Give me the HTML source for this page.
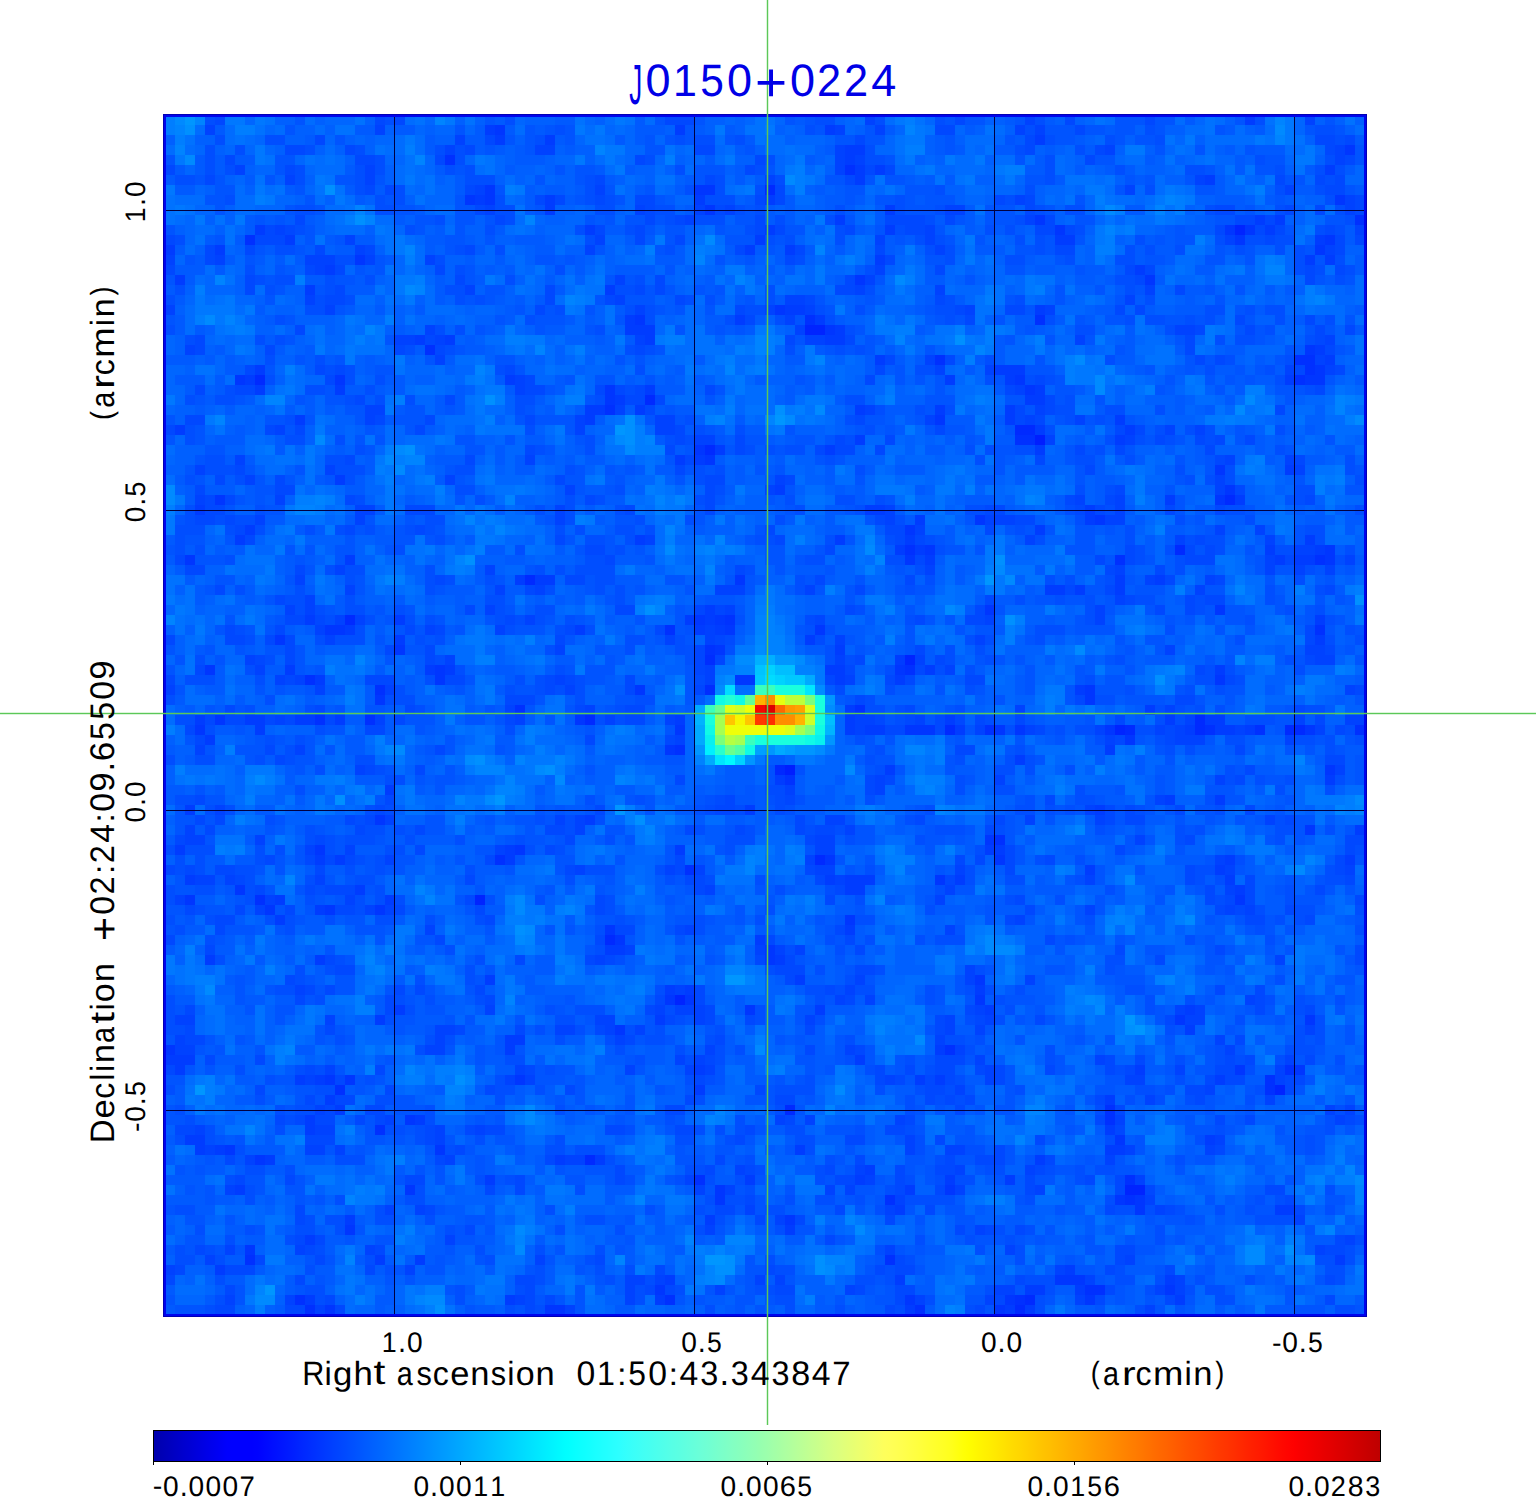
<!DOCTYPE html>
<html><head><meta charset="utf-8"><style>
html,body{margin:0;padding:0;background:#fff;width:1536px;height:1500px;overflow:hidden}
svg{position:absolute;left:0;top:0;display:block}
text{font-family:"Liberation Sans",sans-serif;white-space:pre}
</style></head><body>
<svg width="1536" height="1500" viewBox="0 0 1536 1500" shape-rendering="crispEdges">
<defs><linearGradient id="jet" x1="0" x2="1" y1="0" y2="0"><stop offset="0.000" stop-color="#0000ad"/><stop offset="0.005" stop-color="#0000b3"/><stop offset="0.010" stop-color="#0000ba"/><stop offset="0.015" stop-color="#0000c1"/><stop offset="0.020" stop-color="#0000c8"/><stop offset="0.025" stop-color="#0000cf"/><stop offset="0.030" stop-color="#0000d5"/><stop offset="0.035" stop-color="#0000dc"/><stop offset="0.040" stop-color="#0000e3"/><stop offset="0.045" stop-color="#0000ea"/><stop offset="0.050" stop-color="#0000f0"/><stop offset="0.055" stop-color="#0000f7"/><stop offset="0.060" stop-color="#0000fe"/><stop offset="0.065" stop-color="#0000ff"/><stop offset="0.070" stop-color="#0000ff"/><stop offset="0.075" stop-color="#0000ff"/><stop offset="0.080" stop-color="#0000ff"/><stop offset="0.085" stop-color="#0002ff"/><stop offset="0.090" stop-color="#0007ff"/><stop offset="0.095" stop-color="#000cff"/><stop offset="0.100" stop-color="#0011ff"/><stop offset="0.105" stop-color="#0016ff"/><stop offset="0.110" stop-color="#001bff"/><stop offset="0.115" stop-color="#0020ff"/><stop offset="0.120" stop-color="#0026ff"/><stop offset="0.125" stop-color="#002bff"/><stop offset="0.130" stop-color="#0030ff"/><stop offset="0.135" stop-color="#0035ff"/><stop offset="0.140" stop-color="#003aff"/><stop offset="0.145" stop-color="#003fff"/><stop offset="0.150" stop-color="#0044ff"/><stop offset="0.155" stop-color="#0049ff"/><stop offset="0.160" stop-color="#004eff"/><stop offset="0.165" stop-color="#0053ff"/><stop offset="0.170" stop-color="#0058ff"/><stop offset="0.175" stop-color="#005dff"/><stop offset="0.180" stop-color="#0062ff"/><stop offset="0.185" stop-color="#0067ff"/><stop offset="0.190" stop-color="#006cff"/><stop offset="0.195" stop-color="#0071ff"/><stop offset="0.200" stop-color="#0076ff"/><stop offset="0.205" stop-color="#007bff"/><stop offset="0.210" stop-color="#0080ff"/><stop offset="0.215" stop-color="#0085ff"/><stop offset="0.220" stop-color="#008aff"/><stop offset="0.225" stop-color="#008fff"/><stop offset="0.230" stop-color="#0094ff"/><stop offset="0.235" stop-color="#0099ff"/><stop offset="0.240" stop-color="#009eff"/><stop offset="0.245" stop-color="#00a3ff"/><stop offset="0.250" stop-color="#00a8ff"/><stop offset="0.255" stop-color="#00adff"/><stop offset="0.260" stop-color="#00b2ff"/><stop offset="0.265" stop-color="#00b7ff"/><stop offset="0.270" stop-color="#00bcff"/><stop offset="0.275" stop-color="#00c1ff"/><stop offset="0.280" stop-color="#00c6ff"/><stop offset="0.285" stop-color="#00cbff"/><stop offset="0.290" stop-color="#00d0ff"/><stop offset="0.295" stop-color="#00d5ff"/><stop offset="0.300" stop-color="#00daff"/><stop offset="0.305" stop-color="#00dfff"/><stop offset="0.310" stop-color="#00e4ff"/><stop offset="0.315" stop-color="#00e9ff"/><stop offset="0.320" stop-color="#00eeff"/><stop offset="0.325" stop-color="#00f3ff"/><stop offset="0.330" stop-color="#00f8ff"/><stop offset="0.335" stop-color="#00fdff"/><stop offset="0.340" stop-color="#03ffff"/><stop offset="0.345" stop-color="#09ffff"/><stop offset="0.350" stop-color="#0effff"/><stop offset="0.355" stop-color="#13ffff"/><stop offset="0.360" stop-color="#19ffff"/><stop offset="0.365" stop-color="#1effff"/><stop offset="0.370" stop-color="#23ffff"/><stop offset="0.375" stop-color="#29ffff"/><stop offset="0.380" stop-color="#2effff"/><stop offset="0.385" stop-color="#34fffc"/><stop offset="0.390" stop-color="#39fff9"/><stop offset="0.395" stop-color="#3efff6"/><stop offset="0.400" stop-color="#43fff3"/><stop offset="0.405" stop-color="#47fff0"/><stop offset="0.410" stop-color="#4cffed"/><stop offset="0.415" stop-color="#50ffea"/><stop offset="0.420" stop-color="#55ffe7"/><stop offset="0.425" stop-color="#59ffe4"/><stop offset="0.430" stop-color="#5dffe1"/><stop offset="0.435" stop-color="#62ffde"/><stop offset="0.440" stop-color="#66ffdb"/><stop offset="0.445" stop-color="#6bffd8"/><stop offset="0.450" stop-color="#6fffd4"/><stop offset="0.455" stop-color="#73ffd0"/><stop offset="0.460" stop-color="#78ffcc"/><stop offset="0.465" stop-color="#7cffc8"/><stop offset="0.470" stop-color="#81ffc4"/><stop offset="0.475" stop-color="#85ffc0"/><stop offset="0.480" stop-color="#89ffbc"/><stop offset="0.485" stop-color="#8effb8"/><stop offset="0.490" stop-color="#92ffb4"/><stop offset="0.495" stop-color="#97ffaf"/><stop offset="0.500" stop-color="#9cffac"/><stop offset="0.505" stop-color="#a2ffa8"/><stop offset="0.510" stop-color="#a7ffa4"/><stop offset="0.515" stop-color="#adffa1"/><stop offset="0.520" stop-color="#b2ff9d"/><stop offset="0.525" stop-color="#b8ff99"/><stop offset="0.530" stop-color="#bdff95"/><stop offset="0.535" stop-color="#c3ff91"/><stop offset="0.540" stop-color="#c8ff8d"/><stop offset="0.545" stop-color="#ceff89"/><stop offset="0.550" stop-color="#d4ff85"/><stop offset="0.555" stop-color="#d9ff81"/><stop offset="0.560" stop-color="#deff7d"/><stop offset="0.565" stop-color="#e3ff78"/><stop offset="0.570" stop-color="#e7ff73"/><stop offset="0.575" stop-color="#ecff6f"/><stop offset="0.580" stop-color="#f0ff6a"/><stop offset="0.585" stop-color="#f5ff66"/><stop offset="0.590" stop-color="#f9ff61"/><stop offset="0.595" stop-color="#feff5c"/><stop offset="0.600" stop-color="#ffff58"/><stop offset="0.605" stop-color="#ffff53"/><stop offset="0.610" stop-color="#ffff4e"/><stop offset="0.615" stop-color="#ffff48"/><stop offset="0.620" stop-color="#ffff42"/><stop offset="0.625" stop-color="#ffff3c"/><stop offset="0.630" stop-color="#ffff35"/><stop offset="0.635" stop-color="#ffff2f"/><stop offset="0.640" stop-color="#ffff29"/><stop offset="0.645" stop-color="#ffff23"/><stop offset="0.650" stop-color="#ffff1c"/><stop offset="0.655" stop-color="#ffff11"/><stop offset="0.660" stop-color="#ffff06"/><stop offset="0.665" stop-color="#fffd00"/><stop offset="0.670" stop-color="#fff800"/><stop offset="0.675" stop-color="#fff300"/><stop offset="0.680" stop-color="#ffef00"/><stop offset="0.685" stop-color="#ffea00"/><stop offset="0.690" stop-color="#ffe500"/><stop offset="0.695" stop-color="#ffe000"/><stop offset="0.700" stop-color="#ffdb00"/><stop offset="0.705" stop-color="#ffd700"/><stop offset="0.710" stop-color="#ffd200"/><stop offset="0.715" stop-color="#ffcd00"/><stop offset="0.720" stop-color="#ffc800"/><stop offset="0.725" stop-color="#ffc300"/><stop offset="0.730" stop-color="#ffbf00"/><stop offset="0.735" stop-color="#ffba00"/><stop offset="0.740" stop-color="#ffb500"/><stop offset="0.745" stop-color="#ffb000"/><stop offset="0.750" stop-color="#ffab00"/><stop offset="0.755" stop-color="#ffa700"/><stop offset="0.760" stop-color="#ffa200"/><stop offset="0.765" stop-color="#ff9d00"/><stop offset="0.770" stop-color="#ff9800"/><stop offset="0.775" stop-color="#ff9400"/><stop offset="0.780" stop-color="#ff8f00"/><stop offset="0.785" stop-color="#ff8a00"/><stop offset="0.790" stop-color="#ff8500"/><stop offset="0.795" stop-color="#ff8000"/><stop offset="0.800" stop-color="#ff7c00"/><stop offset="0.805" stop-color="#ff7700"/><stop offset="0.810" stop-color="#ff7200"/><stop offset="0.815" stop-color="#ff6d00"/><stop offset="0.820" stop-color="#ff6800"/><stop offset="0.825" stop-color="#ff6400"/><stop offset="0.830" stop-color="#ff5f00"/><stop offset="0.835" stop-color="#ff5a00"/><stop offset="0.840" stop-color="#ff5500"/><stop offset="0.845" stop-color="#ff5000"/><stop offset="0.850" stop-color="#ff4c00"/><stop offset="0.855" stop-color="#ff4700"/><stop offset="0.860" stop-color="#ff4200"/><stop offset="0.865" stop-color="#ff3d00"/><stop offset="0.870" stop-color="#ff3800"/><stop offset="0.875" stop-color="#ff3400"/><stop offset="0.880" stop-color="#ff2f00"/><stop offset="0.885" stop-color="#ff2a00"/><stop offset="0.890" stop-color="#ff2500"/><stop offset="0.895" stop-color="#ff2000"/><stop offset="0.900" stop-color="#ff1c00"/><stop offset="0.905" stop-color="#ff1700"/><stop offset="0.910" stop-color="#ff1200"/><stop offset="0.915" stop-color="#ff0d00"/><stop offset="0.920" stop-color="#ff0800"/><stop offset="0.925" stop-color="#ff0400"/><stop offset="0.930" stop-color="#fe0000"/><stop offset="0.935" stop-color="#f90000"/><stop offset="0.940" stop-color="#f50000"/><stop offset="0.945" stop-color="#f00000"/><stop offset="0.950" stop-color="#ec0000"/><stop offset="0.955" stop-color="#e70000"/><stop offset="0.960" stop-color="#e30000"/><stop offset="0.965" stop-color="#de0000"/><stop offset="0.970" stop-color="#da0000"/><stop offset="0.975" stop-color="#d50000"/><stop offset="0.980" stop-color="#d00000"/><stop offset="0.985" stop-color="#cc0000"/><stop offset="0.990" stop-color="#c70000"/><stop offset="0.995" stop-color="#c30000"/><stop offset="1.000" stop-color="#be0000"/></linearGradient></defs>
<g>
<path fill="#007eff" d="M165 115h10v10h-10zM905 115h10v10h-10zM165 125h10v10h-10zM235 125h20v10h-20zM175 135h10v10h-10zM405 145h10v10h-10zM905 145h20v10h-20zM665 155h10v10h-10zM795 165h10v10h-10zM1005 165h20v10h-20zM795 175h10v10h-10zM505 185h10v10h-10zM795 185h10v10h-10zM1255 185h10v10h-10zM255 195h10v10h-10zM1095 195h10v10h-10zM1175 195h10v10h-10zM1115 205h10v10h-10zM1175 205h10v10h-10zM345 215h10v10h-10zM1125 225h10v10h-10zM1105 235h10v10h-10zM1195 235h10v10h-10zM645 245h10v10h-10zM695 245h10v10h-10zM1095 245h20v10h-20zM405 255h10v10h-10zM845 255h10v10h-10zM1265 255h10v10h-10zM295 275h10v10h-10zM415 275h10v10h-10zM905 275h10v10h-10zM195 285h10v10h-10zM1035 285h10v10h-10zM1305 285h10v10h-10zM575 295h10v10h-10zM985 295h10v10h-10zM1305 295h10v10h-10zM195 315h10v10h-10zM385 315h10v10h-10zM875 315h10v10h-10zM235 325h10v10h-10zM895 325h20v10h-20zM955 325h10v10h-10zM985 325h10v10h-10zM355 335h10v10h-10zM505 335h20v10h-20zM665 335h20v10h-20zM765 335h10v10h-10zM985 335h10v10h-10zM1035 335h10v10h-10zM575 345h10v10h-10zM735 345h10v10h-10zM765 345h10v10h-10zM725 355h10v10h-10zM965 355h10v10h-10zM1065 355h10v10h-10zM285 365h10v10h-10zM755 365h10v10h-10zM1065 365h10v10h-10zM1105 365h10v10h-10zM475 375h10v10h-10zM1065 375h10v10h-10zM1115 375h10v10h-10zM1145 385h10v10h-10zM1245 385h20v10h-20zM395 395h10v10h-10zM495 395h10v10h-10zM565 395h20v10h-20zM885 395h10v10h-10zM975 395h10v10h-10zM1345 395h10v10h-10zM725 405h10v10h-10zM795 405h10v10h-10zM1265 405h10v10h-10zM485 415h10v10h-10zM705 415h10v10h-10zM1225 415h10v10h-10zM1345 415h10v10h-10zM635 425h10v10h-10zM635 435h10v10h-10zM385 445h10v10h-10zM635 445h30v10h-30zM395 455h10v10h-10zM1255 455h10v10h-10zM375 465h10v10h-10zM1245 465h10v10h-10zM385 475h10v10h-10zM425 475h10v10h-10zM1315 475h10v10h-10zM1335 475h10v10h-10zM435 485h10v10h-10zM645 485h10v10h-10zM965 485h10v10h-10zM1315 485h10v10h-10zM295 495h20v10h-20zM325 495h10v10h-10zM905 495h10v10h-10zM1035 495h10v10h-10zM1135 495h10v10h-10zM165 505h10v10h-10zM315 505h10v10h-10zM655 505h10v10h-10zM485 515h10v10h-10zM575 515h10v10h-10zM475 525h10v10h-10zM1155 525h10v10h-10zM665 535h10v10h-10zM795 535h10v10h-10zM475 545h10v10h-10zM695 545h10v10h-10zM725 545h10v10h-10zM455 565h10v10h-10zM865 565h10v10h-10zM985 565h10v10h-10zM395 575h10v10h-10zM825 585h10v10h-10zM1175 585h10v10h-10zM1295 585h10v10h-10zM1355 585h10v10h-10zM655 595h10v10h-10zM635 605h10v10h-10zM885 605h10v10h-10zM955 605h10v10h-10zM1015 615h10v10h-10zM1005 625h10v10h-10zM1135 625h10v10h-10zM525 635h10v10h-10zM885 635h10v10h-10zM1005 635h10v10h-10zM475 655h20v10h-20zM1255 655h20v10h-20zM325 665h10v10h-10zM1165 665h10v10h-10zM1335 665h10v10h-10zM865 685h10v10h-10zM1155 685h10v10h-10zM1295 685h10v10h-10zM345 695h10v10h-10zM1045 695h10v10h-10zM1045 705h10v10h-10zM165 725h10v10h-10zM525 725h10v10h-10zM615 725h10v10h-10zM375 735h10v10h-10zM525 735h10v10h-10zM225 745h10v10h-10zM535 745h10v10h-10zM935 745h10v10h-10zM1135 745h10v10h-10zM485 755h10v10h-10zM935 755h10v10h-10zM175 765h10v10h-10zM555 765h10v10h-10zM1095 765h10v10h-10zM245 775h10v10h-10zM265 775h10v10h-10zM335 775h10v10h-10zM625 775h10v10h-10zM925 775h20v10h-20zM355 785h10v10h-10zM515 785h10v10h-10zM915 785h10v10h-10zM1055 785h10v10h-10zM245 795h10v10h-10zM365 795h10v10h-10zM505 795h10v10h-10zM1345 795h10v10h-10zM495 805h10v10h-10zM625 805h10v10h-10zM865 805h10v10h-10zM945 805h10v10h-10zM1345 805h10v10h-10zM235 815h10v10h-10zM455 815h10v10h-10zM625 815h10v10h-10zM665 815h10v10h-10zM645 835h10v10h-10zM1225 835h10v10h-10zM215 845h10v10h-10zM235 845h10v10h-10zM755 845h10v10h-10zM785 845h10v10h-10zM945 845h10v10h-10zM1155 845h10v10h-10zM755 855h10v10h-10zM795 855h10v10h-10zM885 855h30v10h-30zM1055 865h10v10h-10zM1285 865h10v10h-10zM635 885h10v10h-10zM505 895h10v10h-10zM805 895h10v10h-10zM555 905h10v10h-10zM895 905h10v10h-10zM1115 905h10v10h-10zM1135 905h10v10h-10zM1175 905h10v10h-10zM505 915h20v10h-20zM535 915h10v10h-10zM1105 915h10v10h-10zM1125 915h10v10h-10zM1175 915h10v10h-10zM985 925h10v10h-10zM975 935h10v10h-10zM995 935h10v10h-10zM185 945h10v10h-10zM365 945h10v10h-10zM385 945h10v10h-10zM525 945h10v10h-10zM735 945h10v10h-10zM1015 945h10v10h-10zM555 955h10v10h-10zM1245 955h10v10h-10zM265 965h10v10h-10zM365 965h10v10h-10zM425 965h10v10h-10zM565 965h10v10h-10zM1005 965h10v10h-10zM1085 965h10v10h-10zM195 975h20v10h-20zM555 975h10v10h-10zM1155 975h10v10h-10zM635 985h10v10h-10zM1065 985h10v10h-10zM1185 985h10v10h-10zM355 995h10v10h-10zM1075 995h10v10h-10zM355 1005h20v10h-20zM1065 1005h10v10h-10zM1115 1005h10v10h-10zM875 1015h20v10h-20zM1135 1015h10v10h-10zM755 1035h10v10h-10zM1115 1035h10v10h-10zM1145 1035h10v10h-10zM275 1045h10v10h-10zM595 1045h10v10h-10zM885 1045h10v10h-10zM275 1055h10v10h-10zM1265 1055h10v10h-10zM365 1065h10v10h-10zM435 1065h20v10h-20zM465 1065h10v10h-10zM775 1065h10v10h-10zM1025 1065h10v10h-10zM205 1075h10v10h-10zM405 1075h20v10h-20zM435 1075h10v10h-10zM205 1085h10v10h-10zM1315 1085h10v10h-10zM205 1095h10v10h-10zM445 1095h10v10h-10zM1035 1095h10v10h-10zM515 1115h10v10h-10zM535 1115h10v10h-10zM715 1115h10v10h-10zM1025 1115h10v10h-10zM345 1125h10v10h-10zM1165 1125h10v10h-10zM295 1135h10v10h-10zM655 1135h10v10h-10zM1145 1135h30v10h-30zM625 1145h10v10h-10zM645 1145h20v10h-20zM395 1155h10v10h-10zM1335 1155h10v10h-10zM1325 1165h10v10h-10zM1225 1175h10v10h-10zM1305 1175h10v10h-10zM1335 1175h20v10h-20zM355 1185h10v10h-10zM375 1185h10v10h-10zM985 1195h20v10h-20zM1305 1195h10v10h-10zM565 1205h10v10h-10zM815 1215h10v10h-10zM405 1225h10v10h-10zM525 1225h10v10h-10zM1245 1225h10v10h-10zM395 1235h10v10h-10zM1255 1235h10v10h-10zM1285 1235h10v10h-10zM695 1245h10v10h-10zM735 1245h10v10h-10zM845 1255h10v10h-10zM1185 1255h10v10h-10zM845 1265h10v10h-10zM695 1275h10v10h-10zM425 1285h20v10h-20zM355 1295h10v10h-10zM805 1295h10v10h-10zM255 1305h10v10h-10zM425 1305h10v10h-10zM955 1305h10v10h-10z"/>
<path fill="#008aff" d="M175 115h10v10h-10zM1275 125h10v10h-10zM185 155h10v10h-10zM785 175h10v10h-10zM1105 205h10v10h-10zM705 235h10v10h-10zM895 275h10v10h-10zM405 285h10v10h-10zM205 315h10v10h-10zM1075 355h10v10h-10zM1095 375h10v10h-10zM1095 385h10v10h-10zM1245 395h10v10h-10zM815 405h10v10h-10zM1235 405h10v10h-10zM785 415h10v10h-10zM1355 415h10v10h-10zM315 435h10v10h-10zM615 435h10v10h-10zM395 445h10v10h-10zM625 445h10v10h-10zM385 455h10v10h-10zM395 465h10v10h-10zM165 485h10v10h-10zM165 495h10v10h-10zM665 545h10v10h-10zM865 545h10v10h-10zM995 565h10v10h-10zM1005 575h10v10h-10zM945 605h10v10h-10zM1075 645h10v10h-10zM395 745h10v10h-10zM465 755h10v10h-10zM535 765h10v10h-10zM845 765h10v10h-10zM255 775h10v10h-10zM555 775h10v10h-10zM485 795h10v10h-10zM1355 795h10v10h-10zM1295 865h10v10h-10zM1125 875h10v10h-10zM515 895h10v10h-10zM515 905h10v10h-10zM1185 915h10v10h-10zM525 925h10v10h-10zM515 935h10v10h-10zM985 935h10v10h-10zM985 945h30v10h-30zM205 985h10v10h-10zM1085 995h10v10h-10zM1095 1005h10v10h-10zM915 1035h10v10h-10zM755 1045h10v10h-10zM835 1085h10v10h-10zM525 1105h10v10h-10zM525 1115h10v10h-10zM1355 1175h10v10h-10zM515 1225h10v10h-10zM855 1225h10v10h-10zM515 1245h10v10h-10zM1245 1245h20v10h-20zM1245 1255h20v10h-20zM1305 1255h10v10h-10zM825 1265h10v10h-10zM715 1275h10v10h-10zM255 1295h20v10h-20zM425 1295h20v10h-20z"/>
<path fill="#0096ff" d="M185 115h10v10h-10zM775 415h10v10h-10zM615 425h10v10h-10zM985 575h10v10h-10zM775 655h20v10h-20zM825 695h10v10h-10zM825 735h10v10h-10zM695 745h10v10h-10zM765 745h10v10h-10zM795 745h20v10h-20zM745 755h10v10h-10zM495 795h10v10h-10zM615 805h10v10h-10zM725 975h20v10h-20zM1125 1015h10v10h-10zM1135 1025h10v10h-10zM195 1085h10v10h-10zM705 1255h20v10h-20zM265 1285h10v10h-10z"/>
<path fill="#0084ff" d="M195 115h10v10h-10zM435 115h10v10h-10zM1275 115h10v10h-10zM175 125h10v10h-10zM905 125h10v10h-10zM1275 135h10v10h-10zM175 145h10v10h-10zM595 145h10v10h-10zM415 155h10v10h-10zM1165 195h10v10h-10zM355 205h10v10h-10zM1155 205h10v10h-10zM365 215h10v10h-10zM525 215h10v10h-10zM1105 225h10v10h-10zM405 245h10v10h-10zM815 245h10v10h-10zM695 255h10v10h-10zM1265 265h20v10h-20zM215 275h10v10h-10zM735 275h10v10h-10zM415 285h10v10h-10zM565 295h10v10h-10zM1315 295h10v10h-10zM225 315h10v10h-10zM365 325h10v10h-10zM755 335h10v10h-10zM895 335h10v10h-10zM535 345h10v10h-10zM755 345h10v10h-10zM975 345h10v10h-10zM815 355h10v10h-10zM475 365h10v10h-10zM725 365h10v10h-10zM265 395h20v10h-20zM1335 395h10v10h-10zM1335 405h10v10h-10zM215 415h10v10h-10zM715 415h10v10h-10zM765 415h10v10h-10zM645 435h10v10h-10zM405 455h20v10h-20zM315 495h10v10h-10zM505 495h10v10h-10zM655 495h10v10h-10zM675 495h10v10h-10zM1025 495h10v10h-10zM295 505h20v10h-20zM465 515h10v10h-10zM495 525h10v10h-10zM665 525h10v10h-10zM715 535h10v10h-10zM865 535h10v10h-10zM705 545h10v10h-10zM455 555h10v10h-10zM875 555h10v10h-10zM705 565h10v10h-10zM385 575h10v10h-10zM1235 585h10v10h-10zM655 605h10v10h-10zM165 615h10v10h-10zM355 655h10v10h-10zM1235 655h10v10h-10zM1175 665h10v10h-10zM385 745h10v10h-10zM905 745h20v10h-20zM515 755h10v10h-10zM555 755h10v10h-10zM1295 755h10v10h-10zM475 765h30v10h-30zM505 775h10v10h-10zM615 775h10v10h-10zM915 775h10v10h-10zM495 785h20v10h-20zM925 785h10v10h-10zM455 795h10v10h-10zM935 805h10v10h-10zM1335 805h10v10h-10zM1355 805h10v10h-10zM645 825h10v10h-10zM1075 825h10v10h-10zM885 845h10v10h-10zM745 855h10v10h-10zM1305 855h10v10h-10zM745 865h10v10h-10zM895 865h10v10h-10zM285 875h10v10h-10zM415 885h10v10h-10zM425 895h10v10h-10zM875 895h10v10h-10zM565 905h10v10h-10zM1115 915h10v10h-10zM1105 925h10v10h-10zM1125 925h10v10h-10zM525 935h10v10h-10zM965 945h10v10h-10zM365 955h10v10h-10zM375 965h10v10h-10zM725 965h20v10h-20zM745 975h10v10h-10zM1165 975h10v10h-10zM505 995h10v10h-10zM1095 995h10v10h-10zM875 1025h10v10h-10zM1145 1025h10v10h-10zM285 1045h10v10h-10zM405 1065h10v10h-10zM455 1065h10v10h-10zM465 1075h10v10h-10zM445 1085h20v10h-20zM715 1105h10v10h-10zM825 1105h10v10h-10zM1025 1105h20v10h-20zM705 1115h10v10h-10zM245 1125h10v10h-10zM1015 1135h10v10h-10zM1345 1165h10v10h-10zM1315 1175h10v10h-10zM1355 1185h10v10h-10zM345 1195h10v10h-10zM635 1195h10v10h-10zM1355 1195h10v10h-10zM845 1215h10v10h-10zM1325 1225h10v10h-10zM515 1235h10v10h-10zM685 1235h10v10h-10zM725 1235h30v10h-30zM715 1245h10v10h-10zM345 1255h10v10h-10zM615 1255h10v10h-10zM825 1255h20v10h-20zM1285 1255h20v10h-20zM705 1265h10v10h-10zM705 1275h10v10h-10zM255 1285h10v10h-10zM415 1295h10v10h-10zM945 1305h10v10h-10z"/>
<path fill="#004eff" d="M205 115h10v10h-10zM385 115h10v10h-10zM505 115h10v10h-10zM815 115h20v10h-20zM875 115h10v10h-10zM935 115h10v10h-10zM1035 115h10v10h-10zM1255 115h10v10h-10zM555 125h10v10h-10zM805 125h10v10h-10zM1025 125h10v10h-10zM1145 125h10v10h-10zM1315 125h20v10h-20zM215 135h10v10h-10zM265 135h20v10h-20zM535 135h10v10h-10zM675 135h10v10h-10zM695 135h20v10h-20zM735 135h10v10h-10zM1045 135h10v10h-10zM1105 135h10v10h-10zM1155 135h10v10h-10zM1335 135h10v10h-10zM205 145h10v10h-10zM235 145h10v10h-10zM305 145h10v10h-10zM355 145h10v10h-10zM435 145h10v10h-10zM455 145h10v10h-10zM865 145h10v10h-10zM1015 145h10v10h-10zM1075 145h10v10h-10zM205 155h10v10h-10zM375 155h10v10h-10zM455 155h10v10h-10zM645 155h10v10h-10zM765 155h10v10h-10zM865 155h20v10h-20zM1045 155h10v10h-10zM1255 155h10v10h-10zM1325 155h10v10h-10zM205 165h10v10h-10zM225 165h10v10h-10zM295 165h10v10h-10zM355 165h10v10h-10zM375 165h10v10h-10zM445 165h10v10h-10zM465 165h10v10h-10zM675 165h10v10h-10zM755 165h10v10h-10zM1045 165h10v10h-10zM1115 165h10v10h-10zM1185 165h20v10h-20zM1275 165h10v10h-10zM1315 165h10v10h-10zM1335 165h10v10h-10zM175 175h20v10h-20zM295 175h10v10h-10zM355 175h10v10h-10zM465 175h30v10h-30zM585 175h10v10h-10zM715 175h10v10h-10zM775 175h10v10h-10zM1045 175h10v10h-10zM1325 175h10v10h-10zM355 185h10v10h-10zM395 185h10v10h-10zM585 185h10v10h-10zM685 185h10v10h-10zM715 185h10v10h-10zM755 185h10v10h-10zM935 185h10v10h-10zM1025 185h10v10h-10zM1145 185h10v10h-10zM1275 185h10v10h-10zM1315 185h10v10h-10zM225 195h10v10h-10zM375 195h10v10h-10zM395 195h10v10h-10zM495 195h10v10h-10zM585 195h10v10h-10zM605 195h10v10h-10zM705 195h30v10h-30zM895 195h10v10h-10zM1005 195h10v10h-10zM1325 195h10v10h-10zM295 205h20v10h-20zM375 205h20v10h-20zM495 205h20v10h-20zM595 205h20v10h-20zM655 205h20v10h-20zM735 205h10v10h-10zM755 205h10v10h-10zM835 205h10v10h-10zM895 205h10v10h-10zM935 205h10v10h-10zM1035 205h10v10h-10zM1065 205h20v10h-20zM1205 205h10v10h-10zM1275 205h10v10h-10zM1335 205h10v10h-10zM435 215h10v10h-10zM505 215h10v10h-10zM665 215h10v10h-10zM695 215h30v10h-30zM775 215h10v10h-10zM825 215h10v10h-10zM925 215h10v10h-10zM1015 215h10v10h-10zM1345 215h10v10h-10zM295 225h10v10h-10zM405 225h10v10h-10zM485 225h10v10h-10zM575 225h10v10h-10zM625 225h10v10h-10zM745 225h10v10h-10zM835 225h10v10h-10zM895 225h10v10h-10zM985 225h10v10h-10zM1005 225h10v10h-10zM1075 225h10v10h-10zM1315 225h10v10h-10zM1335 225h10v10h-10zM175 235h10v10h-10zM585 235h10v10h-10zM765 235h10v10h-10zM785 235h10v10h-10zM835 235h10v10h-10zM915 235h10v10h-10zM935 235h10v10h-10zM1015 235h10v10h-10zM1035 235h10v10h-10zM1135 235h10v10h-10zM1215 235h10v10h-10zM1245 235h20v10h-20zM1275 235h20v10h-20zM275 245h20v10h-20zM455 245h10v10h-10zM495 245h10v10h-10zM665 245h10v10h-10zM925 245h10v10h-10zM945 245h10v10h-10zM1035 245h10v10h-10zM1125 245h10v10h-10zM1145 245h10v10h-10zM1175 245h10v10h-10zM1235 245h10v10h-10zM1275 245h10v10h-10zM1295 245h10v10h-10zM335 255h20v10h-20zM435 255h10v10h-10zM795 255h10v10h-10zM945 255h10v10h-10zM1005 255h20v10h-20zM1065 255h10v10h-10zM1115 255h20v10h-20zM1295 255h10v10h-10zM1335 255h10v10h-10zM245 265h10v10h-10zM455 265h10v10h-10zM555 265h10v10h-10zM865 265h10v10h-10zM1295 265h10v10h-10zM1315 265h10v10h-10zM1345 265h10v10h-10zM255 275h10v10h-10zM275 275h20v10h-20zM325 275h10v10h-10zM365 275h10v10h-10zM505 275h10v10h-10zM635 275h10v10h-10zM1115 275h20v10h-20zM1335 275h10v10h-10zM175 285h10v10h-10zM265 285h10v10h-10zM325 285h10v10h-10zM445 285h20v10h-20zM615 285h20v10h-20zM765 285h10v10h-10zM865 285h10v10h-10zM1125 285h10v10h-10zM165 295h10v10h-10zM315 295h10v10h-10zM345 295h10v10h-10zM455 295h10v10h-10zM475 295h10v10h-10zM685 295h10v10h-10zM705 295h10v10h-10zM765 295h10v10h-10zM945 295h10v10h-10zM1015 295h10v10h-10zM1145 295h10v10h-10zM305 305h20v10h-20zM555 305h10v10h-10zM625 305h10v10h-10zM645 305h10v10h-10zM745 305h20v10h-20zM815 305h10v10h-10zM855 305h10v10h-10zM935 305h20v10h-20zM1205 305h20v10h-20zM1245 305h10v10h-10zM1265 305h20v10h-20zM275 315h10v10h-10zM525 315h10v10h-10zM645 315h10v10h-10zM725 315h10v10h-10zM775 315h10v10h-10zM825 315h10v10h-10zM945 315h10v10h-10zM1045 315h10v10h-10zM1125 315h10v10h-10zM1145 315h20v10h-20zM1185 315h10v10h-10zM1205 315h10v10h-10zM1275 315h10v10h-10zM1325 315h10v10h-10zM165 325h10v10h-10zM435 325h10v10h-10zM455 325h10v10h-10zM595 325h10v10h-10zM845 325h10v10h-10zM1075 325h20v10h-20zM1165 325h10v10h-10zM1265 325h10v10h-10zM185 335h10v10h-10zM255 335h10v10h-10zM275 335h10v10h-10zM1215 335h10v10h-10zM1235 335h20v10h-20zM1305 335h10v10h-10zM405 345h10v10h-10zM445 345h10v10h-10zM625 345h10v10h-10zM645 345h10v10h-10zM785 345h10v10h-10zM835 345h10v10h-10zM855 345h10v10h-10zM265 355h10v10h-10zM315 355h10v10h-10zM985 355h10v10h-10zM1105 355h10v10h-10zM1225 355h10v10h-10zM1285 355h10v10h-10zM325 365h10v10h-10zM345 365h10v10h-10zM495 365h10v10h-10zM635 365h10v10h-10zM915 365h20v10h-20zM1205 365h10v10h-10zM1265 365h10v10h-10zM265 375h10v10h-10zM345 375h10v10h-10zM375 375h10v10h-10zM985 375h10v10h-10zM1025 375h10v10h-10zM1045 375h10v10h-10zM1275 375h10v10h-10zM225 385h10v10h-10zM305 385h20v10h-20zM365 385h10v10h-10zM625 385h10v10h-10zM1305 385h10v10h-10zM185 395h10v10h-10zM215 395h20v10h-20zM345 395h10v10h-10zM375 395h10v10h-10zM405 395h10v10h-10zM515 395h20v10h-20zM595 395h10v10h-10zM845 395h20v10h-20zM1065 395h10v10h-10zM515 405h10v10h-10zM875 405h10v10h-10zM915 405h10v10h-10zM945 405h10v10h-10zM1055 405h20v10h-20zM1105 405h20v10h-20zM1155 405h10v10h-10zM285 415h10v10h-10zM685 415h10v10h-10zM845 415h10v10h-10zM1065 415h10v10h-10zM1095 415h10v10h-10zM185 425h10v10h-10zM525 425h10v10h-10zM695 425h10v10h-10zM735 425h10v10h-10zM865 425h10v10h-10zM1045 425h10v10h-10zM1155 425h10v10h-10zM1185 425h10v10h-10zM1205 425h10v10h-10zM1275 425h10v10h-10zM185 435h10v10h-10zM285 435h20v10h-20zM335 435h10v10h-10zM585 435h10v10h-10zM665 435h10v10h-10zM685 435h10v10h-10zM845 435h10v10h-10zM1105 435h10v10h-10zM1135 435h10v10h-10zM1165 435h10v10h-10zM1205 435h10v10h-10zM355 445h10v10h-10zM535 445h10v10h-10zM585 445h10v10h-10zM745 445h10v10h-10zM765 445h10v10h-10zM785 445h20v10h-20zM965 445h10v10h-10zM985 445h10v10h-10zM1015 445h20v10h-20zM1095 445h10v10h-10zM1275 445h10v10h-10zM205 455h20v10h-20zM325 455h20v10h-20zM825 455h10v10h-10zM975 455h10v10h-10zM1075 455h20v10h-20zM1125 455h10v10h-10zM1345 455h10v10h-10zM205 465h30v10h-30zM335 465h30v10h-30zM455 465h20v10h-20zM565 465h10v10h-10zM695 465h10v10h-10zM715 465h10v10h-10zM855 465h10v10h-10zM1175 465h10v10h-10zM1225 465h10v10h-10zM1345 465h10v10h-10zM185 475h10v10h-10zM235 475h10v10h-10zM345 475h10v10h-10zM695 475h10v10h-10zM1185 475h10v10h-10zM1205 475h10v10h-10zM1225 475h10v10h-10zM1355 475h10v10h-10zM455 485h20v10h-20zM615 485h10v10h-10zM715 485h10v10h-10zM1075 485h10v10h-10zM1105 485h10v10h-10zM1295 485h20v10h-20zM355 495h10v10h-10zM475 495h10v10h-10zM565 495h10v10h-10zM595 495h10v10h-10zM695 495h10v10h-10zM785 495h10v10h-10zM835 495h20v10h-20zM875 495h10v10h-10zM1295 495h10v10h-10zM185 505h10v10h-10zM255 505h10v10h-10zM535 505h10v10h-10zM565 505h10v10h-10zM615 505h10v10h-10zM795 505h10v10h-10zM855 505h10v10h-10zM965 505h20v10h-20zM1065 505h10v10h-10zM1105 505h10v10h-10zM1225 505h20v10h-20zM1355 505h10v10h-10zM185 515h10v10h-10zM215 515h10v10h-10zM235 515h20v10h-20zM425 515h20v10h-20zM565 515h10v10h-10zM635 515h10v10h-10zM685 515h10v10h-10zM775 515h10v10h-10zM895 515h10v10h-10zM1075 515h10v10h-10zM1175 515h10v10h-10zM1245 515h10v10h-10zM175 525h30v10h-30zM225 525h10v10h-10zM255 525h10v10h-10zM305 525h10v10h-10zM335 525h10v10h-10zM365 525h10v10h-10zM405 525h10v10h-10zM425 525h10v10h-10zM555 525h10v10h-10zM575 525h10v10h-10zM615 525h20v10h-20zM645 525h10v10h-10zM1015 525h10v10h-10zM1125 525h10v10h-10zM1305 525h20v10h-20zM175 535h10v10h-10zM435 535h10v10h-10zM585 535h20v10h-20zM625 535h10v10h-10zM755 535h20v10h-20zM825 535h10v10h-10zM885 535h10v10h-10zM925 535h10v10h-10zM1035 535h10v10h-10zM1125 535h10v10h-10zM1185 535h10v10h-10zM1205 535h20v10h-20zM1315 535h10v10h-10zM175 545h10v10h-10zM195 545h10v10h-10zM395 545h10v10h-10zM515 545h10v10h-10zM615 545h10v10h-10zM935 545h10v10h-10zM1135 545h10v10h-10zM1165 545h10v10h-10zM1215 545h10v10h-10zM1275 545h20v10h-20zM1345 545h10v10h-10zM225 555h10v10h-10zM585 555h20v10h-20zM805 555h20v10h-20zM885 555h20v10h-20zM1135 555h10v10h-10zM1175 555h10v10h-10zM1335 555h10v10h-10zM325 565h10v10h-10zM345 565h20v10h-20zM425 565h10v10h-10zM535 565h10v10h-10zM555 565h10v10h-10zM575 565h40v10h-40zM745 565h10v10h-10zM915 565h10v10h-10zM1175 565h10v10h-10zM1305 565h10v10h-10zM345 575h10v10h-10zM425 575h10v10h-10zM445 575h10v10h-10zM485 575h10v10h-10zM595 575h20v10h-20zM795 575h10v10h-10zM925 575h10v10h-10zM1045 575h10v10h-10zM1065 575h10v10h-10zM1105 575h10v10h-10zM1295 575h10v10h-10zM235 585h10v10h-10zM295 585h10v10h-10zM425 585h10v10h-10zM545 585h10v10h-10zM595 585h10v10h-10zM615 585h10v10h-10zM795 585h10v10h-10zM905 585h10v10h-10zM1265 585h10v10h-10zM1315 585h10v10h-10zM285 595h20v10h-20zM345 595h10v10h-10zM485 595h20v10h-20zM615 595h10v10h-10zM1015 595h10v10h-10zM1055 595h10v10h-10zM1085 595h10v10h-10zM1135 595h20v10h-20zM1195 595h10v10h-10zM1265 595h10v10h-10zM295 605h10v10h-10zM315 605h10v10h-10zM345 605h20v10h-20zM395 605h10v10h-10zM495 605h10v10h-10zM535 605h20v10h-20zM855 605h10v10h-10zM1085 605h10v10h-10zM1195 605h10v10h-10zM1285 605h10v10h-10zM1315 605h10v10h-10zM325 615h10v10h-10zM365 615h10v10h-10zM405 615h10v10h-10zM425 615h10v10h-10zM495 615h10v10h-10zM515 615h10v10h-10zM535 615h10v10h-10zM565 615h10v10h-10zM905 615h10v10h-10zM1085 615h10v10h-10zM1245 615h10v10h-10zM1325 615h10v10h-10zM235 625h10v10h-10zM355 625h10v10h-10zM505 625h10v10h-10zM555 625h10v10h-10zM585 625h10v10h-10zM1035 625h30v10h-30zM1165 625h10v10h-10zM1345 625h10v10h-10zM245 635h10v10h-10zM315 635h10v10h-10zM335 635h30v10h-30zM415 635h10v10h-10zM435 635h10v10h-10zM625 635h20v10h-20zM675 635h10v10h-10zM965 635h10v10h-10zM985 635h10v10h-10zM1035 635h10v10h-10zM1235 635h10v10h-10zM1325 635h10v10h-10zM1355 635h10v10h-10zM545 645h10v10h-10zM625 645h10v10h-10zM675 645h10v10h-10zM945 645h10v10h-10zM975 645h10v10h-10zM195 655h10v10h-10zM265 655h10v10h-10zM435 655h10v10h-10zM845 655h10v10h-10zM945 655h10v10h-10zM985 655h10v10h-10zM1115 655h10v10h-10zM1285 655h10v10h-10zM245 665h10v10h-10zM455 665h10v10h-10zM555 665h10v10h-10zM885 665h10v10h-10zM935 665h10v10h-10zM965 665h10v10h-10zM1205 665h10v10h-10zM1225 665h10v10h-10zM1295 665h10v10h-10zM185 675h30v10h-30zM255 675h10v10h-10zM425 675h10v10h-10zM515 675h10v10h-10zM535 675h10v10h-10zM575 675h10v10h-10zM1085 675h10v10h-10zM1195 675h20v10h-20zM1235 675h10v10h-10zM395 685h10v10h-10zM505 685h10v10h-10zM535 685h10v10h-10zM555 685h10v10h-10zM575 685h10v10h-10zM885 685h10v10h-10zM965 685h10v10h-10zM1125 685h10v10h-10zM1185 685h10v10h-10zM1215 685h10v10h-10zM165 695h10v10h-10zM265 695h10v10h-10zM385 695h30v10h-30zM575 695h10v10h-10zM635 695h20v10h-20zM865 695h10v10h-10zM1095 695h20v10h-20zM245 705h10v10h-10zM305 705h10v10h-10zM415 705h10v10h-10zM615 705h10v10h-10zM865 705h20v10h-20zM895 705h10v10h-10zM955 705h10v10h-10zM1155 705h10v10h-10zM1175 705h10v10h-10zM1195 705h10v10h-10zM1215 705h10v10h-10zM1305 705h20v10h-20zM175 715h20v10h-20zM595 715h10v10h-10zM615 715h10v10h-10zM895 715h10v10h-10zM985 715h10v10h-10zM1155 715h10v10h-10zM1175 715h10v10h-10zM1245 715h30v10h-30zM205 725h10v10h-10zM315 725h10v10h-10zM505 725h10v10h-10zM1005 725h10v10h-10zM1055 725h10v10h-10zM1075 725h20v10h-20zM1135 725h20v10h-20zM1345 725h10v10h-10zM265 735h10v10h-10zM295 735h10v10h-10zM855 735h10v10h-10zM1095 735h10v10h-10zM1155 735h10v10h-10zM1225 735h20v10h-20zM1295 735h20v10h-20zM1325 735h10v10h-10zM1355 735h10v10h-10zM285 745h10v10h-10zM875 745h10v10h-10zM1015 745h10v10h-10zM1165 745h10v10h-10zM1185 745h10v10h-10zM1325 745h10v10h-10zM165 755h10v10h-10zM195 755h20v10h-20zM255 755h10v10h-10zM285 755h10v10h-10zM355 755h20v10h-20zM865 755h10v10h-10zM955 755h10v10h-10zM1005 755h10v10h-10zM1025 755h10v10h-10zM315 765h10v10h-10zM375 765h10v10h-10zM875 765h10v10h-10zM995 765h20v10h-20zM1025 765h10v10h-10zM1065 765h10v10h-10zM1225 765h10v10h-10zM385 775h20v10h-20zM955 775h10v10h-10zM1225 775h10v10h-10zM1255 775h10v10h-10zM1285 775h10v10h-10zM1335 775h10v10h-10zM295 785h10v10h-10zM955 785h10v10h-10zM995 785h20v10h-20zM1075 785h10v10h-10zM1275 785h10v10h-10zM1325 785h10v10h-10zM175 795h20v10h-20zM585 795h10v10h-10zM635 795h10v10h-10zM865 795h10v10h-10zM1025 795h10v10h-10zM1075 795h20v10h-20zM1205 795h10v10h-10zM205 805h10v10h-10zM225 805h10v10h-10zM365 805h10v10h-10zM385 805h10v10h-10zM925 805h10v10h-10zM1015 805h20v10h-20zM1045 805h10v10h-10zM1065 805h10v10h-10zM1135 805h10v10h-10zM1215 805h10v10h-10zM265 815h10v10h-10zM355 815h10v10h-10zM535 815h10v10h-10zM565 815h10v10h-10zM595 815h10v10h-10zM905 815h10v10h-10zM1275 815h10v10h-10zM305 825h10v10h-10zM365 825h20v10h-20zM395 825h10v10h-10zM565 825h10v10h-10zM695 825h10v10h-10zM745 825h10v10h-10zM805 825h10v10h-10zM835 825h10v10h-10zM935 825h30v10h-30zM995 825h10v10h-10zM1095 825h10v10h-10zM1175 825h10v10h-10zM1195 825h10v10h-10zM1275 825h20v10h-20zM1325 825h10v10h-10zM305 835h10v10h-10zM325 835h10v10h-10zM345 835h30v10h-30zM405 835h10v10h-10zM455 835h10v10h-10zM515 835h10v10h-10zM605 835h10v10h-10zM725 835h30v10h-30zM845 835h10v10h-10zM915 835h10v10h-10zM1175 835h10v10h-10zM1275 835h10v10h-10zM165 845h10v10h-10zM185 845h30v10h-30zM255 845h10v10h-10zM275 845h10v10h-10zM325 845h10v10h-10zM385 845h20v10h-20zM525 845h10v10h-10zM555 845h10v10h-10zM725 845h10v10h-10zM975 845h10v10h-10zM1355 845h10v10h-10zM175 855h10v10h-10zM195 855h10v10h-10zM255 855h10v10h-10zM355 855h10v10h-10zM375 855h10v10h-10zM1035 855h10v10h-10zM1075 855h10v10h-10zM1235 855h10v10h-10zM175 865h10v10h-10zM195 865h10v10h-10zM235 865h20v10h-20zM345 865h10v10h-10zM375 865h10v10h-10zM465 865h10v10h-10zM585 865h30v10h-30zM655 865h10v10h-10zM865 865h10v10h-10zM965 865h10v10h-10zM1195 865h20v10h-20zM1325 865h10v10h-10zM245 875h10v10h-10zM305 875h10v10h-10zM355 875h20v10h-20zM565 875h10v10h-10zM665 875h10v10h-10zM705 875h10v10h-10zM755 875h10v10h-10zM965 875h10v10h-10zM1005 875h20v10h-20zM1075 875h10v10h-10zM1195 875h10v10h-10zM1215 875h10v10h-10zM1325 875h20v10h-20zM165 885h10v10h-10zM195 885h20v10h-20zM245 885h10v10h-10zM315 885h10v10h-10zM375 885h10v10h-10zM775 885h10v10h-10zM825 885h10v10h-10zM935 885h10v10h-10zM1105 885h10v10h-10zM1285 885h10v10h-10zM165 895h10v10h-10zM245 895h10v10h-10zM305 895h10v10h-10zM355 895h10v10h-10zM375 895h10v10h-10zM395 895h10v10h-10zM485 895h10v10h-10zM535 895h10v10h-10zM605 895h10v10h-10zM855 895h10v10h-10zM1005 895h10v10h-10zM1055 895h10v10h-10zM1215 895h10v10h-10zM1285 895h10v10h-10zM195 905h10v10h-10zM355 905h10v10h-10zM605 905h10v10h-10zM765 905h10v10h-10zM925 905h10v10h-10zM1255 905h10v10h-10zM1295 905h20v10h-20zM1355 905h10v10h-10zM165 915h10v10h-10zM205 915h10v10h-10zM265 915h10v10h-10zM285 915h10v10h-10zM325 915h10v10h-10zM375 915h20v10h-20zM425 915h10v10h-10zM475 915h10v10h-10zM615 915h10v10h-10zM695 915h10v10h-10zM755 915h10v10h-10zM855 915h20v10h-20zM1085 915h10v10h-10zM1275 915h10v10h-10zM1295 915h10v10h-10zM175 925h10v10h-10zM285 925h10v10h-10zM595 925h10v10h-10zM695 925h10v10h-10zM1255 925h10v10h-10zM1355 925h10v10h-10zM205 935h10v10h-10zM825 935h10v10h-10zM865 935h10v10h-10zM915 935h10v10h-10zM935 935h30v10h-30zM1065 935h10v10h-10zM1185 935h10v10h-10zM1265 935h10v10h-10zM445 945h10v10h-10zM595 945h10v10h-10zM785 945h10v10h-10zM835 945h10v10h-10zM215 955h10v10h-10zM335 955h10v10h-10zM475 955h10v10h-10zM615 955h10v10h-10zM1105 955h20v10h-20zM295 965h10v10h-10zM325 965h10v10h-10zM465 965h10v10h-10zM765 965h10v10h-10zM815 965h10v10h-10zM875 965h10v10h-10zM975 965h10v10h-10zM1105 965h10v10h-10zM295 975h10v10h-10zM415 975h10v10h-10zM465 975h10v10h-10zM845 975h10v10h-10zM1275 975h10v10h-10zM275 985h20v10h-20zM655 985h10v10h-10zM805 985h20v10h-20zM835 985h10v10h-10zM855 985h20v10h-20zM925 985h10v10h-10zM965 985h10v10h-10zM985 985h10v10h-10zM1015 985h10v10h-10zM1125 985h20v10h-20zM165 995h10v10h-10zM315 995h10v10h-10zM395 995h10v10h-10zM425 995h10v10h-10zM475 995h10v10h-10zM815 995h10v10h-10zM925 995h10v10h-10zM995 995h10v10h-10zM1145 995h10v10h-10zM1185 995h10v10h-10zM1265 995h10v10h-10zM1295 995h10v10h-10zM1335 995h10v10h-10zM165 1005h10v10h-10zM405 1005h10v10h-10zM545 1005h10v10h-10zM575 1005h30v10h-30zM665 1005h10v10h-10zM755 1005h10v10h-10zM1005 1005h10v10h-10zM1145 1005h10v10h-10zM1295 1005h10v10h-10zM165 1015h10v10h-10zM385 1015h10v10h-10zM555 1015h20v10h-20zM675 1015h10v10h-10zM755 1015h10v10h-10zM815 1015h10v10h-10zM965 1015h10v10h-10zM995 1015h10v10h-10zM1235 1015h10v10h-10zM1315 1015h10v10h-10zM165 1025h20v10h-20zM535 1025h10v10h-10zM575 1025h10v10h-10zM625 1025h10v10h-10zM655 1025h10v10h-10zM715 1025h10v10h-10zM1165 1025h10v10h-10zM1295 1025h10v10h-10zM1315 1025h10v10h-10zM335 1035h10v10h-10zM425 1035h10v10h-10zM445 1035h10v10h-10zM555 1035h10v10h-10zM605 1035h10v10h-10zM645 1035h20v10h-20zM705 1035h10v10h-10zM845 1035h10v10h-10zM945 1035h20v10h-20zM975 1035h10v10h-10zM1295 1035h10v10h-10zM1315 1035h10v10h-10zM415 1045h10v10h-10zM615 1045h10v10h-10zM675 1045h10v10h-10zM715 1045h10v10h-10zM735 1045h10v10h-10zM965 1045h10v10h-10zM1045 1045h10v10h-10zM1215 1045h10v10h-10zM1285 1045h30v10h-30zM505 1055h20v10h-20zM635 1055h10v10h-10zM685 1055h10v10h-10zM715 1055h10v10h-10zM845 1055h10v10h-10zM905 1055h10v10h-10zM1045 1055h10v10h-10zM1175 1055h10v10h-10zM1215 1055h10v10h-10zM1235 1055h10v10h-10zM1275 1055h10v10h-10zM1335 1055h10v10h-10zM235 1065h10v10h-10zM295 1065h10v10h-10zM315 1065h10v10h-10zM545 1065h10v10h-10zM865 1065h10v10h-10zM925 1065h10v10h-10zM1115 1065h10v10h-10zM1245 1065h10v10h-10zM265 1075h10v10h-10zM365 1075h10v10h-10zM495 1075h10v10h-10zM685 1075h10v10h-10zM705 1075h10v10h-10zM805 1075h10v10h-10zM955 1075h10v10h-10zM1175 1075h10v10h-10zM165 1085h10v10h-10zM315 1085h20v10h-20zM495 1085h20v10h-20zM535 1085h10v10h-10zM775 1085h40v10h-40zM875 1085h10v10h-10zM915 1085h10v10h-10zM945 1085h10v10h-10zM1015 1085h10v10h-10zM1135 1085h20v10h-20zM1165 1085h10v10h-10zM1255 1085h10v10h-10zM255 1095h10v10h-10zM375 1095h20v10h-20zM495 1095h10v10h-10zM695 1095h10v10h-10zM905 1095h10v10h-10zM935 1095h10v10h-10zM955 1095h10v10h-10zM1125 1095h10v10h-10zM1155 1095h10v10h-10zM1185 1095h10v10h-10zM1245 1095h10v10h-10zM175 1105h10v10h-10zM275 1105h10v10h-10zM295 1105h20v10h-20zM425 1105h10v10h-10zM555 1105h10v10h-10zM775 1105h10v10h-10zM905 1105h10v10h-10zM1095 1105h10v10h-10zM1335 1105h10v10h-10zM185 1115h10v10h-10zM285 1115h10v10h-10zM425 1115h10v10h-10zM665 1115h10v10h-10zM735 1115h10v10h-10zM1325 1115h10v10h-10zM1355 1115h10v10h-10zM205 1125h10v10h-10zM275 1125h10v10h-10zM385 1125h20v10h-20zM415 1125h10v10h-10zM625 1125h10v10h-10zM695 1125h10v10h-10zM715 1125h10v10h-10zM735 1125h10v10h-10zM785 1125h20v10h-20zM855 1125h10v10h-10zM905 1125h10v10h-10zM1215 1125h10v10h-10zM1325 1125h10v10h-10zM175 1135h10v10h-10zM205 1135h10v10h-10zM415 1135h10v10h-10zM475 1135h10v10h-10zM555 1135h10v10h-10zM675 1135h20v10h-20zM725 1135h10v10h-10zM795 1135h20v10h-20zM915 1135h10v10h-10zM1105 1135h10v10h-10zM1195 1135h10v10h-10zM1305 1135h10v10h-10zM235 1145h10v10h-10zM445 1145h10v10h-10zM545 1145h20v10h-20zM575 1145h30v10h-30zM805 1145h10v10h-10zM915 1145h10v10h-10zM965 1145h20v10h-20zM1305 1145h10v10h-10zM335 1155h30v10h-30zM605 1155h10v10h-10zM745 1155h10v10h-10zM825 1155h10v10h-10zM935 1155h10v10h-10zM1175 1155h10v10h-10zM245 1165h20v10h-20zM285 1165h10v10h-10zM685 1165h20v10h-20zM755 1165h10v10h-10zM815 1165h10v10h-10zM985 1165h20v10h-20zM1045 1165h10v10h-10zM1075 1165h10v10h-10zM1095 1165h20v10h-20zM225 1175h10v10h-10zM475 1175h10v10h-10zM505 1175h10v10h-10zM625 1175h10v10h-10zM675 1175h10v10h-10zM705 1175h10v10h-10zM735 1175h10v10h-10zM815 1175h10v10h-10zM905 1175h10v10h-10zM935 1175h10v10h-10zM955 1175h20v10h-20zM1075 1175h10v10h-10zM245 1185h10v10h-10zM415 1185h10v10h-10zM575 1185h10v10h-10zM745 1185h10v10h-10zM885 1185h10v10h-10zM1325 1185h10v10h-10zM245 1195h10v10h-10zM335 1195h10v10h-10zM405 1195h20v10h-20zM705 1195h10v10h-10zM725 1195h20v10h-20zM785 1195h10v10h-10zM815 1195h20v10h-20zM855 1195h10v10h-10zM905 1195h50v10h-50zM1025 1195h10v10h-10zM1105 1195h10v10h-10zM1255 1195h10v10h-10zM1275 1195h10v10h-10zM175 1205h20v10h-20zM375 1205h10v10h-10zM545 1205h10v10h-10zM645 1205h10v10h-10zM695 1205h10v10h-10zM765 1205h20v10h-20zM875 1205h10v10h-10zM1115 1205h20v10h-20zM1145 1205h10v10h-10zM1175 1205h10v10h-10zM1215 1205h10v10h-10zM1245 1205h10v10h-10zM1325 1205h10v10h-10zM305 1215h10v10h-10zM325 1215h20v10h-20zM375 1215h20v10h-20zM425 1215h10v10h-10zM585 1215h20v10h-20zM715 1215h10v10h-10zM1185 1215h10v10h-10zM1255 1215h40v10h-40zM195 1225h10v10h-10zM245 1225h10v10h-10zM295 1225h20v10h-20zM335 1225h10v10h-10zM445 1225h10v10h-10zM555 1225h10v10h-10zM615 1225h10v10h-10zM695 1225h10v10h-10zM775 1225h10v10h-10zM995 1225h10v10h-10zM1025 1225h10v10h-10zM1155 1225h10v10h-10zM225 1235h10v10h-10zM285 1235h10v10h-10zM915 1235h10v10h-10zM965 1235h10v10h-10zM1005 1235h10v10h-10zM1155 1235h10v10h-10zM1355 1235h10v10h-10zM175 1245h10v10h-10zM205 1245h10v10h-10zM315 1245h10v10h-10zM475 1245h10v10h-10zM535 1245h10v10h-10zM595 1245h10v10h-10zM875 1245h10v10h-10zM975 1245h10v10h-10zM1015 1245h10v10h-10zM1345 1245h10v10h-10zM175 1255h20v10h-20zM215 1255h10v10h-10zM365 1255h10v10h-10zM485 1255h10v10h-10zM585 1255h10v10h-10zM765 1255h10v10h-10zM905 1255h10v10h-10zM1015 1255h10v10h-10zM1315 1255h20v10h-20zM1345 1255h10v10h-10zM305 1265h10v10h-10zM385 1265h10v10h-10zM535 1265h10v10h-10zM595 1265h10v10h-10zM625 1265h10v10h-10zM775 1265h20v10h-20zM885 1265h10v10h-10zM1115 1265h10v10h-10zM1325 1265h20v10h-20zM215 1275h10v10h-10zM535 1275h10v10h-10zM605 1275h10v10h-10zM645 1275h10v10h-10zM855 1275h20v10h-20zM885 1275h10v10h-10zM1025 1275h30v10h-30zM1115 1275h20v10h-20zM1155 1275h10v10h-10zM1195 1275h10v10h-10zM1245 1275h10v10h-10zM1335 1275h10v10h-10zM305 1285h20v10h-20zM455 1285h10v10h-10zM515 1285h10v10h-10zM635 1285h10v10h-10zM675 1285h10v10h-10zM755 1285h20v10h-20zM985 1285h10v10h-10zM1045 1285h10v10h-10zM1145 1285h10v10h-10zM1185 1285h10v10h-10zM1205 1285h20v10h-20zM215 1295h10v10h-10zM315 1295h10v10h-10zM455 1295h10v10h-10zM635 1295h10v10h-10zM775 1295h20v10h-20zM925 1295h10v10h-10zM1035 1295h10v10h-10zM1215 1295h20v10h-20zM205 1305h10v10h-10zM505 1305h10v10h-10zM535 1305h10v10h-10zM705 1305h10v10h-10zM785 1305h10v10h-10zM835 1305h10v10h-10zM895 1305h10v10h-10zM965 1305h10v10h-10zM1035 1305h10v10h-10zM1135 1305h10v10h-10zM1335 1305h20v10h-20z"/>
<path fill="#0048ff" d="M215 115h10v10h-10zM375 115h10v10h-10zM395 115h10v10h-10zM665 115h30v10h-30zM955 115h10v10h-10zM1065 115h10v10h-10zM1145 115h10v10h-10zM935 125h20v10h-20zM1075 125h10v10h-10zM315 135h10v10h-10zM485 135h10v10h-10zM855 135h10v10h-10zM1025 135h10v10h-10zM1315 135h20v10h-20zM1345 135h10v10h-10zM285 145h20v10h-20zM345 145h10v10h-10zM465 145h10v10h-10zM695 145h20v10h-20zM1025 145h10v10h-10zM1095 145h10v10h-10zM1325 145h10v10h-10zM225 155h10v10h-10zM355 155h20v10h-20zM435 155h10v10h-10zM635 155h10v10h-10zM755 155h10v10h-10zM1085 155h10v10h-10zM1345 155h10v10h-10zM165 165h10v10h-10zM285 165h10v10h-10zM745 165h10v10h-10zM865 165h10v10h-10zM885 165h10v10h-10zM205 175h10v10h-10zM595 175h10v10h-10zM705 175h10v10h-10zM845 175h10v10h-10zM1275 175h10v10h-10zM1315 175h10v10h-10zM1335 175h10v10h-10zM365 185h10v10h-10zM385 185h10v10h-10zM465 185h10v10h-10zM775 185h10v10h-10zM1325 185h20v10h-20zM535 195h10v10h-10zM555 195h10v10h-10zM595 195h10v10h-10zM635 195h20v10h-20zM755 195h10v10h-10zM775 195h10v10h-10zM995 195h10v10h-10zM1025 195h10v10h-10zM1355 195h10v10h-10zM475 205h10v10h-10zM645 205h10v10h-10zM715 205h10v10h-10zM1025 205h10v10h-10zM1215 205h20v10h-20zM1285 205h10v10h-10zM1315 205h10v10h-10zM1355 205h10v10h-10zM295 215h10v10h-10zM495 215h10v10h-10zM645 215h10v10h-10zM675 215h10v10h-10zM755 215h10v10h-10zM885 215h40v10h-40zM945 215h10v10h-10zM1045 215h10v10h-10zM1235 215h20v10h-20zM1265 215h10v10h-10zM265 225h10v10h-10zM285 225h10v10h-10zM595 225h10v10h-10zM635 225h10v10h-10zM755 225h10v10h-10zM775 225h10v10h-10zM845 225h10v10h-10zM905 225h20v10h-20zM1035 225h20v10h-20zM1065 225h10v10h-10zM1215 225h10v10h-10zM1255 225h10v10h-10zM1275 225h10v10h-10zM1325 225h10v10h-10zM165 235h10v10h-10zM255 235h30v10h-30zM635 235h10v10h-10zM675 235h10v10h-10zM1265 235h10v10h-10zM1335 235h10v10h-10zM1355 235h10v10h-10zM205 245h10v10h-10zM245 245h10v10h-10zM315 245h10v10h-10zM365 245h10v10h-10zM465 245h10v10h-10zM735 245h10v10h-10zM795 245h10v10h-10zM875 245h10v10h-10zM1055 245h20v10h-20zM1335 245h10v10h-10zM205 255h10v10h-10zM785 255h10v10h-10zM885 255h10v10h-10zM165 265h10v10h-10zM305 265h10v10h-10zM335 265h10v10h-10zM435 265h10v10h-10zM935 265h10v10h-10zM1125 265h10v10h-10zM1145 265h10v10h-10zM1305 265h10v10h-10zM1335 265h10v10h-10zM245 275h10v10h-10zM455 275h10v10h-10zM655 275h10v10h-10zM845 275h10v10h-10zM1135 275h10v10h-10zM1305 275h10v10h-10zM245 285h10v10h-10zM335 285h10v10h-10zM545 285h10v10h-10zM635 285h10v10h-10zM655 285h10v10h-10zM835 285h20v10h-20zM1175 285h10v10h-10zM325 295h20v10h-20zM545 295h10v10h-10zM605 295h10v10h-10zM675 295h10v10h-10zM805 295h10v10h-10zM935 295h10v10h-10zM535 305h10v10h-10zM735 305h10v10h-10zM955 305h10v10h-10zM1005 305h20v10h-20zM1115 305h10v10h-10zM1135 305h10v10h-10zM745 315h10v10h-10zM965 315h10v10h-10zM1235 315h10v10h-10zM1305 315h10v10h-10zM295 325h10v10h-10zM1195 325h10v10h-10zM1245 325h10v10h-10zM1315 325h10v10h-10zM1345 325h10v10h-10zM195 335h10v10h-10zM425 335h10v10h-10zM785 335h10v10h-10zM845 335h10v10h-10zM1185 335h10v10h-10zM1315 335h10v10h-10zM195 345h10v10h-10zM265 345h10v10h-10zM395 345h10v10h-10zM435 345h10v10h-10zM635 345h10v10h-10zM1185 345h10v10h-10zM1325 345h10v10h-10zM885 355h10v10h-10zM945 355h10v10h-10zM1195 355h10v10h-10zM1215 355h10v10h-10zM245 365h10v10h-10zM315 365h10v10h-10zM335 365h10v10h-10zM505 365h10v10h-10zM875 365h10v10h-10zM1295 365h10v10h-10zM1335 365h10v10h-10zM325 375h10v10h-10zM525 375h10v10h-10zM865 375h10v10h-10zM1035 375h10v10h-10zM195 385h10v10h-10zM235 385h20v10h-20zM525 385h20v10h-20zM595 385h10v10h-10zM615 385h10v10h-10zM635 385h10v10h-10zM705 385h10v10h-10zM1005 385h10v10h-10zM1315 385h10v10h-10zM355 395h10v10h-10zM445 395h10v10h-10zM625 395h20v10h-20zM655 395h10v10h-10zM1045 395h10v10h-10zM645 405h10v10h-10zM1015 405h10v10h-10zM1045 405h10v10h-10zM1275 405h10v10h-10zM185 415h20v10h-20zM375 415h10v10h-10zM425 415h10v10h-10zM525 415h10v10h-10zM855 415h10v10h-10zM1015 415h10v10h-10zM1035 415h10v10h-10zM165 425h10v10h-10zM265 425h10v10h-10zM295 425h10v10h-10zM415 425h10v10h-10zM675 425h10v10h-10zM935 425h10v10h-10zM1115 425h10v10h-10zM1135 425h10v10h-10zM675 435h10v10h-10zM735 435h10v10h-10zM835 435h10v10h-10zM885 435h10v10h-10zM1155 435h10v10h-10zM1195 435h10v10h-10zM1215 435h10v10h-10zM1245 435h10v10h-10zM525 445h10v10h-10zM665 445h10v10h-10zM735 445h10v10h-10zM815 445h10v10h-10zM835 445h20v10h-20zM875 445h10v10h-10zM1075 445h10v10h-10zM1115 445h10v10h-10zM1205 445h10v10h-10zM345 455h10v10h-10zM465 455h10v10h-10zM685 455h10v10h-10zM1035 455h10v10h-10zM1215 455h10v10h-10zM1295 455h10v10h-10zM235 465h10v10h-10zM675 465h10v10h-10zM1085 465h10v10h-10zM215 475h10v10h-10zM275 475h10v10h-10zM555 475h10v10h-10zM705 475h20v10h-20zM785 475h10v10h-10zM195 485h10v10h-10zM275 485h20v10h-20zM705 485h10v10h-10zM1115 485h10v10h-10zM1235 485h10v10h-10zM205 495h10v10h-10zM225 495h10v10h-10zM345 495h10v10h-10zM585 495h10v10h-10zM705 495h10v10h-10zM1065 495h10v10h-10zM1105 495h10v10h-10zM1305 495h10v10h-10zM205 505h20v10h-20zM405 505h30v10h-30zM625 505h10v10h-10zM705 505h10v10h-10zM985 505h20v10h-20zM1075 505h10v10h-10zM1095 505h10v10h-10zM1165 505h10v10h-10zM1215 505h10v10h-10zM195 515h20v10h-20zM225 515h10v10h-10zM875 515h10v10h-10zM1015 515h20v10h-20zM235 525h10v10h-10zM345 525h10v10h-10zM415 525h10v10h-10zM765 525h10v10h-10zM885 525h20v10h-20zM985 525h10v10h-10zM245 535h10v10h-10zM555 535h10v10h-10zM775 535h10v10h-10zM895 535h10v10h-10zM915 535h10v10h-10zM1195 535h10v10h-10zM585 545h20v10h-20zM825 545h10v10h-10zM1125 545h10v10h-10zM1185 545h10v10h-10zM1205 545h10v10h-10zM175 555h10v10h-10zM605 555h10v10h-10zM915 555h10v10h-10zM1095 555h10v10h-10zM1125 555h10v10h-10zM1185 555h30v10h-30zM1285 555h10v10h-10zM185 565h20v10h-20zM295 565h10v10h-10zM735 565h10v10h-10zM1105 565h10v10h-10zM1155 565h10v10h-10zM435 575h10v10h-10zM565 575h20v10h-20zM815 575h10v10h-10zM905 575h10v10h-10zM1165 575h10v10h-10zM1215 575h10v10h-10zM215 585h10v10h-10zM525 585h10v10h-10zM855 585h10v10h-10zM1065 585h10v10h-10zM1105 585h10v10h-10zM1325 585h10v10h-10zM275 595h10v10h-10zM985 595h10v10h-10zM1125 595h10v10h-10zM1185 595h10v10h-10zM1205 595h20v10h-20zM465 605h10v10h-10zM615 605h20v10h-20zM845 605h10v10h-10zM975 605h10v10h-10zM1155 605h10v10h-10zM1185 605h10v10h-10zM285 615h20v10h-20zM315 615h10v10h-10zM505 615h10v10h-10zM915 615h10v10h-10zM965 615h20v10h-20zM225 625h10v10h-10zM275 625h10v10h-10zM405 625h10v10h-10zM435 625h10v10h-10zM565 625h10v10h-10zM655 625h10v10h-10zM1305 625h10v10h-10zM165 635h10v10h-10zM225 635h20v10h-20zM265 635h10v10h-10zM285 635h10v10h-10zM555 635h10v10h-10zM1305 635h10v10h-10zM285 645h10v10h-10zM385 645h10v10h-10zM425 645h10v10h-10zM915 645h10v10h-10zM1325 645h10v10h-10zM255 655h10v10h-10zM285 655h10v10h-10zM425 655h10v10h-10zM855 655h10v10h-10zM935 655h10v10h-10zM1305 655h10v10h-10zM195 665h10v10h-10zM845 665h10v10h-10zM915 665h10v10h-10zM1195 665h10v10h-10zM165 675h10v10h-10zM285 675h10v10h-10zM365 675h30v10h-30zM445 675h20v10h-20zM545 675h10v10h-10zM565 675h10v10h-10zM625 675h10v10h-10zM885 675h10v10h-10zM905 675h10v10h-10zM965 675h20v10h-20zM1225 675h10v10h-10zM545 685h10v10h-10zM625 685h10v10h-10zM1355 685h10v10h-10zM505 695h30v10h-30zM855 695h10v10h-10zM1075 695h10v10h-10zM1175 695h20v10h-20zM225 705h10v10h-10zM315 705h10v10h-10zM405 705h10v10h-10zM575 705h10v10h-10zM625 705h20v10h-20zM905 705h10v10h-10zM1295 705h10v10h-10zM205 715h10v10h-10zM225 715h20v10h-20zM265 715h10v10h-10zM285 715h10v10h-10zM325 715h10v10h-10zM395 715h10v10h-10zM505 715h10v10h-10zM625 715h20v10h-20zM875 715h10v10h-10zM905 715h10v10h-10zM935 715h10v10h-10zM955 715h10v10h-10zM975 715h10v10h-10zM1015 715h10v10h-10zM1115 715h10v10h-10zM1315 715h10v10h-10zM185 725h10v10h-10zM365 725h20v10h-20zM885 725h20v10h-20zM935 725h10v10h-10zM1035 725h10v10h-10zM1165 725h10v10h-10zM1335 725h10v10h-10zM195 735h10v10h-10zM585 735h10v10h-10zM665 735h10v10h-10zM1115 735h10v10h-10zM1165 735h10v10h-10zM265 745h10v10h-10zM435 745h10v10h-10zM955 745h20v10h-20zM1235 745h10v10h-10zM275 755h10v10h-10zM1325 755h20v10h-20zM365 765h10v10h-10zM415 765h10v10h-10zM1245 765h10v10h-10zM675 775h10v10h-10zM865 775h10v10h-10zM885 775h10v10h-10zM1235 775h10v10h-10zM865 785h10v10h-10zM195 795h10v10h-10zM385 795h10v10h-10zM1045 795h10v10h-10zM375 805h10v10h-10zM595 805h10v10h-10zM1105 805h10v10h-10zM1125 805h10v10h-10zM1175 805h10v10h-10zM1245 805h10v10h-10zM195 815h10v10h-10zM215 815h10v10h-10zM345 815h10v10h-10zM365 815h10v10h-10zM795 815h10v10h-10zM915 815h10v10h-10zM995 815h10v10h-10zM1105 815h10v10h-10zM1125 815h20v10h-20zM1285 815h10v10h-10zM205 825h10v10h-10zM355 825h10v10h-10zM415 825h10v10h-10zM545 825h20v10h-20zM685 825h10v10h-10zM735 825h10v10h-10zM795 825h10v10h-10zM815 825h20v10h-20zM985 825h10v10h-10zM175 835h10v10h-10zM315 835h10v10h-10zM565 835h10v10h-10zM805 835h10v10h-10zM1185 835h10v10h-10zM1345 835h20v10h-20zM415 845h10v10h-10zM545 845h10v10h-10zM1005 845h10v10h-10zM1115 845h10v10h-10zM1345 845h10v10h-10zM265 855h10v10h-10zM305 855h10v10h-10zM325 855h10v10h-10zM345 855h10v10h-10zM485 855h10v10h-10zM675 855h10v10h-10zM955 855h10v10h-10zM975 855h10v10h-10zM1005 855h10v10h-10zM1045 855h10v10h-10zM1335 855h10v10h-10zM165 865h10v10h-10zM185 865h10v10h-10zM215 865h20v10h-20zM315 865h10v10h-10zM565 865h10v10h-10zM675 865h10v10h-10zM805 865h10v10h-10zM1005 865h10v10h-10zM1185 865h10v10h-10zM1335 865h10v10h-10zM235 875h10v10h-10zM465 875h10v10h-10zM685 875h20v10h-20zM815 875h10v10h-10zM945 875h10v10h-10zM1185 875h10v10h-10zM1245 875h10v10h-10zM1345 875h10v10h-10zM255 885h10v10h-10zM305 885h10v10h-10zM325 885h30v10h-30zM695 885h10v10h-10zM835 885h10v10h-10zM1205 885h10v10h-10zM1245 885h10v10h-10zM1315 885h10v10h-10zM465 895h10v10h-10zM595 895h10v10h-10zM825 895h10v10h-10zM1015 895h10v10h-10zM1205 895h10v10h-10zM1225 895h10v10h-10zM1245 895h10v10h-10zM1355 895h10v10h-10zM185 905h10v10h-10zM235 905h10v10h-10zM285 905h10v10h-10zM335 905h20v10h-20zM395 905h10v10h-10zM475 905h10v10h-10zM595 905h10v10h-10zM1025 905h10v10h-10zM1215 905h10v10h-10zM1235 905h10v10h-10zM1285 905h10v10h-10zM215 915h20v10h-20zM485 915h10v10h-10zM1005 915h10v10h-10zM1245 915h20v10h-20zM1305 915h10v10h-10zM215 925h10v10h-10zM615 925h20v10h-20zM675 925h10v10h-10zM835 925h10v10h-10zM165 935h10v10h-10zM435 935h10v10h-10zM595 935h10v10h-10zM765 935h10v10h-10zM845 935h10v10h-10zM1045 935h10v10h-10zM205 945h10v10h-10zM855 945h10v10h-10zM1115 945h10v10h-10zM1215 945h10v10h-10zM1355 945h10v10h-10zM325 955h10v10h-10zM515 955h10v10h-10zM585 955h10v10h-10zM605 955h10v10h-10zM755 955h10v10h-10zM785 955h10v10h-10zM1155 955h10v10h-10zM1355 955h10v10h-10zM335 965h20v10h-20zM775 965h30v10h-30zM855 965h20v10h-20zM285 975h10v10h-10zM785 975h10v10h-10zM305 985h10v10h-10zM325 985h10v10h-10zM395 985h10v10h-10zM415 985h10v10h-10zM475 985h10v10h-10zM695 985h10v10h-10zM825 985h10v10h-10zM1215 985h10v10h-10zM1255 985h10v10h-10zM295 995h10v10h-10zM385 995h10v10h-10zM485 995h10v10h-10zM655 995h10v10h-10zM695 995h10v10h-10zM845 995h10v10h-10zM1255 995h10v10h-10zM185 1005h10v10h-10zM385 1005h10v10h-10zM645 1005h10v10h-10zM705 1005h10v10h-10zM965 1005h10v10h-10zM1255 1005h10v10h-10zM1305 1005h10v10h-10zM665 1015h10v10h-10zM705 1015h10v10h-10zM745 1015h10v10h-10zM935 1015h10v10h-10zM975 1015h10v10h-10zM1035 1015h10v10h-10zM1165 1015h10v10h-10zM185 1025h10v10h-10zM325 1025h10v10h-10zM455 1025h10v10h-10zM515 1025h10v10h-10zM595 1025h10v10h-10zM805 1025h10v10h-10zM935 1025h10v10h-10zM185 1035h20v10h-20zM625 1035h10v10h-10zM715 1035h10v10h-10zM1235 1035h10v10h-10zM805 1045h10v10h-10zM855 1045h10v10h-10zM205 1055h10v10h-10zM255 1055h10v10h-10zM705 1055h10v10h-10zM935 1055h30v10h-30zM1105 1055h10v10h-10zM1135 1055h10v10h-10zM1225 1055h10v10h-10zM1245 1055h10v10h-10zM1305 1055h10v10h-10zM165 1065h10v10h-10zM305 1065h10v10h-10zM375 1065h10v10h-10zM525 1065h10v10h-10zM875 1065h10v10h-10zM905 1065h10v10h-10zM935 1065h20v10h-20zM975 1065h10v10h-10zM995 1065h10v10h-10zM1045 1065h10v10h-10zM1105 1065h10v10h-10zM1125 1065h10v10h-10zM1215 1065h20v10h-20zM335 1075h10v10h-10zM695 1075h10v10h-10zM875 1075h10v10h-10zM895 1075h10v10h-10zM925 1075h10v10h-10zM945 1075h10v10h-10zM995 1075h10v10h-10zM1205 1075h10v10h-10zM1225 1075h20v10h-20zM1285 1075h20v10h-20zM255 1085h10v10h-10zM385 1085h10v10h-10zM485 1085h10v10h-10zM565 1085h10v10h-10zM755 1085h10v10h-10zM925 1085h20v10h-20zM1185 1085h20v10h-20zM1285 1085h10v10h-10zM305 1095h10v10h-10zM335 1095h20v10h-20zM685 1095h10v10h-10zM775 1095h20v10h-20zM925 1095h10v10h-10zM945 1095h10v10h-10zM965 1095h10v10h-10zM1095 1095h10v10h-10zM1195 1095h10v10h-10zM325 1105h10v10h-10zM365 1105h20v10h-20zM665 1105h20v10h-20zM955 1105h10v10h-10zM1115 1105h10v10h-10zM275 1115h10v10h-10zM295 1115h10v10h-10zM315 1115h20v10h-20zM355 1115h10v10h-10zM375 1115h10v10h-10zM785 1115h10v10h-10zM905 1115h10v10h-10zM1095 1115h10v10h-10zM1215 1115h10v10h-10zM1245 1115h10v10h-10zM1345 1115h10v10h-10zM175 1125h20v10h-20zM425 1125h10v10h-10zM465 1125h10v10h-10zM485 1125h20v10h-20zM605 1125h20v10h-20zM675 1125h20v10h-20zM745 1125h10v10h-10zM885 1125h20v10h-20zM1115 1125h10v10h-10zM305 1135h30v10h-30zM425 1135h10v10h-10zM735 1135h10v10h-10zM845 1135h20v10h-20zM935 1135h10v10h-10zM1035 1135h10v10h-10zM455 1145h10v10h-10zM995 1145h10v10h-10zM1215 1145h10v10h-10zM225 1155h10v10h-10zM435 1155h10v10h-10zM545 1155h10v10h-10zM715 1155h10v10h-10zM855 1155h10v10h-10zM945 1155h10v10h-10zM975 1155h30v10h-30zM1045 1155h10v10h-10zM615 1165h10v10h-10zM705 1165h10v10h-10zM745 1165h10v10h-10zM825 1165h10v10h-10zM895 1165h10v10h-10zM935 1165h20v10h-20zM1035 1165h10v10h-10zM235 1175h10v10h-10zM285 1175h10v10h-10zM405 1175h20v10h-20zM515 1175h10v10h-10zM615 1175h10v10h-10zM835 1175h20v10h-20zM895 1175h10v10h-10zM1025 1175h10v10h-10zM1085 1175h10v10h-10zM1115 1175h10v10h-10zM485 1185h10v10h-10zM515 1185h10v10h-10zM895 1185h10v10h-10zM935 1185h10v10h-10zM1025 1185h10v10h-10zM1115 1185h10v10h-10zM1145 1185h10v10h-10zM1265 1185h20v10h-20zM745 1195h10v10h-10zM1285 1195h10v10h-10zM295 1205h10v10h-10zM425 1205h10v10h-10zM715 1205h20v10h-20zM835 1205h10v10h-10zM925 1205h10v10h-10zM1105 1205h10v10h-10zM1165 1205h10v10h-10zM1295 1205h10v10h-10zM295 1215h10v10h-10zM755 1215h10v10h-10zM795 1215h10v10h-10zM885 1215h10v10h-10zM465 1225h10v10h-10zM955 1225h10v10h-10zM985 1225h10v10h-10zM1015 1225h10v10h-10zM295 1235h10v10h-10zM315 1235h10v10h-10zM825 1235h10v10h-10zM1335 1235h10v10h-10zM195 1245h10v10h-10zM305 1245h10v10h-10zM375 1245h10v10h-10zM1115 1245h20v10h-20zM1325 1245h20v10h-20zM255 1255h10v10h-10zM315 1255h10v10h-10zM595 1255h10v10h-10zM895 1255h10v10h-10zM1115 1255h10v10h-10zM175 1265h10v10h-10zM225 1265h30v10h-30zM365 1265h10v10h-10zM655 1265h10v10h-10zM765 1265h10v10h-10zM875 1265h10v10h-10zM895 1265h20v10h-20zM1105 1265h10v10h-10zM1165 1265h10v10h-10zM165 1275h10v10h-10zM295 1275h10v10h-10zM515 1275h20v10h-20zM1015 1275h10v10h-10zM1325 1275h10v10h-10zM225 1285h10v10h-10zM525 1285h10v10h-10zM645 1285h10v10h-10zM665 1285h10v10h-10zM775 1285h20v10h-20zM855 1285h10v10h-10zM895 1285h20v10h-20zM1105 1285h10v10h-10zM325 1295h10v10h-10zM525 1295h10v10h-10zM545 1295h10v10h-10zM895 1295h10v10h-10zM995 1295h10v10h-10zM1095 1295h10v10h-10zM1165 1295h10v10h-10zM1325 1295h10v10h-10zM215 1305h20v10h-20zM285 1305h20v10h-20zM335 1305h10v10h-10zM525 1305h10v10h-10zM885 1305h10v10h-10zM975 1305h10v10h-10z"/>
<path fill="#0078ff" d="M225 115h20v10h-20zM255 115h10v10h-10zM445 115h10v10h-10zM615 115h10v10h-10zM895 115h10v10h-10zM1285 115h10v10h-10zM575 125h10v10h-10zM595 125h10v10h-10zM715 125h10v10h-10zM765 125h10v10h-10zM915 125h10v10h-10zM1285 125h10v10h-10zM405 135h10v10h-10zM905 135h20v10h-20zM1185 135h10v10h-10zM1255 135h10v10h-10zM1285 135h10v10h-10zM255 145h10v10h-10zM605 145h20v10h-20zM1125 145h20v10h-20zM1305 145h10v10h-10zM175 155h10v10h-10zM255 155h10v10h-10zM475 155h10v10h-10zM575 155h10v10h-10zM605 155h10v10h-10zM725 155h10v10h-10zM795 155h10v10h-10zM905 155h10v10h-10zM945 155h10v10h-10zM975 155h10v10h-10zM1295 155h20v10h-20zM615 165h10v10h-10zM785 165h10v10h-10zM925 165h10v10h-10zM995 165h10v10h-10zM315 175h10v10h-10zM405 175h10v10h-10zM805 175h10v10h-10zM965 175h10v10h-10zM1005 175h10v10h-10zM1235 175h10v10h-10zM165 185h10v10h-10zM255 185h10v10h-10zM515 185h10v10h-10zM745 185h10v10h-10zM1085 185h20v10h-20zM1165 185h10v10h-10zM265 195h10v10h-10zM335 195h10v10h-10zM1155 195h10v10h-10zM1185 195h10v10h-10zM175 205h10v10h-10zM1095 205h10v10h-10zM195 215h10v10h-10zM235 215h10v10h-10zM815 215h10v10h-10zM1155 215h10v10h-10zM375 225h10v10h-10zM1095 225h10v10h-10zM1115 225h10v10h-10zM1305 225h10v10h-10zM395 235h10v10h-10zM655 235h10v10h-10zM965 235h10v10h-10zM1095 235h10v10h-10zM395 245h10v10h-10zM705 245h10v10h-10zM905 245h10v10h-10zM965 255h10v10h-10zM1095 255h10v10h-10zM1275 255h10v10h-10zM725 265h20v10h-20zM815 265h10v10h-10zM905 265h10v10h-10zM1235 265h10v10h-10zM395 275h20v10h-20zM485 275h10v10h-10zM595 275h10v10h-10zM745 275h10v10h-10zM815 275h10v10h-10zM1025 275h10v10h-10zM1265 275h20v10h-20zM395 285h10v10h-10zM575 285h10v10h-10zM745 285h10v10h-10zM895 285h10v10h-10zM985 285h10v10h-10zM1025 285h10v10h-10zM195 295h10v10h-10zM225 295h10v10h-10zM405 295h10v10h-10zM585 295h10v10h-10zM1325 295h10v10h-10zM195 305h40v10h-40zM245 305h10v10h-10zM565 305h10v10h-10zM835 305h10v10h-10zM215 315h10v10h-10zM235 315h10v10h-10zM345 315h10v10h-10zM905 315h10v10h-10zM225 325h10v10h-10zM245 325h10v10h-10zM375 325h10v10h-10zM505 325h10v10h-10zM665 325h10v10h-10zM755 325h20v10h-20zM875 325h20v10h-20zM995 325h10v10h-10zM1205 325h10v10h-10zM375 335h10v10h-10zM525 335h20v10h-20zM615 335h10v10h-10zM655 335h10v10h-10zM775 335h10v10h-10zM945 335h10v10h-10zM965 335h10v10h-10zM1095 335h10v10h-10zM1205 335h10v10h-10zM235 345h10v10h-10zM315 345h10v10h-10zM345 345h10v10h-10zM515 345h10v10h-10zM745 345h10v10h-10zM805 345h10v10h-10zM905 345h10v10h-10zM985 345h10v10h-10zM1035 345h10v10h-10zM345 355h10v10h-10zM395 355h10v10h-10zM715 355h10v10h-10zM755 355h10v10h-10zM805 355h10v10h-10zM1095 355h10v10h-10zM485 365h10v10h-10zM685 365h10v10h-10zM745 365h10v10h-10zM1075 365h20v10h-20zM465 375h10v10h-10zM735 375h10v10h-10zM1075 375h20v10h-20zM1185 375h10v10h-10zM285 385h10v10h-10zM485 385h20v10h-20zM575 385h10v10h-10zM735 385h10v10h-10zM885 385h10v10h-10zM1195 385h10v10h-10zM165 395h10v10h-10zM475 395h10v10h-10zM725 395h10v10h-10zM805 395h20v10h-20zM985 395h10v10h-10zM1255 395h10v10h-10zM1355 395h10v10h-10zM385 405h10v10h-10zM475 405h10v10h-10zM785 405h10v10h-10zM955 405h10v10h-10zM1255 405h10v10h-10zM205 415h10v10h-10zM805 415h10v10h-10zM975 415h10v10h-10zM1205 415h20v10h-20zM1235 415h20v10h-20zM315 425h10v10h-10zM475 425h10v10h-10zM555 425h10v10h-10zM775 425h10v10h-10zM905 425h10v10h-10zM985 425h10v10h-10zM1265 425h10v10h-10zM435 435h10v10h-10zM605 435h10v10h-10zM985 435h10v10h-10zM265 445h10v10h-10zM305 445h10v10h-10zM305 455h10v10h-10zM375 455h10v10h-10zM1245 455h10v10h-10zM385 465h10v10h-10zM835 465h10v10h-10zM955 465h10v10h-10zM1125 465h10v10h-10zM1255 465h10v10h-10zM1335 465h10v10h-10zM415 475h10v10h-10zM485 475h10v10h-10zM595 475h10v10h-10zM655 475h10v10h-10zM945 475h10v10h-10zM1135 475h10v10h-10zM1325 475h10v10h-10zM385 485h10v10h-10zM515 485h10v10h-10zM655 485h10v10h-10zM735 485h10v10h-10zM875 485h30v10h-30zM935 485h20v10h-20zM1025 485h20v10h-20zM1135 485h10v10h-10zM175 495h10v10h-10zM385 495h10v10h-10zM435 495h10v10h-10zM665 495h10v10h-10zM685 495h10v10h-10zM1325 495h10v10h-10zM285 505h10v10h-10zM385 505h10v10h-10zM455 505h10v10h-10zM475 505h10v10h-10zM665 505h20v10h-20zM165 515h10v10h-10zM495 515h10v10h-10zM585 515h10v10h-10zM675 515h10v10h-10zM715 515h10v10h-10zM795 515h10v10h-10zM165 525h10v10h-10zM285 525h10v10h-10zM325 525h10v10h-10zM505 525h10v10h-10zM855 525h20v10h-20zM1275 525h10v10h-10zM295 535h10v10h-10zM475 535h20v10h-20zM995 535h10v10h-10zM275 545h10v10h-10zM425 545h10v10h-10zM715 545h10v10h-10zM735 545h10v10h-10zM985 545h20v10h-20zM1055 545h10v10h-10zM665 555h10v10h-10zM705 555h10v10h-10zM985 555h10v10h-10zM1065 555h10v10h-10zM265 565h10v10h-10zM445 565h10v10h-10zM465 565h10v10h-10zM625 565h10v10h-10zM1045 565h10v10h-10zM255 575h10v10h-10zM315 575h10v10h-10zM375 575h10v10h-10zM705 575h10v10h-10zM975 575h10v10h-10zM995 575h10v10h-10zM1235 575h10v10h-10zM765 585h10v10h-10zM985 585h20v10h-20zM1345 585h10v10h-10zM165 595h10v10h-10zM645 595h10v10h-10zM665 595h10v10h-10zM755 595h20v10h-20zM865 595h20v10h-20zM1245 595h10v10h-10zM175 605h10v10h-10zM585 605h10v10h-10zM1045 605h10v10h-10zM1135 605h10v10h-10zM245 615h10v10h-10zM775 615h10v10h-10zM1355 615h10v10h-10zM195 625h10v10h-10zM475 625h10v10h-10zM1125 625h10v10h-10zM1285 625h10v10h-10zM465 635h20v10h-20zM605 635h10v10h-10zM925 635h10v10h-10zM475 645h10v10h-10zM735 645h20v10h-20zM785 645h10v10h-10zM1045 645h10v10h-10zM535 655h10v10h-10zM805 655h10v10h-10zM355 665h10v10h-10zM575 665h10v10h-10zM645 665h10v10h-10zM715 665h20v10h-20zM815 665h10v10h-10zM1095 665h10v10h-10zM1155 665h10v10h-10zM1345 665h10v10h-10zM675 675h10v10h-10zM815 675h10v10h-10zM865 675h10v10h-10zM1165 675h10v10h-10zM1305 675h20v10h-20zM345 685h10v10h-10zM485 685h10v10h-10zM1045 685h20v10h-20zM1165 685h10v10h-10zM1305 685h10v10h-10zM485 695h10v10h-10zM675 695h10v10h-10zM1055 695h10v10h-10zM1065 705h10v10h-10zM1085 705h10v10h-10zM1245 705h10v10h-10zM1335 705h10v10h-10zM445 715h10v10h-10zM535 725h10v10h-10zM625 725h10v10h-10zM485 735h10v10h-10zM605 735h10v10h-10zM935 735h10v10h-10zM375 745h10v10h-10zM825 745h10v10h-10zM925 745h10v10h-10zM985 745h10v10h-10zM395 755h10v10h-10zM525 755h30v10h-30zM565 755h10v10h-10zM755 755h10v10h-10zM795 755h20v10h-20zM845 755h10v10h-10zM915 755h10v10h-10zM1115 755h10v10h-10zM245 765h30v10h-30zM465 765h10v10h-10zM525 765h10v10h-10zM625 765h10v10h-10zM705 765h10v10h-10zM915 765h10v10h-10zM1295 765h10v10h-10zM185 775h10v10h-10zM205 775h10v10h-10zM315 775h20v10h-20zM645 775h10v10h-10zM905 775h10v10h-10zM1055 775h10v10h-10zM245 785h10v10h-10zM345 785h10v10h-10zM405 785h10v10h-10zM555 785h10v10h-10zM655 785h10v10h-10zM935 785h10v10h-10zM1185 785h20v10h-20zM1265 785h10v10h-10zM1305 785h10v10h-10zM315 795h10v10h-10zM405 795h10v10h-10zM465 795h20v10h-20zM515 795h10v10h-10zM1305 795h40v10h-40zM315 805h10v10h-10zM465 805h10v10h-10zM855 805h10v10h-10zM965 805h20v10h-20zM865 815h10v10h-10zM635 825h10v10h-10zM1065 825h10v10h-10zM1225 825h10v10h-10zM275 835h10v10h-10zM635 835h10v10h-10zM1235 835h10v10h-10zM1255 835h10v10h-10zM225 845h10v10h-10zM595 845h10v10h-10zM745 845h10v10h-10zM795 845h10v10h-10zM875 845h10v10h-10zM895 845h10v10h-10zM1245 845h30v10h-30zM785 855h10v10h-10zM1315 855h10v10h-10zM545 865h10v10h-10zM725 865h20v10h-20zM885 865h10v10h-10zM1065 865h10v10h-10zM715 875h10v10h-10zM895 875h10v10h-10zM425 885h10v10h-10zM585 885h10v10h-10zM975 885h10v10h-10zM565 895h10v10h-10zM785 895h10v10h-10zM1185 895h10v10h-10zM505 905h10v10h-10zM525 905h20v10h-20zM575 905h10v10h-10zM705 905h10v10h-10zM805 905h10v10h-10zM905 905h10v10h-10zM525 915h10v10h-10zM775 915h10v10h-10zM905 915h10v10h-10zM1055 915h10v10h-10zM395 925h20v10h-20zM445 925h10v10h-10zM505 925h10v10h-10zM745 925h10v10h-10zM975 925h10v10h-10zM255 935h10v10h-10zM305 935h10v10h-10zM395 935h10v10h-10zM555 935h10v10h-10zM1005 935h10v10h-10zM1235 935h10v10h-10zM515 945h10v10h-10zM555 945h10v10h-10zM635 945h10v10h-10zM725 945h10v10h-10zM975 945h10v10h-10zM1295 945h10v10h-10zM165 955h10v10h-10zM185 955h10v10h-10zM245 955h10v10h-10zM355 955h10v10h-10zM395 955h10v10h-10zM495 955h10v10h-10zM565 955h10v10h-10zM645 955h10v10h-10zM735 955h10v10h-10zM935 955h20v10h-20zM1005 955h10v10h-10zM1295 955h10v10h-10zM165 965h10v10h-10zM185 965h10v10h-10zM435 965h10v10h-10zM745 965h10v10h-10zM945 965h10v10h-10zM1175 965h10v10h-10zM185 975h10v10h-10zM375 975h10v10h-10zM435 975h20v10h-20zM505 975h10v10h-10zM595 975h20v10h-20zM635 975h10v10h-10zM695 975h10v10h-10zM755 975h10v10h-10zM1005 975h10v10h-10zM1185 975h10v10h-10zM1245 975h10v10h-10zM1295 975h10v10h-10zM195 985h10v10h-10zM365 985h10v10h-10zM505 985h10v10h-10zM625 985h10v10h-10zM735 985h30v10h-30zM1075 985h10v10h-10zM205 995h10v10h-10zM615 995h10v10h-10zM785 995h10v10h-10zM1065 995h10v10h-10zM305 1005h10v10h-10zM505 1005h10v10h-10zM625 1005h10v10h-10zM775 1005h10v10h-10zM905 1005h20v10h-20zM1075 1005h20v10h-20zM305 1015h10v10h-10zM495 1015h10v10h-10zM865 1015h10v10h-10zM895 1015h10v10h-10zM915 1015h10v10h-10zM1085 1015h10v10h-10zM1115 1015h10v10h-10zM1335 1015h10v10h-10zM885 1025h10v10h-10zM905 1025h10v10h-10zM1115 1025h10v10h-10zM285 1035h10v10h-10zM875 1035h10v10h-10zM1125 1035h10v10h-10zM365 1045h10v10h-10zM385 1045h10v10h-10zM405 1045h10v10h-10zM905 1045h20v10h-20zM1125 1045h10v10h-10zM455 1055h10v10h-10zM585 1055h10v10h-10zM885 1055h10v10h-10zM1015 1055h10v10h-10zM415 1065h10v10h-10zM765 1065h10v10h-10zM835 1065h10v10h-10zM195 1075h10v10h-10zM395 1075h10v10h-10zM445 1075h10v10h-10zM835 1075h20v10h-20zM1315 1075h10v10h-10zM215 1085h10v10h-10zM465 1085h10v10h-10zM1045 1085h10v10h-10zM1345 1085h10v10h-10zM185 1095h10v10h-10zM455 1095h10v10h-10zM835 1095h10v10h-10zM195 1105h10v10h-10zM445 1105h20v10h-20zM515 1105h10v10h-10zM645 1105h10v10h-10zM725 1105h10v10h-10zM875 1105h10v10h-10zM925 1115h20v10h-20zM1035 1115h10v10h-10zM1155 1115h10v10h-10zM535 1125h10v10h-10zM1025 1125h20v10h-20zM1085 1125h10v10h-10zM1155 1125h10v10h-10zM645 1135h10v10h-10zM1075 1135h10v10h-10zM1245 1135h10v10h-10zM1345 1135h10v10h-10zM1055 1145h10v10h-10zM1335 1145h10v10h-10zM385 1155h10v10h-10zM495 1155h10v10h-10zM635 1155h10v10h-10zM665 1155h10v10h-10zM385 1165h10v10h-10zM455 1165h10v10h-10zM655 1165h10v10h-10zM1215 1165h10v10h-10zM1235 1165h10v10h-10zM315 1175h20v10h-20zM455 1175h10v10h-10zM645 1175h10v10h-10zM775 1175h10v10h-10zM795 1175h20v10h-20zM365 1185h10v10h-10zM545 1185h20v10h-20zM645 1185h10v10h-10zM1045 1185h10v10h-10zM1095 1185h10v10h-10zM1295 1185h10v10h-10zM1315 1185h10v10h-10zM355 1195h20v10h-20zM505 1195h10v10h-10zM665 1195h20v10h-20zM515 1205h10v10h-10zM1355 1205h10v10h-10zM525 1215h10v10h-10zM855 1215h10v10h-10zM1335 1215h10v10h-10zM735 1225h10v10h-10zM865 1225h10v10h-10zM1125 1225h10v10h-10zM1315 1225h10v10h-10zM505 1235h10v10h-10zM855 1235h20v10h-20zM1245 1235h10v10h-10zM1295 1235h10v10h-10zM345 1245h10v10h-10zM645 1245h10v10h-10zM685 1245h10v10h-10zM705 1245h10v10h-10zM725 1245h10v10h-10zM745 1245h10v10h-10zM845 1245h10v10h-10zM965 1245h10v10h-10zM1235 1245h10v10h-10zM265 1255h20v10h-20zM695 1255h10v10h-10zM735 1255h10v10h-10zM805 1255h10v10h-10zM975 1255h10v10h-10zM1235 1255h10v10h-10zM635 1265h10v10h-10zM835 1265h10v10h-10zM1275 1265h10v10h-10zM1355 1265h10v10h-10zM255 1275h10v10h-10zM345 1275h10v10h-10zM485 1275h20v10h-20zM565 1275h10v10h-10zM825 1275h10v10h-10zM965 1275h10v10h-10zM1295 1275h10v10h-10zM345 1285h10v10h-10zM405 1285h10v10h-10zM475 1285h10v10h-10zM565 1285h10v10h-10zM585 1285h10v10h-10zM685 1285h10v10h-10zM945 1285h10v10h-10zM1245 1285h10v10h-10zM245 1295h10v10h-10zM405 1295h10v10h-10zM1055 1305h10v10h-10zM1255 1305h10v10h-10z"/>
<path fill="#0066ff" d="M245 115h10v10h-10zM325 115h30v10h-30zM425 115h10v10h-10zM515 115h10v10h-10zM585 115h10v10h-10zM725 115h10v10h-10zM745 115h10v10h-10zM775 115h10v10h-10zM845 115h10v10h-10zM925 115h10v10h-10zM1085 115h10v10h-10zM1195 115h10v10h-10zM1295 115h10v10h-10zM265 125h10v10h-10zM415 125h10v10h-10zM435 125h20v10h-20zM465 125h10v10h-10zM605 125h10v10h-10zM625 125h10v10h-10zM785 125h10v10h-10zM845 125h10v10h-10zM895 125h10v10h-10zM955 125h10v10h-10zM1295 125h10v10h-10zM255 135h10v10h-10zM325 135h10v10h-10zM355 135h10v10h-10zM375 135h20v10h-20zM575 135h10v10h-10zM625 135h10v10h-10zM655 135h10v10h-10zM795 135h30v10h-30zM885 135h10v10h-10zM995 135h10v10h-10zM1095 135h10v10h-10zM1175 135h10v10h-10zM195 145h10v10h-10zM225 145h10v10h-10zM245 145h10v10h-10zM265 145h10v10h-10zM625 145h20v10h-20zM675 145h10v10h-10zM715 145h10v10h-10zM875 145h20v10h-20zM975 145h10v10h-10zM1065 145h10v10h-10zM1165 145h10v10h-10zM1235 145h10v10h-10zM1315 145h10v10h-10zM295 155h10v10h-10zM385 155h20v10h-20zM425 155h10v10h-10zM465 155h10v10h-10zM495 155h10v10h-10zM555 155h20v10h-20zM625 155h10v10h-10zM655 155h10v10h-10zM685 155h20v10h-20zM775 155h10v10h-10zM825 155h10v10h-10zM925 155h10v10h-10zM1065 155h10v10h-10zM1115 155h10v10h-10zM1185 155h10v10h-10zM1215 155h20v10h-20zM1285 155h10v10h-10zM185 165h10v10h-10zM255 165h20v10h-20zM305 165h10v10h-10zM425 165h10v10h-10zM495 165h10v10h-10zM535 165h10v10h-10zM775 165h10v10h-10zM805 165h10v10h-10zM895 165h20v10h-20zM935 165h20v10h-20zM985 165h10v10h-10zM1065 165h10v10h-10zM1085 165h10v10h-10zM1135 165h10v10h-10zM1165 165h10v10h-10zM1355 165h10v10h-10zM235 175h10v10h-10zM445 175h10v10h-10zM525 175h10v10h-10zM545 175h10v10h-10zM635 175h10v10h-10zM725 175h10v10h-10zM745 175h10v10h-10zM1015 175h10v10h-10zM1225 175h10v10h-10zM1245 175h10v10h-10zM1305 175h10v10h-10zM1345 175h20v10h-20zM195 185h10v10h-10zM305 185h10v10h-10zM415 185h10v10h-10zM435 185h20v10h-20zM625 185h10v10h-10zM665 185h10v10h-10zM875 185h10v10h-10zM895 185h10v10h-10zM985 185h30v10h-30zM1045 185h20v10h-20zM1075 185h10v10h-10zM1135 185h10v10h-10zM1225 185h20v10h-20zM275 195h20v10h-20zM425 195h30v10h-30zM515 195h10v10h-10zM625 195h10v10h-10zM675 195h20v10h-20zM865 195h10v10h-10zM965 195h20v10h-20zM1055 195h10v10h-10zM1085 195h10v10h-10zM1135 195h10v10h-10zM1295 195h10v10h-10zM195 205h20v10h-20zM255 205h30v10h-30zM425 205h10v10h-10zM575 205h10v10h-10zM625 205h10v10h-10zM795 205h20v10h-20zM855 205h10v10h-10zM1085 205h10v10h-10zM1195 205h10v10h-10zM1265 205h10v10h-10zM185 215h10v10h-10zM445 215h10v10h-10zM535 215h10v10h-10zM565 215h20v10h-20zM615 215h10v10h-10zM795 215h10v10h-10zM855 215h10v10h-10zM975 215h10v10h-10zM1065 215h10v10h-10zM1095 215h10v10h-10zM1115 215h10v10h-10zM1185 215h10v10h-10zM1315 215h10v10h-10zM185 225h10v10h-10zM235 225h10v10h-10zM325 225h10v10h-10zM395 225h10v10h-10zM545 225h30v10h-30zM695 225h10v10h-10zM945 225h10v10h-10zM1135 225h20v10h-20zM185 235h10v10h-10zM415 235h10v10h-10zM555 235h10v10h-10zM605 235h20v10h-20zM845 235h10v10h-10zM955 235h10v10h-10zM995 235h10v10h-10zM1025 235h10v10h-10zM1085 235h10v10h-10zM1125 235h10v10h-10zM225 245h10v10h-10zM485 245h10v10h-10zM515 245h10v10h-10zM635 245h10v10h-10zM825 245h10v10h-10zM845 245h10v10h-10zM865 245h10v10h-10zM1005 245h10v10h-10zM1075 245h10v10h-10zM1205 245h10v10h-10zM1285 245h10v10h-10zM175 255h10v10h-10zM235 255h10v10h-10zM265 255h10v10h-10zM395 255h10v10h-10zM475 255h20v10h-20zM505 255h10v10h-10zM615 255h10v10h-10zM765 255h10v10h-10zM895 255h10v10h-10zM915 255h10v10h-10zM955 255h10v10h-10zM975 255h10v10h-10zM1075 255h10v10h-10zM1195 255h10v10h-10zM1225 255h10v10h-10zM1285 255h10v10h-10zM1345 255h10v10h-10zM235 265h10v10h-10zM265 265h10v10h-10zM345 265h10v10h-10zM395 265h10v10h-10zM415 265h10v10h-10zM525 265h10v10h-10zM565 265h10v10h-10zM585 265h10v10h-10zM655 265h10v10h-10zM675 265h10v10h-10zM705 265h10v10h-10zM755 265h10v10h-10zM775 265h10v10h-10zM805 265h10v10h-10zM825 265h20v10h-20zM895 265h10v10h-10zM945 265h10v10h-10zM975 265h10v10h-10zM995 265h10v10h-10zM1105 265h10v10h-10zM1165 265h10v10h-10zM1285 265h10v10h-10zM205 275h10v10h-10zM385 275h10v10h-10zM425 275h10v10h-10zM535 275h10v10h-10zM555 275h10v10h-10zM675 275h10v10h-10zM725 275h10v10h-10zM765 275h10v10h-10zM805 275h10v10h-10zM945 275h10v10h-10zM985 275h20v10h-20zM1015 275h10v10h-10zM1065 275h10v10h-10zM1175 275h20v10h-20zM1295 275h10v10h-10zM205 285h30v10h-30zM385 285h10v10h-10zM535 285h10v10h-10zM685 285h10v10h-10zM785 285h10v10h-10zM885 285h10v10h-10zM955 285h30v10h-30zM1015 285h10v10h-10zM1045 285h10v10h-10zM1105 285h10v10h-10zM1155 285h10v10h-10zM1245 285h10v10h-10zM1275 285h10v10h-10zM1325 285h20v10h-20zM185 295h10v10h-10zM235 295h20v10h-20zM285 295h10v10h-10zM525 295h10v10h-10zM755 295h10v10h-10zM835 295h10v10h-10zM965 295h10v10h-10zM1035 295h10v10h-10zM1075 295h10v10h-10zM1155 295h20v10h-20zM1205 295h10v10h-10zM1225 295h20v10h-20zM1255 295h10v10h-10zM1275 295h10v10h-10zM1335 295h20v10h-20zM265 305h10v10h-10zM295 305h10v10h-10zM355 305h20v10h-20zM405 305h10v10h-10zM455 305h10v10h-10zM475 305h20v10h-20zM695 305h10v10h-10zM885 305h20v10h-20zM995 305h10v10h-10zM1055 305h30v10h-30zM1285 305h20v10h-20zM245 315h10v10h-10zM335 315h10v10h-10zM365 315h20v10h-20zM415 315h20v10h-20zM445 315h10v10h-10zM465 315h10v10h-10zM575 315h10v10h-10zM655 315h10v10h-10zM675 315h10v10h-10zM695 315h10v10h-10zM865 315h10v10h-10zM895 315h10v10h-10zM1005 315h10v10h-10zM1095 315h10v10h-10zM335 325h10v10h-10zM415 325h10v10h-10zM465 325h10v10h-10zM515 325h10v10h-10zM565 325h20v10h-20zM605 325h10v10h-10zM655 325h10v10h-10zM775 325h10v10h-10zM865 325h10v10h-10zM975 325h10v10h-10zM1275 325h10v10h-10zM1295 325h10v10h-10zM165 335h10v10h-10zM205 335h10v10h-10zM225 335h10v10h-10zM305 335h10v10h-10zM325 335h20v10h-20zM545 335h10v10h-10zM915 335h10v10h-10zM1015 335h10v10h-10zM1055 335h20v10h-20zM1105 335h10v10h-10zM1135 335h10v10h-10zM1195 335h10v10h-10zM1225 335h10v10h-10zM1345 335h10v10h-10zM165 345h10v10h-10zM225 345h10v10h-10zM285 345h10v10h-10zM325 345h10v10h-10zM385 345h10v10h-10zM495 345h10v10h-10zM585 345h10v10h-10zM775 345h10v10h-10zM875 345h10v10h-10zM895 345h10v10h-10zM915 345h10v10h-10zM1005 345h30v10h-30zM1045 345h10v10h-10zM1065 345h10v10h-10zM1095 345h10v10h-10zM1245 345h40v10h-40zM215 355h10v10h-10zM245 355h10v10h-10zM385 355h10v10h-10zM415 355h10v10h-10zM525 355h10v10h-10zM565 355h10v10h-10zM605 355h10v10h-10zM655 355h20v10h-20zM765 355h20v10h-20zM825 355h10v10h-10zM855 355h10v10h-10zM905 355h10v10h-10zM1005 355h20v10h-20zM1045 355h10v10h-10zM1135 355h10v10h-10zM1175 355h10v10h-10zM1245 355h10v10h-10zM1345 355h20v10h-20zM165 365h20v10h-20zM215 365h10v10h-10zM275 365h10v10h-10zM405 365h30v10h-30zM455 365h20v10h-20zM525 365h20v10h-20zM585 365h20v10h-20zM645 365h10v10h-10zM775 365h10v10h-10zM795 365h10v10h-10zM825 365h10v10h-10zM845 365h20v10h-20zM905 365h10v10h-10zM945 365h10v10h-10zM975 365h10v10h-10zM1115 365h10v10h-10zM165 375h10v10h-10zM305 375h20v10h-20zM355 375h10v10h-10zM405 375h10v10h-10zM455 375h10v10h-10zM535 375h20v10h-20zM585 375h10v10h-10zM615 375h10v10h-10zM745 375h10v10h-10zM815 375h10v10h-10zM845 375h10v10h-10zM875 375h10v10h-10zM955 375h10v10h-10zM975 375h10v10h-10zM1145 375h10v10h-10zM1345 375h10v10h-10zM165 385h20v10h-20zM445 385h10v10h-10zM585 385h10v10h-10zM775 385h10v10h-10zM835 385h10v10h-10zM865 385h20v10h-20zM905 385h10v10h-10zM1085 385h10v10h-10zM1125 385h10v10h-10zM1175 385h10v10h-10zM1225 385h10v10h-10zM1355 385h10v10h-10zM175 395h10v10h-10zM285 395h10v10h-10zM315 395h10v10h-10zM415 395h20v10h-20zM545 395h10v10h-10zM665 395h10v10h-10zM695 395h10v10h-10zM735 395h10v10h-10zM1215 395h10v10h-10zM1305 395h20v10h-20zM165 405h10v10h-10zM215 405h10v10h-10zM235 405h20v10h-20zM265 405h10v10h-10zM295 405h10v10h-10zM315 405h10v10h-10zM425 405h10v10h-10zM565 405h10v10h-10zM735 405h10v10h-10zM825 405h20v10h-20zM965 405h10v10h-10zM995 405h10v10h-10zM1125 405h30v10h-30zM1185 405h10v10h-10zM1225 405h10v10h-10zM225 415h20v10h-20zM255 415h10v10h-10zM435 415h10v10h-10zM755 415h10v10h-10zM895 415h10v10h-10zM1155 415h10v10h-10zM1195 415h10v10h-10zM1265 415h10v10h-10zM205 425h10v10h-10zM255 425h10v10h-10zM345 425h10v10h-10zM395 425h10v10h-10zM455 425h10v10h-10zM595 425h20v10h-20zM645 425h10v10h-10zM825 425h10v10h-10zM915 425h10v10h-10zM1075 425h10v10h-10zM1295 425h10v10h-10zM175 435h10v10h-10zM265 435h10v10h-10zM345 435h10v10h-10zM395 435h10v10h-10zM495 435h10v10h-10zM515 435h10v10h-10zM545 435h10v10h-10zM865 435h20v10h-20zM895 435h10v10h-10zM915 435h10v10h-10zM935 435h10v10h-10zM955 435h10v10h-10zM1085 435h10v10h-10zM1315 435h10v10h-10zM1345 435h10v10h-10zM375 445h10v10h-10zM445 445h20v10h-20zM485 445h10v10h-10zM505 445h20v10h-20zM555 445h10v10h-10zM595 445h10v10h-10zM945 445h10v10h-10zM1045 445h10v10h-10zM1155 445h10v10h-10zM1175 445h10v10h-10zM1245 445h10v10h-10zM1305 445h10v10h-10zM1325 445h10v10h-10zM165 455h10v10h-10zM315 455h10v10h-10zM505 455h10v10h-10zM575 455h10v10h-10zM605 455h10v10h-10zM725 455h10v10h-10zM905 455h30v10h-30zM945 455h20v10h-20zM1155 455h10v10h-10zM1335 455h10v10h-10zM315 465h10v10h-10zM425 465h10v10h-10zM505 465h10v10h-10zM545 465h10v10h-10zM745 465h10v10h-10zM785 465h20v10h-20zM815 465h10v10h-10zM885 465h10v10h-10zM925 465h10v10h-10zM975 465h20v10h-20zM1005 465h10v10h-10zM1055 465h20v10h-20zM1105 465h10v10h-10zM1195 465h10v10h-10zM365 475h10v10h-10zM395 475h10v10h-10zM495 475h30v10h-30zM535 475h10v10h-10zM635 475h20v10h-20zM685 475h10v10h-10zM865 475h10v10h-10zM895 475h10v10h-10zM925 475h10v10h-10zM1005 475h10v10h-10zM1035 475h20v10h-20zM1065 475h10v10h-10zM1125 475h10v10h-10zM1145 475h20v10h-20zM1235 475h20v10h-20zM1275 475h10v10h-10zM1305 475h10v10h-10zM235 485h10v10h-10zM305 485h10v10h-10zM335 485h10v10h-10zM365 485h20v10h-20zM405 485h10v10h-10zM445 485h10v10h-10zM545 485h10v10h-10zM625 485h10v10h-10zM675 485h10v10h-10zM745 485h20v10h-20zM865 485h10v10h-10zM955 485h10v10h-10zM995 485h10v10h-10zM1175 485h10v10h-10zM1255 485h10v10h-10zM1285 485h10v10h-10zM395 495h10v10h-10zM425 495h10v10h-10zM465 495h10v10h-10zM535 495h10v10h-10zM795 495h10v10h-10zM915 495h20v10h-20zM945 495h10v10h-10zM995 495h10v10h-10zM1195 495h10v10h-10zM1265 495h10v10h-10zM1345 495h20v10h-20zM175 505h10v10h-10zM435 505h20v10h-20zM465 505h10v10h-10zM515 505h10v10h-10zM575 505h10v10h-10zM595 505h10v10h-10zM685 505h10v10h-10zM725 505h10v10h-10zM915 505h10v10h-10zM955 505h10v10h-10zM1025 505h10v10h-10zM1045 505h10v10h-10zM1185 505h10v10h-10zM1285 505h10v10h-10zM325 515h10v10h-10zM645 515h10v10h-10zM745 515h10v10h-10zM765 515h10v10h-10zM815 515h10v10h-10zM1045 515h10v10h-10zM1145 515h10v10h-10zM1255 515h20v10h-20zM205 525h10v10h-10zM445 525h10v10h-10zM585 525h20v10h-20zM745 525h10v10h-10zM775 525h10v10h-10zM845 525h10v10h-10zM925 525h20v10h-20zM975 525h10v10h-10zM995 525h10v10h-10zM1245 525h10v10h-10zM1355 525h10v10h-10zM215 535h10v10h-10zM285 535h10v10h-10zM455 535h10v10h-10zM505 535h20v10h-20zM575 535h10v10h-10zM675 535h20v10h-20zM705 535h10v10h-10zM725 535h10v10h-10zM815 535h10v10h-10zM875 535h10v10h-10zM985 535h10v10h-10zM1005 535h10v10h-10zM1065 535h10v10h-10zM1095 535h10v10h-10zM1135 535h10v10h-10zM1155 535h10v10h-10zM1245 535h10v10h-10zM205 545h10v10h-10zM255 545h20v10h-20zM435 545h10v10h-10zM455 545h10v10h-10zM565 545h10v10h-10zM745 545h10v10h-10zM835 545h20v10h-20zM965 545h10v10h-10zM1025 545h30v10h-30zM1155 545h10v10h-10zM1225 545h20v10h-20zM385 555h20v10h-20zM425 555h10v10h-10zM535 555h10v10h-10zM685 555h10v10h-10zM755 555h10v10h-10zM785 555h10v10h-10zM825 555h10v10h-10zM955 555h30v10h-30zM1005 555h30v10h-30zM1155 555h10v10h-10zM165 565h10v10h-10zM435 565h10v10h-10zM505 565h20v10h-20zM635 565h20v10h-20zM755 565h10v10h-10zM975 565h10v10h-10zM1185 565h10v10h-10zM1215 565h10v10h-10zM195 575h10v10h-10zM235 575h10v10h-10zM275 575h10v10h-10zM365 575h10v10h-10zM465 575h10v10h-10zM715 575h10v10h-10zM865 575h20v10h-20zM965 575h10v10h-10zM1175 575h10v10h-10zM1225 575h10v10h-10zM1285 575h10v10h-10zM1335 575h10v10h-10zM265 585h10v10h-10zM335 585h10v10h-10zM475 585h10v10h-10zM555 585h10v10h-10zM655 585h20v10h-20zM875 585h10v10h-10zM935 585h10v10h-10zM1005 585h10v10h-10zM1285 585h10v10h-10zM1305 585h10v10h-10zM315 595h10v10h-10zM385 595h10v10h-10zM415 595h10v10h-10zM545 595h10v10h-10zM905 595h10v10h-10zM925 595h10v10h-10zM1255 595h10v10h-10zM1285 595h10v10h-10zM1325 595h10v10h-10zM165 605h10v10h-10zM205 605h20v10h-20zM265 605h10v10h-10zM435 605h20v10h-20zM515 605h10v10h-10zM555 605h10v10h-10zM575 605h10v10h-10zM895 605h10v10h-10zM1005 605h20v10h-20zM1075 605h10v10h-10zM1125 605h10v10h-10zM1255 605h20v10h-20zM1295 605h10v10h-10zM1335 605h10v10h-10zM205 615h10v10h-10zM445 615h10v10h-10zM465 615h20v10h-20zM645 615h30v10h-30zM855 615h10v10h-10zM895 615h10v10h-10zM935 615h10v10h-10zM1145 615h10v10h-10zM1195 615h10v10h-10zM1255 615h10v10h-10zM205 625h10v10h-10zM365 625h10v10h-10zM385 625h10v10h-10zM605 625h10v10h-10zM635 625h10v10h-10zM875 625h10v10h-10zM1115 625h10v10h-10zM1235 625h10v10h-10zM1265 625h10v10h-10zM215 635h10v10h-10zM295 635h20v10h-20zM365 635h10v10h-10zM535 635h10v10h-10zM585 635h10v10h-10zM615 635h10v10h-10zM865 635h10v10h-10zM935 635h10v10h-10zM1065 635h10v10h-10zM1095 635h10v10h-10zM1185 635h10v10h-10zM1205 635h10v10h-10zM1275 635h20v10h-20zM215 645h20v10h-20zM305 645h10v10h-10zM435 645h10v10h-10zM485 645h10v10h-10zM525 645h20v10h-20zM585 645h10v10h-10zM875 645h10v10h-10zM935 645h10v10h-10zM1105 645h10v10h-10zM1205 645h10v10h-10zM1245 645h20v10h-20zM1285 645h10v10h-10zM165 655h10v10h-10zM225 655h20v10h-20zM305 655h20v10h-20zM345 655h10v10h-10zM375 655h10v10h-10zM395 655h10v10h-10zM505 655h10v10h-10zM545 655h10v10h-10zM665 655h10v10h-10zM885 655h10v10h-10zM965 655h10v10h-10zM1035 655h10v10h-10zM1065 655h10v10h-10zM1175 655h10v10h-10zM175 665h10v10h-10zM475 665h10v10h-10zM525 665h10v10h-10zM625 665h20v10h-20zM655 665h10v10h-10zM865 665h10v10h-10zM985 665h20v10h-20zM1035 665h20v10h-20zM1065 665h10v10h-10zM1185 665h10v10h-10zM1285 665h10v10h-10zM1355 665h10v10h-10zM355 675h10v10h-10zM495 675h10v10h-10zM925 675h10v10h-10zM1005 675h10v10h-10zM1035 675h10v10h-10zM1055 675h10v10h-10zM1125 675h10v10h-10zM1285 675h10v10h-10zM235 685h20v10h-20zM595 685h10v10h-10zM655 685h10v10h-10zM955 685h10v10h-10zM995 685h20v10h-20zM1145 685h10v10h-10zM1335 685h10v10h-10zM245 695h10v10h-10zM295 695h10v10h-10zM325 695h10v10h-10zM435 695h10v10h-10zM495 695h10v10h-10zM945 695h10v10h-10zM1005 695h10v10h-10zM1265 695h30v10h-30zM1315 695h10v10h-10zM195 705h10v10h-10zM285 705h10v10h-10zM435 705h10v10h-10zM535 705h10v10h-10zM925 705h10v10h-10zM985 705h10v10h-10zM1025 705h10v10h-10zM1055 705h10v10h-10zM1095 705h10v10h-10zM1205 705h10v10h-10zM655 715h10v10h-10zM275 725h10v10h-10zM445 725h10v10h-10zM515 725h10v10h-10zM555 725h10v10h-10zM635 725h10v10h-10zM215 735h20v10h-20zM335 735h10v10h-10zM385 735h20v10h-20zM415 735h10v10h-10zM435 735h10v10h-10zM465 735h10v10h-10zM565 735h10v10h-10zM595 735h10v10h-10zM655 735h10v10h-10zM875 735h10v10h-10zM975 735h20v10h-20zM1215 735h10v10h-10zM1335 735h10v10h-10zM365 745h10v10h-10zM405 745h10v10h-10zM455 745h10v10h-10zM515 745h10v10h-10zM555 745h10v10h-10zM625 745h10v10h-10zM645 745h10v10h-10zM845 745h10v10h-10zM1145 745h10v10h-10zM1265 745h10v10h-10zM215 755h20v10h-20zM325 755h10v10h-10zM405 755h10v10h-10zM595 755h10v10h-10zM625 755h10v10h-10zM965 755h10v10h-10zM1055 755h20v10h-20zM1145 755h20v10h-20zM1195 755h20v10h-20zM1255 755h10v10h-10zM1305 755h10v10h-10zM275 765h10v10h-10zM345 765h10v10h-10zM435 765h10v10h-10zM645 765h20v10h-20zM855 765h10v10h-10zM985 765h10v10h-10zM1015 765h10v10h-10zM1125 765h10v10h-10zM1145 765h10v10h-10zM1175 765h10v10h-10zM1195 765h10v10h-10zM235 775h10v10h-10zM295 775h20v10h-20zM405 775h10v10h-10zM475 775h20v10h-20zM575 775h10v10h-10zM655 775h10v10h-10zM985 775h10v10h-10zM1015 775h10v10h-10zM1035 775h10v10h-10zM1095 775h20v10h-20zM1135 775h10v10h-10zM1175 775h10v10h-10zM1195 775h10v10h-10zM1295 775h20v10h-20zM235 785h10v10h-10zM335 785h10v10h-10zM365 785h10v10h-10zM445 785h20v10h-20zM475 785h10v10h-10zM545 785h10v10h-10zM605 785h10v10h-10zM635 785h20v10h-20zM885 785h10v10h-10zM905 785h10v10h-10zM945 785h10v10h-10zM1025 785h10v10h-10zM1175 785h10v10h-10zM1245 785h10v10h-10zM1295 785h10v10h-10zM225 795h10v10h-10zM255 795h20v10h-20zM305 795h10v10h-10zM325 795h10v10h-10zM345 795h10v10h-10zM425 795h20v10h-20zM545 795h10v10h-10zM655 795h10v10h-10zM885 795h50v10h-50zM965 795h10v10h-10zM1255 795h10v10h-10zM1295 795h10v10h-10zM235 805h10v10h-10zM285 805h10v10h-10zM305 805h10v10h-10zM335 805h10v10h-10zM355 805h10v10h-10zM425 805h10v10h-10zM605 805h10v10h-10zM635 805h10v10h-10zM845 805h10v10h-10zM885 805h20v10h-20zM985 805h10v10h-10zM1225 805h10v10h-10zM1295 805h10v10h-10zM225 815h10v10h-10zM395 815h10v10h-10zM465 815h10v10h-10zM615 815h10v10h-10zM685 815h10v10h-10zM945 815h10v10h-10zM1035 815h10v10h-10zM1055 815h20v10h-20zM1225 815h10v10h-10zM1335 815h10v10h-10zM165 825h10v10h-10zM235 825h10v10h-10zM285 825h10v10h-10zM625 825h10v10h-10zM765 825h20v10h-20zM875 825h10v10h-10zM975 825h10v10h-10zM1035 825h20v10h-20zM1165 825h10v10h-10zM475 835h20v10h-20zM575 835h20v10h-20zM755 835h30v10h-30zM795 835h10v10h-10zM905 835h10v10h-10zM975 835h10v10h-10zM1015 835h10v10h-10zM1245 835h10v10h-10zM1285 835h10v10h-10zM245 845h10v10h-10zM265 845h10v10h-10zM425 845h30v10h-30zM615 845h10v10h-10zM635 845h10v10h-10zM695 845h10v10h-10zM775 845h10v10h-10zM835 845h10v10h-10zM865 845h10v10h-10zM955 845h10v10h-10zM1025 845h10v10h-10zM1045 845h10v10h-10zM1085 845h10v10h-10zM1145 845h10v10h-10zM1235 845h10v10h-10zM1275 845h10v10h-10zM1295 845h10v10h-10zM1315 845h20v10h-20zM425 855h10v10h-10zM525 855h20v10h-20zM625 855h30v10h-30zM685 855h10v10h-10zM775 855h10v10h-10zM915 855h10v10h-10zM1095 855h10v10h-10zM1125 855h10v10h-10zM295 865h10v10h-10zM455 865h10v10h-10zM625 865h10v10h-10zM645 865h10v10h-10zM715 865h10v10h-10zM795 865h10v10h-10zM835 865h10v10h-10zM905 865h20v10h-20zM985 865h10v10h-10zM1015 865h30v10h-30zM1145 865h30v10h-30zM1275 865h10v10h-10zM1315 865h10v10h-10zM275 875h10v10h-10zM295 875h10v10h-10zM385 875h10v10h-10zM425 875h30v10h-30zM495 875h10v10h-10zM515 875h20v10h-20zM545 875h10v10h-10zM575 875h10v10h-10zM645 875h10v10h-10zM775 875h10v10h-10zM915 875h10v10h-10zM975 875h10v10h-10zM1105 875h10v10h-10zM1155 875h20v10h-20zM1235 875h10v10h-10zM1305 875h10v10h-10zM1355 875h10v10h-10zM385 885h10v10h-10zM435 885h10v10h-10zM485 885h10v10h-10zM525 885h10v10h-10zM625 885h10v10h-10zM735 885h10v10h-10zM895 885h20v10h-20zM1075 885h10v10h-10zM1335 885h10v10h-10zM215 895h10v10h-10zM405 895h10v10h-10zM555 895h10v10h-10zM615 895h10v10h-10zM715 895h10v10h-10zM955 895h10v10h-10zM1065 895h10v10h-10zM1085 895h10v10h-10zM1145 895h10v10h-10zM1195 895h10v10h-10zM1325 895h10v10h-10zM415 905h10v10h-10zM435 905h20v10h-20zM635 905h10v10h-10zM825 905h10v10h-10zM915 905h10v10h-10zM1045 905h10v10h-10zM1155 905h20v10h-20zM1195 905h10v10h-10zM195 915h10v10h-10zM245 915h10v10h-10zM365 915h10v10h-10zM415 915h10v10h-10zM455 915h10v10h-10zM495 915h10v10h-10zM645 915h20v10h-20zM765 915h10v10h-10zM875 915h10v10h-10zM945 915h10v10h-10zM965 915h10v10h-10zM995 915h10v10h-10zM1035 915h10v10h-10zM1065 915h10v10h-10zM1095 915h10v10h-10zM1195 915h10v10h-10zM535 925h10v10h-10zM655 925h10v10h-10zM725 925h10v10h-10zM785 925h20v10h-20zM895 925h10v10h-10zM1055 925h10v10h-10zM1075 925h10v10h-10zM1095 925h10v10h-10zM1135 925h10v10h-10zM1275 925h10v10h-10zM1305 925h30v10h-30zM1345 925h10v10h-10zM185 935h10v10h-10zM235 935h10v10h-10zM265 935h10v10h-10zM495 935h10v10h-10zM535 935h20v10h-20zM565 935h20v10h-20zM655 935h10v10h-10zM805 935h10v10h-10zM895 935h10v10h-10zM1135 935h10v10h-10zM1175 935h10v10h-10zM1245 935h10v10h-10zM1295 935h20v10h-20zM1325 935h30v10h-30zM175 945h10v10h-10zM265 945h10v10h-10zM295 945h10v10h-10zM315 945h10v10h-10zM425 945h10v10h-10zM465 945h10v10h-10zM545 945h10v10h-10zM565 945h20v10h-20zM675 945h20v10h-20zM915 945h20v10h-20zM955 945h10v10h-10zM1045 945h10v10h-10zM1065 945h20v10h-20zM1135 945h10v10h-10zM1175 945h20v10h-20zM1255 945h10v10h-10zM235 955h10v10h-10zM275 955h10v10h-10zM385 955h10v10h-10zM425 955h10v10h-10zM505 955h10v10h-10zM525 955h10v10h-10zM915 955h20v10h-20zM955 955h10v10h-10zM1015 955h10v10h-10zM1035 955h10v10h-10zM1085 955h20v10h-20zM1135 955h10v10h-10zM1195 955h10v10h-10zM1225 955h10v10h-10zM1335 955h10v10h-10zM205 965h10v10h-10zM225 965h10v10h-10zM255 965h10v10h-10zM285 965h10v10h-10zM305 965h10v10h-10zM355 965h10v10h-10zM615 965h10v10h-10zM635 965h20v10h-20zM675 965h10v10h-10zM705 965h10v10h-10zM885 965h10v10h-10zM1075 965h10v10h-10zM1155 965h20v10h-20zM1245 965h10v10h-10zM1305 965h10v10h-10zM1335 965h10v10h-10zM165 975h10v10h-10zM255 975h20v10h-20zM325 975h10v10h-10zM425 975h10v10h-10zM535 975h20v10h-20zM665 975h10v10h-10zM685 975h10v10h-10zM705 975h10v10h-10zM885 975h20v10h-20zM925 975h30v10h-30zM1015 975h10v10h-10zM1045 975h20v10h-20zM1195 975h20v10h-20zM1285 975h10v10h-10zM1355 975h10v10h-10zM185 985h10v10h-10zM495 985h10v10h-10zM595 985h10v10h-10zM715 985h10v10h-10zM785 985h10v10h-10zM875 985h20v10h-20zM945 985h10v10h-10zM995 985h10v10h-10zM1055 985h10v10h-10zM1195 985h10v10h-10zM1305 985h10v10h-10zM215 995h20v10h-20zM265 995h10v10h-10zM495 995h10v10h-10zM525 995h10v10h-10zM585 995h10v10h-10zM715 995h20v10h-20zM745 995h20v10h-20zM1055 995h10v10h-10zM1165 995h10v10h-10zM1225 995h10v10h-10zM1275 995h10v10h-10zM295 1005h10v10h-10zM325 1005h20v10h-20zM465 1005h10v10h-10zM525 1005h10v10h-10zM635 1005h10v10h-10zM725 1005h10v10h-10zM865 1005h10v10h-10zM955 1005h10v10h-10zM1015 1005h10v10h-10zM1045 1005h10v10h-10zM1105 1005h10v10h-10zM1345 1005h10v10h-10zM195 1015h10v10h-10zM225 1015h10v10h-10zM345 1015h10v10h-10zM455 1015h10v10h-10zM505 1015h10v10h-10zM535 1015h10v10h-10zM735 1015h10v10h-10zM785 1015h10v10h-10zM1005 1015h10v10h-10zM1075 1015h10v10h-10zM1215 1015h10v10h-10zM1245 1015h10v10h-10zM195 1025h10v10h-10zM225 1025h20v10h-20zM275 1025h10v10h-10zM365 1025h20v10h-20zM785 1025h10v10h-10zM1005 1025h10v10h-10zM1035 1025h10v10h-10zM1215 1025h10v10h-10zM1285 1025h10v10h-10zM1325 1025h10v10h-10zM305 1035h10v10h-10zM365 1035h30v10h-30zM405 1035h10v10h-10zM485 1035h10v10h-10zM525 1035h10v10h-10zM595 1035h10v10h-10zM695 1035h10v10h-10zM735 1035h10v10h-10zM765 1035h10v10h-10zM825 1035h10v10h-10zM865 1035h10v10h-10zM1005 1035h10v10h-10zM1055 1035h10v10h-10zM1185 1035h10v10h-10zM1325 1035h10v10h-10zM1355 1035h10v10h-10zM325 1045h10v10h-10zM465 1045h10v10h-10zM525 1045h10v10h-10zM575 1045h10v10h-10zM745 1045h10v10h-10zM765 1045h10v10h-10zM785 1045h10v10h-10zM1035 1045h10v10h-10zM1055 1045h10v10h-10zM1075 1045h10v10h-10zM1105 1045h20v10h-20zM1175 1045h10v10h-10zM1245 1045h10v10h-10zM1345 1045h10v10h-10zM315 1055h10v10h-10zM335 1055h10v10h-10zM355 1055h10v10h-10zM395 1055h10v10h-10zM415 1055h10v10h-10zM555 1055h10v10h-10zM875 1055h10v10h-10zM1345 1055h10v10h-10zM255 1065h10v10h-10zM275 1065h10v10h-10zM345 1065h10v10h-10zM575 1065h10v10h-10zM605 1065h10v10h-10zM655 1065h10v10h-10zM755 1065h10v10h-10zM785 1065h20v10h-20zM965 1065h10v10h-10zM1085 1065h10v10h-10zM1305 1065h10v10h-10zM215 1075h10v10h-10zM475 1075h10v10h-10zM595 1075h20v10h-20zM655 1075h20v10h-20zM725 1075h10v10h-10zM825 1075h10v10h-10zM855 1075h10v10h-10zM1055 1075h10v10h-10zM1075 1075h10v10h-10zM1155 1075h10v10h-10zM225 1085h10v10h-10zM375 1085h10v10h-10zM395 1085h10v10h-10zM415 1085h10v10h-10zM585 1085h40v10h-40zM645 1085h10v10h-10zM725 1085h30v10h-30zM815 1085h10v10h-10zM975 1085h10v10h-10zM995 1085h10v10h-10zM1035 1085h10v10h-10zM1085 1085h10v10h-10zM1175 1085h10v10h-10zM1235 1085h10v10h-10zM1335 1085h10v10h-10zM215 1095h20v10h-20zM285 1095h10v10h-10zM365 1095h10v10h-10zM425 1095h10v10h-10zM475 1095h20v10h-20zM535 1095h10v10h-10zM585 1095h10v10h-10zM615 1095h10v10h-10zM705 1095h10v10h-10zM735 1095h10v10h-10zM865 1095h10v10h-10zM1055 1095h10v10h-10zM1235 1095h10v10h-10zM1285 1095h10v10h-10zM225 1105h20v10h-20zM255 1105h10v10h-10zM355 1105h10v10h-10zM465 1105h20v10h-20zM605 1105h10v10h-10zM735 1105h20v10h-20zM815 1105h10v10h-10zM885 1105h20v10h-20zM925 1105h10v10h-10zM1015 1105h10v10h-10zM1085 1105h10v10h-10zM1125 1105h10v10h-10zM1145 1105h10v10h-10zM1165 1105h10v10h-10zM1255 1105h10v10h-10zM215 1115h10v10h-10zM265 1115h10v10h-10zM335 1115h10v10h-10zM435 1115h30v10h-30zM555 1115h10v10h-10zM585 1115h10v10h-10zM635 1115h10v10h-10zM685 1115h10v10h-10zM825 1115h10v10h-10zM975 1115h10v10h-10zM1075 1115h10v10h-10zM1195 1115h10v10h-10zM1275 1115h10v10h-10zM1295 1115h10v10h-10zM285 1125h20v10h-20zM565 1125h10v10h-10zM595 1125h10v10h-10zM635 1125h10v10h-10zM725 1125h10v10h-10zM815 1125h10v10h-10zM975 1125h10v10h-10zM1145 1125h10v10h-10zM255 1135h10v10h-10zM355 1135h10v10h-10zM455 1135h10v10h-10zM595 1135h20v10h-20zM695 1135h10v10h-10zM755 1135h10v10h-10zM945 1135h10v10h-10zM1085 1135h10v10h-10zM1325 1135h10v10h-10zM295 1145h10v10h-10zM385 1145h20v10h-20zM415 1145h10v10h-10zM495 1145h10v10h-10zM865 1145h10v10h-10zM885 1145h10v10h-10zM935 1145h10v10h-10zM1095 1145h10v10h-10zM1145 1145h10v10h-10zM1345 1145h10v10h-10zM175 1155h10v10h-10zM285 1155h20v10h-20zM365 1155h10v10h-10zM405 1155h10v10h-10zM795 1155h10v10h-10zM815 1155h10v10h-10zM895 1155h10v10h-10zM1055 1155h10v10h-10zM1215 1155h10v10h-10zM1285 1155h10v10h-10zM1345 1155h10v10h-10zM225 1165h10v10h-10zM295 1165h10v10h-10zM335 1165h10v10h-10zM405 1165h10v10h-10zM505 1165h10v10h-10zM775 1165h10v10h-10zM875 1165h20v10h-20zM1145 1165h10v10h-10zM1165 1165h10v10h-10zM1185 1165h10v10h-10zM1265 1165h20v10h-20zM1355 1165h10v10h-10zM355 1175h10v10h-10zM375 1175h10v10h-10zM425 1175h10v10h-10zM445 1175h10v10h-10zM465 1175h10v10h-10zM545 1175h10v10h-10zM655 1175h10v10h-10zM785 1175h10v10h-10zM975 1175h10v10h-10zM1055 1175h10v10h-10zM1175 1175h10v10h-10zM1205 1175h10v10h-10zM1245 1175h20v10h-20zM215 1185h10v10h-10zM265 1185h10v10h-10zM385 1185h20v10h-20zM425 1185h10v10h-10zM465 1185h10v10h-10zM755 1185h10v10h-10zM775 1185h10v10h-10zM975 1185h20v10h-20zM1105 1185h10v10h-10zM1165 1185h10v10h-10zM1235 1185h10v10h-10zM1285 1185h10v10h-10zM1305 1185h10v10h-10zM1335 1185h20v10h-20zM275 1195h10v10h-10zM445 1195h10v10h-10zM495 1195h10v10h-10zM615 1195h10v10h-10zM645 1195h20v10h-20zM795 1195h10v10h-10zM1075 1195h20v10h-20zM1185 1195h10v10h-10zM1215 1195h10v10h-10zM1295 1195h10v10h-10zM225 1205h20v10h-20zM255 1205h10v10h-10zM305 1205h10v10h-10zM335 1205h10v10h-10zM395 1205h10v10h-10zM465 1205h10v10h-10zM605 1205h10v10h-10zM635 1205h10v10h-10zM685 1205h10v10h-10zM805 1205h10v10h-10zM915 1205h10v10h-10zM965 1205h10v10h-10zM175 1215h10v10h-10zM215 1215h10v10h-10zM255 1215h10v10h-10zM285 1215h10v10h-10zM315 1215h10v10h-10zM495 1215h10v10h-10zM545 1215h10v10h-10zM825 1215h20v10h-20zM875 1215h10v10h-10zM905 1215h10v10h-10zM925 1215h10v10h-10zM1025 1215h10v10h-10zM1045 1215h10v10h-10zM1065 1215h10v10h-10zM1105 1215h10v10h-10zM1125 1215h10v10h-10zM1205 1215h10v10h-10zM1315 1215h10v10h-10zM1355 1215h10v10h-10zM175 1225h10v10h-10zM375 1225h10v10h-10zM415 1225h10v10h-10zM585 1225h20v10h-20zM675 1225h10v10h-10zM745 1225h10v10h-10zM835 1225h10v10h-10zM905 1225h10v10h-10zM925 1225h10v10h-10zM1035 1225h10v10h-10zM1055 1225h10v10h-10zM1075 1225h10v10h-10zM1095 1225h10v10h-10zM1115 1225h10v10h-10zM1165 1225h10v10h-10zM1225 1225h10v10h-10zM1265 1225h10v10h-10zM1295 1225h10v10h-10zM1345 1225h10v10h-10zM205 1235h20v10h-20zM495 1235h10v10h-10zM555 1235h10v10h-10zM595 1235h10v10h-10zM755 1235h20v10h-20zM895 1235h20v10h-20zM1065 1235h10v10h-10zM1195 1235h10v10h-10zM285 1245h10v10h-10zM355 1245h10v10h-10zM385 1245h20v10h-20zM495 1245h10v10h-10zM585 1245h10v10h-10zM605 1245h10v10h-10zM785 1245h10v10h-10zM825 1245h10v10h-10zM995 1245h10v10h-10zM1045 1245h10v10h-10zM1075 1245h10v10h-10zM1165 1245h10v10h-10zM1185 1245h10v10h-10zM335 1255h10v10h-10zM555 1255h10v10h-10zM605 1255h10v10h-10zM635 1255h10v10h-10zM755 1255h10v10h-10zM785 1255h10v10h-10zM945 1255h10v10h-10zM985 1255h10v10h-10zM1195 1255h10v10h-10zM1215 1255h20v10h-20zM1355 1255h10v10h-10zM265 1265h10v10h-10zM295 1265h10v10h-10zM355 1265h10v10h-10zM445 1265h10v10h-10zM465 1265h10v10h-10zM515 1265h10v10h-10zM615 1265h10v10h-10zM685 1265h10v10h-10zM795 1265h10v10h-10zM945 1265h10v10h-10zM1215 1265h10v10h-10zM1235 1265h10v10h-10zM1295 1265h10v10h-10zM175 1275h10v10h-10zM335 1275h10v10h-10zM455 1275h20v10h-20zM685 1275h10v10h-10zM835 1275h10v10h-10zM1135 1275h10v10h-10zM1215 1275h20v10h-20zM1345 1275h10v10h-10zM205 1285h10v10h-10zM275 1285h10v10h-10zM355 1285h10v10h-10zM375 1285h10v10h-10zM395 1285h10v10h-10zM545 1285h20v10h-20zM605 1285h10v10h-10zM835 1285h10v10h-10zM1195 1285h10v10h-10zM1235 1285h10v10h-10zM1265 1285h10v10h-10zM1315 1285h20v10h-20zM175 1295h30v10h-30zM395 1295h10v10h-10zM475 1295h10v10h-10zM565 1295h10v10h-10zM755 1295h10v10h-10zM845 1295h10v10h-10zM1055 1295h10v10h-10zM1195 1295h10v10h-10zM1235 1295h10v10h-10zM1305 1295h10v10h-10zM1335 1295h20v10h-20zM245 1305h10v10h-10zM355 1305h20v10h-20zM605 1305h10v10h-10zM645 1305h20v10h-20zM685 1305h10v10h-10zM795 1305h20v10h-20zM1045 1305h10v10h-10zM1065 1305h10v10h-10zM1115 1305h10v10h-10zM1225 1305h10v10h-10z"/>
<path fill="#0072ff" d="M265 115h10v10h-10zM355 115h10v10h-10zM415 115h10v10h-10zM465 115h10v10h-10zM575 115h10v10h-10zM625 115h10v10h-10zM755 115h20v10h-20zM915 115h10v10h-10zM1095 115h10v10h-10zM1205 115h10v10h-10zM1265 115h10v10h-10zM1345 115h10v10h-10zM255 125h10v10h-10zM335 125h20v10h-20zM745 125h20v10h-20zM925 125h10v10h-10zM985 125h10v10h-10zM1205 125h10v10h-10zM185 135h10v10h-10zM235 135h10v10h-10zM585 135h20v10h-20zM755 135h10v10h-10zM895 135h10v10h-10zM1165 135h10v10h-10zM1265 135h10v10h-10zM1295 135h10v10h-10zM375 145h10v10h-10zM665 145h10v10h-10zM785 145h10v10h-10zM895 145h10v10h-10zM985 145h10v10h-10zM1175 145h10v10h-10zM265 155h10v10h-10zM305 155h10v10h-10zM325 155h10v10h-10zM405 155h10v10h-10zM485 155h10v10h-10zM1165 155h10v10h-10zM1205 155h10v10h-10zM405 165h10v10h-10zM485 165h10v10h-10zM815 165h10v10h-10zM915 165h10v10h-10zM1225 165h10v10h-10zM1245 165h10v10h-10zM1295 165h10v10h-10zM255 175h10v10h-10zM325 175h10v10h-10zM425 175h10v10h-10zM655 175h20v10h-20zM875 175h10v10h-10zM935 175h10v10h-10zM955 175h10v10h-10zM1065 175h30v10h-30zM1105 175h10v10h-10zM1265 175h10v10h-10zM275 185h10v10h-10zM315 185h10v10h-10zM335 185h10v10h-10zM425 185h10v10h-10zM615 185h10v10h-10zM735 185h10v10h-10zM885 185h10v10h-10zM1175 185h10v10h-10zM1245 185h10v10h-10zM165 195h10v10h-10zM415 195h10v10h-10zM1065 195h10v10h-10zM1105 195h10v10h-10zM1255 195h10v10h-10zM165 205h10v10h-10zM185 205h10v10h-10zM345 205h10v10h-10zM365 205h10v10h-10zM515 205h10v10h-10zM975 205h10v10h-10zM1145 205h10v10h-10zM1165 205h10v10h-10zM165 215h10v10h-10zM215 215h10v10h-10zM335 215h10v10h-10zM865 215h10v10h-10zM1105 215h10v10h-10zM1125 215h10v10h-10zM1165 215h10v10h-10zM225 225h10v10h-10zM385 225h10v10h-10zM515 225h10v10h-10zM825 225h10v10h-10zM195 235h10v10h-10zM225 235h10v10h-10zM315 235h10v10h-10zM385 235h10v10h-10zM565 235h10v10h-10zM695 235h10v10h-10zM815 235h10v10h-10zM855 235h10v10h-10zM1295 235h10v10h-10zM385 245h10v10h-10zM715 245h10v10h-10zM855 245h10v10h-10zM965 245h10v10h-10zM1185 245h20v10h-20zM645 255h10v10h-10zM835 255h10v10h-10zM855 255h10v10h-10zM985 255h10v10h-10zM1255 255h10v10h-10zM385 265h10v10h-10zM405 265h10v10h-10zM535 265h10v10h-10zM595 265h10v10h-10zM1175 265h10v10h-10zM1225 265h10v10h-10zM1255 265h10v10h-10zM225 275h10v10h-10zM525 275h10v10h-10zM565 275h10v10h-10zM585 275h10v10h-10zM715 275h10v10h-10zM785 275h20v10h-20zM1035 275h20v10h-20zM1165 275h10v10h-10zM1215 275h10v10h-10zM1285 275h10v10h-10zM375 285h10v10h-10zM515 285h10v10h-10zM585 285h20v10h-20zM725 285h10v10h-10zM995 285h10v10h-10zM1065 285h10v10h-10zM1315 285h10v10h-10zM215 295h10v10h-10zM385 295h10v10h-10zM905 295h10v10h-10zM975 295h10v10h-10zM995 295h10v10h-10zM1085 295h10v10h-10zM1245 295h10v10h-10zM1295 295h10v10h-10zM575 305h10v10h-10zM605 305h10v10h-10zM975 305h20v10h-20zM1305 305h10v10h-10zM355 315h10v10h-10zM405 315h10v10h-10zM605 315h10v10h-10zM885 315h10v10h-10zM975 315h10v10h-10zM1065 315h10v10h-10zM1135 315h10v10h-10zM215 325h10v10h-10zM315 325h10v10h-10zM345 325h10v10h-10zM695 325h10v10h-10zM935 325h20v10h-20zM1005 325h10v10h-10zM1115 325h10v10h-10zM1135 325h10v10h-10zM1215 325h10v10h-10zM315 335h10v10h-10zM345 335h10v10h-10zM365 335h10v10h-10zM695 335h20v10h-20zM725 335h10v10h-10zM745 335h10v10h-10zM925 335h20v10h-20zM975 335h10v10h-10zM1025 335h10v10h-10zM1355 335h10v10h-10zM245 345h10v10h-10zM355 345h30v10h-30zM505 345h10v10h-10zM565 345h10v10h-10zM665 345h10v10h-10zM695 345h30v10h-30zM1055 345h10v10h-10zM1155 345h20v10h-20zM1195 345h10v10h-10zM1355 345h10v10h-10zM475 355h10v10h-10zM575 355h10v10h-10zM685 355h10v10h-10zM1055 355h10v10h-10zM1085 355h10v10h-10zM1145 355h30v10h-30zM195 365h20v10h-20zM395 365h10v10h-10zM545 365h10v10h-10zM705 365h10v10h-10zM765 365h10v10h-10zM815 365h10v10h-10zM1095 365h10v10h-10zM285 375h10v10h-10zM485 375h10v10h-10zM575 375h10v10h-10zM685 375h10v10h-10zM725 375h10v10h-10zM965 375h10v10h-10zM1105 375h10v10h-10zM1125 375h10v10h-10zM1195 375h10v10h-10zM275 385h10v10h-10zM415 385h20v10h-20zM475 385h10v10h-10zM565 385h10v10h-10zM975 385h20v10h-20zM1135 385h10v10h-10zM1185 385h10v10h-10zM1335 385h10v10h-10zM385 395h10v10h-10zM465 395h10v10h-10zM555 395h10v10h-10zM825 395h10v10h-10zM875 395h10v10h-10zM965 395h10v10h-10zM1265 395h10v10h-10zM275 405h10v10h-10zM555 405h10v10h-10zM695 405h20v10h-20zM745 405h20v10h-20zM805 405h10v10h-10zM985 405h10v10h-10zM1075 405h20v10h-20zM1215 405h10v10h-10zM1245 405h10v10h-10zM1325 405h10v10h-10zM1345 405h10v10h-10zM315 415h10v10h-10zM475 415h10v10h-10zM615 415h10v10h-10zM635 415h10v10h-10zM725 415h10v10h-10zM795 415h10v10h-10zM815 415h10v10h-10zM1295 415h10v10h-10zM215 425h10v10h-10zM485 425h40v10h-40zM765 425h10v10h-10zM1095 425h10v10h-10zM1325 425h10v10h-10zM365 435h10v10h-10zM445 435h10v10h-10zM555 435h10v10h-10zM255 445h10v10h-10zM285 445h10v10h-10zM415 445h10v10h-10zM605 445h20v10h-20zM275 455h20v10h-20zM645 455h10v10h-10zM885 455h10v10h-10zM985 455h10v10h-10zM1105 455h10v10h-10zM305 465h10v10h-10zM415 465h10v10h-10zM485 465h10v10h-10zM645 465h10v10h-10zM945 465h10v10h-10zM1135 465h10v10h-10zM1235 465h10v10h-10zM1315 465h20v10h-20zM305 475h10v10h-10zM375 475h10v10h-10zM475 475h10v10h-10zM585 475h10v10h-10zM875 475h20v10h-20zM965 475h10v10h-10zM1025 475h10v10h-10zM1055 475h10v10h-10zM1255 475h20v10h-20zM295 485h10v10h-10zM315 485h10v10h-10zM395 485h10v10h-10zM495 485h20v10h-20zM525 485h10v10h-10zM665 485h10v10h-10zM685 485h10v10h-10zM905 485h10v10h-10zM985 485h10v10h-10zM1015 485h10v10h-10zM1055 485h10v10h-10zM1335 485h10v10h-10zM625 495h10v10h-10zM645 495h10v10h-10zM805 495h20v10h-20zM935 495h10v10h-10zM1015 495h10v10h-10zM335 505h10v10h-10zM635 505h10v10h-10zM935 505h10v10h-10zM1275 505h10v10h-10zM1325 505h10v10h-10zM305 515h20v10h-20zM455 515h10v10h-10zM475 515h10v10h-10zM525 515h10v10h-10zM655 515h10v10h-10zM735 515h10v10h-10zM845 515h20v10h-20zM945 515h10v10h-10zM1155 515h10v10h-10zM1275 515h20v10h-20zM215 525h10v10h-10zM275 525h10v10h-10zM485 525h10v10h-10zM515 525h10v10h-10zM675 525h10v10h-10zM1055 525h10v10h-10zM1285 525h10v10h-10zM1335 525h10v10h-10zM415 535h10v10h-10zM495 535h10v10h-10zM535 535h10v10h-10zM695 535h10v10h-10zM965 535h10v10h-10zM1235 535h10v10h-10zM245 545h10v10h-10zM365 545h10v10h-10zM405 545h20v10h-20zM445 545h10v10h-10zM465 545h10v10h-10zM525 545h10v10h-10zM655 545h10v10h-10zM675 545h10v10h-10zM855 545h10v10h-10zM245 555h30v10h-30zM375 555h10v10h-10zM415 555h10v10h-10zM445 555h10v10h-10zM695 555h10v10h-10zM855 555h10v10h-10zM1215 555h20v10h-20zM225 565h10v10h-10zM385 565h20v10h-20zM675 565h20v10h-20zM1005 565h30v10h-30zM1225 565h10v10h-10zM165 575h20v10h-20zM265 575h10v10h-10zM1025 575h20v10h-20zM1185 575h10v10h-10zM165 585h10v10h-10zM185 585h10v10h-10zM315 585h10v10h-10zM375 585h10v10h-10zM405 585h10v10h-10zM945 585h10v10h-10zM1225 585h10v10h-10zM1245 585h10v10h-10zM185 595h10v10h-10zM225 595h10v10h-10zM325 595h10v10h-10zM515 595h10v10h-10zM635 595h10v10h-10zM935 595h20v10h-20zM1235 595h10v10h-10zM1295 595h20v10h-20zM185 605h10v10h-10zM245 605h10v10h-10zM875 605h10v10h-10zM1355 605h10v10h-10zM175 615h10v10h-10zM195 615h10v10h-10zM215 615h10v10h-10zM1115 615h30v10h-30zM1275 615h10v10h-10zM175 625h10v10h-10zM255 625h10v10h-10zM595 625h10v10h-10zM885 625h10v10h-10zM915 625h10v10h-10zM935 625h10v10h-10zM1015 625h10v10h-10zM1145 625h10v10h-10zM1195 625h10v10h-10zM1275 625h10v10h-10zM195 635h10v10h-10zM455 635h10v10h-10zM485 635h10v10h-10zM505 635h10v10h-10zM945 635h10v10h-10zM1085 635h10v10h-10zM1295 635h10v10h-10zM515 645h10v10h-10zM995 645h10v10h-10zM1065 645h10v10h-10zM1095 645h10v10h-10zM1185 645h10v10h-10zM185 655h10v10h-10zM325 655h20v10h-20zM365 655h10v10h-10zM525 655h10v10h-10zM635 655h10v10h-10zM865 655h10v10h-10zM185 665h10v10h-10zM225 665h10v10h-10zM335 665h20v10h-20zM1055 665h10v10h-10zM1145 665h10v10h-10zM1265 665h10v10h-10zM335 675h10v10h-10zM475 675h10v10h-10zM875 675h10v10h-10zM985 675h10v10h-10zM1145 675h10v10h-10zM225 685h10v10h-10zM355 685h10v10h-10zM425 685h10v10h-10zM475 685h10v10h-10zM665 685h10v10h-10zM855 685h10v10h-10zM875 685h10v10h-10zM915 685h10v10h-10zM945 685h10v10h-10zM1195 685h10v10h-10zM1285 685h10v10h-10zM285 695h10v10h-10zM355 695h10v10h-10zM445 695h10v10h-10zM555 695h10v10h-10zM655 695h20v10h-20zM965 695h10v10h-10zM1035 695h10v10h-10zM1255 695h10v10h-10zM1305 695h10v10h-10zM345 705h20v10h-20zM445 705h20v10h-20zM545 705h20v10h-20zM995 705h10v10h-10zM1255 705h10v10h-10zM555 715h10v10h-10zM1095 715h10v10h-10zM455 725h10v10h-10zM475 725h10v10h-10zM545 725h10v10h-10zM605 725h10v10h-10zM655 725h10v10h-10zM325 735h10v10h-10zM405 735h10v10h-10zM475 735h10v10h-10zM515 735h10v10h-10zM615 735h20v10h-20zM905 735h10v10h-10zM1005 735h10v10h-10zM465 745h20v10h-20zM545 745h10v10h-10zM565 745h10v10h-10zM605 745h10v10h-10zM995 745h10v10h-10zM1075 745h10v10h-10zM1115 745h10v10h-10zM1255 745h10v10h-10zM385 755h10v10h-10zM445 755h10v10h-10zM495 755h10v10h-10zM905 755h10v10h-10zM925 755h10v10h-10zM1045 755h10v10h-10zM1085 755h10v10h-10zM1125 755h10v10h-10zM215 765h10v10h-10zM505 765h20v10h-20zM615 765h10v10h-10zM1115 765h10v10h-10zM1185 765h10v10h-10zM1205 765h10v10h-10zM1305 765h10v10h-10zM175 775h10v10h-10zM195 775h10v10h-10zM215 775h10v10h-10zM275 775h10v10h-10zM345 775h10v10h-10zM495 775h10v10h-10zM515 775h30v10h-30zM635 775h10v10h-10zM855 775h10v10h-10zM1045 775h10v10h-10zM1125 775h10v10h-10zM255 785h20v10h-20zM325 785h10v10h-10zM375 785h10v10h-10zM395 785h10v10h-10zM485 785h10v10h-10zM565 785h10v10h-10zM585 785h10v10h-10zM1065 785h10v10h-10zM1125 785h20v10h-20zM1315 785h10v10h-10zM285 795h10v10h-10zM355 795h10v10h-10zM555 795h20v10h-20zM615 795h10v10h-10zM935 795h10v10h-10zM975 795h10v10h-10zM1135 795h10v10h-10zM275 805h10v10h-10zM325 805h10v10h-10zM405 805h20v10h-20zM445 805h20v10h-20zM485 805h10v10h-10zM655 805h10v10h-10zM875 805h10v10h-10zM955 805h10v10h-10zM1315 805h10v10h-10zM245 815h10v10h-10zM645 815h20v10h-20zM885 815h10v10h-10zM1075 815h10v10h-10zM1315 815h10v10h-10zM455 825h10v10h-10zM595 825h10v10h-10zM1025 825h10v10h-10zM1235 825h10v10h-10zM215 835h30v10h-30zM655 835h10v10h-10zM1205 835h20v10h-20zM585 845h10v10h-10zM705 845h10v10h-10zM765 845h10v10h-10zM1035 845h10v10h-10zM585 855h10v10h-10zM715 855h10v10h-10zM875 855h10v10h-10zM1145 855h20v10h-20zM1255 855h10v10h-10zM1275 855h10v10h-10zM535 865h10v10h-10zM775 865h20v10h-20zM1115 865h20v10h-20zM1305 865h10v10h-10zM395 875h10v10h-10zM415 875h10v10h-10zM625 875h10v10h-10zM725 875h30v10h-30zM905 875h10v10h-10zM985 875h10v10h-10zM1115 875h10v10h-10zM275 885h20v10h-20zM445 885h10v10h-10zM515 885h10v10h-10zM875 885h10v10h-10zM995 885h10v10h-10zM1125 885h20v10h-20zM1175 885h10v10h-10zM415 895h10v10h-10zM435 895h20v10h-20zM525 895h10v10h-10zM575 895h10v10h-10zM625 895h10v10h-10zM735 895h10v10h-10zM795 895h10v10h-10zM865 895h10v10h-10zM1075 895h10v10h-10zM1175 895h10v10h-10zM645 905h10v10h-10zM715 905h10v10h-10zM785 905h10v10h-10zM885 905h10v10h-10zM1125 905h10v10h-10zM1185 905h10v10h-10zM1345 905h10v10h-10zM545 915h20v10h-20zM575 915h10v10h-10zM795 915h10v10h-10zM895 915h10v10h-10zM1165 915h10v10h-10zM265 925h10v10h-10zM325 925h20v10h-20zM495 925h10v10h-10zM555 925h10v10h-10zM965 925h10v10h-10zM995 925h10v10h-10zM1145 925h10v10h-10zM1165 925h10v10h-10zM1225 925h10v10h-10zM195 935h10v10h-10zM325 935h20v10h-20zM365 935h10v10h-10zM795 935h10v10h-10zM875 935h20v10h-20zM905 935h10v10h-10zM965 935h10v10h-10zM1315 935h10v10h-10zM235 945h10v10h-10zM255 945h10v10h-10zM355 945h10v10h-10zM395 945h10v10h-10zM455 945h10v10h-10zM535 945h10v10h-10zM645 945h10v10h-10zM665 945h10v10h-10zM695 945h10v10h-10zM1085 945h10v10h-10zM1125 945h10v10h-10zM1305 945h20v10h-20zM375 955h10v10h-10zM415 955h10v10h-10zM655 955h20v10h-20zM1125 955h10v10h-10zM1175 955h20v10h-20zM1255 955h10v10h-10zM1285 955h10v10h-10zM1325 955h10v10h-10zM175 965h10v10h-10zM195 965h10v10h-10zM215 965h10v10h-10zM385 965h20v10h-20zM445 965h10v10h-10zM555 965h10v10h-10zM575 965h10v10h-10zM685 965h10v10h-10zM755 965h10v10h-10zM935 965h10v10h-10zM1235 965h10v10h-10zM1295 965h10v10h-10zM1325 965h10v10h-10zM175 975h10v10h-10zM215 975h10v10h-10zM365 975h10v10h-10zM405 975h10v10h-10zM565 975h20v10h-20zM615 975h20v10h-20zM645 975h10v10h-10zM995 975h10v10h-10zM1085 975h10v10h-10zM1175 975h10v10h-10zM1255 975h10v10h-10zM1315 975h10v10h-10zM455 985h10v10h-10zM515 985h10v10h-10zM605 985h10v10h-10zM725 985h10v10h-10zM1085 985h10v10h-10zM1175 985h10v10h-10zM1275 985h10v10h-10zM1315 985h10v10h-10zM195 995h10v10h-10zM335 995h20v10h-20zM605 995h10v10h-10zM625 995h20v10h-20zM775 995h10v10h-10zM885 995h20v10h-20zM945 995h10v10h-10zM1155 995h10v10h-10zM1235 995h10v10h-10zM205 1005h20v10h-20zM255 1005h10v10h-10zM315 1005h10v10h-10zM615 1005h10v10h-10zM785 1005h10v10h-10zM875 1005h10v10h-10zM1275 1005h10v10h-10zM1325 1005h10v10h-10zM215 1015h10v10h-10zM255 1015h10v10h-10zM525 1015h10v10h-10zM725 1015h10v10h-10zM835 1015h10v10h-10zM1065 1015h10v10h-10zM1205 1015h10v10h-10zM1325 1015h10v10h-10zM1355 1015h10v10h-10zM215 1025h10v10h-10zM255 1025h10v10h-10zM285 1025h30v10h-30zM755 1025h10v10h-10zM865 1025h10v10h-10zM895 1025h10v10h-10zM915 1025h10v10h-10zM1155 1025h10v10h-10zM1205 1025h10v10h-10zM1245 1025h20v10h-20zM585 1035h10v10h-10zM685 1035h10v10h-10zM885 1035h30v10h-30zM1245 1035h10v10h-10zM225 1045h10v10h-10zM265 1045h10v10h-10zM395 1045h10v10h-10zM455 1045h10v10h-10zM555 1045h20v10h-20zM585 1045h10v10h-10zM875 1045h10v10h-10zM895 1045h10v10h-10zM995 1045h10v10h-10zM1015 1045h10v10h-10zM1085 1045h10v10h-10zM1255 1045h10v10h-10zM285 1055h10v10h-10zM425 1055h10v10h-10zM545 1055h10v10h-10zM565 1055h20v10h-20zM775 1055h20v10h-20zM1005 1055h10v10h-10zM1025 1055h10v10h-10zM1155 1055h10v10h-10zM425 1065h10v10h-10zM585 1065h10v10h-10zM845 1065h10v10h-10zM1015 1065h10v10h-10zM225 1075h10v10h-10zM1035 1075h20v10h-20zM1065 1075h10v10h-10zM1325 1075h10v10h-10zM185 1085h10v10h-10zM825 1085h10v10h-10zM845 1085h10v10h-10zM1055 1085h20v10h-20zM1305 1085h10v10h-10zM195 1095h10v10h-10zM595 1095h10v10h-10zM645 1095h10v10h-10zM825 1095h10v10h-10zM845 1095h10v10h-10zM1025 1095h10v10h-10zM1355 1095h10v10h-10zM215 1105h10v10h-10zM345 1105h10v10h-10zM505 1105h10v10h-10zM535 1105h10v10h-10zM635 1105h10v10h-10zM845 1105h10v10h-10zM865 1105h10v10h-10zM1045 1105h10v10h-10zM1075 1105h10v10h-10zM255 1115h10v10h-10zM505 1115h10v10h-10zM545 1115h10v10h-10zM725 1115h10v10h-10zM815 1115h10v10h-10zM865 1115h10v10h-10zM995 1115h10v10h-10zM1045 1115h10v10h-10zM225 1125h20v10h-20zM255 1125h10v10h-10zM335 1125h10v10h-10zM525 1125h10v10h-10zM545 1125h10v10h-10zM645 1125h10v10h-10zM935 1125h10v10h-10zM985 1125h30v10h-30zM1255 1125h10v10h-10zM245 1135h10v10h-10zM275 1135h20v10h-20zM345 1135h10v10h-10zM585 1135h10v10h-10zM635 1135h10v10h-10zM705 1135h10v10h-10zM995 1135h10v10h-10zM1025 1135h10v10h-10zM1235 1135h10v10h-10zM1255 1135h20v10h-20zM1335 1135h10v10h-10zM175 1145h10v10h-10zM285 1145h10v10h-10zM615 1145h10v10h-10zM635 1145h10v10h-10zM755 1145h10v10h-10zM815 1145h10v10h-10zM875 1145h10v10h-10zM1045 1145h10v10h-10zM1155 1145h20v10h-20zM1245 1145h10v10h-10zM1265 1145h10v10h-10zM375 1155h10v10h-10zM505 1155h10v10h-10zM645 1155h10v10h-10zM1275 1155h10v10h-10zM165 1165h10v10h-10zM765 1165h10v10h-10zM1195 1165h10v10h-10zM1225 1165h10v10h-10zM1305 1165h20v10h-20zM215 1175h10v10h-10zM345 1175h10v10h-10zM365 1175h10v10h-10zM1095 1175h10v10h-10zM1215 1175h10v10h-10zM1235 1175h10v10h-10zM165 1185h10v10h-10zM305 1185h10v10h-10zM345 1185h10v10h-10zM565 1185h10v10h-10zM635 1185h10v10h-10zM655 1185h20v10h-20zM795 1185h30v10h-30zM1175 1185h10v10h-10zM1225 1185h10v10h-10zM375 1195h10v10h-10zM525 1195h10v10h-10zM545 1195h20v10h-20zM625 1195h10v10h-10zM685 1195h10v10h-10zM975 1195h10v10h-10zM1005 1195h10v10h-10zM215 1205h10v10h-10zM495 1205h10v10h-10zM525 1205h10v10h-10zM665 1205h20v10h-20zM845 1205h10v10h-10zM1005 1205h10v10h-10zM1085 1205h10v10h-10zM265 1215h20v10h-20zM515 1215h10v10h-10zM635 1215h10v10h-10zM1095 1215h10v10h-10zM265 1225h10v10h-10zM395 1225h10v10h-10zM505 1225h10v10h-10zM535 1225h10v10h-10zM685 1225h10v10h-10zM885 1225h20v10h-20zM1285 1225h10v10h-10zM405 1235h10v10h-10zM525 1235h10v10h-10zM565 1235h10v10h-10zM805 1235h10v10h-10zM1225 1235h10v10h-10zM1265 1235h10v10h-10zM415 1245h10v10h-10zM565 1245h10v10h-10zM775 1245h10v10h-10zM805 1245h20v10h-20zM855 1245h10v10h-10zM945 1245h20v10h-20zM1025 1245h10v10h-10zM1175 1245h10v10h-10zM1275 1245h10v10h-10zM1295 1245h10v10h-10zM395 1255h10v10h-10zM495 1255h30v10h-30zM645 1255h20v10h-20zM675 1255h10v10h-10zM795 1255h10v10h-10zM1045 1255h10v10h-10zM335 1265h20v10h-20zM495 1265h10v10h-10zM675 1265h10v10h-10zM695 1265h10v10h-10zM805 1265h10v10h-10zM955 1265h10v10h-10zM1005 1265h10v10h-10zM1175 1265h10v10h-10zM1305 1265h10v10h-10zM195 1275h10v10h-10zM275 1275h10v10h-10zM355 1275h10v10h-10zM555 1275h10v10h-10zM935 1275h10v10h-10zM955 1275h10v10h-10zM1355 1275h10v10h-10zM335 1285h10v10h-10zM365 1285h10v10h-10zM415 1285h10v10h-10zM485 1285h20v10h-20zM695 1285h10v10h-10zM795 1285h10v10h-10zM935 1285h10v10h-10zM1345 1285h20v10h-20zM365 1295h10v10h-10zM485 1295h10v10h-10zM585 1295h10v10h-10zM955 1295h10v10h-10zM1255 1295h20v10h-20zM1295 1295h10v10h-10zM415 1305h10v10h-10zM445 1305h10v10h-10z"/>
<path fill="#0060ff" d="M275 115h20v10h-20zM315 115h10v10h-10zM365 115h10v10h-10zM455 115h10v10h-10zM475 115h10v10h-10zM525 115h30v10h-30zM595 115h10v10h-10zM705 115h20v10h-20zM735 115h10v10h-10zM835 115h10v10h-10zM985 115h20v10h-20zM1055 115h10v10h-10zM1075 115h10v10h-10zM1225 115h10v10h-10zM1315 115h10v10h-10zM1335 115h10v10h-10zM1355 115h10v10h-10zM295 125h20v10h-20zM325 125h10v10h-10zM385 125h10v10h-10zM425 125h10v10h-10zM665 125h10v10h-10zM705 125h10v10h-10zM735 125h10v10h-10zM775 125h10v10h-10zM795 125h10v10h-10zM855 125h10v10h-10zM975 125h10v10h-10zM1005 125h10v10h-10zM1135 125h10v10h-10zM1165 125h20v10h-20zM1245 125h10v10h-10zM1345 125h10v10h-10zM165 135h10v10h-10zM195 135h20v10h-20zM285 135h20v10h-20zM345 135h10v10h-10zM365 135h10v10h-10zM435 135h20v10h-20zM515 135h10v10h-10zM785 135h10v10h-10zM825 135h10v10h-10zM925 135h10v10h-10zM955 135h10v10h-10zM1085 135h10v10h-10zM1125 135h10v10h-10zM1195 135h10v10h-10zM1305 135h10v10h-10zM215 145h10v10h-10zM275 145h10v10h-10zM315 145h10v10h-10zM335 145h10v10h-10zM365 145h10v10h-10zM505 145h10v10h-10zM555 145h10v10h-10zM575 145h20v10h-20zM755 145h10v10h-10zM815 145h10v10h-10zM925 145h10v10h-10zM1035 145h10v10h-10zM1055 145h10v10h-10zM1115 145h10v10h-10zM1145 145h10v10h-10zM1215 145h10v10h-10zM345 155h10v10h-10zM505 155h10v10h-10zM545 155h10v10h-10zM585 155h10v10h-10zM675 155h10v10h-10zM735 155h20v10h-20zM815 155h10v10h-10zM915 155h10v10h-10zM935 155h10v10h-10zM985 155h10v10h-10zM1075 155h10v10h-10zM1155 155h10v10h-10zM1175 155h10v10h-10zM1245 155h10v10h-10zM1315 155h10v10h-10zM245 165h10v10h-10zM385 165h10v10h-10zM515 165h20v10h-20zM545 165h10v10h-10zM565 165h10v10h-10zM635 165h20v10h-20zM665 165h10v10h-10zM725 165h10v10h-10zM825 165h10v10h-10zM1095 165h10v10h-10zM1145 165h20v10h-20zM1215 165h10v10h-10zM1285 165h10v10h-10zM225 175h10v10h-10zM275 175h10v10h-10zM305 175h10v10h-10zM385 175h10v10h-10zM435 175h10v10h-10zM495 175h10v10h-10zM515 175h10v10h-10zM555 175h20v10h-20zM615 175h10v10h-10zM645 175h10v10h-10zM675 175h10v10h-10zM915 175h10v10h-10zM975 175h20v10h-20zM1115 175h10v10h-10zM1165 175h20v10h-20zM1255 175h10v10h-10zM205 185h10v10h-10zM245 185h10v10h-10zM535 185h10v10h-10zM565 185h10v10h-10zM805 185h10v10h-10zM825 185h10v10h-10zM945 185h20v10h-20zM1015 185h10v10h-10zM1035 185h10v10h-10zM1265 185h10v10h-10zM295 195h10v10h-10zM325 195h10v10h-10zM365 195h10v10h-10zM405 195h10v10h-10zM735 195h10v10h-10zM815 195h10v10h-10zM955 195h10v10h-10zM985 195h10v10h-10zM1035 195h10v10h-10zM1195 195h20v10h-20zM1245 195h10v10h-10zM1305 195h20v10h-20zM225 205h10v10h-10zM555 205h20v10h-20zM585 205h10v10h-10zM615 205h10v10h-10zM675 205h10v10h-10zM775 205h10v10h-10zM815 205h10v10h-10zM1015 205h10v10h-10zM1055 205h10v10h-10zM1185 205h10v10h-10zM1255 205h10v10h-10zM1295 205h10v10h-10zM205 215h10v10h-10zM225 215h10v10h-10zM315 215h10v10h-10zM405 215h10v10h-10zM475 215h10v10h-10zM545 215h20v10h-20zM725 215h10v10h-10zM805 215h10v10h-10zM1055 215h10v10h-10zM1195 215h10v10h-10zM1285 215h20v10h-20zM175 225h10v10h-10zM215 225h10v10h-10zM315 225h10v10h-10zM365 225h10v10h-10zM425 225h10v10h-10zM465 225h20v10h-20zM535 225h10v10h-10zM655 225h10v10h-10zM685 225h10v10h-10zM815 225h10v10h-10zM865 225h10v10h-10zM975 225h10v10h-10zM1025 225h10v10h-10zM1085 225h10v10h-10zM1155 225h10v10h-10zM295 235h10v10h-10zM475 235h10v10h-10zM495 235h20v10h-20zM545 235h10v10h-10zM685 235h10v10h-10zM795 235h10v10h-10zM985 235h10v10h-10zM1005 235h10v10h-10zM1115 235h10v10h-10zM1305 235h10v10h-10zM195 245h10v10h-10zM235 245h10v10h-10zM325 245h10v10h-10zM375 245h10v10h-10zM435 245h10v10h-10zM525 245h10v10h-10zM565 245h20v10h-20zM605 245h10v10h-10zM625 245h10v10h-10zM895 245h10v10h-10zM915 245h10v10h-10zM955 245h10v10h-10zM1085 245h10v10h-10zM1255 245h20v10h-20zM1345 245h20v10h-20zM445 255h20v10h-20zM525 255h10v10h-10zM585 255h10v10h-10zM605 255h10v10h-10zM725 255h10v10h-10zM755 255h10v10h-10zM805 255h10v10h-10zM825 255h10v10h-10zM865 255h10v10h-10zM995 255h10v10h-10zM1035 255h20v10h-20zM1085 255h10v10h-10zM1235 255h10v10h-10zM255 265h10v10h-10zM295 265h10v10h-10zM425 265h10v10h-10zM445 265h10v10h-10zM475 265h10v10h-10zM495 265h10v10h-10zM545 265h10v10h-10zM605 265h10v10h-10zM685 265h10v10h-10zM715 265h10v10h-10zM745 265h10v10h-10zM885 265h10v10h-10zM965 265h10v10h-10zM1025 265h10v10h-10zM1055 265h20v10h-20zM1155 265h10v10h-10zM1245 265h10v10h-10zM235 275h10v10h-10zM375 275h10v10h-10zM445 275h10v10h-10zM515 275h10v10h-10zM575 275h10v10h-10zM645 275h10v10h-10zM665 275h10v10h-10zM695 275h10v10h-10zM755 275h10v10h-10zM775 275h10v10h-10zM825 275h10v10h-10zM955 275h10v10h-10zM975 275h10v10h-10zM1055 275h10v10h-10zM1095 275h10v10h-10zM1205 275h10v10h-10zM1225 275h30v10h-30zM185 285h10v10h-10zM235 285h10v10h-10zM285 285h20v10h-20zM475 285h10v10h-10zM505 285h10v10h-10zM675 285h10v10h-10zM735 285h10v10h-10zM795 285h30v10h-30zM875 285h10v10h-10zM915 285h20v10h-20zM1005 285h10v10h-10zM1075 285h20v10h-20zM1165 285h10v10h-10zM1215 285h10v10h-10zM1295 285h10v10h-10zM1345 285h10v10h-10zM255 295h10v10h-10zM295 295h10v10h-10zM375 295h10v10h-10zM415 295h10v10h-10zM445 295h10v10h-10zM505 295h10v10h-10zM655 295h10v10h-10zM825 295h10v10h-10zM845 295h10v10h-10zM915 295h10v10h-10zM1045 295h10v10h-10zM1065 295h10v10h-10zM1105 295h10v10h-10zM1175 295h10v10h-10zM1195 295h10v10h-10zM1265 295h10v10h-10zM1285 295h10v10h-10zM175 305h10v10h-10zM275 305h20v10h-20zM395 305h10v10h-10zM465 305h10v10h-10zM495 305h10v10h-10zM525 305h10v10h-10zM595 305h10v10h-10zM845 305h10v10h-10zM905 305h10v10h-10zM1085 305h10v10h-10zM1125 305h10v10h-10zM1155 305h20v10h-20zM1345 305h10v10h-10zM255 315h10v10h-10zM295 315h40v10h-40zM395 315h10v10h-10zM435 315h10v10h-10zM475 315h20v10h-20zM595 315h10v10h-10zM665 315h10v10h-10zM765 315h10v10h-10zM845 315h20v10h-20zM985 315h10v10h-10zM1255 315h20v10h-20zM1285 315h10v10h-10zM205 325h10v10h-10zM255 325h20v10h-20zM285 325h10v10h-10zM325 325h10v10h-10zM385 325h10v10h-10zM405 325h10v10h-10zM445 325h10v10h-10zM495 325h10v10h-10zM525 325h10v10h-10zM615 325h10v10h-10zM785 325h10v10h-10zM925 325h10v10h-10zM965 325h10v10h-10zM1045 325h10v10h-10zM1065 325h10v10h-10zM1095 325h10v10h-10zM1155 325h10v10h-10zM1285 325h10v10h-10zM1335 325h10v10h-10zM175 335h10v10h-10zM295 335h10v10h-10zM455 335h10v10h-10zM475 335h10v10h-10zM565 335h30v10h-30zM605 335h10v10h-10zM715 335h10v10h-10zM855 335h10v10h-10zM1115 335h10v10h-10zM1165 335h10v10h-10zM1275 335h10v10h-10zM1295 335h10v10h-10zM1335 335h10v10h-10zM175 345h10v10h-10zM205 345h10v10h-10zM255 345h10v10h-10zM295 345h10v10h-10zM485 345h10v10h-10zM555 345h10v10h-10zM595 345h20v10h-20zM795 345h10v10h-10zM935 345h10v10h-10zM1085 345h10v10h-10zM1215 345h10v10h-10zM195 355h10v10h-10zM235 355h10v10h-10zM255 355h10v10h-10zM275 355h20v10h-20zM355 355h10v10h-10zM375 355h10v10h-10zM405 355h10v10h-10zM485 355h10v10h-10zM515 355h10v10h-10zM535 355h10v10h-10zM555 355h10v10h-10zM585 355h10v10h-10zM625 355h10v10h-10zM645 355h10v10h-10zM835 355h10v10h-10zM955 355h10v10h-10zM1235 355h10v10h-10zM1265 355h10v10h-10zM1335 355h10v10h-10zM185 365h10v10h-10zM355 365h10v10h-10zM445 365h10v10h-10zM575 365h10v10h-10zM605 365h20v10h-20zM665 365h10v10h-10zM785 365h10v10h-10zM1055 365h10v10h-10zM1125 365h10v10h-10zM1165 365h10v10h-10zM1245 365h10v10h-10zM1345 365h10v10h-10zM275 375h10v10h-10zM365 375h10v10h-10zM415 375h20v10h-20zM635 375h10v10h-10zM655 375h10v10h-10zM675 375h10v10h-10zM705 375h10v10h-10zM765 375h30v10h-30zM855 375h10v10h-10zM905 375h10v10h-10zM925 375h10v10h-10zM1155 375h10v10h-10zM1175 375h10v10h-10zM1215 375h10v10h-10zM1335 375h10v10h-10zM205 385h10v10h-10zM265 385h10v10h-10zM385 385h10v10h-10zM465 385h10v10h-10zM695 385h10v10h-10zM795 385h10v10h-10zM825 385h10v10h-10zM845 385h20v10h-20zM895 385h10v10h-10zM925 385h10v10h-10zM945 385h10v10h-10zM1045 385h10v10h-10zM1115 385h10v10h-10zM1205 385h10v10h-10zM1265 385h10v10h-10zM1325 385h10v10h-10zM505 395h10v10h-10zM715 395h10v10h-10zM775 395h10v10h-10zM865 395h10v10h-10zM895 395h30v10h-30zM1115 395h10v10h-10zM1145 395h30v10h-30zM1185 395h10v10h-10zM1275 395h10v10h-10zM1295 395h10v10h-10zM175 405h20v10h-20zM205 405h10v10h-10zM255 405h10v10h-10zM335 405h10v10h-10zM505 405h10v10h-10zM535 405h10v10h-10zM1165 405h10v10h-10zM1195 405h10v10h-10zM1285 405h10v10h-10zM1315 405h10v10h-10zM175 415h10v10h-10zM245 415h10v10h-10zM335 415h20v10h-20zM495 415h10v10h-10zM695 415h10v10h-10zM835 415h10v10h-10zM1045 415h10v10h-10zM1145 415h10v10h-10zM1165 415h30v10h-30zM1275 415h20v10h-20zM1305 415h20v10h-20zM225 425h10v10h-10zM245 425h10v10h-10zM305 425h10v10h-10zM325 425h20v10h-20zM355 425h10v10h-10zM435 425h10v10h-10zM465 425h10v10h-10zM535 425h10v10h-10zM585 425h10v10h-10zM795 425h30v10h-30zM835 425h10v10h-10zM995 425h10v10h-10zM1175 425h10v10h-10zM1225 425h10v10h-10zM1255 425h10v10h-10zM1315 425h10v10h-10zM205 435h10v10h-10zM305 435h10v10h-10zM475 435h20v10h-20zM565 435h10v10h-10zM595 435h10v10h-10zM775 435h10v10h-10zM815 435h10v10h-10zM905 435h10v10h-10zM925 435h10v10h-10zM1065 435h10v10h-10zM1095 435h10v10h-10zM1185 435h10v10h-10zM1265 435h10v10h-10zM1285 435h20v10h-20zM1355 435h10v10h-10zM175 445h30v10h-30zM225 445h20v10h-20zM295 445h10v10h-10zM325 445h10v10h-10zM345 445h10v10h-10zM435 445h10v10h-10zM565 445h10v10h-10zM805 445h10v10h-10zM855 445h10v10h-10zM905 445h10v10h-10zM955 445h10v10h-10zM1055 445h10v10h-10zM1105 445h10v10h-10zM1135 445h20v10h-20zM1185 445h10v10h-10zM1215 445h30v10h-30zM1265 445h10v10h-10zM1315 445h10v10h-10zM175 455h20v10h-20zM355 455h10v10h-10zM425 455h10v10h-10zM475 455h10v10h-10zM535 455h10v10h-10zM555 455h10v10h-10zM625 455h10v10h-10zM735 455h20v10h-20zM765 455h10v10h-10zM795 455h20v10h-20zM845 455h40v10h-40zM895 455h10v10h-10zM935 455h10v10h-10zM1015 455h10v10h-10zM1045 455h20v10h-20zM1185 455h10v10h-10zM1235 455h10v10h-10zM1275 455h10v10h-10zM1325 455h10v10h-10zM1355 455h10v10h-10zM165 465h20v10h-20zM255 465h10v10h-10zM285 465h10v10h-10zM435 465h10v10h-10zM495 465h10v10h-10zM555 465h10v10h-10zM585 465h10v10h-10zM725 465h10v10h-10zM805 465h10v10h-10zM1155 465h20v10h-20zM1185 465h10v10h-10zM1275 465h10v10h-10zM1305 465h10v10h-10zM205 475h10v10h-10zM265 475h10v10h-10zM295 475h10v10h-10zM625 475h10v10h-10zM665 475h10v10h-10zM725 475h10v10h-10zM745 475h20v10h-20zM805 475h20v10h-20zM995 475h10v10h-10zM1085 475h10v10h-10zM1115 475h10v10h-10zM1165 475h10v10h-10zM1285 475h10v10h-10zM1345 475h10v10h-10zM175 485h10v10h-10zM475 485h10v10h-10zM635 485h10v10h-10zM695 485h10v10h-10zM795 485h10v10h-10zM825 485h10v10h-10zM845 485h10v10h-10zM925 485h10v10h-10zM975 485h10v10h-10zM1085 485h10v10h-10zM1145 485h20v10h-20zM1185 485h30v10h-30zM1245 485h10v10h-10zM1275 485h10v10h-10zM285 495h10v10h-10zM365 495h10v10h-10zM415 495h10v10h-10zM515 495h20v10h-20zM545 495h10v10h-10zM725 495h10v10h-10zM745 495h20v10h-20zM865 495h10v10h-10zM955 495h10v10h-10zM1005 495h10v10h-10zM1045 495h10v10h-10zM1085 495h10v10h-10zM1125 495h10v10h-10zM1155 495h10v10h-10zM1185 495h10v10h-10zM1245 495h20v10h-20zM1315 495h10v10h-10zM235 505h20v10h-20zM345 505h10v10h-10zM605 505h10v10h-10zM715 505h10v10h-10zM735 505h40v10h-40zM925 505h10v10h-10zM945 505h10v10h-10zM1015 505h10v10h-10zM1155 505h10v10h-10zM1255 505h20v10h-20zM1305 505h10v10h-10zM1335 505h10v10h-10zM395 515h10v10h-10zM605 515h10v10h-10zM705 515h10v10h-10zM725 515h10v10h-10zM755 515h10v10h-10zM805 515h10v10h-10zM955 515h10v10h-10zM1065 515h10v10h-10zM1125 515h10v10h-10zM1215 515h10v10h-10zM1295 515h10v10h-10zM1325 515h10v10h-10zM265 525h10v10h-10zM385 525h10v10h-10zM545 525h10v10h-10zM565 525h10v10h-10zM685 525h10v10h-10zM705 525h30v10h-30zM815 525h10v10h-10zM965 525h10v10h-10zM1135 525h10v10h-10zM1185 525h10v10h-10zM1235 525h10v10h-10zM205 535h10v10h-10zM255 535h10v10h-10zM305 535h40v10h-40zM355 535h20v10h-20zM525 535h10v10h-10zM545 535h10v10h-10zM615 535h10v10h-10zM735 535h10v10h-10zM975 535h10v10h-10zM1045 535h20v10h-20zM1225 535h10v10h-10zM1355 535h10v10h-10zM225 545h10v10h-10zM325 545h10v10h-10zM355 545h10v10h-10zM375 545h10v10h-10zM645 545h10v10h-10zM755 545h10v10h-10zM795 545h20v10h-20zM1005 545h10v10h-10zM1095 545h20v10h-20zM1255 545h10v10h-10zM1355 545h10v10h-10zM275 555h10v10h-10zM315 555h10v10h-10zM355 555h20v10h-20zM405 555h10v10h-10zM435 555h10v10h-10zM475 555h30v10h-30zM525 555h10v10h-10zM545 555h30v10h-30zM735 555h20v10h-20zM845 555h10v10h-10zM205 565h20v10h-20zM275 565h10v10h-10zM405 565h20v10h-20zM495 565h10v10h-10zM545 565h10v10h-10zM655 565h10v10h-10zM715 565h10v10h-10zM765 565h10v10h-10zM785 565h10v10h-10zM835 565h20v10h-20zM935 565h10v10h-10zM965 565h10v10h-10zM1055 565h10v10h-10zM1135 565h20v10h-20zM1195 565h10v10h-10zM1245 565h10v10h-10zM1355 565h10v10h-10zM205 575h10v10h-10zM245 575h10v10h-10zM305 575h10v10h-10zM335 575h10v10h-10zM415 575h10v10h-10zM505 575h10v10h-10zM555 575h10v10h-10zM685 575h20v10h-20zM765 575h20v10h-20zM835 575h20v10h-20zM885 575h10v10h-10zM915 575h10v10h-10zM935 575h10v10h-10zM1015 575h10v10h-10zM1075 575h10v10h-10zM1195 575h10v10h-10zM1345 575h10v10h-10zM175 585h10v10h-10zM225 585h10v10h-10zM275 585h10v10h-10zM365 585h10v10h-10zM565 585h10v10h-10zM645 585h10v10h-10zM675 585h10v10h-10zM885 585h10v10h-10zM975 585h10v10h-10zM1035 585h10v10h-10zM1165 585h10v10h-10zM1185 585h10v10h-10zM205 595h10v10h-10zM235 595h10v10h-10zM255 595h10v10h-10zM365 595h20v10h-20zM435 595h20v10h-20zM465 595h20v10h-20zM525 595h10v10h-10zM565 595h10v10h-10zM595 595h10v10h-10zM675 595h10v10h-10zM855 595h10v10h-10zM1165 595h10v10h-10zM1225 595h10v10h-10zM195 605h10v10h-10zM225 605h20v10h-20zM275 605h10v10h-10zM385 605h10v10h-10zM425 605h10v10h-10zM475 605h10v10h-10zM605 605h10v10h-10zM665 605h10v10h-10zM865 605h10v10h-10zM915 605h10v10h-10zM1025 605h20v10h-20zM1065 605h10v10h-10zM1115 605h10v10h-10zM1165 605h20v10h-20zM1325 605h10v10h-10zM1345 605h10v10h-10zM415 615h10v10h-10zM455 615h10v10h-10zM555 615h10v10h-10zM615 615h20v10h-20zM885 615h10v10h-10zM995 615h10v10h-10zM1025 615h20v10h-20zM1055 615h20v10h-20zM1155 615h10v10h-10zM1215 615h10v10h-10zM1285 615h10v10h-10zM1345 615h10v10h-10zM165 625h10v10h-10zM185 625h10v10h-10zM295 625h10v10h-10zM545 625h10v10h-10zM615 625h10v10h-10zM865 625h10v10h-10zM965 625h10v10h-10zM1175 625h20v10h-20zM1255 625h10v10h-10zM1295 625h10v10h-10zM1335 625h10v10h-10zM175 635h10v10h-10zM205 635h10v10h-10zM255 635h10v10h-10zM385 635h10v10h-10zM445 635h10v10h-10zM575 635h10v10h-10zM595 635h10v10h-10zM895 635h10v10h-10zM1015 635h10v10h-10zM1045 635h10v10h-10zM1075 635h10v10h-10zM1125 635h10v10h-10zM1165 635h10v10h-10zM1335 635h10v10h-10zM175 645h10v10h-10zM255 645h10v10h-10zM325 645h30v10h-30zM495 645h10v10h-10zM655 645h10v10h-10zM845 645h10v10h-10zM885 645h10v10h-10zM965 645h10v10h-10zM1005 645h40v10h-40zM1135 645h10v10h-10zM1175 645h10v10h-10zM1195 645h10v10h-10zM1265 645h10v10h-10zM1355 645h10v10h-10zM205 655h10v10h-10zM275 655h10v10h-10zM405 655h10v10h-10zM495 655h10v10h-10zM585 655h10v10h-10zM645 655h20v10h-20zM675 655h10v10h-10zM875 655h10v10h-10zM955 655h10v10h-10zM1005 655h10v10h-10zM1025 655h10v10h-10zM1095 655h10v10h-10zM1135 655h10v10h-10zM1185 655h20v10h-20zM1215 655h10v10h-10zM1335 655h10v10h-10zM395 665h10v10h-10zM465 665h10v10h-10zM485 665h10v10h-10zM515 665h10v10h-10zM665 665h20v10h-20zM855 665h10v10h-10zM1015 665h10v10h-10zM1105 665h20v10h-20zM1135 665h10v10h-10zM1245 665h10v10h-10zM1275 665h10v10h-10zM1305 665h30v10h-30zM175 675h10v10h-10zM235 675h20v10h-20zM265 675h10v10h-10zM325 675h10v10h-10zM395 675h10v10h-10zM415 675h10v10h-10zM525 675h10v10h-10zM615 675h10v10h-10zM635 675h20v10h-20zM855 675h10v10h-10zM915 675h10v10h-10zM945 675h10v10h-10zM1095 675h10v10h-10zM1265 675h20v10h-20zM1295 675h10v10h-10zM1335 675h20v10h-20zM195 685h10v10h-10zM265 685h10v10h-10zM415 685h10v10h-10zM435 685h10v10h-10zM465 685h10v10h-10zM585 685h10v10h-10zM985 685h10v10h-10zM1275 685h10v10h-10zM215 695h10v10h-10zM255 695h10v10h-10zM315 695h10v10h-10zM415 695h20v10h-20zM465 695h10v10h-10zM585 695h30v10h-30zM875 695h70v10h-70zM955 695h10v10h-10zM985 695h10v10h-10zM1015 695h20v10h-20zM1205 695h20v10h-20zM1235 695h10v10h-10zM1295 695h10v10h-10zM1325 695h10v10h-10zM1345 695h10v10h-10zM175 705h10v10h-10zM255 705h20v10h-20zM295 705h10v10h-10zM395 705h10v10h-10zM475 705h10v10h-10zM675 705h10v10h-10zM935 705h10v10h-10zM965 705h20v10h-20zM1105 705h10v10h-10zM1125 705h10v10h-10zM1235 705h10v10h-10zM1345 705h20v10h-20zM435 715h10v10h-10zM455 715h10v10h-10zM485 715h10v10h-10zM965 715h10v10h-10zM1045 715h20v10h-20zM1125 715h10v10h-10zM1325 715h20v10h-20zM265 725h10v10h-10zM285 725h30v10h-30zM355 725h10v10h-10zM435 725h10v10h-10zM495 725h10v10h-10zM565 725h10v10h-10zM595 725h10v10h-10zM165 735h10v10h-10zM235 735h10v10h-10zM315 735h10v10h-10zM425 735h10v10h-10zM455 735h10v10h-10zM575 735h10v10h-10zM995 735h10v10h-10zM1035 735h10v10h-10zM1065 735h10v10h-10zM1255 735h30v10h-30zM175 745h20v10h-20zM215 745h10v10h-10zM635 745h10v10h-10zM885 745h10v10h-10zM945 745h10v10h-10zM1175 745h10v10h-10zM1215 745h10v10h-10zM1295 745h10v10h-10zM1315 745h10v10h-10zM175 755h10v10h-10zM315 755h10v10h-10zM345 755h10v10h-10zM415 755h10v10h-10zM435 755h10v10h-10zM505 755h10v10h-10zM585 755h10v10h-10zM605 755h20v10h-20zM635 755h10v10h-10zM975 755h10v10h-10zM995 755h10v10h-10zM1185 755h10v10h-10zM1215 755h20v10h-20zM1265 755h10v10h-10zM165 765h10v10h-10zM235 765h10v10h-10zM305 765h10v10h-10zM335 765h10v10h-10zM405 765h10v10h-10zM425 765h10v10h-10zM455 765h10v10h-10zM575 765h10v10h-10zM595 765h20v10h-20zM975 765h10v10h-10zM1055 765h10v10h-10zM1085 765h10v10h-10zM1215 765h10v10h-10zM1275 765h20v10h-20zM1315 765h10v10h-10zM165 775h10v10h-10zM465 775h10v10h-10zM545 775h10v10h-10zM565 775h10v10h-10zM595 775h20v10h-20zM665 775h10v10h-10zM895 775h10v10h-10zM975 775h10v10h-10zM1145 775h10v10h-10zM1245 775h10v10h-10zM1315 775h10v10h-10zM185 785h10v10h-10zM205 785h10v10h-10zM275 785h20v10h-20zM305 785h20v10h-20zM425 785h10v10h-10zM595 785h10v10h-10zM965 785h10v10h-10zM985 785h10v10h-10zM1015 785h10v10h-10zM1145 785h10v10h-10zM1235 785h10v10h-10zM1285 785h10v10h-10zM1335 785h10v10h-10zM275 795h10v10h-10zM535 795h10v10h-10zM575 795h10v10h-10zM665 795h10v10h-10zM945 795h20v10h-20zM995 795h20v10h-20zM1035 795h10v10h-10zM1125 795h10v10h-10zM1175 795h30v10h-30zM1265 795h10v10h-10zM295 805h10v10h-10zM395 805h10v10h-10zM435 805h10v10h-10zM505 805h10v10h-10zM995 805h10v10h-10zM1035 805h10v10h-10zM1155 805h10v10h-10zM1255 805h10v10h-10zM1285 805h10v10h-10zM1305 805h10v10h-10zM165 815h10v10h-10zM285 815h40v10h-40zM405 815h20v10h-20zM495 815h10v10h-10zM745 815h10v10h-10zM775 815h10v10h-10zM815 815h10v10h-10zM935 815h10v10h-10zM955 815h10v10h-10zM1165 815h10v10h-10zM1185 815h20v10h-20zM215 825h20v10h-20zM245 825h20v10h-20zM335 825h10v10h-10zM445 825h10v10h-10zM475 825h10v10h-10zM515 825h10v10h-10zM535 825h10v10h-10zM585 825h10v10h-10zM665 825h10v10h-10zM785 825h10v10h-10zM885 825h10v10h-10zM905 825h10v10h-10zM1085 825h10v10h-10zM1125 825h10v10h-10zM1145 825h10v10h-10zM1205 825h10v10h-10zM1255 825h10v10h-10zM1315 825h10v10h-10zM1335 825h10v10h-10zM265 835h10v10h-10zM295 835h10v10h-10zM465 835h10v10h-10zM615 835h10v10h-10zM665 835h40v10h-40zM875 835h10v10h-10zM1075 835h20v10h-20zM1195 835h10v10h-10zM1335 835h10v10h-10zM405 845h10v10h-10zM455 845h20v10h-20zM625 845h10v10h-10zM735 845h10v10h-10zM845 845h20v10h-20zM905 845h20v10h-20zM1055 845h10v10h-10zM1105 845h10v10h-10zM1185 845h20v10h-20zM1215 845h10v10h-10zM165 855h10v10h-10zM185 855h10v10h-10zM285 855h10v10h-10zM415 855h10v10h-10zM445 855h10v10h-10zM465 855h10v10h-10zM595 855h10v10h-10zM655 855h10v10h-10zM855 855h10v10h-10zM925 855h10v10h-10zM965 855h10v10h-10zM985 855h10v10h-10zM1025 855h10v10h-10zM1055 855h20v10h-20zM1105 855h10v10h-10zM1265 855h10v10h-10zM405 865h20v10h-20zM435 865h20v10h-20zM615 865h10v10h-10zM925 865h10v10h-10zM975 865h10v10h-10zM1045 865h10v10h-10zM1105 865h10v10h-10zM1175 865h10v10h-10zM1255 865h10v10h-10zM165 875h10v10h-10zM255 875h10v10h-10zM335 875h10v10h-10zM405 875h10v10h-10zM485 875h10v10h-10zM505 875h10v10h-10zM555 875h10v10h-10zM585 875h10v10h-10zM615 875h10v10h-10zM765 875h10v10h-10zM805 875h10v10h-10zM875 875h10v10h-10zM925 875h10v10h-10zM995 875h10v10h-10zM1045 875h10v10h-10zM1135 875h20v10h-20zM1175 875h10v10h-10zM1255 875h20v10h-20zM1295 875h10v10h-10zM455 885h20v10h-20zM495 885h10v10h-10zM615 885h10v10h-10zM665 885h10v10h-10zM715 885h10v10h-10zM795 885h30v10h-30zM865 885h10v10h-10zM1025 885h10v10h-10zM1085 885h20v10h-20zM1145 885h10v10h-10zM1255 885h10v10h-10zM1295 885h10v10h-10zM1355 885h10v10h-10zM295 895h10v10h-10zM495 895h10v10h-10zM545 895h10v10h-10zM655 895h10v10h-10zM685 895h20v10h-20zM725 895h10v10h-10zM775 895h10v10h-10zM835 895h10v10h-10zM895 895h10v10h-10zM945 895h10v10h-10zM965 895h20v10h-20zM1025 895h10v10h-10zM1045 895h10v10h-10zM1105 895h10v10h-10zM1255 895h10v10h-10zM1345 895h10v10h-10zM295 905h10v10h-10zM425 905h10v10h-10zM455 905h10v10h-10zM545 905h10v10h-10zM675 905h10v10h-10zM695 905h10v10h-10zM725 905h10v10h-10zM865 905h10v10h-10zM965 905h10v10h-10zM1065 905h10v10h-10zM1205 905h10v10h-10zM1325 905h10v10h-10zM255 915h10v10h-10zM465 915h10v10h-10zM585 915h10v10h-10zM745 915h10v10h-10zM785 915h10v10h-10zM805 915h10v10h-10zM925 915h20v10h-20zM1045 915h10v10h-10zM1145 915h20v10h-20zM1225 915h10v10h-10zM1285 915h10v10h-10zM1335 915h10v10h-10zM295 925h10v10h-10zM345 925h10v10h-10zM415 925h10v10h-10zM435 925h10v10h-10zM465 925h20v10h-20zM575 925h10v10h-10zM635 925h10v10h-10zM735 925h10v10h-10zM865 925h10v10h-10zM915 925h10v10h-10zM935 925h10v10h-10zM1015 925h30v10h-30zM1065 925h10v10h-10zM1155 925h10v10h-10zM1175 925h10v10h-10zM1195 925h20v10h-20zM1235 925h10v10h-10zM175 935h10v10h-10zM275 935h10v10h-10zM355 935h10v10h-10zM455 935h10v10h-10zM585 935h10v10h-10zM635 935h10v10h-10zM685 935h10v10h-10zM705 935h10v10h-10zM785 935h10v10h-10zM815 935h10v10h-10zM1025 935h20v10h-20zM1215 935h20v10h-20zM195 945h10v10h-10zM245 945h10v10h-10zM275 945h20v10h-20zM305 945h10v10h-10zM405 945h10v10h-10zM475 945h10v10h-10zM715 945h10v10h-10zM745 945h10v10h-10zM805 945h10v10h-10zM825 945h10v10h-10zM865 945h10v10h-10zM895 945h20v10h-20zM935 945h10v10h-10zM1095 945h20v10h-20zM1195 945h10v10h-10zM1235 945h20v10h-20zM1275 945h10v10h-10zM1345 945h10v10h-10zM175 955h10v10h-10zM225 955h10v10h-10zM445 955h10v10h-10zM635 955h10v10h-10zM685 955h10v10h-10zM745 955h10v10h-10zM815 955h20v10h-20zM845 955h10v10h-10zM865 955h10v10h-10zM895 955h20v10h-20zM985 955h10v10h-10zM1025 955h10v10h-10zM1045 955h20v10h-20zM235 965h10v10h-10zM415 965h10v10h-10zM455 965h10v10h-10zM475 965h10v10h-10zM505 965h30v10h-30zM595 965h10v10h-10zM655 965h10v10h-10zM695 965h10v10h-10zM805 965h10v10h-10zM825 965h10v10h-10zM895 965h40v10h-40zM955 965h10v10h-10zM1025 965h20v10h-20zM1095 965h10v10h-10zM1285 965h10v10h-10zM1315 965h10v10h-10zM515 975h10v10h-10zM655 975h10v10h-10zM675 975h10v10h-10zM765 975h10v10h-10zM825 975h10v10h-10zM875 975h10v10h-10zM985 975h10v10h-10zM1065 975h10v10h-10zM1145 975h10v10h-10zM1215 975h10v10h-10zM1235 975h10v10h-10zM1305 975h10v10h-10zM1325 975h10v10h-10zM175 985h10v10h-10zM215 985h20v10h-20zM245 985h10v10h-10zM435 985h10v10h-10zM545 985h40v10h-40zM705 985h10v10h-10zM765 985h20v10h-20zM915 985h10v10h-10zM1045 985h10v10h-10zM1105 985h10v10h-10zM1225 985h10v10h-10zM1245 985h10v10h-10zM1265 985h10v10h-10zM1355 985h10v10h-10zM365 995h10v10h-10zM455 995h10v10h-10zM515 995h10v10h-10zM535 995h10v10h-10zM575 995h10v10h-10zM765 995h10v10h-10zM875 995h10v10h-10zM1135 995h10v10h-10zM1215 995h10v10h-10zM1325 995h10v10h-10zM1355 995h10v10h-10zM195 1005h10v10h-10zM225 1005h20v10h-20zM265 1005h10v10h-10zM445 1005h20v10h-20zM605 1005h10v10h-10zM855 1005h10v10h-10zM945 1005h10v10h-10zM1135 1005h10v10h-10zM1205 1005h10v10h-10zM1225 1005h10v10h-10zM235 1015h20v10h-20zM265 1015h10v10h-10zM285 1015h10v10h-10zM335 1015h10v10h-10zM355 1015h20v10h-20zM545 1015h10v10h-10zM625 1015h20v10h-20zM825 1015h10v10h-10zM845 1015h20v10h-20zM925 1015h10v10h-10zM955 1015h10v10h-10zM1055 1015h10v10h-10zM1225 1015h10v10h-10zM1285 1015h10v10h-10zM1345 1015h10v10h-10zM245 1025h10v10h-10zM265 1025h10v10h-10zM495 1025h20v10h-20zM665 1025h20v10h-20zM695 1025h10v10h-10zM725 1025h10v10h-10zM765 1025h20v10h-20zM835 1025h20v10h-20zM1025 1025h10v10h-10zM1055 1025h20v10h-20zM1195 1025h10v10h-10zM1275 1025h10v10h-10zM1335 1025h10v10h-10zM215 1035h10v10h-10zM265 1035h10v10h-10zM395 1035h10v10h-10zM415 1035h10v10h-10zM455 1035h10v10h-10zM475 1035h10v10h-10zM535 1035h20v10h-20zM675 1035h10v10h-10zM855 1035h10v10h-10zM925 1035h10v10h-10zM985 1035h10v10h-10zM1085 1035h10v10h-10zM1155 1035h10v10h-10zM1195 1035h10v10h-10zM1225 1035h10v10h-10zM1335 1035h10v10h-10zM235 1045h20v10h-20zM345 1045h10v10h-10zM635 1045h10v10h-10zM665 1045h10v10h-10zM775 1045h10v10h-10zM825 1045h10v10h-10zM925 1045h10v10h-10zM1065 1045h10v10h-10zM1145 1045h10v10h-10zM1265 1045h20v10h-20zM1325 1045h20v10h-20zM1355 1045h10v10h-10zM195 1055h10v10h-10zM245 1055h10v10h-10zM265 1055h10v10h-10zM305 1055h10v10h-10zM345 1055h10v10h-10zM435 1055h10v10h-10zM465 1055h10v10h-10zM595 1055h10v10h-10zM665 1055h10v10h-10zM725 1055h10v10h-10zM1035 1055h10v10h-10zM1085 1055h10v10h-10zM1115 1055h20v10h-20zM1325 1055h10v10h-10zM195 1065h10v10h-10zM215 1065h20v10h-20zM245 1065h10v10h-10zM265 1065h10v10h-10zM355 1065h10v10h-10zM385 1065h10v10h-10zM595 1065h10v10h-10zM615 1065h10v10h-10zM645 1065h10v10h-10zM665 1065h10v10h-10zM855 1065h10v10h-10zM1185 1065h10v10h-10zM1255 1065h20v10h-20zM1345 1065h10v10h-10zM255 1075h10v10h-10zM385 1075h10v10h-10zM485 1075h10v10h-10zM585 1075h10v10h-10zM625 1075h10v10h-10zM675 1075h10v10h-10zM785 1075h10v10h-10zM815 1075h10v10h-10zM865 1075h10v10h-10zM1085 1075h20v10h-20zM1145 1075h10v10h-10zM1195 1075h10v10h-10zM245 1085h10v10h-10zM265 1085h20v10h-20zM425 1085h10v10h-10zM525 1085h10v10h-10zM675 1085h10v10h-10zM855 1085h10v10h-10zM885 1085h10v10h-10zM985 1085h10v10h-10zM1215 1085h10v10h-10zM165 1095h10v10h-10zM415 1095h10v10h-10zM465 1095h10v10h-10zM505 1095h10v10h-10zM565 1095h10v10h-10zM655 1095h30v10h-30zM815 1095h10v10h-10zM975 1095h30v10h-30zM1015 1095h10v10h-10zM1115 1095h10v10h-10zM1175 1095h10v10h-10zM1225 1095h10v10h-10zM1335 1095h10v10h-10zM185 1105h10v10h-10zM575 1105h10v10h-10zM685 1105h10v10h-10zM1135 1105h10v10h-10zM1215 1105h20v10h-20zM1265 1105h50v10h-50zM205 1115h10v10h-10zM225 1115h10v10h-10zM575 1115h10v10h-10zM745 1115h10v10h-10zM835 1115h20v10h-20zM875 1115h20v10h-20zM955 1115h10v10h-10zM1015 1115h10v10h-10zM1165 1115h10v10h-10zM1255 1115h20v10h-20zM1285 1115h10v10h-10zM165 1125h10v10h-10zM215 1125h10v10h-10zM265 1125h10v10h-10zM355 1125h10v10h-10zM445 1125h10v10h-10zM515 1125h10v10h-10zM655 1125h10v10h-10zM805 1125h10v10h-10zM875 1125h10v10h-10zM1055 1125h10v10h-10zM1285 1125h10v10h-10zM1335 1125h10v10h-10zM1355 1125h10v10h-10zM485 1135h10v10h-10zM515 1135h10v10h-10zM625 1135h10v10h-10zM815 1135h30v10h-30zM875 1135h20v10h-20zM985 1135h10v10h-10zM1065 1135h10v10h-10zM1095 1135h10v10h-10zM1185 1135h10v10h-10zM1225 1135h10v10h-10zM165 1145h10v10h-10zM405 1145h10v10h-10zM475 1145h20v10h-20zM525 1145h20v10h-20zM605 1145h10v10h-10zM665 1145h10v10h-10zM705 1145h10v10h-10zM735 1145h10v10h-10zM775 1145h10v10h-10zM835 1145h10v10h-10zM855 1145h10v10h-10zM1025 1145h10v10h-10zM1075 1145h20v10h-20zM1175 1145h10v10h-10zM1195 1145h10v10h-10zM1235 1145h10v10h-10zM1255 1145h10v10h-10zM185 1155h10v10h-10zM275 1155h10v10h-10zM325 1155h10v10h-10zM455 1155h10v10h-10zM525 1155h10v10h-10zM625 1155h10v10h-10zM705 1155h10v10h-10zM775 1155h20v10h-20zM845 1155h10v10h-10zM865 1155h20v10h-20zM1015 1155h10v10h-10zM1065 1155h10v10h-10zM1125 1155h10v10h-10zM1145 1155h10v10h-10zM1255 1155h20v10h-20zM1315 1155h10v10h-10zM1355 1155h10v10h-10zM355 1165h20v10h-20zM425 1165h10v10h-10zM495 1165h10v10h-10zM675 1165h10v10h-10zM725 1165h10v10h-10zM965 1165h10v10h-10zM1005 1165h20v10h-20zM1295 1165h10v10h-10zM275 1175h10v10h-10zM305 1175h10v10h-10zM585 1175h20v10h-20zM635 1175h10v10h-10zM765 1175h10v10h-10zM915 1175h10v10h-10zM1145 1175h10v10h-10zM1185 1175h10v10h-10zM1295 1175h10v10h-10zM175 1185h10v10h-10zM315 1185h10v10h-10zM455 1185h10v10h-10zM475 1185h10v10h-10zM505 1185h10v10h-10zM525 1185h10v10h-10zM675 1185h10v10h-10zM765 1185h10v10h-10zM835 1185h10v10h-10zM915 1185h20v10h-20zM965 1185h10v10h-10zM995 1185h10v10h-10zM1055 1185h10v10h-10zM1085 1185h10v10h-10zM1195 1185h20v10h-20zM235 1195h10v10h-10zM255 1195h10v10h-10zM285 1195h10v10h-10zM325 1195h10v10h-10zM385 1195h10v10h-10zM425 1195h20v10h-20zM455 1195h40v10h-40zM535 1195h10v10h-10zM765 1195h10v10h-10zM1155 1195h10v10h-10zM1175 1195h10v10h-10zM1235 1195h10v10h-10zM1345 1195h10v10h-10zM265 1205h10v10h-10zM285 1205h10v10h-10zM315 1205h10v10h-10zM365 1205h10v10h-10zM405 1205h10v10h-10zM535 1205h10v10h-10zM575 1205h30v10h-30zM615 1205h20v10h-20zM795 1205h10v10h-10zM865 1205h10v10h-10zM935 1205h10v10h-10zM985 1205h10v10h-10zM1035 1205h20v10h-20zM1095 1205h10v10h-10zM1195 1205h20v10h-20zM1225 1205h10v10h-10zM1315 1205h10v10h-10zM165 1215h10v10h-10zM205 1215h10v10h-10zM235 1215h10v10h-10zM365 1215h10v10h-10zM395 1215h10v10h-10zM415 1215h10v10h-10zM435 1215h20v10h-20zM505 1215h10v10h-10zM535 1215h10v10h-10zM555 1215h10v10h-10zM645 1215h10v10h-10zM675 1215h10v10h-10zM745 1215h10v10h-10zM805 1215h10v10h-10zM895 1215h10v10h-10zM945 1215h10v10h-10zM975 1215h30v10h-30zM1035 1215h10v10h-10zM1055 1215h10v10h-10zM1075 1215h10v10h-10zM1115 1215h10v10h-10zM1135 1215h10v10h-10zM1225 1215h10v10h-10zM1325 1215h10v10h-10zM185 1225h10v10h-10zM275 1225h10v10h-10zM325 1225h10v10h-10zM385 1225h10v10h-10zM475 1225h10v10h-10zM545 1225h10v10h-10zM575 1225h10v10h-10zM605 1225h10v10h-10zM625 1225h20v10h-20zM665 1225h10v10h-10zM725 1225h10v10h-10zM945 1225h10v10h-10zM1135 1225h10v10h-10zM1205 1225h20v10h-20zM1255 1225h10v10h-10zM1275 1225h10v10h-10zM1335 1225h10v10h-10zM175 1235h10v10h-10zM235 1235h10v10h-10zM355 1235h20v10h-20zM425 1235h10v10h-10zM585 1235h10v10h-10zM645 1235h30v10h-30zM705 1235h10v10h-10zM875 1235h20v10h-20zM925 1235h10v10h-10zM945 1235h10v10h-10zM1115 1235h10v10h-10zM1185 1235h10v10h-10zM1215 1235h10v10h-10zM1275 1235h10v10h-10zM255 1245h10v10h-10zM455 1245h20v10h-20zM485 1245h10v10h-10zM525 1245h10v10h-10zM545 1245h10v10h-10zM665 1245h10v10h-10zM755 1245h20v10h-20zM985 1245h10v10h-10zM1035 1245h10v10h-10zM1055 1245h20v10h-20zM1105 1245h10v10h-10zM1225 1245h10v10h-10zM165 1255h10v10h-10zM285 1255h20v10h-20zM455 1255h10v10h-10zM525 1255h10v10h-10zM565 1255h10v10h-10zM665 1255h10v10h-10zM775 1255h10v10h-10zM855 1255h10v10h-10zM925 1255h20v10h-20zM995 1255h20v10h-20zM1105 1255h10v10h-10zM1145 1255h20v10h-20zM1275 1255h10v10h-10zM185 1265h20v10h-20zM415 1265h10v10h-10zM455 1265h10v10h-10zM605 1265h10v10h-10zM855 1265h10v10h-10zM925 1265h20v10h-20zM965 1265h10v10h-10zM985 1265h10v10h-10zM1015 1265h10v10h-10zM1185 1265h10v10h-10zM1225 1265h10v10h-10zM1255 1265h20v10h-20zM1315 1265h10v10h-10zM1345 1265h10v10h-10zM185 1275h10v10h-10zM205 1275h10v10h-10zM305 1275h10v10h-10zM365 1275h20v10h-20zM395 1275h10v10h-10zM415 1275h30v10h-30zM505 1275h10v10h-10zM585 1275h10v10h-10zM675 1275h10v10h-10zM795 1275h30v10h-30zM845 1275h10v10h-10zM915 1275h10v10h-10zM975 1275h30v10h-30zM1235 1275h10v10h-10zM1265 1275h10v10h-10zM325 1285h10v10h-10zM505 1285h10v10h-10zM735 1285h10v10h-10zM805 1285h30v10h-30zM1135 1285h10v10h-10zM1275 1285h10v10h-10zM1305 1285h10v10h-10zM275 1295h10v10h-10zM335 1295h10v10h-10zM445 1295h10v10h-10zM465 1295h10v10h-10zM605 1295h20v10h-20zM685 1295h10v10h-10zM725 1295h10v10h-10zM825 1295h10v10h-10zM855 1295h10v10h-10zM1065 1295h10v10h-10zM1135 1295h10v10h-10zM235 1305h10v10h-10zM265 1305h10v10h-10zM385 1305h20v10h-20zM455 1305h10v10h-10zM495 1305h10v10h-10zM665 1305h20v10h-20zM695 1305h10v10h-10zM715 1305h10v10h-10zM745 1305h10v10h-10zM775 1305h10v10h-10zM855 1305h10v10h-10zM1125 1305h10v10h-10zM1245 1305h10v10h-10zM1325 1305h10v10h-10z"/>
<path fill="#0054ff" d="M295 115h10v10h-10zM485 115h10v10h-10zM655 115h10v10h-10zM695 115h10v10h-10zM785 115h10v10h-10zM805 115h10v10h-10zM945 115h10v10h-10zM965 115h20v10h-20zM1015 115h10v10h-10zM1115 115h30v10h-30zM1155 115h20v10h-20zM1235 115h10v10h-10zM1325 115h10v10h-10zM285 125h10v10h-10zM455 125h10v10h-10zM525 125h10v10h-10zM545 125h10v10h-10zM565 125h10v10h-10zM685 125h10v10h-10zM815 125h10v10h-10zM865 125h10v10h-10zM1045 125h30v10h-30zM1085 125h20v10h-20zM1115 125h20v10h-20zM1155 125h10v10h-10zM1215 125h10v10h-10zM1305 125h10v10h-10zM1335 125h10v10h-10zM335 135h10v10h-10zM505 135h10v10h-10zM525 135h10v10h-10zM565 135h10v10h-10zM645 135h10v10h-10zM665 135h10v10h-10zM685 135h10v10h-10zM725 135h10v10h-10zM835 135h20v10h-20zM865 135h20v10h-20zM945 135h10v10h-10zM1005 135h10v10h-10zM1055 135h20v10h-20zM1115 135h10v10h-10zM1135 135h20v10h-20zM485 145h10v10h-10zM525 145h10v10h-10zM645 145h20v10h-20zM745 145h10v10h-10zM945 145h10v10h-10zM1155 145h10v10h-10zM1195 145h10v10h-10zM1245 145h10v10h-10zM1355 145h10v10h-10zM165 155h10v10h-10zM275 155h20v10h-20zM885 155h10v10h-10zM1015 155h10v10h-10zM1095 155h20v10h-20zM1265 155h20v10h-20zM1355 155h10v10h-10zM275 165h10v10h-10zM455 165h10v10h-10zM555 165h10v10h-10zM575 165h20v10h-20zM695 165h30v10h-30zM765 165h10v10h-10zM1205 165h10v10h-10zM1255 165h20v10h-20zM195 175h10v10h-10zM215 175h10v10h-10zM265 175h10v10h-10zM335 175h20v10h-20zM375 175h10v10h-10zM535 175h10v10h-10zM575 175h10v10h-10zM695 175h10v10h-10zM825 175h20v10h-20zM865 175h10v10h-10zM885 175h20v10h-20zM1025 175h20v10h-20zM1125 175h10v10h-10zM1145 175h10v10h-10zM1185 175h10v10h-10zM1285 175h20v10h-20zM215 185h20v10h-20zM295 185h10v10h-10zM495 185h10v10h-10zM605 185h10v10h-10zM645 185h10v10h-10zM845 185h20v10h-20zM905 185h30v10h-30zM1115 185h10v10h-10zM1195 185h20v10h-20zM1345 185h10v10h-10zM205 195h20v10h-20zM305 195h10v10h-10zM385 195h10v10h-10zM455 195h10v10h-10zM575 195h10v10h-10zM615 195h10v10h-10zM655 195h10v10h-10zM845 195h10v10h-10zM875 195h20v10h-20zM905 195h10v10h-10zM925 195h30v10h-30zM1075 195h10v10h-10zM1275 195h10v10h-10zM215 205h10v10h-10zM285 205h10v10h-10zM315 205h10v10h-10zM395 205h20v10h-20zM455 205h20v10h-20zM535 205h10v10h-10zM745 205h10v10h-10zM905 205h30v10h-30zM985 205h30v10h-30zM1045 205h10v10h-10zM1245 205h10v10h-10zM255 215h10v10h-10zM275 215h10v10h-10zM415 215h20v10h-20zM455 215h20v10h-20zM485 215h10v10h-10zM585 215h10v10h-10zM605 215h10v10h-10zM625 215h20v10h-20zM655 215h10v10h-10zM735 215h20v10h-20zM845 215h10v10h-10zM955 215h10v10h-10zM985 215h30v10h-30zM1075 215h20v10h-20zM1215 215h20v10h-20zM1325 215h20v10h-20zM165 225h10v10h-10zM305 225h10v10h-10zM415 225h10v10h-10zM455 225h10v10h-10zM645 225h10v10h-10zM665 225h20v10h-20zM715 225h10v10h-10zM785 225h20v10h-20zM875 225h10v10h-10zM935 225h10v10h-10zM1175 225h10v10h-10zM1285 225h10v10h-10zM215 235h10v10h-10zM305 235h10v10h-10zM335 235h10v10h-10zM445 235h20v10h-20zM485 235h10v10h-10zM665 235h10v10h-10zM725 235h30v10h-30zM775 235h10v10h-10zM895 235h10v10h-10zM945 235h10v10h-10zM975 235h10v10h-10zM1045 235h10v10h-10zM1075 235h10v10h-10zM1155 235h10v10h-10zM1175 235h20v10h-20zM255 245h10v10h-10zM295 245h10v10h-10zM445 245h10v10h-10zM595 245h10v10h-10zM655 245h10v10h-10zM765 245h10v10h-10zM1015 245h20v10h-20zM1045 245h10v10h-10zM1215 245h10v10h-10zM1245 245h10v10h-10zM1305 245h10v10h-10zM185 255h10v10h-10zM245 255h10v10h-10zM375 255h10v10h-10zM535 255h20v10h-20zM565 255h10v10h-10zM715 255h10v10h-10zM745 255h10v10h-10zM925 255h20v10h-20zM1055 255h10v10h-10zM1145 255h20v10h-20zM1205 255h20v10h-20zM1245 255h10v10h-10zM1315 255h10v10h-10zM275 265h10v10h-10zM355 265h10v10h-10zM375 265h10v10h-10zM465 265h10v10h-10zM665 265h10v10h-10zM1005 265h20v10h-20zM1075 265h10v10h-10zM165 275h10v10h-10zM265 275h10v10h-10zM335 275h20v10h-20zM465 275h10v10h-10zM605 275h10v10h-10zM625 275h10v10h-10zM875 275h10v10h-10zM965 275h10v10h-10zM1315 275h10v10h-10zM1345 275h10v10h-10zM275 285h10v10h-10zM315 285h10v10h-10zM485 285h20v10h-20zM645 285h10v10h-10zM665 285h10v10h-10zM695 285h10v10h-10zM715 285h10v10h-10zM1055 285h10v10h-10zM1095 285h10v10h-10zM1135 285h10v10h-10zM1205 285h10v10h-10zM1235 285h10v10h-10zM265 295h10v10h-10zM465 295h10v10h-10zM485 295h10v10h-10zM595 295h10v10h-10zM625 295h30v10h-30zM745 295h10v10h-10zM815 295h10v10h-10zM865 295h10v10h-10zM1005 295h10v10h-10zM1055 295h10v10h-10zM1115 295h10v10h-10zM1215 295h10v10h-10zM335 305h10v10h-10zM515 305h10v10h-10zM545 305h10v10h-10zM585 305h10v10h-10zM655 305h10v10h-10zM675 305h10v10h-10zM705 305h10v10h-10zM825 305h10v10h-10zM925 305h10v10h-10zM1025 305h10v10h-10zM1235 305h10v10h-10zM165 315h10v10h-10zM285 315h10v10h-10zM495 315h10v10h-10zM535 315h30v10h-30zM615 315h10v10h-10zM795 315h10v10h-10zM935 315h10v10h-10zM955 315h10v10h-10zM995 315h10v10h-10zM1075 315h10v10h-10zM1105 315h20v10h-20zM1165 315h20v10h-20zM1195 315h10v10h-10zM1245 315h10v10h-10zM1345 315h10v10h-10zM475 325h10v10h-10zM535 325h10v10h-10zM585 325h10v10h-10zM675 325h10v10h-10zM715 325h10v10h-10zM735 325h10v10h-10zM855 325h10v10h-10zM1025 325h10v10h-10zM1235 325h10v10h-10zM1255 325h10v10h-10zM1305 325h10v10h-10zM1325 325h10v10h-10zM285 335h10v10h-10zM385 335h10v10h-10zM795 335h10v10h-10zM865 335h10v10h-10zM1005 335h10v10h-10zM1045 335h10v10h-10zM1085 335h10v10h-10zM1175 335h10v10h-10zM1255 335h10v10h-10zM455 345h10v10h-10zM655 345h10v10h-10zM825 345h10v10h-10zM845 345h10v10h-10zM865 345h10v10h-10zM925 345h10v10h-10zM1115 345h10v10h-10zM1285 345h10v10h-10zM1335 345h10v10h-10zM295 355h10v10h-10zM335 355h10v10h-10zM425 355h10v10h-10zM495 355h20v10h-20zM615 355h10v10h-10zM635 355h10v10h-10zM1035 355h10v10h-10zM1185 355h10v10h-10zM1205 355h10v10h-10zM1275 355h10v10h-10zM265 365h10v10h-10zM375 365h20v10h-20zM515 365h10v10h-10zM895 365h10v10h-10zM1025 365h30v10h-30zM1145 365h10v10h-10zM1185 365h10v10h-10zM1235 365h10v10h-10zM1255 365h10v10h-10zM565 375h10v10h-10zM595 375h20v10h-20zM645 375h10v10h-10zM795 375h10v10h-10zM895 375h10v10h-10zM915 375h10v10h-10zM935 375h10v10h-10zM995 375h10v10h-10zM1055 375h10v10h-10zM1165 375h10v10h-10zM1205 375h10v10h-10zM1225 375h10v10h-10zM1245 375h10v10h-10zM1325 375h10v10h-10zM325 385h10v10h-10zM545 385h10v10h-10zM715 385h10v10h-10zM935 385h10v10h-10zM1055 385h20v10h-20zM1155 385h10v10h-10zM1215 385h10v10h-10zM1275 385h30v10h-30zM195 395h10v10h-10zM235 395h10v10h-10zM295 395h10v10h-10zM325 395h20v10h-20zM585 395h10v10h-10zM705 395h10v10h-10zM925 395h30v10h-30zM1005 395h20v10h-20zM1055 395h10v10h-10zM1095 395h10v10h-10zM1285 395h10v10h-10zM345 405h20v10h-20zM405 405h20v10h-20zM445 405h10v10h-10zM525 405h10v10h-10zM665 405h10v10h-10zM925 405h10v10h-10zM1025 405h10v10h-10zM165 415h10v10h-10zM265 415h20v10h-20zM305 415h10v10h-10zM355 415h10v10h-10zM395 415h30v10h-30zM515 415h10v10h-10zM535 415h40v10h-40zM645 415h10v10h-10zM675 415h10v10h-10zM865 415h20v10h-20zM915 415h10v10h-10zM1055 415h10v10h-10zM1085 415h10v10h-10zM1105 415h10v10h-10zM1125 415h10v10h-10zM195 425h10v10h-10zM285 425h10v10h-10zM365 425h10v10h-10zM405 425h10v10h-10zM565 425h10v10h-10zM705 425h10v10h-10zM785 425h10v10h-10zM855 425h10v10h-10zM885 425h10v10h-10zM925 425h10v10h-10zM945 425h20v10h-20zM1005 425h10v10h-10zM1235 425h10v10h-10zM165 435h10v10h-10zM195 435h10v10h-10zM355 435h10v10h-10zM375 435h10v10h-10zM455 435h20v10h-20zM505 435h10v10h-10zM575 435h10v10h-10zM715 435h10v10h-10zM745 435h20v10h-20zM795 435h20v10h-20zM825 435h10v10h-10zM965 435h10v10h-10zM1145 435h10v10h-10zM1175 435h10v10h-10zM1235 435h10v10h-10zM1325 435h10v10h-10zM205 445h20v10h-20zM365 445h10v10h-10zM465 445h20v10h-20zM545 445h10v10h-10zM685 445h10v10h-10zM725 445h10v10h-10zM775 445h10v10h-10zM995 445h20v10h-20zM1065 445h10v10h-10zM1085 445h10v10h-10zM1125 445h10v10h-10zM1285 445h10v10h-10zM195 455h10v10h-10zM665 455h10v10h-10zM815 455h10v10h-10zM835 455h10v10h-10zM995 455h10v10h-10zM1065 455h10v10h-10zM1175 455h10v10h-10zM1205 455h10v10h-10zM185 465h10v10h-10zM245 465h10v10h-10zM295 465h10v10h-10zM445 465h10v10h-10zM575 465h10v10h-10zM605 465h10v10h-10zM625 465h10v10h-10zM685 465h10v10h-10zM705 465h10v10h-10zM755 465h10v10h-10zM775 465h10v10h-10zM995 465h10v10h-10zM1075 465h10v10h-10zM1205 465h10v10h-10zM1355 465h10v10h-10zM195 475h10v10h-10zM255 475h10v10h-10zM285 475h10v10h-10zM325 475h10v10h-10zM455 475h10v10h-10zM565 475h20v10h-20zM615 475h10v10h-10zM675 475h10v10h-10zM765 475h10v10h-10zM855 475h10v10h-10zM1075 475h10v10h-10zM1175 475h10v10h-10zM1295 475h10v10h-10zM255 485h20v10h-20zM575 485h10v10h-10zM605 485h10v10h-10zM785 485h10v10h-10zM1165 485h10v10h-10zM1345 485h20v10h-20zM235 495h10v10h-10zM255 495h10v10h-10zM455 495h10v10h-10zM715 495h10v10h-10zM765 495h10v10h-10zM885 495h10v10h-10zM1175 495h10v10h-10zM1285 495h10v10h-10zM225 505h10v10h-10zM265 505h20v10h-20zM695 505h10v10h-10zM785 505h10v10h-10zM845 505h10v10h-10zM1175 505h10v10h-10zM1245 505h10v10h-10zM175 515h10v10h-10zM365 515h10v10h-10zM405 515h10v10h-10zM545 515h10v10h-10zM615 515h20v10h-20zM695 515h10v10h-10zM865 515h10v10h-10zM965 515h10v10h-10zM1195 515h10v10h-10zM355 525h10v10h-10zM395 525h10v10h-10zM435 525h10v10h-10zM755 525h10v10h-10zM1005 525h10v10h-10zM1025 525h10v10h-10zM1045 525h10v10h-10zM1075 525h20v10h-20zM1105 525h10v10h-10zM1205 525h10v10h-10zM1295 525h10v10h-10zM185 535h20v10h-20zM225 535h10v10h-10zM345 535h10v10h-10zM395 535h20v10h-20zM425 535h10v10h-10zM565 535h10v10h-10zM605 535h10v10h-10zM745 535h10v10h-10zM845 535h10v10h-10zM935 535h10v10h-10zM1075 535h20v10h-20zM1295 535h10v10h-10zM165 545h10v10h-10zM285 545h10v10h-10zM305 545h10v10h-10zM335 545h20v10h-20zM385 545h10v10h-10zM575 545h10v10h-10zM605 545h10v10h-10zM635 545h10v10h-10zM765 545h20v10h-20zM815 545h10v10h-10zM945 545h20v10h-20zM975 545h10v10h-10zM1065 545h30v10h-30zM1195 545h10v10h-10zM1245 545h10v10h-10zM195 555h30v10h-30zM295 555h10v10h-10zM335 555h10v10h-10zM645 555h10v10h-10zM765 555h20v10h-20zM795 555h10v10h-10zM1105 555h10v10h-10zM1145 555h10v10h-10zM1255 555h10v10h-10zM305 565h10v10h-10zM525 565h10v10h-10zM775 565h10v10h-10zM825 565h10v10h-10zM895 565h10v10h-10zM1255 565h10v10h-10zM1275 565h20v10h-20zM1315 565h10v10h-10zM1345 565h10v10h-10zM215 575h20v10h-20zM285 575h10v10h-10zM355 575h10v10h-10zM495 575h10v10h-10zM585 575h10v10h-10zM665 575h20v10h-20zM725 575h10v10h-10zM745 575h10v10h-10zM805 575h10v10h-10zM855 575h10v10h-10zM1095 575h10v10h-10zM1125 575h10v10h-10zM1265 575h10v10h-10zM1325 575h10v10h-10zM205 585h10v10h-10zM355 585h10v10h-10zM435 585h10v10h-10zM485 585h10v10h-10zM585 585h10v10h-10zM635 585h10v10h-10zM685 585h10v10h-10zM745 585h10v10h-10zM815 585h10v10h-10zM845 585h10v10h-10zM895 585h10v10h-10zM915 585h20v10h-20zM1085 585h20v10h-20zM1135 585h30v10h-30zM1205 585h20v10h-20zM265 595h10v10h-10zM605 595h10v10h-10zM845 595h10v10h-10zM1035 595h20v10h-20zM1065 595h20v10h-20zM1105 595h10v10h-10zM1275 595h10v10h-10zM1315 595h10v10h-10zM1335 595h10v10h-10zM325 605h10v10h-10zM375 605h10v10h-10zM405 605h10v10h-10zM505 605h10v10h-10zM675 605h10v10h-10zM905 605h10v10h-10zM995 605h10v10h-10zM1105 605h10v10h-10zM1145 605h10v10h-10zM1205 605h10v10h-10zM1225 605h20v10h-20zM1275 605h10v10h-10zM1305 605h10v10h-10zM225 615h10v10h-10zM275 615h10v10h-10zM385 615h10v10h-10zM435 615h10v10h-10zM485 615h10v10h-10zM545 615h10v10h-10zM575 615h10v10h-10zM635 615h10v10h-10zM675 615h10v10h-10zM925 615h10v10h-10zM945 615h10v10h-10zM1075 615h10v10h-10zM1165 615h10v10h-10zM1185 615h10v10h-10zM1205 615h10v10h-10zM1225 615h20v10h-20zM1305 615h10v10h-10zM1335 615h10v10h-10zM215 625h10v10h-10zM245 625h10v10h-10zM265 625h10v10h-10zM395 625h10v10h-10zM415 625h10v10h-10zM455 625h10v10h-10zM515 625h30v10h-30zM675 625h10v10h-10zM905 625h10v10h-10zM955 625h10v10h-10zM975 625h20v10h-20zM1075 625h40v10h-40zM1215 625h10v10h-10zM1245 625h10v10h-10zM1325 625h10v10h-10zM1355 625h10v10h-10zM375 635h10v10h-10zM425 635h10v10h-10zM565 635h10v10h-10zM655 635h10v10h-10zM845 635h10v10h-10zM905 635h10v10h-10zM1025 635h10v10h-10zM1115 635h10v10h-10zM1145 635h20v10h-20zM165 645h10v10h-10zM205 645h10v10h-10zM235 645h10v10h-10zM265 645h20v10h-20zM295 645h10v10h-10zM405 645h20v10h-20zM595 645h10v10h-10zM855 645h10v10h-10zM905 645h10v10h-10zM1125 645h10v10h-10zM1155 645h10v10h-10zM1345 645h10v10h-10zM175 655h10v10h-10zM215 655h10v10h-10zM295 655h10v10h-10zM385 655h10v10h-10zM605 655h10v10h-10zM975 655h10v10h-10zM995 655h10v10h-10zM1015 655h10v10h-10zM1105 655h10v10h-10zM1205 655h10v10h-10zM1225 655h10v10h-10zM1295 655h10v10h-10zM1355 655h10v10h-10zM165 665h10v10h-10zM295 665h10v10h-10zM315 665h10v10h-10zM565 665h10v10h-10zM585 665h30v10h-30zM1025 665h10v10h-10zM1075 665h10v10h-10zM1125 665h10v10h-10zM465 675h10v10h-10zM585 675h20v10h-20zM1025 675h10v10h-10zM1075 675h10v10h-10zM1105 675h20v10h-20zM175 685h10v10h-10zM255 685h10v10h-10zM275 685h10v10h-10zM305 685h10v10h-10zM455 685h10v10h-10zM515 685h20v10h-20zM935 685h10v10h-10zM975 685h10v10h-10zM1025 685h10v10h-10zM1065 685h10v10h-10zM1095 685h30v10h-30zM1175 685h10v10h-10zM1225 685h20v10h-20zM535 695h10v10h-10zM615 695h20v10h-20zM845 695h10v10h-10zM995 695h10v10h-10zM1065 695h10v10h-10zM1125 695h40v10h-40zM1195 695h10v10h-10zM1225 695h10v10h-10zM1355 695h10v10h-10zM205 705h10v10h-10zM235 705h10v10h-10zM335 705h10v10h-10zM365 705h20v10h-20zM485 705h10v10h-10zM525 705h10v10h-10zM565 705h10v10h-10zM605 705h10v10h-10zM945 705h10v10h-10zM1185 705h10v10h-10zM1285 705h10v10h-10zM405 715h30v10h-30zM465 715h20v10h-20zM495 715h10v10h-10zM545 715h10v10h-10zM885 715h10v10h-10zM925 715h10v10h-10zM1025 715h10v10h-10zM1085 715h10v10h-10zM1275 715h20v10h-20zM235 725h10v10h-10zM325 725h20v10h-20zM415 725h10v10h-10zM585 725h10v10h-10zM665 725h10v10h-10zM965 725h10v10h-10zM1045 725h10v10h-10zM1275 725h10v10h-10zM185 735h10v10h-10zM255 735h10v10h-10zM275 735h10v10h-10zM305 735h10v10h-10zM445 735h10v10h-10zM865 735h10v10h-10zM885 735h10v10h-10zM955 735h10v10h-10zM1015 735h10v10h-10zM1055 735h10v10h-10zM1135 735h10v10h-10zM1205 735h10v10h-10zM1315 735h10v10h-10zM1345 735h10v10h-10zM205 745h10v10h-10zM235 745h30v10h-30zM305 745h10v10h-10zM325 745h10v10h-10zM425 745h10v10h-10zM445 745h10v10h-10zM495 745h10v10h-10zM865 745h10v10h-10zM1005 745h10v10h-10zM1155 745h10v10h-10zM1285 745h10v10h-10zM1305 745h10v10h-10zM1335 745h10v10h-10zM245 755h10v10h-10zM295 755h20v10h-20zM665 755h20v10h-20zM875 755h20v10h-20zM945 755h10v10h-10zM1035 755h10v10h-10zM1165 755h10v10h-10zM1355 755h10v10h-10zM295 765h10v10h-10zM385 765h10v10h-10zM445 765h10v10h-10zM585 765h10v10h-10zM865 765h10v10h-10zM895 765h10v10h-10zM945 765h10v10h-10zM1235 765h10v10h-10zM1355 765h10v10h-10zM415 775h10v10h-10zM435 775h20v10h-20zM965 775h10v10h-10zM1155 775h10v10h-10zM1265 775h20v10h-20zM1355 775h10v10h-10zM195 785h10v10h-10zM435 785h10v10h-10zM1115 785h10v10h-10zM1155 785h10v10h-10zM1205 785h30v10h-30zM205 795h20v10h-20zM375 795h10v10h-10zM625 795h10v10h-10zM645 795h10v10h-10zM1015 795h10v10h-10zM1095 795h10v10h-10zM1145 795h10v10h-10zM1225 795h20v10h-20zM1285 795h10v10h-10zM175 805h10v10h-10zM535 805h10v10h-10zM555 805h10v10h-10zM585 805h10v10h-10zM645 805h10v10h-10zM915 805h10v10h-10zM1055 805h10v10h-10zM1075 805h10v10h-10zM1115 805h10v10h-10zM1145 805h10v10h-10zM1165 805h10v10h-10zM1195 805h20v10h-20zM1275 805h10v10h-10zM175 815h20v10h-20zM205 815h10v10h-10zM275 815h10v10h-10zM425 815h20v10h-20zM485 815h10v10h-10zM515 815h20v10h-20zM545 815h10v10h-10zM805 815h10v10h-10zM845 815h10v10h-10zM985 815h10v10h-10zM1005 815h10v10h-10zM1045 815h10v10h-10zM1115 815h10v10h-10zM1175 815h10v10h-10zM1205 815h10v10h-10zM1235 815h10v10h-10zM1255 815h10v10h-10zM1295 815h20v10h-20zM175 825h10v10h-10zM265 825h10v10h-10zM315 825h10v10h-10zM405 825h10v10h-10zM425 825h20v10h-20zM525 825h10v10h-10zM605 825h20v10h-20zM725 825h10v10h-10zM855 825h20v10h-20zM925 825h10v10h-10zM965 825h10v10h-10zM1005 825h10v10h-10zM1105 825h10v10h-10zM1135 825h10v10h-10zM1185 825h10v10h-10zM1295 825h10v10h-10zM1345 825h10v10h-10zM205 835h10v10h-10zM335 835h10v10h-10zM375 835h10v10h-10zM505 835h10v10h-10zM525 835h20v10h-20zM555 835h10v10h-10zM625 835h10v10h-10zM855 835h20v10h-20zM925 835h20v10h-20zM955 835h10v10h-10zM1005 835h10v10h-10zM1125 835h10v10h-10zM1145 835h10v10h-10zM1265 835h10v10h-10zM1295 835h10v10h-10zM295 845h10v10h-10zM335 845h10v10h-10zM475 845h20v10h-20zM665 845h10v10h-10zM715 845h10v10h-10zM805 845h10v10h-10zM925 845h10v10h-10zM1015 845h10v10h-10zM1125 845h10v10h-10zM1175 845h10v10h-10zM275 855h10v10h-10zM295 855h10v10h-10zM365 855h10v10h-10zM395 855h20v10h-20zM455 855h10v10h-10zM515 855h10v10h-10zM555 855h20v10h-20zM615 855h10v10h-10zM665 855h10v10h-10zM695 855h10v10h-10zM835 855h10v10h-10zM865 855h10v10h-10zM1015 855h10v10h-10zM1205 855h10v10h-10zM1355 855h10v10h-10zM255 865h10v10h-10zM275 865h10v10h-10zM365 865h10v10h-10zM385 865h20v10h-20zM505 865h10v10h-10zM555 865h10v10h-10zM845 865h10v10h-10zM935 865h10v10h-10zM1095 865h10v10h-10zM1135 865h10v10h-10zM1235 865h10v10h-10zM175 875h10v10h-10zM215 875h10v10h-10zM325 875h10v10h-10zM345 875h10v10h-10zM605 875h10v10h-10zM675 875h10v10h-10zM1065 875h10v10h-10zM1095 875h10v10h-10zM1285 875h10v10h-10zM1315 875h10v10h-10zM175 885h20v10h-20zM225 885h10v10h-10zM265 885h10v10h-10zM295 885h10v10h-10zM365 885h10v10h-10zM475 885h10v10h-10zM545 885h10v10h-10zM595 885h10v10h-10zM685 885h10v10h-10zM755 885h10v10h-10zM955 885h20v10h-20zM1165 885h10v10h-10zM1195 885h10v10h-10zM1275 885h10v10h-10zM1305 885h10v10h-10zM1325 885h10v10h-10zM1345 885h10v10h-10zM235 895h10v10h-10zM315 895h10v10h-10zM335 895h10v10h-10zM455 895h10v10h-10zM665 895h10v10h-10zM765 895h10v10h-10zM925 895h10v10h-10zM1095 895h10v10h-10zM1155 895h10v10h-10zM1295 895h30v10h-30zM165 905h20v10h-20zM205 905h20v10h-20zM275 905h10v10h-10zM305 905h10v10h-10zM465 905h10v10h-10zM585 905h10v10h-10zM735 905h10v10h-10zM855 905h10v10h-10zM985 905h10v10h-10zM1075 905h10v10h-10zM1095 905h10v10h-10zM185 915h10v10h-10zM295 915h10v10h-10zM345 915h20v10h-20zM595 915h20v10h-20zM625 915h10v10h-10zM675 915h20v10h-20zM705 915h10v10h-10zM735 915h10v10h-10zM815 915h10v10h-10zM835 915h10v10h-10zM985 915h10v10h-10zM1025 915h10v10h-10zM1075 915h10v10h-10zM1205 915h10v10h-10zM1235 915h10v10h-10zM1265 915h10v10h-10zM1355 915h10v10h-10zM165 925h10v10h-10zM225 925h30v10h-30zM275 925h10v10h-10zM355 925h30v10h-30zM485 925h10v10h-10zM545 925h10v10h-10zM565 925h10v10h-10zM665 925h10v10h-10zM825 925h10v10h-10zM955 925h10v10h-10zM1085 925h10v10h-10zM1245 925h10v10h-10zM1265 925h10v10h-10zM1285 925h10v10h-10zM215 935h10v10h-10zM375 935h10v10h-10zM415 935h20v10h-20zM625 935h10v10h-10zM675 935h10v10h-10zM835 935h10v10h-10zM1055 935h10v10h-10zM1075 935h10v10h-10zM1115 935h10v10h-10zM1205 935h10v10h-10zM325 945h10v10h-10zM585 945h10v10h-10zM1055 945h10v10h-10zM1145 945h20v10h-20zM1205 945h10v10h-10zM1225 945h10v10h-10zM1265 945h10v10h-10zM1285 945h10v10h-10zM1335 945h10v10h-10zM345 955h10v10h-10zM705 955h10v10h-10zM795 955h10v10h-10zM835 955h10v10h-10zM1205 955h20v10h-20zM1345 955h10v10h-10zM485 965h10v10h-10zM845 965h10v10h-10zM985 965h10v10h-10zM1045 965h20v10h-20zM1115 965h10v10h-10zM1205 965h10v10h-10zM1225 965h10v10h-10zM1355 965h10v10h-10zM235 975h10v10h-10zM305 975h10v10h-10zM335 975h20v10h-20zM475 975h10v10h-10zM865 975h10v10h-10zM955 975h10v10h-10zM1115 975h30v10h-30zM1335 975h20v10h-20zM235 985h10v10h-10zM265 985h10v10h-10zM315 985h10v10h-10zM335 985h20v10h-20zM385 985h10v10h-10zM425 985h10v10h-10zM465 985h10v10h-10zM935 985h10v10h-10zM955 985h10v10h-10zM235 995h10v10h-10zM305 995h10v10h-10zM405 995h10v10h-10zM565 995h10v10h-10zM825 995h10v10h-10zM935 995h10v10h-10zM965 995h10v10h-10zM1005 995h30v10h-30zM1205 995h10v10h-10zM1305 995h10v10h-10zM175 1005h10v10h-10zM245 1005h10v10h-10zM275 1005h20v10h-20zM425 1005h20v10h-20zM555 1005h10v10h-10zM795 1005h20v10h-20zM1035 1005h10v10h-10zM1155 1005h10v10h-10zM1245 1005h10v10h-10zM1265 1005h10v10h-10zM1335 1005h10v10h-10zM275 1015h10v10h-10zM395 1015h20v10h-20zM445 1015h10v10h-10zM465 1015h10v10h-10zM515 1015h10v10h-10zM585 1015h10v10h-10zM645 1015h10v10h-10zM685 1015h10v10h-10zM795 1015h10v10h-10zM1015 1015h10v10h-10zM1045 1015h10v10h-10zM1155 1015h10v10h-10zM1275 1015h10v10h-10zM1295 1015h10v10h-10zM315 1025h10v10h-10zM335 1025h10v10h-10zM395 1025h10v10h-10zM425 1025h10v10h-10zM645 1025h10v10h-10zM705 1025h10v10h-10zM925 1025h10v10h-10zM985 1025h10v10h-10zM1175 1025h10v10h-10zM1225 1025h10v10h-10zM1345 1025h10v10h-10zM165 1035h10v10h-10zM205 1035h10v10h-10zM235 1035h10v10h-10zM315 1035h10v10h-10zM345 1035h10v10h-10zM495 1035h10v10h-10zM635 1035h10v10h-10zM665 1035h10v10h-10zM775 1035h10v10h-10zM795 1035h10v10h-10zM835 1035h10v10h-10zM965 1035h10v10h-10zM1015 1035h10v10h-10zM1075 1035h10v10h-10zM1105 1035h10v10h-10zM1165 1035h10v10h-10zM1305 1035h10v10h-10zM1345 1035h10v10h-10zM195 1045h10v10h-10zM215 1045h10v10h-10zM255 1045h10v10h-10zM445 1045h10v10h-10zM475 1045h10v10h-10zM495 1045h10v10h-10zM515 1045h10v10h-10zM835 1045h10v10h-10zM865 1045h10v10h-10zM985 1045h10v10h-10zM1205 1045h10v10h-10zM1235 1045h10v10h-10zM1315 1045h10v10h-10zM385 1055h10v10h-10zM475 1055h10v10h-10zM625 1055h10v10h-10zM795 1055h20v10h-20zM835 1055h10v10h-10zM865 1055h10v10h-10zM895 1055h10v10h-10zM925 1055h10v10h-10zM965 1055h10v10h-10zM1055 1055h10v10h-10zM1205 1055h10v10h-10zM1295 1055h10v10h-10zM185 1065h10v10h-10zM205 1065h10v10h-10zM335 1065h10v10h-10zM535 1065h10v10h-10zM555 1065h20v10h-20zM635 1065h10v10h-10zM715 1065h10v10h-10zM805 1065h10v10h-10zM825 1065h10v10h-10zM895 1065h10v10h-10zM1005 1065h10v10h-10zM1055 1065h10v10h-10zM1165 1065h10v10h-10zM1195 1065h20v10h-20zM1335 1065h10v10h-10zM1355 1065h10v10h-10zM165 1075h20v10h-20zM275 1075h20v10h-20zM355 1075h10v10h-10zM375 1075h10v10h-10zM535 1075h30v10h-30zM575 1075h10v10h-10zM715 1075h10v10h-10zM775 1075h10v10h-10zM795 1075h10v10h-10zM905 1075h10v10h-10zM1005 1075h10v10h-10zM1105 1075h20v10h-20zM1305 1075h10v10h-10zM295 1085h20v10h-20zM355 1085h10v10h-10zM575 1085h10v10h-10zM655 1085h10v10h-10zM685 1085h10v10h-10zM765 1085h10v10h-10zM965 1085h10v10h-10zM1005 1085h10v10h-10zM1095 1085h20v10h-20zM1155 1085h10v10h-10zM1245 1085h10v10h-10zM1295 1085h10v10h-10zM295 1095h10v10h-10zM315 1095h10v10h-10zM395 1095h20v10h-20zM555 1095h10v10h-10zM575 1095h10v10h-10zM625 1095h10v10h-10zM745 1095h30v10h-30zM805 1095h10v10h-10zM1005 1095h10v10h-10zM1085 1095h10v10h-10zM1205 1095h10v10h-10zM1345 1095h10v10h-10zM165 1105h10v10h-10zM285 1105h10v10h-10zM395 1105h30v10h-30zM585 1105h10v10h-10zM625 1105h10v10h-10zM795 1105h10v10h-10zM915 1105h10v10h-10zM935 1105h10v10h-10zM975 1105h10v10h-10zM995 1105h20v10h-20zM1065 1105h10v10h-10zM1205 1105h10v10h-10zM1245 1105h10v10h-10zM165 1115h20v10h-20zM365 1115h10v10h-10zM475 1115h10v10h-10zM495 1115h10v10h-10zM615 1115h10v10h-10zM675 1115h10v10h-10zM1185 1115h10v10h-10zM1235 1115h10v10h-10zM365 1125h10v10h-10zM405 1125h10v10h-10zM665 1125h10v10h-10zM755 1125h10v10h-10zM825 1125h30v10h-30zM915 1125h10v10h-10zM965 1125h10v10h-10zM1065 1125h10v10h-10zM1185 1125h30v10h-30zM1225 1125h10v10h-10zM1275 1125h10v10h-10zM1305 1125h20v10h-20zM1345 1125h10v10h-10zM215 1135h10v10h-10zM235 1135h10v10h-10zM365 1135h20v10h-20zM395 1135h10v10h-10zM445 1135h10v10h-10zM495 1135h20v10h-20zM745 1135h10v10h-10zM895 1135h10v10h-10zM955 1135h20v10h-20zM1135 1135h10v10h-10zM1295 1135h10v10h-10zM1315 1135h10v10h-10zM325 1145h10v10h-10zM355 1145h10v10h-10zM425 1145h10v10h-10zM465 1145h10v10h-10zM515 1145h10v10h-10zM675 1145h10v10h-10zM715 1145h20v10h-20zM785 1145h10v10h-10zM845 1145h10v10h-10zM1005 1145h10v10h-10zM1135 1145h10v10h-10zM1295 1145h10v10h-10zM1315 1145h10v10h-10zM205 1155h10v10h-10zM235 1155h10v10h-10zM475 1155h10v10h-10zM675 1155h30v10h-30zM735 1155h10v10h-10zM835 1155h10v10h-10zM905 1155h20v10h-20zM955 1155h20v10h-20zM1005 1155h10v10h-10zM1025 1155h10v10h-10zM1085 1155h10v10h-10zM1115 1155h10v10h-10zM1195 1155h20v10h-20zM175 1165h10v10h-10zM195 1165h10v10h-10zM415 1165h10v10h-10zM435 1165h10v10h-10zM475 1165h10v10h-10zM555 1165h10v10h-10zM585 1165h30v10h-30zM845 1165h10v10h-10zM905 1165h10v10h-10zM925 1165h10v10h-10zM975 1165h10v10h-10zM1055 1165h20v10h-20zM1115 1165h20v10h-20zM1175 1165h10v10h-10zM245 1175h20v10h-20zM295 1175h10v10h-10zM395 1175h10v10h-10zM435 1175h10v10h-10zM495 1175h10v10h-10zM565 1175h20v10h-20zM605 1175h10v10h-10zM665 1175h10v10h-10zM755 1175h10v10h-10zM825 1175h10v10h-10zM875 1175h10v10h-10zM925 1175h10v10h-10zM995 1175h10v10h-10zM1035 1175h20v10h-20zM1285 1175h10v10h-10zM185 1185h10v10h-10zM205 1185h10v10h-10zM255 1185h10v10h-10zM285 1185h20v10h-20zM705 1185h10v10h-10zM735 1185h10v10h-10zM785 1185h10v10h-10zM855 1185h20v10h-20zM205 1195h10v10h-10zM295 1195h10v10h-10zM315 1195h10v10h-10zM755 1195h10v10h-10zM845 1195h10v10h-10zM875 1195h10v10h-10zM1015 1195h10v10h-10zM1205 1195h10v10h-10zM1245 1195h10v10h-10zM1325 1195h20v10h-20zM165 1205h10v10h-10zM435 1205h10v10h-10zM705 1205h10v10h-10zM735 1205h10v10h-10zM755 1205h10v10h-10zM855 1205h10v10h-10zM905 1205h10v10h-10zM945 1205h20v10h-20zM1055 1205h10v10h-10zM1255 1205h20v10h-20zM185 1215h20v10h-20zM225 1215h10v10h-10zM465 1215h20v10h-20zM625 1215h10v10h-10zM915 1215h10v10h-10zM955 1215h20v10h-20zM1145 1215h10v10h-10zM1165 1215h20v10h-20zM1195 1215h10v10h-10zM255 1225h10v10h-10zM355 1225h10v10h-10zM455 1225h10v10h-10zM485 1225h10v10h-10zM715 1225h10v10h-10zM795 1225h20v10h-20zM965 1225h10v10h-10zM1045 1225h10v10h-10zM1305 1225h10v10h-10zM185 1235h20v10h-20zM345 1235h10v10h-10zM375 1235h20v10h-20zM455 1235h20v10h-20zM625 1235h10v10h-10zM835 1235h10v10h-10zM975 1235h30v10h-30zM1015 1235h10v10h-10zM1035 1235h10v10h-10zM1085 1235h10v10h-10zM1125 1235h10v10h-10zM1175 1235h10v10h-10zM185 1245h10v10h-10zM215 1245h10v10h-10zM235 1245h10v10h-10zM445 1245h10v10h-10zM555 1245h10v10h-10zM615 1245h10v10h-10zM895 1245h10v10h-10zM915 1245h10v10h-10zM1085 1245h20v10h-20zM1135 1245h20v10h-20zM1195 1245h10v10h-10zM305 1255h10v10h-10zM325 1255h10v10h-10zM435 1255h10v10h-10zM475 1255h10v10h-10zM545 1255h10v10h-10zM745 1255h10v10h-10zM875 1255h10v10h-10zM1065 1255h10v10h-10zM395 1265h10v10h-10zM425 1265h20v10h-20zM525 1265h10v10h-10zM575 1265h10v10h-10zM745 1265h20v10h-20zM865 1265h10v10h-10zM915 1265h10v10h-10zM1075 1265h20v10h-20zM1155 1265h10v10h-10zM1205 1265h10v10h-10zM315 1275h10v10h-10zM385 1275h10v10h-10zM405 1275h10v10h-10zM595 1275h10v10h-10zM745 1275h10v10h-10zM785 1275h10v10h-10zM875 1275h10v10h-10zM1095 1275h10v10h-10zM1315 1275h10v10h-10zM235 1285h10v10h-10zM295 1285h10v10h-10zM445 1285h10v10h-10zM575 1285h10v10h-10zM705 1285h10v10h-10zM725 1285h10v10h-10zM745 1285h10v10h-10zM865 1285h10v10h-10zM885 1285h10v10h-10zM1015 1285h10v10h-10zM1115 1285h10v10h-10zM1285 1285h10v10h-10zM165 1295h10v10h-10zM235 1295h10v10h-10zM535 1295h10v10h-10zM555 1295h10v10h-10zM575 1295h10v10h-10zM675 1295h10v10h-10zM695 1295h10v10h-10zM735 1295h20v10h-20zM765 1295h10v10h-10zM835 1295h10v10h-10zM875 1295h20v10h-20zM965 1295h20v10h-20zM1045 1295h10v10h-10zM1115 1295h10v10h-10zM1145 1295h10v10h-10zM1185 1295h10v10h-10zM1285 1295h10v10h-10zM175 1305h30v10h-30zM465 1305h10v10h-10zM515 1305h10v10h-10zM575 1305h10v10h-10zM735 1305h10v10h-10zM755 1305h10v10h-10zM985 1305h10v10h-10zM1095 1305h10v10h-10zM1155 1305h10v10h-10zM1175 1305h10v10h-10zM1295 1305h30v10h-30zM1355 1305h10v10h-10z"/>
<path fill="#006cff" d="M305 115h10v10h-10zM405 115h10v10h-10zM605 115h10v10h-10zM645 115h10v10h-10zM855 115h10v10h-10zM885 115h10v10h-10zM1105 115h10v10h-10zM1175 115h10v10h-10zM1215 115h10v10h-10zM195 125h10v10h-10zM225 125h10v10h-10zM275 125h10v10h-10zM315 125h10v10h-10zM515 125h10v10h-10zM585 125h10v10h-10zM615 125h10v10h-10zM995 125h10v10h-10zM1185 125h20v10h-20zM1235 125h10v10h-10zM1265 125h10v10h-10zM1355 125h10v10h-10zM225 135h10v10h-10zM245 135h10v10h-10zM395 135h10v10h-10zM415 135h10v10h-10zM605 135h10v10h-10zM715 135h10v10h-10zM765 135h20v10h-20zM965 135h30v10h-30zM1205 135h50v10h-50zM165 145h10v10h-10zM185 145h10v10h-10zM325 145h10v10h-10zM385 145h20v10h-20zM415 145h10v10h-10zM685 145h10v10h-10zM725 145h10v10h-10zM765 145h20v10h-20zM795 145h20v10h-20zM965 145h10v10h-10zM1185 145h10v10h-10zM1205 145h10v10h-10zM1285 145h20v10h-20zM315 155h10v10h-10zM335 155h10v10h-10zM595 155h10v10h-10zM615 155h10v10h-10zM715 155h10v10h-10zM785 155h10v10h-10zM895 155h10v10h-10zM955 155h20v10h-20zM995 155h20v10h-20zM1025 155h10v10h-10zM1055 155h10v10h-10zM1125 155h20v10h-20zM1195 155h10v10h-10zM315 165h30v10h-30zM395 165h10v10h-10zM415 165h10v10h-10zM475 165h10v10h-10zM605 165h10v10h-10zM655 165h10v10h-10zM685 165h10v10h-10zM955 165h30v10h-30zM1055 165h10v10h-10zM1175 165h10v10h-10zM395 175h10v10h-10zM415 175h10v10h-10zM505 175h10v10h-10zM625 175h10v10h-10zM815 175h10v10h-10zM995 175h10v10h-10zM1095 175h10v10h-10zM1155 175h10v10h-10zM235 185h10v10h-10zM265 185h10v10h-10zM405 185h10v10h-10zM655 185h10v10h-10zM725 185h10v10h-10zM785 185h10v10h-10zM865 185h10v10h-10zM965 185h20v10h-20zM1065 185h10v10h-10zM1105 185h10v10h-10zM1155 185h10v10h-10zM1185 185h10v10h-10zM175 195h30v10h-30zM235 195h20v10h-20zM315 195h10v10h-10zM345 195h10v10h-10zM505 195h10v10h-10zM795 195h20v10h-20zM1045 195h10v10h-10zM1115 195h20v10h-20zM1145 195h10v10h-10zM235 205h20v10h-20zM325 205h20v10h-20zM435 205h20v10h-20zM865 205h10v10h-10zM1305 205h10v10h-10zM1325 205h10v10h-10zM175 215h10v10h-10zM325 215h10v10h-10zM375 215h20v10h-20zM515 215h10v10h-10zM1135 215h20v10h-20zM1175 215h10v10h-10zM1305 215h10v10h-10zM195 225h20v10h-20zM335 225h30v10h-30zM445 225h10v10h-10zM505 225h10v10h-10zM525 225h10v10h-10zM705 225h10v10h-10zM805 225h10v10h-10zM955 225h10v10h-10zM1295 225h10v10h-10zM375 235h10v10h-10zM405 235h10v10h-10zM575 235h10v10h-10zM715 235h10v10h-10zM805 235h10v10h-10zM825 235h10v10h-10zM865 235h10v10h-10zM1205 235h10v10h-10zM185 245h10v10h-10zM415 245h10v10h-10zM505 245h10v10h-10zM555 245h10v10h-10zM615 245h10v10h-10zM685 245h10v10h-10zM1115 245h10v10h-10zM285 255h10v10h-10zM415 255h10v10h-10zM515 255h10v10h-10zM595 255h10v10h-10zM625 255h20v10h-20zM685 255h10v10h-10zM705 255h10v10h-10zM815 255h10v10h-10zM905 255h10v10h-10zM1105 255h10v10h-10zM1175 255h20v10h-20zM205 265h10v10h-10zM225 265h10v10h-10zM515 265h10v10h-10zM695 265h10v10h-10zM795 265h10v10h-10zM845 265h10v10h-10zM915 265h10v10h-10zM955 265h10v10h-10zM985 265h10v10h-10zM1185 265h10v10h-10zM1215 265h10v10h-10zM1325 265h10v10h-10zM195 275h10v10h-10zM495 275h10v10h-10zM685 275h10v10h-10zM885 275h10v10h-10zM915 275h10v10h-10zM1005 275h10v10h-10zM1195 275h10v10h-10zM1255 275h10v10h-10zM1355 275h10v10h-10zM255 285h10v10h-10zM425 285h10v10h-10zM525 285h10v10h-10zM565 285h10v10h-10zM755 285h10v10h-10zM775 285h10v10h-10zM825 285h10v10h-10zM905 285h10v10h-10zM945 285h10v10h-10zM1225 285h10v10h-10zM1255 285h10v10h-10zM1355 285h10v10h-10zM205 295h10v10h-10zM275 295h10v10h-10zM355 295h20v10h-20zM395 295h10v10h-10zM425 295h10v10h-10zM555 295h10v10h-10zM695 295h10v10h-10zM725 295h10v10h-10zM885 295h20v10h-20zM1025 295h10v10h-10zM1095 295h10v10h-10zM1355 295h10v10h-10zM185 305h10v10h-10zM235 305h10v10h-10zM385 305h10v10h-10zM425 305h30v10h-30zM685 305h10v10h-10zM715 305h20v10h-20zM875 305h10v10h-10zM1225 305h10v10h-10zM1315 305h30v10h-30zM185 315h10v10h-10zM455 315h10v10h-10zM515 315h10v10h-10zM685 315h10v10h-10zM915 315h10v10h-10zM1225 315h10v10h-10zM1335 315h10v10h-10zM1355 315h10v10h-10zM185 325h10v10h-10zM275 325h10v10h-10zM305 325h10v10h-10zM355 325h10v10h-10zM685 325h10v10h-10zM1055 325h10v10h-10zM1105 325h10v10h-10zM1145 325h10v10h-10zM1225 325h10v10h-10zM215 335h10v10h-10zM235 335h20v10h-20zM485 335h20v10h-20zM555 335h10v10h-10zM685 335h10v10h-10zM735 335h10v10h-10zM885 335h10v10h-10zM905 335h10v10h-10zM1145 335h20v10h-20zM1285 335h10v10h-10zM335 345h10v10h-10zM525 345h10v10h-10zM545 345h10v10h-10zM615 345h10v10h-10zM675 345h20v10h-20zM725 345h10v10h-10zM945 345h30v10h-30zM1075 345h10v10h-10zM1105 345h10v10h-10zM1135 345h20v10h-20zM1205 345h10v10h-10zM455 355h20v10h-20zM545 355h10v10h-10zM595 355h10v10h-10zM675 355h10v10h-10zM705 355h10v10h-10zM735 355h20v10h-20zM845 355h10v10h-10zM1025 355h10v10h-10zM295 365h10v10h-10zM435 365h10v10h-10zM555 365h20v10h-20zM625 365h10v10h-10zM655 365h10v10h-10zM695 365h10v10h-10zM715 365h10v10h-10zM735 365h10v10h-10zM805 365h10v10h-10zM835 365h10v10h-10zM955 365h10v10h-10zM1155 365h10v10h-10zM1355 365h10v10h-10zM205 375h10v10h-10zM225 375h10v10h-10zM295 375h10v10h-10zM435 375h20v10h-20zM715 375h10v10h-10zM835 375h10v10h-10zM885 375h10v10h-10zM1135 375h10v10h-10zM295 385h10v10h-10zM405 385h10v10h-10zM435 385h10v10h-10zM685 385h10v10h-10zM725 385h10v10h-10zM745 385h30v10h-30zM815 385h10v10h-10zM915 385h10v10h-10zM955 385h20v10h-20zM1105 385h10v10h-10zM1345 385h10v10h-10zM255 395h10v10h-10zM675 395h20v10h-20zM745 395h30v10h-30zM795 395h10v10h-10zM955 395h10v10h-10zM995 395h10v10h-10zM1075 395h20v10h-20zM1105 395h10v10h-10zM1125 395h20v10h-20zM1195 395h20v10h-20zM1235 395h10v10h-10zM1325 395h10v10h-10zM465 405h10v10h-10zM485 405h20v10h-20zM715 405h10v10h-10zM765 405h10v10h-10zM975 405h10v10h-10zM1295 405h20v10h-20zM1355 405h10v10h-10zM325 415h10v10h-10zM445 415h30v10h-30zM505 415h10v10h-10zM605 415h10v10h-10zM745 415h10v10h-10zM825 415h10v10h-10zM985 415h10v10h-10zM1255 415h10v10h-10zM1325 415h20v10h-20zM385 425h10v10h-10zM445 425h10v10h-10zM545 425h10v10h-10zM725 425h10v10h-10zM975 425h10v10h-10zM1055 425h20v10h-20zM1215 425h10v10h-10zM1335 425h30v10h-30zM245 435h20v10h-20zM325 435h10v10h-10zM385 435h10v10h-10zM405 435h30v10h-30zM1055 435h10v10h-10zM1225 435h10v10h-10zM1305 435h10v10h-10zM1335 435h10v10h-10zM165 445h10v10h-10zM245 445h10v10h-10zM315 445h10v10h-10zM425 445h10v10h-10zM865 445h10v10h-10zM885 445h20v10h-20zM915 445h10v10h-10zM975 445h10v10h-10zM1295 445h10v10h-10zM1355 445h10v10h-10zM255 455h20v10h-20zM295 455h10v10h-10zM485 455h10v10h-10zM615 455h10v10h-10zM635 455h10v10h-10zM655 455h10v10h-10zM785 455h10v10h-10zM965 455h10v10h-10zM1025 455h10v10h-10zM1145 455h10v10h-10zM1165 455h10v10h-10zM265 465h20v10h-20zM405 465h10v10h-10zM475 465h10v10h-10zM535 465h10v10h-10zM595 465h10v10h-10zM845 465h10v10h-10zM875 465h10v10h-10zM935 465h10v10h-10zM965 465h10v10h-10zM1115 465h10v10h-10zM1145 465h10v10h-10zM1265 465h10v10h-10zM165 475h10v10h-10zM405 475h10v10h-10zM525 475h10v10h-10zM795 475h10v10h-10zM835 475h20v10h-20zM905 475h20v10h-20zM935 475h10v10h-10zM955 475h10v10h-10zM1195 475h10v10h-10zM325 485h10v10h-10zM415 485h20v10h-20zM485 485h10v10h-10zM535 485h10v10h-10zM805 485h20v10h-20zM1005 485h10v10h-10zM1045 485h10v10h-10zM1065 485h10v10h-10zM1125 485h10v10h-10zM1265 485h10v10h-10zM1325 485h10v10h-10zM335 495h10v10h-10zM375 495h10v10h-10zM445 495h10v10h-10zM495 495h10v10h-10zM635 495h10v10h-10zM735 495h10v10h-10zM825 495h10v10h-10zM895 495h10v10h-10zM1145 495h10v10h-10zM1205 495h10v10h-10zM1275 495h10v10h-10zM1335 495h10v10h-10zM325 505h10v10h-10zM395 505h10v10h-10zM485 505h10v10h-10zM505 505h10v10h-10zM645 505h10v10h-10zM805 505h20v10h-20zM905 505h10v10h-10zM1035 505h10v10h-10zM1135 505h20v10h-20zM285 515h20v10h-20zM335 515h10v10h-10zM375 515h20v10h-20zM445 515h10v10h-10zM505 515h20v10h-20zM665 515h10v10h-10zM835 515h10v10h-10zM925 515h20v10h-20zM1055 515h10v10h-10zM1165 515h10v10h-10zM1205 515h10v10h-10zM1335 515h10v10h-10zM455 525h20v10h-20zM525 525h20v10h-20zM655 525h10v10h-10zM735 525h10v10h-10zM785 525h30v10h-30zM955 525h10v10h-10zM1065 525h10v10h-10zM1145 525h10v10h-10zM1325 525h10v10h-10zM265 535h20v10h-20zM655 535h10v10h-10zM785 535h10v10h-10zM805 535h10v10h-10zM855 535h10v10h-10zM955 535h10v10h-10zM1285 535h10v10h-10zM1325 535h30v10h-30zM295 545h10v10h-10zM315 545h10v10h-10zM505 545h10v10h-10zM535 545h20v10h-20zM685 545h10v10h-10zM785 545h10v10h-10zM875 545h10v10h-10zM1015 545h10v10h-10zM235 555h10v10h-10zM325 555h10v10h-10zM655 555h10v10h-10zM675 555h10v10h-10zM715 555h10v10h-10zM865 555h10v10h-10zM945 555h10v10h-10zM1035 555h30v10h-30zM1235 555h10v10h-10zM235 565h30v10h-30zM315 565h10v10h-10zM365 565h20v10h-20zM615 565h10v10h-10zM665 565h10v10h-10zM695 565h10v10h-10zM855 565h10v10h-10zM875 565h10v10h-10zM945 565h10v10h-10zM1065 565h10v10h-10zM1095 565h10v10h-10zM1235 565h10v10h-10zM325 575h10v10h-10zM405 575h10v10h-10zM455 575h10v10h-10zM645 575h20v10h-20zM785 575h10v10h-10zM945 575h10v10h-10zM1085 575h10v10h-10zM1245 575h20v10h-20zM1275 575h10v10h-10zM1305 575h10v10h-10zM1355 575h10v10h-10zM255 585h10v10h-10zM325 585h10v10h-10zM385 585h20v10h-20zM415 585h10v10h-10zM695 585h20v10h-20zM755 585h10v10h-10zM775 585h10v10h-10zM835 585h10v10h-10zM955 585h20v10h-20zM1015 585h10v10h-10zM1255 585h10v10h-10zM175 595h10v10h-10zM215 595h10v10h-10zM405 595h10v10h-10zM585 595h10v10h-10zM885 595h10v10h-10zM955 595h20v10h-20zM255 605h10v10h-10zM415 605h10v10h-10zM565 605h10v10h-10zM595 605h10v10h-10zM925 605h20v10h-20zM1055 605h10v10h-10zM185 615h10v10h-10zM235 615h10v10h-10zM255 615h10v10h-10zM595 615h10v10h-10zM845 615h10v10h-10zM875 615h10v10h-10zM955 615h10v10h-10zM1265 615h10v10h-10zM465 625h10v10h-10zM485 625h10v10h-10zM895 625h10v10h-10zM925 625h10v10h-10zM945 625h10v10h-10zM1155 625h10v10h-10zM1205 625h10v10h-10zM1225 625h10v10h-10zM185 635h10v10h-10zM495 635h10v10h-10zM515 635h10v10h-10zM545 635h10v10h-10zM915 635h10v10h-10zM955 635h10v10h-10zM995 635h10v10h-10zM1105 635h10v10h-10zM1135 635h10v10h-10zM1195 635h10v10h-10zM1215 635h10v10h-10zM1245 635h30v10h-30zM185 645h10v10h-10zM355 645h20v10h-20zM445 645h30v10h-30zM505 645h10v10h-10zM565 645h20v10h-20zM635 645h10v10h-10zM955 645h10v10h-10zM1055 645h10v10h-10zM1085 645h10v10h-10zM1145 645h10v10h-10zM1215 645h10v10h-10zM455 655h20v10h-20zM515 655h10v10h-10zM575 655h10v10h-10zM595 655h10v10h-10zM625 655h10v10h-10zM1055 655h10v10h-10zM1075 655h10v10h-10zM1245 655h10v10h-10zM1345 655h10v10h-10zM235 665h10v10h-10zM365 665h10v10h-10zM385 665h10v10h-10zM405 665h10v10h-10zM535 665h10v10h-10zM615 665h10v10h-10zM955 665h10v10h-10zM1005 665h10v10h-10zM1255 665h10v10h-10zM225 675h10v10h-10zM345 675h10v10h-10zM485 675h10v10h-10zM665 675h10v10h-10zM995 675h10v10h-10zM1045 675h10v10h-10zM1065 675h10v10h-10zM1135 675h10v10h-10zM1175 675h10v10h-10zM1245 675h20v10h-20zM1325 675h10v10h-10zM185 685h10v10h-10zM845 685h10v10h-10zM925 685h10v10h-10zM1035 685h10v10h-10zM1245 685h20v10h-20zM1315 685h20v10h-20zM185 695h30v10h-30zM225 695h10v10h-10zM275 695h10v10h-10zM335 695h10v10h-10zM455 695h10v10h-10zM475 695h10v10h-10zM545 695h10v10h-10zM1245 695h10v10h-10zM165 705h10v10h-10zM275 705h10v10h-10zM655 705h10v10h-10zM1005 705h10v10h-10zM1035 705h10v10h-10zM1075 705h10v10h-10zM1115 705h10v10h-10zM165 715h10v10h-10zM535 715h10v10h-10zM1145 715h10v10h-10zM175 725h10v10h-10zM345 725h10v10h-10zM395 725h20v10h-20zM465 725h10v10h-10zM485 725h10v10h-10zM645 725h10v10h-10zM175 735h10v10h-10zM365 735h10v10h-10zM535 735h30v10h-30zM635 735h10v10h-10zM895 735h10v10h-10zM915 735h20v10h-20zM965 735h10v10h-10zM1025 735h10v10h-10zM1075 735h10v10h-10zM315 745h10v10h-10zM335 745h10v10h-10zM485 745h10v10h-10zM525 745h10v10h-10zM575 745h10v10h-10zM595 745h10v10h-10zM615 745h10v10h-10zM855 745h10v10h-10zM895 745h10v10h-10zM975 745h10v10h-10zM1035 745h40v10h-40zM1125 745h10v10h-10zM1275 745h10v10h-10zM235 755h10v10h-10zM335 755h10v10h-10zM375 755h10v10h-10zM455 755h10v10h-10zM575 755h10v10h-10zM895 755h10v10h-10zM985 755h10v10h-10zM1075 755h10v10h-10zM1105 755h10v10h-10zM1175 755h10v10h-10zM1245 755h10v10h-10zM1275 755h20v10h-20zM185 765h30v10h-30zM225 765h10v10h-10zM325 765h10v10h-10zM395 765h10v10h-10zM565 765h10v10h-10zM635 765h10v10h-10zM905 765h10v10h-10zM925 765h20v10h-20zM1035 765h20v10h-20zM1075 765h10v10h-10zM1105 765h10v10h-10zM225 775h10v10h-10zM845 775h10v10h-10zM945 775h10v10h-10zM1065 775h30v10h-30zM1115 775h10v10h-10zM1185 775h10v10h-10zM225 785h10v10h-10zM465 785h10v10h-10zM525 785h10v10h-10zM575 785h10v10h-10zM845 785h20v10h-20zM975 785h10v10h-10zM1035 785h20v10h-20zM1345 785h20v10h-20zM235 795h10v10h-10zM395 795h10v10h-10zM415 795h10v10h-10zM445 795h10v10h-10zM525 795h10v10h-10zM605 795h10v10h-10zM675 795h10v10h-10zM855 795h10v10h-10zM985 795h10v10h-10zM1055 795h10v10h-10zM1245 795h10v10h-10zM165 805h10v10h-10zM195 805h10v10h-10zM245 805h10v10h-10zM345 805h10v10h-10zM475 805h10v10h-10zM515 805h20v10h-20zM665 805h10v10h-10zM1185 805h10v10h-10zM1235 805h10v10h-10zM1325 805h10v10h-10zM255 815h10v10h-10zM445 815h10v10h-10zM605 815h10v10h-10zM675 815h10v10h-10zM705 815h20v10h-20zM855 815h10v10h-10zM875 815h10v10h-10zM965 815h20v10h-20zM1345 815h20v10h-20zM495 825h20v10h-20zM655 825h10v10h-10zM1055 825h10v10h-10zM1155 825h10v10h-10zM1215 825h10v10h-10zM285 835h10v10h-10zM785 835h10v10h-10zM885 835h20v10h-20zM1035 835h40v10h-40zM1115 835h10v10h-10zM1155 835h20v10h-20zM1315 835h20v10h-20zM285 845h10v10h-10zM575 845h10v10h-10zM605 845h10v10h-10zM645 845h20v10h-20zM685 845h10v10h-10zM935 845h10v10h-10zM1095 845h10v10h-10zM1165 845h10v10h-10zM1205 845h10v10h-10zM1305 845h10v10h-10zM225 855h10v10h-10zM545 855h10v10h-10zM575 855h10v10h-10zM605 855h10v10h-10zM735 855h10v10h-10zM765 855h10v10h-10zM845 855h10v10h-10zM935 855h20v10h-20zM1135 855h10v10h-10zM1285 855h20v10h-20zM265 865h10v10h-10zM285 865h10v10h-10zM425 865h10v10h-10zM515 865h20v10h-20zM635 865h10v10h-10zM755 865h20v10h-20zM1265 865h10v10h-10zM1355 865h10v10h-10zM265 875h10v10h-10zM535 875h10v10h-10zM635 875h10v10h-10zM785 875h10v10h-10zM885 875h10v10h-10zM1025 875h10v10h-10zM1055 875h10v10h-10zM395 885h20v10h-20zM505 885h10v10h-10zM555 885h10v10h-10zM575 885h10v10h-10zM645 885h10v10h-10zM725 885h10v10h-10zM745 885h10v10h-10zM885 885h10v10h-10zM985 885h10v10h-10zM285 895h10v10h-10zM585 895h10v10h-10zM635 895h20v10h-20zM745 895h20v10h-20zM815 895h10v10h-10zM905 895h10v10h-10zM1035 895h10v10h-10zM1125 895h20v10h-20zM1165 895h10v10h-10zM1335 895h10v10h-10zM625 905h10v10h-10zM655 905h10v10h-10zM745 905h10v10h-10zM775 905h10v10h-10zM795 905h10v10h-10zM815 905h10v10h-10zM875 905h10v10h-10zM1055 905h10v10h-10zM1105 905h10v10h-10zM1335 905h10v10h-10zM405 915h10v10h-10zM445 915h10v10h-10zM885 915h10v10h-10zM915 915h10v10h-10zM975 915h10v10h-10zM1135 915h10v10h-10zM1315 915h20v10h-20zM205 925h10v10h-10zM455 925h10v10h-10zM645 925h10v10h-10zM775 925h10v10h-10zM805 925h10v10h-10zM875 925h10v10h-10zM905 925h10v10h-10zM1115 925h10v10h-10zM1185 925h10v10h-10zM1335 925h10v10h-10zM295 935h10v10h-10zM315 935h10v10h-10zM345 935h10v10h-10zM385 935h10v10h-10zM405 935h10v10h-10zM445 935h10v10h-10zM465 935h20v10h-20zM505 935h10v10h-10zM645 935h10v10h-10zM665 935h10v10h-10zM735 935h20v10h-20zM1015 935h10v10h-10zM1105 935h10v10h-10zM1145 935h30v10h-30zM1255 935h10v10h-10zM1285 935h10v10h-10zM335 945h20v10h-20zM375 945h10v10h-10zM485 945h30v10h-30zM655 945h10v10h-10zM815 945h10v10h-10zM885 945h10v10h-10zM945 945h10v10h-10zM1325 945h10v10h-10zM195 955h10v10h-10zM265 955h10v10h-10zM295 955h10v10h-10zM405 955h10v10h-10zM435 955h10v10h-10zM455 955h10v10h-10zM485 955h10v10h-10zM575 955h10v10h-10zM695 955h10v10h-10zM725 955h10v10h-10zM875 955h20v10h-20zM965 955h20v10h-20zM995 955h10v10h-10zM1075 955h10v10h-10zM1165 955h10v10h-10zM1305 955h20v10h-20zM275 965h10v10h-10zM495 965h10v10h-10zM605 965h10v10h-10zM715 965h10v10h-10zM995 965h10v10h-10zM1015 965h10v10h-10zM1145 965h10v10h-10zM1185 965h10v10h-10zM1255 965h20v10h-20zM275 975h10v10h-10zM355 975h10v10h-10zM385 975h10v10h-10zM455 975h10v10h-10zM495 975h10v10h-10zM585 975h10v10h-10zM715 975h10v10h-10zM905 975h20v10h-20zM1075 975h10v10h-10zM255 985h10v10h-10zM355 985h10v10h-10zM375 985h10v10h-10zM445 985h10v10h-10zM585 985h10v10h-10zM615 985h10v10h-10zM645 985h10v10h-10zM895 985h20v10h-20zM1095 985h10v10h-10zM1165 985h10v10h-10zM1285 985h10v10h-10zM1335 985h10v10h-10zM325 995h10v10h-10zM595 995h10v10h-10zM795 995h10v10h-10zM905 995h10v10h-10zM955 995h10v10h-10zM1105 995h10v10h-10zM1125 995h10v10h-10zM1175 995h10v10h-10zM1285 995h10v10h-10zM345 1005h10v10h-10zM495 1005h10v10h-10zM515 1005h10v10h-10zM715 1005h10v10h-10zM885 1005h20v10h-20zM1055 1005h10v10h-10zM1125 1005h10v10h-10zM1355 1005h10v10h-10zM205 1015h10v10h-10zM295 1015h10v10h-10zM315 1015h10v10h-10zM475 1015h20v10h-20zM615 1015h10v10h-10zM905 1015h10v10h-10zM1095 1015h20v10h-20zM1145 1015h10v10h-10zM205 1025h10v10h-10zM355 1025h10v10h-10zM485 1025h10v10h-10zM685 1025h10v10h-10zM735 1025h10v10h-10zM825 1025h10v10h-10zM995 1025h10v10h-10zM1015 1025h10v10h-10zM1045 1025h10v10h-10zM1085 1025h30v10h-30zM1265 1025h10v10h-10zM1355 1025h10v10h-10zM225 1035h10v10h-10zM255 1035h10v10h-10zM275 1035h10v10h-10zM295 1035h10v10h-10zM355 1035h10v10h-10zM745 1035h10v10h-10zM995 1035h10v10h-10zM1025 1035h30v10h-30zM1095 1035h10v10h-10zM1135 1035h10v10h-10zM1175 1035h10v10h-10zM1265 1035h20v10h-20zM315 1045h10v10h-10zM355 1045h10v10h-10zM375 1045h10v10h-10zM535 1045h20v10h-20zM1005 1045h10v10h-10zM1025 1045h10v10h-10zM1155 1045h10v10h-10zM1185 1045h10v10h-10zM295 1055h10v10h-10zM365 1055h10v10h-10zM405 1055h10v10h-10zM445 1055h10v10h-10zM525 1055h10v10h-10zM755 1055h20v10h-20zM1065 1055h20v10h-20zM1195 1055h10v10h-10zM1255 1055h10v10h-10zM1355 1055h10v10h-10zM395 1065h10v10h-10zM485 1065h10v10h-10zM725 1065h20v10h-20zM1035 1065h10v10h-10zM1075 1065h10v10h-10zM1315 1065h10v10h-10zM185 1075h10v10h-10zM425 1075h10v10h-10zM635 1075h10v10h-10zM735 1075h10v10h-10zM1015 1075h20v10h-20zM1335 1075h10v10h-10zM235 1085h10v10h-10zM405 1085h10v10h-10zM555 1085h10v10h-10zM635 1085h10v10h-10zM865 1085h10v10h-10zM1025 1085h10v10h-10zM1325 1085h10v10h-10zM1355 1085h10v10h-10zM275 1095h10v10h-10zM355 1095h10v10h-10zM435 1095h10v10h-10zM525 1095h10v10h-10zM605 1095h10v10h-10zM635 1095h10v10h-10zM715 1095h20v10h-20zM875 1095h20v10h-20zM1045 1095h10v10h-10zM1075 1095h10v10h-10zM1165 1095h10v10h-10zM1295 1095h20v10h-20zM1325 1095h10v10h-10zM205 1105h10v10h-10zM245 1105h10v10h-10zM265 1105h10v10h-10zM435 1105h10v10h-10zM545 1105h10v10h-10zM695 1105h20v10h-20zM755 1105h10v10h-10zM805 1105h10v10h-10zM835 1105h10v10h-10zM855 1105h10v10h-10zM985 1105h10v10h-10zM1155 1105h10v10h-10zM1315 1105h10v10h-10zM235 1115h20v10h-20zM595 1115h10v10h-10zM695 1115h10v10h-10zM765 1115h10v10h-10zM965 1115h10v10h-10zM985 1115h10v10h-10zM1085 1115h10v10h-10zM1125 1115h10v10h-10zM1145 1115h10v10h-10zM1305 1115h10v10h-10zM555 1125h10v10h-10zM575 1125h20v10h-20zM705 1125h10v10h-10zM925 1125h10v10h-10zM1015 1125h10v10h-10zM1045 1125h10v10h-10zM1125 1125h20v10h-20zM1175 1125h10v10h-10zM1245 1125h10v10h-10zM1265 1125h10v10h-10zM335 1135h10v10h-10zM525 1135h20v10h-20zM565 1135h20v10h-20zM665 1135h10v10h-10zM765 1135h20v10h-20zM925 1135h10v10h-10zM1005 1135h10v10h-10zM1055 1135h10v10h-10zM1175 1135h10v10h-10zM1355 1135h10v10h-10zM185 1145h10v10h-10zM375 1145h10v10h-10zM825 1145h10v10h-10zM895 1145h10v10h-10zM1015 1145h10v10h-10zM1065 1145h10v10h-10zM1275 1145h10v10h-10zM1325 1145h10v10h-10zM1355 1145h10v10h-10zM415 1155h10v10h-10zM655 1155h10v10h-10zM755 1155h20v10h-20zM885 1155h10v10h-10zM1135 1155h10v10h-10zM1155 1155h10v10h-10zM1225 1155h20v10h-20zM1295 1155h10v10h-10zM1325 1155h10v10h-10zM305 1165h30v10h-30zM345 1165h10v10h-10zM375 1165h10v10h-10zM445 1165h10v10h-10zM515 1165h20v10h-20zM545 1165h10v10h-10zM645 1165h10v10h-10zM665 1165h10v10h-10zM785 1165h10v10h-10zM1155 1165h10v10h-10zM1205 1165h10v10h-10zM1245 1165h10v10h-10zM1285 1165h10v10h-10zM1335 1165h10v10h-10zM205 1175h10v10h-10zM265 1175h10v10h-10zM335 1175h10v10h-10zM385 1175h10v10h-10zM535 1175h10v10h-10zM555 1175h10v10h-10zM1155 1175h20v10h-20zM1275 1175h10v10h-10zM1325 1175h10v10h-10zM275 1185h10v10h-10zM325 1185h20v10h-20zM435 1185h10v10h-10zM585 1185h20v10h-20zM1075 1185h10v10h-10zM1185 1185h10v10h-10zM1215 1185h10v10h-10zM515 1195h10v10h-10zM565 1195h40v10h-40zM805 1195h10v10h-10zM965 1195h10v10h-10zM1035 1195h30v10h-30zM1095 1195h10v10h-10zM1195 1195h10v10h-10zM1315 1195h10v10h-10zM245 1205h10v10h-10zM275 1205h10v10h-10zM325 1205h10v10h-10zM355 1205h10v10h-10zM475 1205h10v10h-10zM505 1205h10v10h-10zM555 1205h10v10h-10zM995 1205h10v10h-10zM1345 1205h10v10h-10zM245 1215h10v10h-10zM405 1215h10v10h-10zM565 1215h10v10h-10zM665 1215h10v10h-10zM735 1215h10v10h-10zM865 1215h10v10h-10zM935 1215h10v10h-10zM1305 1215h10v10h-10zM205 1225h20v10h-20zM365 1225h10v10h-10zM425 1225h10v10h-10zM495 1225h10v10h-10zM565 1225h10v10h-10zM645 1225h10v10h-10zM815 1225h10v10h-10zM845 1225h10v10h-10zM875 1225h10v10h-10zM935 1225h10v10h-10zM1065 1225h10v10h-10zM1235 1225h10v10h-10zM165 1235h10v10h-10zM265 1235h20v10h-20zM415 1235h10v10h-10zM545 1235h10v10h-10zM575 1235h10v10h-10zM635 1235h10v10h-10zM675 1235h10v10h-10zM775 1235h10v10h-10zM935 1235h10v10h-10zM1095 1235h20v10h-20zM1235 1235h10v10h-10zM265 1245h20v10h-20zM335 1245h10v10h-10zM405 1245h10v10h-10zM505 1245h10v10h-10zM575 1245h10v10h-10zM635 1245h10v10h-10zM655 1245h10v10h-10zM795 1245h10v10h-10zM835 1245h10v10h-10zM865 1245h10v10h-10zM1205 1245h10v10h-10zM1265 1245h10v10h-10zM465 1255h10v10h-10zM685 1255h10v10h-10zM955 1255h20v10h-20zM1025 1255h10v10h-10zM1085 1255h10v10h-10zM1165 1255h20v10h-20zM1265 1255h10v10h-10zM275 1265h20v10h-20zM475 1265h10v10h-10zM505 1265h10v10h-10zM555 1265h20v10h-20zM645 1265h10v10h-10zM735 1265h10v10h-10zM1035 1265h10v10h-10zM1245 1265h10v10h-10zM1285 1265h10v10h-10zM245 1275h10v10h-10zM265 1275h10v10h-10zM445 1275h10v10h-10zM475 1275h10v10h-10zM575 1275h10v10h-10zM725 1275h10v10h-10zM905 1275h10v10h-10zM945 1275h10v10h-10zM1145 1275h10v10h-10zM1285 1275h10v10h-10zM1305 1275h10v10h-10zM175 1285h30v10h-30zM245 1285h10v10h-10zM955 1285h10v10h-10zM1255 1285h10v10h-10zM1335 1285h10v10h-10zM345 1295h10v10h-10zM495 1295h10v10h-10zM595 1295h10v10h-10zM645 1295h10v10h-10zM795 1295h10v10h-10zM935 1295h20v10h-20zM1205 1295h10v10h-10zM1245 1295h10v10h-10zM1275 1295h10v10h-10zM345 1305h10v10h-10zM405 1305h10v10h-10zM585 1305h20v10h-20zM635 1305h10v10h-10zM935 1305h10v10h-10zM1105 1305h10v10h-10zM1165 1305h10v10h-10zM1195 1305h20v10h-20z"/>
<path fill="#005aff" d="M495 115h10v10h-10zM555 115h20v10h-20zM635 115h10v10h-10zM795 115h10v10h-10zM1005 115h10v10h-10zM1045 115h10v10h-10zM1185 115h10v10h-10zM215 125h10v10h-10zM355 125h20v10h-20zM395 125h20v10h-20zM475 125h10v10h-10zM505 125h10v10h-10zM535 125h10v10h-10zM635 125h30v10h-30zM695 125h10v10h-10zM725 125h10v10h-10zM885 125h10v10h-10zM965 125h10v10h-10zM1105 125h10v10h-10zM1225 125h10v10h-10zM1255 125h10v10h-10zM305 135h10v10h-10zM425 135h10v10h-10zM465 135h20v10h-20zM555 135h10v10h-10zM615 135h10v10h-10zM635 135h10v10h-10zM745 135h10v10h-10zM935 135h10v10h-10zM1015 135h10v10h-10zM1075 135h10v10h-10zM1355 135h10v10h-10zM425 145h10v10h-10zM475 145h10v10h-10zM495 145h10v10h-10zM515 145h10v10h-10zM565 145h10v10h-10zM735 145h10v10h-10zM825 145h10v10h-10zM935 145h10v10h-10zM955 145h10v10h-10zM995 145h20v10h-20zM1045 145h10v10h-10zM1085 145h10v10h-10zM1225 145h10v10h-10zM1255 145h30v10h-30zM195 155h10v10h-10zM215 155h10v10h-10zM235 155h20v10h-20zM515 155h30v10h-30zM705 155h10v10h-10zM805 155h10v10h-10zM1035 155h10v10h-10zM1145 155h10v10h-10zM1235 155h10v10h-10zM175 165h10v10h-10zM195 165h10v10h-10zM215 165h10v10h-10zM345 165h10v10h-10zM435 165h10v10h-10zM505 165h10v10h-10zM595 165h10v10h-10zM625 165h10v10h-10zM735 165h10v10h-10zM1025 165h20v10h-20zM1075 165h10v10h-10zM1105 165h10v10h-10zM1125 165h10v10h-10zM1235 165h10v10h-10zM1305 165h10v10h-10zM1345 165h10v10h-10zM165 175h10v10h-10zM245 175h10v10h-10zM455 175h10v10h-10zM605 175h10v10h-10zM685 175h10v10h-10zM735 175h10v10h-10zM755 175h10v10h-10zM905 175h10v10h-10zM925 175h10v10h-10zM945 175h10v10h-10zM1055 175h10v10h-10zM1135 175h10v10h-10zM1215 175h10v10h-10zM175 185h20v10h-20zM285 185h10v10h-10zM345 185h10v10h-10zM375 185h10v10h-10zM455 185h10v10h-10zM525 185h10v10h-10zM545 185h20v10h-20zM575 185h10v10h-10zM635 185h10v10h-10zM675 185h10v10h-10zM815 185h10v10h-10zM835 185h10v10h-10zM1215 185h10v10h-10zM1295 185h20v10h-20zM1355 185h10v10h-10zM355 195h10v10h-10zM525 195h10v10h-10zM565 195h10v10h-10zM665 195h10v10h-10zM745 195h10v10h-10zM785 195h10v10h-10zM825 195h20v10h-20zM855 195h10v10h-10zM915 195h10v10h-10zM1215 195h30v10h-30zM1265 195h10v10h-10zM1285 195h10v10h-10zM415 205h10v10h-10zM525 205h10v10h-10zM685 205h10v10h-10zM765 205h10v10h-10zM785 205h10v10h-10zM825 205h10v10h-10zM845 205h10v10h-10zM875 205h10v10h-10zM965 205h10v10h-10zM1125 205h20v10h-20zM1235 205h10v10h-10zM245 215h10v10h-10zM265 215h10v10h-10zM285 215h10v10h-10zM305 215h10v10h-10zM395 215h10v10h-10zM595 215h10v10h-10zM765 215h10v10h-10zM785 215h10v10h-10zM875 215h10v10h-10zM935 215h10v10h-10zM965 215h10v10h-10zM1205 215h10v10h-10zM245 225h10v10h-10zM435 225h10v10h-10zM495 225h10v10h-10zM605 225h20v10h-20zM725 225h20v10h-20zM855 225h10v10h-10zM965 225h10v10h-10zM995 225h10v10h-10zM1015 225h10v10h-10zM1165 225h10v10h-10zM1185 225h30v10h-30zM1345 225h10v10h-10zM205 235h10v10h-10zM235 235h10v10h-10zM325 235h10v10h-10zM355 235h20v10h-20zM425 235h20v10h-20zM465 235h10v10h-10zM515 235h30v10h-30zM625 235h10v10h-10zM645 235h10v10h-10zM885 235h10v10h-10zM905 235h10v10h-10zM1145 235h10v10h-10zM1165 235h10v10h-10zM1345 235h10v10h-10zM175 245h10v10h-10zM265 245h10v10h-10zM305 245h10v10h-10zM335 245h20v10h-20zM425 245h10v10h-10zM475 245h10v10h-10zM535 245h20v10h-20zM675 245h10v10h-10zM725 245h10v10h-10zM755 245h10v10h-10zM775 245h10v10h-10zM805 245h10v10h-10zM835 245h10v10h-10zM885 245h10v10h-10zM975 245h30v10h-30zM1135 245h10v10h-10zM1155 245h20v10h-20zM1225 245h10v10h-10zM195 255h10v10h-10zM225 255h10v10h-10zM255 255h10v10h-10zM275 255h10v10h-10zM295 255h10v10h-10zM385 255h10v10h-10zM465 255h10v10h-10zM495 255h10v10h-10zM555 255h10v10h-10zM575 255h10v10h-10zM655 255h30v10h-30zM735 255h10v10h-10zM775 255h10v10h-10zM1025 255h10v10h-10zM1135 255h10v10h-10zM1165 255h10v10h-10zM1355 255h10v10h-10zM175 265h30v10h-30zM215 265h10v10h-10zM285 265h10v10h-10zM365 265h10v10h-10zM485 265h10v10h-10zM505 265h10v10h-10zM575 265h10v10h-10zM615 265h40v10h-40zM765 265h10v10h-10zM785 265h10v10h-10zM855 265h10v10h-10zM925 265h10v10h-10zM1035 265h20v10h-20zM1085 265h20v10h-20zM1115 265h10v10h-10zM1195 265h20v10h-20zM1355 265h10v10h-10zM185 275h10v10h-10zM305 275h20v10h-20zM355 275h10v10h-10zM435 275h10v10h-10zM475 275h10v10h-10zM545 275h10v10h-10zM705 275h10v10h-10zM835 275h10v10h-10zM925 275h20v10h-20zM1075 275h20v10h-20zM1105 275h10v10h-10zM1155 275h10v10h-10zM1325 275h10v10h-10zM165 285h10v10h-10zM345 285h30v10h-30zM435 285h10v10h-10zM555 285h10v10h-10zM705 285h10v10h-10zM1115 285h10v10h-10zM1185 285h20v10h-20zM1265 285h10v10h-10zM1285 285h10v10h-10zM175 295h10v10h-10zM435 295h10v10h-10zM495 295h10v10h-10zM515 295h10v10h-10zM535 295h10v10h-10zM665 295h10v10h-10zM715 295h10v10h-10zM735 295h10v10h-10zM775 295h10v10h-10zM855 295h10v10h-10zM875 295h10v10h-10zM925 295h10v10h-10zM955 295h10v10h-10zM1135 295h10v10h-10zM1185 295h10v10h-10zM255 305h10v10h-10zM345 305h10v10h-10zM375 305h10v10h-10zM415 305h10v10h-10zM505 305h10v10h-10zM615 305h10v10h-10zM665 305h10v10h-10zM865 305h10v10h-10zM915 305h10v10h-10zM1095 305h20v10h-20zM1145 305h10v10h-10zM1175 305h30v10h-30zM1255 305h10v10h-10zM1355 305h10v10h-10zM175 315h10v10h-10zM265 315h10v10h-10zM505 315h10v10h-10zM565 315h10v10h-10zM585 315h10v10h-10zM705 315h20v10h-20zM755 315h10v10h-10zM835 315h10v10h-10zM925 315h10v10h-10zM1015 315h20v10h-20zM1055 315h10v10h-10zM1085 315h10v10h-10zM1215 315h10v10h-10zM1295 315h10v10h-10zM1315 315h10v10h-10zM175 325h10v10h-10zM195 325h10v10h-10zM395 325h10v10h-10zM485 325h10v10h-10zM545 325h20v10h-20zM705 325h10v10h-10zM725 325h10v10h-10zM745 325h10v10h-10zM915 325h10v10h-10zM1015 325h10v10h-10zM1035 325h10v10h-10zM1125 325h10v10h-10zM1355 325h10v10h-10zM265 335h10v10h-10zM465 335h10v10h-10zM595 335h10v10h-10zM625 335h10v10h-10zM875 335h10v10h-10zM995 335h10v10h-10zM1125 335h10v10h-10zM1265 335h10v10h-10zM215 345h10v10h-10zM275 345h10v10h-10zM305 345h10v10h-10zM415 345h10v10h-10zM465 345h20v10h-20zM815 345h10v10h-10zM885 345h10v10h-10zM995 345h10v10h-10zM1125 345h10v10h-10zM1175 345h10v10h-10zM1225 345h20v10h-20zM1295 345h10v10h-10zM1345 345h10v10h-10zM165 355h30v10h-30zM205 355h10v10h-10zM225 355h10v10h-10zM305 355h10v10h-10zM325 355h10v10h-10zM365 355h10v10h-10zM445 355h10v10h-10zM695 355h10v10h-10zM785 355h20v10h-20zM865 355h10v10h-10zM895 355h10v10h-10zM915 355h10v10h-10zM975 355h10v10h-10zM995 355h10v10h-10zM1115 355h20v10h-20zM1255 355h10v10h-10zM225 365h20v10h-20zM305 365h10v10h-10zM365 365h10v10h-10zM675 365h10v10h-10zM865 365h10v10h-10zM885 365h10v10h-10zM965 365h10v10h-10zM1135 365h10v10h-10zM1175 365h10v10h-10zM1195 365h10v10h-10zM1215 365h20v10h-20zM1275 365h10v10h-10zM175 375h30v10h-30zM215 375h10v10h-10zM385 375h20v10h-20zM495 375h10v10h-10zM555 375h10v10h-10zM625 375h10v10h-10zM665 375h10v10h-10zM695 375h10v10h-10zM755 375h10v10h-10zM805 375h10v10h-10zM825 375h10v10h-10zM1235 375h10v10h-10zM1255 375h20v10h-20zM1355 375h10v10h-10zM185 385h10v10h-10zM215 385h10v10h-10zM345 385h20v10h-20zM375 385h10v10h-10zM395 385h10v10h-10zM455 385h10v10h-10zM505 385h10v10h-10zM555 385h10v10h-10zM655 385h30v10h-30zM785 385h10v10h-10zM805 385h10v10h-10zM995 385h10v10h-10zM1075 385h10v10h-10zM1165 385h10v10h-10zM1235 385h10v10h-10zM205 395h10v10h-10zM245 395h10v10h-10zM305 395h10v10h-10zM365 395h10v10h-10zM435 395h10v10h-10zM455 395h10v10h-10zM535 395h10v10h-10zM785 395h10v10h-10zM835 395h10v10h-10zM1175 395h10v10h-10zM1225 395h10v10h-10zM195 405h10v10h-10zM225 405h10v10h-10zM285 405h10v10h-10zM305 405h10v10h-10zM325 405h10v10h-10zM395 405h10v10h-10zM435 405h10v10h-10zM455 405h10v10h-10zM545 405h10v10h-10zM575 405h10v10h-10zM625 405h10v10h-10zM655 405h10v10h-10zM675 405h20v10h-20zM845 405h10v10h-10zM885 405h30v10h-30zM1095 405h10v10h-10zM1175 405h10v10h-10zM1205 405h10v10h-10zM385 415h10v10h-10zM595 415h10v10h-10zM735 415h10v10h-10zM885 415h10v10h-10zM905 415h10v10h-10zM945 415h30v10h-30zM995 415h10v10h-10zM1135 415h10v10h-10zM235 425h10v10h-10zM375 425h10v10h-10zM425 425h10v10h-10zM685 425h10v10h-10zM715 425h10v10h-10zM745 425h20v10h-20zM845 425h10v10h-10zM875 425h10v10h-10zM895 425h10v10h-10zM965 425h10v10h-10zM1085 425h10v10h-10zM1105 425h10v10h-10zM1145 425h10v10h-10zM1245 425h10v10h-10zM1285 425h10v10h-10zM1305 425h10v10h-10zM215 435h30v10h-30zM275 435h10v10h-10zM525 435h20v10h-20zM655 435h10v10h-10zM725 435h10v10h-10zM765 435h10v10h-10zM785 435h10v10h-10zM945 435h10v10h-10zM975 435h10v10h-10zM995 435h20v10h-20zM1075 435h10v10h-10zM1255 435h10v10h-10zM1275 435h10v10h-10zM275 445h10v10h-10zM335 445h10v10h-10zM495 445h10v10h-10zM575 445h10v10h-10zM675 445h10v10h-10zM755 445h10v10h-10zM925 445h20v10h-20zM1165 445h10v10h-10zM1195 445h10v10h-10zM1255 445h10v10h-10zM1335 445h20v10h-20zM225 455h10v10h-10zM245 455h10v10h-10zM365 455h10v10h-10zM435 455h30v10h-30zM495 455h10v10h-10zM515 455h10v10h-10zM545 455h10v10h-10zM565 455h10v10h-10zM585 455h20v10h-20zM715 455h10v10h-10zM755 455h10v10h-10zM775 455h10v10h-10zM1005 455h10v10h-10zM1095 455h10v10h-10zM1115 455h10v10h-10zM1135 455h10v10h-10zM1195 455h10v10h-10zM1265 455h10v10h-10zM1305 455h20v10h-20zM365 465h10v10h-10zM515 465h20v10h-20zM615 465h10v10h-10zM635 465h10v10h-10zM655 465h20v10h-20zM735 465h10v10h-10zM765 465h10v10h-10zM825 465h10v10h-10zM865 465h10v10h-10zM895 465h30v10h-30zM1015 465h40v10h-40zM1095 465h10v10h-10zM175 475h10v10h-10zM225 475h10v10h-10zM315 475h10v10h-10zM355 475h10v10h-10zM435 475h10v10h-10zM465 475h10v10h-10zM545 475h10v10h-10zM605 475h10v10h-10zM735 475h10v10h-10zM825 475h10v10h-10zM975 475h20v10h-20zM1015 475h10v10h-10zM1095 475h20v10h-20zM185 485h10v10h-10zM205 485h30v10h-30zM245 485h10v10h-10zM345 485h20v10h-20zM555 485h10v10h-10zM585 485h20v10h-20zM725 485h10v10h-10zM835 485h10v10h-10zM855 485h10v10h-10zM915 485h10v10h-10zM1095 485h10v10h-10zM185 495h10v10h-10zM245 495h10v10h-10zM265 495h10v10h-10zM405 495h10v10h-10zM485 495h10v10h-10zM555 495h10v10h-10zM575 495h10v10h-10zM605 495h20v10h-20zM775 495h10v10h-10zM855 495h10v10h-10zM965 495h30v10h-30zM1055 495h10v10h-10zM1095 495h10v10h-10zM375 505h10v10h-10zM495 505h10v10h-10zM525 505h10v10h-10zM545 505h10v10h-10zM585 505h10v10h-10zM775 505h10v10h-10zM825 505h20v10h-20zM895 505h10v10h-10zM1005 505h10v10h-10zM1055 505h10v10h-10zM1125 505h10v10h-10zM1195 505h20v10h-20zM1295 505h10v10h-10zM1315 505h10v10h-10zM1345 505h10v10h-10zM265 515h20v10h-20zM345 515h10v10h-10zM415 515h10v10h-10zM535 515h10v10h-10zM595 515h10v10h-10zM785 515h10v10h-10zM825 515h10v10h-10zM905 515h10v10h-10zM1035 515h10v10h-10zM1135 515h10v10h-10zM1185 515h10v10h-10zM1225 515h20v10h-20zM1305 515h20v10h-20zM1345 515h20v10h-20zM295 525h10v10h-10zM315 525h10v10h-10zM375 525h10v10h-10zM605 525h10v10h-10zM635 525h10v10h-10zM695 525h10v10h-10zM825 525h20v10h-20zM875 525h10v10h-10zM945 525h10v10h-10zM1095 525h10v10h-10zM1115 525h10v10h-10zM1165 525h20v10h-20zM1195 525h10v10h-10zM1225 525h10v10h-10zM1265 525h10v10h-10zM1345 525h10v10h-10zM165 535h10v10h-10zM375 535h20v10h-20zM445 535h10v10h-10zM465 535h10v10h-10zM945 535h10v10h-10zM1015 535h10v10h-10zM1105 535h20v10h-20zM1145 535h10v10h-10zM1165 535h10v10h-10zM1255 535h10v10h-10zM1275 535h10v10h-10zM185 545h10v10h-10zM215 545h10v10h-10zM235 545h10v10h-10zM485 545h20v10h-20zM555 545h10v10h-10zM625 545h10v10h-10zM885 545h10v10h-10zM1115 545h10v10h-10zM1145 545h10v10h-10zM1335 545h10v10h-10zM165 555h10v10h-10zM285 555h10v10h-10zM305 555h10v10h-10zM505 555h20v10h-20zM575 555h10v10h-10zM615 555h30v10h-30zM725 555h10v10h-10zM835 555h10v10h-10zM935 555h10v10h-10zM1075 555h20v10h-20zM1165 555h10v10h-10zM1245 555h10v10h-10zM1355 555h10v10h-10zM175 565h10v10h-10zM285 565h10v10h-10zM475 565h10v10h-10zM565 565h10v10h-10zM725 565h10v10h-10zM795 565h30v10h-30zM885 565h10v10h-10zM905 565h10v10h-10zM955 565h10v10h-10zM1035 565h10v10h-10zM1075 565h20v10h-20zM1125 565h10v10h-10zM1165 565h10v10h-10zM1205 565h10v10h-10zM1335 565h10v10h-10zM185 575h10v10h-10zM475 575h10v10h-10zM615 575h30v10h-30zM755 575h10v10h-10zM825 575h10v10h-10zM895 575h10v10h-10zM955 575h10v10h-10zM1055 575h10v10h-10zM1135 575h10v10h-10zM1315 575h10v10h-10zM195 585h10v10h-10zM245 585h10v10h-10zM285 585h10v10h-10zM305 585h10v10h-10zM445 585h30v10h-30zM505 585h20v10h-20zM575 585h10v10h-10zM605 585h10v10h-10zM625 585h10v10h-10zM785 585h10v10h-10zM865 585h10v10h-10zM1025 585h10v10h-10zM1125 585h10v10h-10zM1275 585h10v10h-10zM1335 585h10v10h-10zM195 595h10v10h-10zM245 595h10v10h-10zM335 595h10v10h-10zM355 595h10v10h-10zM395 595h10v10h-10zM425 595h10v10h-10zM455 595h10v10h-10zM505 595h10v10h-10zM535 595h10v10h-10zM555 595h10v10h-10zM575 595h10v10h-10zM625 595h10v10h-10zM695 595h10v10h-10zM735 595h10v10h-10zM895 595h10v10h-10zM915 595h10v10h-10zM975 595h10v10h-10zM995 595h20v10h-20zM1025 595h10v10h-10zM1095 595h10v10h-10zM1155 595h10v10h-10zM1175 595h10v10h-10zM1345 595h10v10h-10zM335 605h10v10h-10zM365 605h10v10h-10zM455 605h10v10h-10zM525 605h10v10h-10zM685 605h10v10h-10zM835 605h10v10h-10zM965 605h10v10h-10zM1245 605h10v10h-10zM265 615h10v10h-10zM375 615h10v10h-10zM585 615h10v10h-10zM605 615h10v10h-10zM825 615h20v10h-20zM865 615h10v10h-10zM1045 615h10v10h-10zM1105 615h10v10h-10zM1175 615h10v10h-10zM1295 615h10v10h-10zM285 625h10v10h-10zM305 625h10v10h-10zM375 625h10v10h-10zM445 625h10v10h-10zM625 625h10v10h-10zM645 625h10v10h-10zM735 625h10v10h-10zM835 625h30v10h-30zM995 625h10v10h-10zM1025 625h10v10h-10zM1065 625h10v10h-10zM405 635h10v10h-10zM645 635h10v10h-10zM795 635h10v10h-10zM825 635h10v10h-10zM855 635h10v10h-10zM875 635h10v10h-10zM1055 635h10v10h-10zM1175 635h10v10h-10zM1225 635h10v10h-10zM1345 635h10v10h-10zM195 645h10v10h-10zM245 645h10v10h-10zM315 645h10v10h-10zM375 645h10v10h-10zM605 645h20v10h-20zM645 645h10v10h-10zM665 645h10v10h-10zM805 645h20v10h-20zM865 645h10v10h-10zM895 645h10v10h-10zM925 645h10v10h-10zM985 645h10v10h-10zM1115 645h10v10h-10zM1225 645h20v10h-20zM1275 645h10v10h-10zM1295 645h10v10h-10zM1335 645h10v10h-10zM415 655h10v10h-10zM555 655h20v10h-20zM615 655h10v10h-10zM925 655h10v10h-10zM1045 655h10v10h-10zM1085 655h10v10h-10zM1125 655h10v10h-10zM1145 655h30v10h-30zM1275 655h10v10h-10zM215 665h10v10h-10zM265 665h20v10h-20zM305 665h10v10h-10zM375 665h10v10h-10zM415 665h10v10h-10zM495 665h20v10h-20zM545 665h10v10h-10zM875 665h10v10h-10zM975 665h10v10h-10zM1085 665h10v10h-10zM1235 665h10v10h-10zM215 675h10v10h-10zM405 675h10v10h-10zM505 675h10v10h-10zM605 675h10v10h-10zM655 675h10v10h-10zM935 675h10v10h-10zM955 675h10v10h-10zM1015 675h10v10h-10zM1185 675h10v10h-10zM1355 675h10v10h-10zM205 685h20v10h-20zM285 685h20v10h-20zM325 685h20v10h-20zM365 685h10v10h-10zM405 685h10v10h-10zM445 685h10v10h-10zM495 685h10v10h-10zM605 685h20v10h-20zM645 685h10v10h-10zM825 685h10v10h-10zM895 685h20v10h-20zM1015 685h10v10h-10zM1135 685h10v10h-10zM1205 685h10v10h-10zM1265 685h10v10h-10zM175 695h10v10h-10zM235 695h10v10h-10zM305 695h10v10h-10zM365 695h10v10h-10zM565 695h10v10h-10zM695 695h10v10h-10zM835 695h10v10h-10zM975 695h10v10h-10zM1115 695h10v10h-10zM1165 695h10v10h-10zM1335 695h10v10h-10zM185 705h10v10h-10zM215 705h10v10h-10zM325 705h10v10h-10zM385 705h10v10h-10zM425 705h10v10h-10zM465 705h10v10h-10zM495 705h10v10h-10zM595 705h10v10h-10zM645 705h10v10h-10zM665 705h10v10h-10zM685 705h10v10h-10zM885 705h10v10h-10zM915 705h10v10h-10zM1135 705h10v10h-10zM1225 705h10v10h-10zM1265 705h20v10h-20zM1325 705h10v10h-10zM345 715h20v10h-20zM385 715h10v10h-10zM525 715h10v10h-10zM565 715h10v10h-10zM645 715h10v10h-10zM995 715h20v10h-20zM1035 715h10v10h-10zM1065 715h20v10h-20zM1105 715h10v10h-10zM1135 715h10v10h-10zM1225 715h20v10h-20zM1305 715h10v10h-10zM215 725h20v10h-20zM245 725h10v10h-10zM385 725h10v10h-10zM425 725h10v10h-10zM575 725h10v10h-10zM1065 725h10v10h-10zM1265 725h10v10h-10zM1325 725h10v10h-10zM245 735h10v10h-10zM285 735h10v10h-10zM345 735h20v10h-20zM495 735h20v10h-20zM645 735h10v10h-10zM845 735h10v10h-10zM945 735h10v10h-10zM1045 735h10v10h-10zM1085 735h10v10h-10zM1145 735h10v10h-10zM1245 735h10v10h-10zM165 745h10v10h-10zM275 745h10v10h-10zM345 745h20v10h-20zM415 745h10v10h-10zM505 745h10v10h-10zM585 745h10v10h-10zM655 745h10v10h-10zM1025 745h10v10h-10zM1085 745h20v10h-20zM1195 745h20v10h-20zM1225 745h10v10h-10zM1245 745h10v10h-10zM1345 745h20v10h-20zM185 755h10v10h-10zM265 755h10v10h-10zM425 755h10v10h-10zM645 755h20v10h-20zM765 755h20v10h-20zM855 755h10v10h-10zM1095 755h10v10h-10zM1135 755h10v10h-10zM1235 755h10v10h-10zM1315 755h10v10h-10zM1345 755h10v10h-10zM285 765h10v10h-10zM665 765h20v10h-20zM725 765h30v10h-30zM955 765h20v10h-20zM1135 765h10v10h-10zM1155 765h20v10h-20zM1255 765h20v10h-20zM1345 765h10v10h-10zM285 775h10v10h-10zM355 775h30v10h-30zM425 775h10v10h-10zM455 775h10v10h-10zM585 775h10v10h-10zM725 775h30v10h-30zM795 775h10v10h-10zM835 775h10v10h-10zM1005 775h10v10h-10zM1025 775h10v10h-10zM1165 775h10v10h-10zM1205 775h10v10h-10zM1345 775h10v10h-10zM165 785h20v10h-20zM215 785h10v10h-10zM415 785h10v10h-10zM535 785h10v10h-10zM615 785h20v10h-20zM665 785h20v10h-20zM695 785h10v10h-10zM715 785h10v10h-10zM735 785h10v10h-10zM755 785h10v10h-10zM795 785h10v10h-10zM825 785h10v10h-10zM895 785h10v10h-10zM1085 785h30v10h-30zM1165 785h10v10h-10zM1255 785h10v10h-10zM165 795h10v10h-10zM295 795h10v10h-10zM595 795h10v10h-10zM755 795h10v10h-10zM805 795h30v10h-30zM845 795h10v10h-10zM875 795h10v10h-10zM1065 795h10v10h-10zM1105 795h20v10h-20zM1275 795h10v10h-10zM255 805h20v10h-20zM545 805h10v10h-10zM565 805h20v10h-20zM675 805h20v10h-20zM755 805h10v10h-10zM795 805h30v10h-30zM905 805h10v10h-10zM1005 805h10v10h-10zM1265 805h10v10h-10zM325 815h20v10h-20zM475 815h10v10h-10zM505 815h10v10h-10zM695 815h10v10h-10zM725 815h20v10h-20zM755 815h20v10h-20zM785 815h10v10h-10zM895 815h10v10h-10zM925 815h10v10h-10zM1015 815h10v10h-10zM1085 815h10v10h-10zM1145 815h20v10h-20zM1215 815h10v10h-10zM1245 815h10v10h-10zM1325 815h10v10h-10zM195 825h10v10h-10zM275 825h10v10h-10zM295 825h10v10h-10zM325 825h10v10h-10zM345 825h10v10h-10zM385 825h10v10h-10zM465 825h10v10h-10zM485 825h10v10h-10zM675 825h10v10h-10zM705 825h20v10h-20zM755 825h10v10h-10zM895 825h10v10h-10zM915 825h10v10h-10zM1015 825h10v10h-10zM1115 825h10v10h-10zM1245 825h10v10h-10zM1265 825h10v10h-10zM165 835h10v10h-10zM245 835h10v10h-10zM385 835h20v10h-20zM415 835h40v10h-40zM495 835h10v10h-10zM545 835h10v10h-10zM595 835h10v10h-10zM705 835h20v10h-20zM835 835h10v10h-10zM945 835h10v10h-10zM965 835h10v10h-10zM1025 835h10v10h-10zM1095 835h20v10h-20zM1305 835h10v10h-10zM355 845h30v10h-30zM535 845h10v10h-10zM565 845h10v10h-10zM965 845h10v10h-10zM1065 845h20v10h-20zM1135 845h10v10h-10zM1225 845h10v10h-10zM1285 845h10v10h-10zM1335 845h10v10h-10zM205 855h20v10h-20zM235 855h20v10h-20zM435 855h10v10h-10zM475 855h10v10h-10zM705 855h10v10h-10zM725 855h10v10h-10zM1085 855h10v10h-10zM1115 855h10v10h-10zM1165 855h40v10h-40zM1245 855h10v10h-10zM1325 855h10v10h-10zM205 865h10v10h-10zM305 865h10v10h-10zM325 865h20v10h-20zM355 865h10v10h-10zM475 865h30v10h-30zM705 865h10v10h-10zM855 865h10v10h-10zM875 865h10v10h-10zM945 865h10v10h-10zM995 865h10v10h-10zM1075 865h10v10h-10zM1245 865h10v10h-10zM375 875h10v10h-10zM455 875h10v10h-10zM475 875h10v10h-10zM595 875h10v10h-10zM655 875h10v10h-10zM795 875h10v10h-10zM1035 875h10v10h-10zM1205 875h10v10h-10zM1275 875h10v10h-10zM215 885h10v10h-10zM535 885h10v10h-10zM565 885h10v10h-10zM605 885h10v10h-10zM655 885h10v10h-10zM675 885h10v10h-10zM765 885h10v10h-10zM785 885h10v10h-10zM915 885h20v10h-20zM1005 885h20v10h-20zM1035 885h40v10h-40zM1115 885h10v10h-10zM1155 885h10v10h-10zM1185 885h10v10h-10zM1215 885h10v10h-10zM1265 885h10v10h-10zM195 895h20v10h-20zM225 895h10v10h-10zM325 895h10v10h-10zM365 895h10v10h-10zM675 895h10v10h-10zM705 895h10v10h-10zM845 895h10v10h-10zM885 895h10v10h-10zM915 895h10v10h-10zM985 895h20v10h-20zM1115 895h10v10h-10zM1265 895h20v10h-20zM225 905h10v10h-10zM245 905h10v10h-10zM405 905h10v10h-10zM485 905h20v10h-20zM615 905h10v10h-10zM665 905h10v10h-10zM685 905h10v10h-10zM755 905h10v10h-10zM835 905h20v10h-20zM935 905h30v10h-30zM975 905h10v10h-10zM995 905h30v10h-30zM1035 905h10v10h-10zM1145 905h10v10h-10zM1265 905h20v10h-20zM1315 905h10v10h-10zM175 915h10v10h-10zM235 915h10v10h-10zM305 915h20v10h-20zM335 915h10v10h-10zM395 915h10v10h-10zM435 915h10v10h-10zM565 915h10v10h-10zM635 915h10v10h-10zM665 915h10v10h-10zM715 915h20v10h-20zM825 915h10v10h-10zM955 915h10v10h-10zM1215 915h10v10h-10zM1345 915h10v10h-10zM185 925h20v10h-20zM255 925h10v10h-10zM305 925h20v10h-20zM385 925h10v10h-10zM585 925h10v10h-10zM705 925h20v10h-20zM755 925h20v10h-20zM815 925h10v10h-10zM855 925h10v10h-10zM885 925h10v10h-10zM925 925h10v10h-10zM1005 925h10v10h-10zM1045 925h10v10h-10zM1215 925h10v10h-10zM1295 925h10v10h-10zM225 935h10v10h-10zM245 935h10v10h-10zM285 935h10v10h-10zM485 935h10v10h-10zM695 935h10v10h-10zM715 935h20v10h-20zM775 935h10v10h-10zM855 935h10v10h-10zM925 935h10v10h-10zM1085 935h20v10h-20zM1125 935h10v10h-10zM1195 935h10v10h-10zM1275 935h10v10h-10zM1355 935h10v10h-10zM165 945h10v10h-10zM215 945h20v10h-20zM415 945h10v10h-10zM435 945h10v10h-10zM705 945h10v10h-10zM845 945h10v10h-10zM875 945h10v10h-10zM1025 945h20v10h-20zM1165 945h10v10h-10zM255 955h10v10h-10zM285 955h10v10h-10zM305 955h10v10h-10zM465 955h10v10h-10zM535 955h20v10h-20zM625 955h10v10h-10zM675 955h10v10h-10zM715 955h10v10h-10zM805 955h10v10h-10zM855 955h10v10h-10zM1065 955h10v10h-10zM1145 955h10v10h-10zM1235 955h10v10h-10zM1265 955h10v10h-10zM245 965h10v10h-10zM315 965h10v10h-10zM405 965h10v10h-10zM535 965h20v10h-20zM585 965h10v10h-10zM625 965h10v10h-10zM665 965h10v10h-10zM835 965h10v10h-10zM1065 965h10v10h-10zM1125 965h20v10h-20zM1195 965h10v10h-10zM1215 965h10v10h-10zM1275 965h10v10h-10zM1345 965h10v10h-10zM225 975h10v10h-10zM245 975h10v10h-10zM315 975h10v10h-10zM395 975h10v10h-10zM525 975h10v10h-10zM775 975h10v10h-10zM805 975h20v10h-20zM835 975h10v10h-10zM1035 975h10v10h-10zM1095 975h20v10h-20zM1225 975h10v10h-10zM1265 975h10v10h-10zM165 985h10v10h-10zM405 985h10v10h-10zM485 985h10v10h-10zM525 985h20v10h-20zM795 985h10v10h-10zM1005 985h10v10h-10zM1025 985h20v10h-20zM1115 985h10v10h-10zM1145 985h20v10h-20zM1205 985h10v10h-10zM1235 985h10v10h-10zM1295 985h10v10h-10zM1325 985h10v10h-10zM1345 985h10v10h-10zM175 995h20v10h-20zM245 995h20v10h-20zM275 995h20v10h-20zM375 995h10v10h-10zM415 995h10v10h-10zM435 995h20v10h-20zM465 995h10v10h-10zM545 995h20v10h-20zM645 995h10v10h-10zM705 995h10v10h-10zM735 995h10v10h-10zM805 995h10v10h-10zM855 995h10v10h-10zM915 995h10v10h-10zM985 995h10v10h-10zM1035 995h20v10h-20zM1115 995h10v10h-10zM1195 995h10v10h-10zM1315 995h10v10h-10zM1345 995h10v10h-10zM375 1005h10v10h-10zM415 1005h10v10h-10zM475 1005h10v10h-10zM535 1005h10v10h-10zM565 1005h10v10h-10zM735 1005h10v10h-10zM765 1005h10v10h-10zM825 1005h30v10h-30zM925 1005h20v10h-20zM995 1005h10v10h-10zM1025 1005h10v10h-10zM1165 1005h10v10h-10zM1215 1005h10v10h-10zM1235 1005h10v10h-10zM1285 1005h10v10h-10zM1315 1005h10v10h-10zM415 1015h30v10h-30zM575 1015h10v10h-10zM715 1015h10v10h-10zM765 1015h20v10h-20zM1025 1015h10v10h-10zM1255 1015h20v10h-20zM345 1025h10v10h-10zM385 1025h10v10h-10zM405 1025h20v10h-20zM465 1025h20v10h-20zM525 1025h10v10h-10zM545 1025h10v10h-10zM585 1025h10v10h-10zM745 1025h10v10h-10zM795 1025h10v10h-10zM815 1025h10v10h-10zM855 1025h10v10h-10zM955 1025h20v10h-20zM1075 1025h10v10h-10zM1235 1025h10v10h-10zM245 1035h10v10h-10zM325 1035h10v10h-10zM465 1035h10v10h-10zM565 1035h20v10h-20zM725 1035h10v10h-10zM785 1035h10v10h-10zM805 1035h20v10h-20zM1065 1035h10v10h-10zM1205 1035h10v10h-10zM1255 1035h10v10h-10zM1285 1035h10v10h-10zM205 1045h10v10h-10zM295 1045h20v10h-20zM335 1045h10v10h-10zM485 1045h10v10h-10zM605 1045h10v10h-10zM625 1045h10v10h-10zM645 1045h20v10h-20zM685 1045h20v10h-20zM725 1045h10v10h-10zM795 1045h10v10h-10zM815 1045h10v10h-10zM975 1045h10v10h-10zM1095 1045h10v10h-10zM1135 1045h10v10h-10zM1165 1045h10v10h-10zM1195 1045h10v10h-10zM215 1055h30v10h-30zM325 1055h10v10h-10zM375 1055h10v10h-10zM485 1055h20v10h-20zM535 1055h10v10h-10zM605 1055h20v10h-20zM645 1055h20v10h-20zM735 1055h20v10h-20zM815 1055h20v10h-20zM915 1055h10v10h-10zM985 1055h20v10h-20zM1145 1055h10v10h-10zM1165 1055h10v10h-10zM1185 1055h10v10h-10zM1315 1055h10v10h-10zM285 1065h10v10h-10zM475 1065h10v10h-10zM495 1065h20v10h-20zM675 1065h10v10h-10zM745 1065h10v10h-10zM815 1065h10v10h-10zM885 1065h10v10h-10zM915 1065h10v10h-10zM955 1065h10v10h-10zM1065 1065h10v10h-10zM1095 1065h10v10h-10zM1145 1065h20v10h-20zM1325 1065h10v10h-10zM235 1075h20v10h-20zM565 1075h10v10h-10zM615 1075h10v10h-10zM645 1075h10v10h-10zM745 1075h30v10h-30zM965 1075h20v10h-20zM1165 1075h10v10h-10zM1185 1075h10v10h-10zM1245 1075h20v10h-20zM1345 1075h20v10h-20zM175 1085h10v10h-10zM285 1085h10v10h-10zM345 1085h10v10h-10zM365 1085h10v10h-10zM435 1085h10v10h-10zM475 1085h10v10h-10zM515 1085h10v10h-10zM545 1085h10v10h-10zM625 1085h10v10h-10zM665 1085h10v10h-10zM705 1085h20v10h-20zM895 1085h20v10h-20zM1075 1085h10v10h-10zM1115 1085h20v10h-20zM1225 1085h10v10h-10zM175 1095h10v10h-10zM235 1095h20v10h-20zM265 1095h10v10h-10zM515 1095h10v10h-10zM545 1095h10v10h-10zM795 1095h10v10h-10zM855 1095h10v10h-10zM895 1095h10v10h-10zM915 1095h10v10h-10zM1065 1095h10v10h-10zM1135 1095h10v10h-10zM1215 1095h10v10h-10zM1255 1095h10v10h-10zM1275 1095h10v10h-10zM1315 1095h10v10h-10zM385 1105h10v10h-10zM485 1105h20v10h-20zM565 1105h10v10h-10zM595 1105h10v10h-10zM615 1105h10v10h-10zM655 1105h10v10h-10zM765 1105h10v10h-10zM945 1105h10v10h-10zM965 1105h10v10h-10zM1055 1105h10v10h-10zM1175 1105h30v10h-30zM1235 1105h10v10h-10zM1355 1105h10v10h-10zM195 1115h10v10h-10zM345 1115h10v10h-10zM395 1115h10v10h-10zM465 1115h10v10h-10zM485 1115h10v10h-10zM565 1115h10v10h-10zM605 1115h10v10h-10zM625 1115h10v10h-10zM645 1115h20v10h-20zM755 1115h10v10h-10zM795 1115h10v10h-10zM855 1115h10v10h-10zM915 1115h10v10h-10zM945 1115h10v10h-10zM1005 1115h10v10h-10zM1055 1115h20v10h-20zM1135 1115h10v10h-10zM1175 1115h10v10h-10zM1205 1115h10v10h-10zM1225 1115h10v10h-10zM1315 1115h10v10h-10zM455 1125h10v10h-10zM505 1125h10v10h-10zM765 1125h20v10h-20zM865 1125h10v10h-10zM945 1125h20v10h-20zM1075 1125h10v10h-10zM1095 1125h10v10h-10zM1235 1125h10v10h-10zM1295 1125h10v10h-10zM165 1135h10v10h-10zM225 1135h10v10h-10zM265 1135h10v10h-10zM385 1135h10v10h-10zM405 1135h10v10h-10zM465 1135h10v10h-10zM545 1135h10v10h-10zM615 1135h10v10h-10zM715 1135h10v10h-10zM785 1135h10v10h-10zM865 1135h10v10h-10zM975 1135h10v10h-10zM1045 1135h10v10h-10zM1125 1135h10v10h-10zM1275 1135h20v10h-20zM245 1145h40v10h-40zM345 1145h10v10h-10zM365 1145h10v10h-10zM505 1145h10v10h-10zM565 1145h10v10h-10zM685 1145h20v10h-20zM745 1145h10v10h-10zM765 1145h10v10h-10zM925 1145h10v10h-10zM985 1145h10v10h-10zM1035 1145h10v10h-10zM1185 1145h10v10h-10zM1225 1145h10v10h-10zM1285 1145h10v10h-10zM165 1155h10v10h-10zM195 1155h10v10h-10zM215 1155h10v10h-10zM305 1155h20v10h-20zM425 1155h10v10h-10zM465 1155h10v10h-10zM485 1155h10v10h-10zM515 1155h10v10h-10zM535 1155h10v10h-10zM615 1155h10v10h-10zM725 1155h10v10h-10zM805 1155h10v10h-10zM925 1155h10v10h-10zM1075 1155h10v10h-10zM1095 1155h10v10h-10zM1165 1155h10v10h-10zM1185 1155h10v10h-10zM1245 1155h10v10h-10zM1305 1155h10v10h-10zM185 1165h10v10h-10zM205 1165h20v10h-20zM235 1165h10v10h-10zM265 1165h20v10h-20zM395 1165h10v10h-10zM465 1165h10v10h-10zM485 1165h10v10h-10zM535 1165h10v10h-10zM565 1165h20v10h-20zM625 1165h20v10h-20zM715 1165h10v10h-10zM795 1165h20v10h-20zM835 1165h10v10h-10zM915 1165h10v10h-10zM1085 1165h10v10h-10zM1135 1165h10v10h-10zM1255 1165h10v10h-10zM165 1175h40v10h-40zM525 1175h10v10h-10zM715 1175h20v10h-20zM885 1175h10v10h-10zM985 1175h10v10h-10zM1015 1175h10v10h-10zM1065 1175h10v10h-10zM1105 1175h10v10h-10zM1195 1175h10v10h-10zM1265 1175h10v10h-10zM195 1185h10v10h-10zM445 1185h10v10h-10zM495 1185h10v10h-10zM535 1185h10v10h-10zM605 1185h30v10h-30zM685 1185h10v10h-10zM875 1185h10v10h-10zM1005 1185h20v10h-20zM1065 1185h10v10h-10zM1155 1185h10v10h-10zM1245 1185h20v10h-20zM165 1195h40v10h-40zM215 1195h20v10h-20zM265 1195h10v10h-10zM305 1195h10v10h-10zM395 1195h10v10h-10zM605 1195h10v10h-10zM695 1195h10v10h-10zM775 1195h10v10h-10zM835 1195h10v10h-10zM865 1195h10v10h-10zM955 1195h10v10h-10zM1065 1195h10v10h-10zM1165 1195h10v10h-10zM1225 1195h10v10h-10zM1265 1195h10v10h-10zM195 1205h20v10h-20zM345 1205h10v10h-10zM445 1205h20v10h-20zM485 1205h10v10h-10zM655 1205h10v10h-10zM785 1205h10v10h-10zM815 1205h20v10h-20zM975 1205h10v10h-10zM1015 1205h20v10h-20zM1065 1205h20v10h-20zM1185 1205h10v10h-10zM1235 1205h10v10h-10zM1305 1205h10v10h-10zM1335 1205h10v10h-10zM355 1215h10v10h-10zM455 1215h10v10h-10zM485 1215h10v10h-10zM575 1215h10v10h-10zM605 1215h20v10h-20zM655 1215h10v10h-10zM685 1215h20v10h-20zM725 1215h10v10h-10zM765 1215h10v10h-10zM1005 1215h20v10h-20zM1085 1215h10v10h-10zM1155 1215h10v10h-10zM1215 1215h10v10h-10zM1235 1215h20v10h-20zM1345 1215h10v10h-10zM165 1225h10v10h-10zM225 1225h20v10h-20zM285 1225h10v10h-10zM315 1225h10v10h-10zM435 1225h10v10h-10zM655 1225h10v10h-10zM755 1225h20v10h-20zM825 1225h10v10h-10zM915 1225h10v10h-10zM1005 1225h10v10h-10zM1085 1225h10v10h-10zM1105 1225h10v10h-10zM1145 1225h10v10h-10zM1175 1225h30v10h-30zM1355 1225h10v10h-10zM245 1235h20v10h-20zM325 1235h20v10h-20zM435 1235h10v10h-10zM475 1235h20v10h-20zM535 1235h10v10h-10zM605 1235h20v10h-20zM695 1235h10v10h-10zM715 1235h10v10h-10zM785 1235h20v10h-20zM815 1235h10v10h-10zM845 1235h10v10h-10zM955 1235h10v10h-10zM1025 1235h10v10h-10zM1045 1235h20v10h-20zM1075 1235h10v10h-10zM1135 1235h20v10h-20zM1165 1235h10v10h-10zM1205 1235h10v10h-10zM1305 1235h30v10h-30zM165 1245h10v10h-10zM325 1245h10v10h-10zM425 1245h20v10h-20zM625 1245h10v10h-10zM675 1245h10v10h-10zM905 1245h10v10h-10zM925 1245h20v10h-20zM1155 1245h10v10h-10zM1215 1245h10v10h-10zM1305 1245h10v10h-10zM1355 1245h10v10h-10zM195 1255h10v10h-10zM225 1255h20v10h-20zM355 1255h10v10h-10zM385 1255h10v10h-10zM405 1255h10v10h-10zM425 1255h10v10h-10zM445 1255h10v10h-10zM575 1255h10v10h-10zM625 1255h10v10h-10zM865 1255h10v10h-10zM915 1255h10v10h-10zM1035 1255h10v10h-10zM1055 1255h10v10h-10zM1075 1255h10v10h-10zM1095 1255h10v10h-10zM1135 1255h10v10h-10zM1205 1255h10v10h-10zM205 1265h10v10h-10zM255 1265h10v10h-10zM315 1265h20v10h-20zM375 1265h10v10h-10zM485 1265h10v10h-10zM545 1265h10v10h-10zM585 1265h10v10h-10zM665 1265h10v10h-10zM975 1265h10v10h-10zM995 1265h10v10h-10zM1025 1265h10v10h-10zM1045 1265h10v10h-10zM1095 1265h10v10h-10zM1125 1265h30v10h-30zM1195 1265h10v10h-10zM225 1275h20v10h-20zM285 1275h10v10h-10zM325 1275h10v10h-10zM545 1275h10v10h-10zM615 1275h10v10h-10zM735 1275h10v10h-10zM765 1275h10v10h-10zM925 1275h10v10h-10zM1005 1275h10v10h-10zM1105 1275h10v10h-10zM1185 1275h10v10h-10zM1205 1275h10v10h-10zM1255 1275h10v10h-10zM1275 1275h10v10h-10zM165 1285h10v10h-10zM215 1285h10v10h-10zM285 1285h10v10h-10zM385 1285h10v10h-10zM465 1285h10v10h-10zM535 1285h10v10h-10zM595 1285h10v10h-10zM615 1285h10v10h-10zM875 1285h10v10h-10zM915 1285h20v10h-20zM965 1285h20v10h-20zM1055 1285h20v10h-20zM1125 1285h10v10h-10zM1225 1285h10v10h-10zM1295 1285h10v10h-10zM205 1295h10v10h-10zM375 1295h20v10h-20zM705 1295h20v10h-20zM815 1295h10v10h-10zM865 1295h10v10h-10zM1105 1295h10v10h-10zM1125 1295h10v10h-10zM1155 1295h10v10h-10zM1315 1295h10v10h-10zM1355 1295h10v10h-10zM165 1305h10v10h-10zM275 1305h10v10h-10zM375 1305h10v10h-10zM475 1305h20v10h-20zM615 1305h20v10h-20zM725 1305h10v10h-10zM765 1305h10v10h-10zM815 1305h20v10h-20zM845 1305h10v10h-10zM865 1305h20v10h-20zM925 1305h10v10h-10zM1075 1305h20v10h-20zM1185 1305h10v10h-10zM1215 1305h10v10h-10zM1235 1305h10v10h-10zM1265 1305h30v10h-30z"/>
<path fill="#0042ff" d="M865 115h10v10h-10zM1025 115h10v10h-10zM1305 115h10v10h-10zM205 125h10v10h-10zM375 125h10v10h-10zM835 125h10v10h-10zM875 125h10v10h-10zM1015 125h10v10h-10zM1035 125h10v10h-10zM455 135h10v10h-10zM445 145h10v10h-10zM535 145h20v10h-20zM835 145h10v10h-10zM1105 145h10v10h-10zM1335 145h10v10h-10zM835 155h10v10h-10zM855 155h10v10h-10zM1335 155h10v10h-10zM235 165h10v10h-10zM365 165h10v10h-10zM835 165h10v10h-10zM285 175h10v10h-10zM365 175h10v10h-10zM765 175h10v10h-10zM1195 175h10v10h-10zM475 185h10v10h-10zM595 185h10v10h-10zM1125 185h10v10h-10zM1285 185h10v10h-10zM1015 195h10v10h-10zM1345 195h10v10h-10zM485 205h10v10h-10zM635 205h10v10h-10zM695 205h10v10h-10zM725 205h10v10h-10zM945 205h20v10h-20zM1345 205h10v10h-10zM685 215h10v10h-10zM1025 215h10v10h-10zM275 225h10v10h-10zM925 225h10v10h-10zM1355 225h10v10h-10zM345 235h10v10h-10zM595 235h10v10h-10zM875 235h10v10h-10zM925 235h10v10h-10zM1225 235h10v10h-10zM355 245h10v10h-10zM585 245h10v10h-10zM935 245h10v10h-10zM1325 245h10v10h-10zM165 255h10v10h-10zM215 255h10v10h-10zM305 255h30v10h-30zM365 255h10v10h-10zM425 255h10v10h-10zM315 265h10v10h-10zM875 265h10v10h-10zM615 275h10v10h-10zM865 275h10v10h-10zM465 285h10v10h-10zM855 285h10v10h-10zM935 285h10v10h-10zM1145 285h10v10h-10zM305 295h10v10h-10zM615 295h10v10h-10zM785 295h20v10h-20zM1125 295h10v10h-10zM165 305h10v10h-10zM325 305h10v10h-10zM635 305h10v10h-10zM765 305h10v10h-10zM805 305h10v10h-10zM965 305h10v10h-10zM1045 305h10v10h-10zM785 315h10v10h-10zM425 325h10v10h-10zM795 325h10v10h-10zM1175 325h20v10h-20zM395 335h20v10h-20zM435 335h10v10h-10zM635 335h10v10h-10zM805 335h20v10h-20zM1075 335h10v10h-10zM1325 335h10v10h-10zM185 345h10v10h-10zM435 355h10v10h-10zM925 355h10v10h-10zM1315 355h10v10h-10zM935 365h10v10h-10zM985 365h10v10h-10zM1285 365h10v10h-10zM1325 365h10v10h-10zM515 375h10v10h-10zM515 385h10v10h-10zM1015 385h10v10h-10zM365 405h20v10h-20zM615 405h10v10h-10zM865 405h10v10h-10zM1035 405h10v10h-10zM365 415h10v10h-10zM575 415h10v10h-10zM655 415h20v10h-20zM925 415h10v10h-10zM1025 415h10v10h-10zM1075 415h10v10h-10zM275 425h10v10h-10zM575 425h10v10h-10zM655 425h20v10h-20zM1165 425h10v10h-10zM1195 425h10v10h-10zM695 435h20v10h-20zM1045 435h10v10h-10zM1125 435h10v10h-10zM235 455h10v10h-10zM525 455h10v10h-10zM1225 455h10v10h-10zM1285 455h10v10h-10zM195 465h10v10h-10zM325 465h10v10h-10zM1295 465h10v10h-10zM245 475h10v10h-10zM445 475h10v10h-10zM775 475h10v10h-10zM1215 475h10v10h-10zM565 485h10v10h-10zM765 485h10v10h-10zM1215 485h10v10h-10zM195 495h10v10h-10zM275 495h10v10h-10zM1075 495h10v10h-10zM1115 495h10v10h-10zM355 505h20v10h-20zM555 505h10v10h-10zM885 505h10v10h-10zM1115 505h10v10h-10zM255 515h10v10h-10zM355 515h10v10h-10zM555 515h10v10h-10zM885 515h10v10h-10zM985 515h30v10h-30zM1105 515h20v10h-20zM915 525h10v10h-10zM1215 525h10v10h-10zM1255 525h10v10h-10zM645 535h10v10h-10zM1025 535h10v10h-10zM1175 535h10v10h-10zM1265 535h10v10h-10zM1295 545h20v10h-20zM1265 555h10v10h-10zM1345 555h10v10h-10zM335 565h10v10h-10zM485 565h10v10h-10zM925 565h10v10h-10zM1115 565h10v10h-10zM1265 565h10v10h-10zM1295 565h10v10h-10zM1325 565h10v10h-10zM295 575h10v10h-10zM1145 575h10v10h-10zM1205 575h10v10h-10zM345 585h10v10h-10zM495 585h10v10h-10zM535 585h10v10h-10zM715 585h30v10h-30zM805 585h10v10h-10zM1195 585h10v10h-10zM305 595h10v10h-10zM1115 595h10v10h-10zM285 605h10v10h-10zM305 605h10v10h-10zM485 605h10v10h-10zM1095 605h10v10h-10zM335 615h10v10h-10zM355 615h10v10h-10zM525 615h10v10h-10zM985 615h10v10h-10zM1095 615h10v10h-10zM315 625h10v10h-10zM425 625h10v10h-10zM495 625h10v10h-10zM325 635h10v10h-10zM665 635h10v10h-10zM975 635h10v10h-10zM555 645h10v10h-10zM1165 645h10v10h-10zM1305 645h20v10h-20zM245 655h10v10h-10zM445 655h10v10h-10zM915 655h10v10h-10zM1315 655h20v10h-20zM255 665h10v10h-10zM945 665h10v10h-10zM275 675h10v10h-10zM295 675h10v10h-10zM555 675h10v10h-10zM845 675h10v10h-10zM165 685h10v10h-10zM315 685h10v10h-10zM385 685h10v10h-10zM565 685h10v10h-10zM1345 685h10v10h-10zM505 705h10v10h-10zM585 705h10v10h-10zM1015 705h10v10h-10zM1165 705h10v10h-10zM275 715h10v10h-10zM375 715h10v10h-10zM515 715h10v10h-10zM605 715h10v10h-10zM665 715h10v10h-10zM855 715h20v10h-20zM915 715h10v10h-10zM1185 715h10v10h-10zM1295 715h10v10h-10zM1345 715h20v10h-20zM855 725h10v10h-10zM975 725h10v10h-10zM1025 725h10v10h-10zM1095 725h10v10h-10zM1155 725h10v10h-10zM1175 725h10v10h-10zM1235 725h10v10h-10zM1315 725h10v10h-10zM675 735h10v10h-10zM1105 735h10v10h-10zM1175 735h30v10h-30zM1285 735h10v10h-10zM195 745h10v10h-10zM295 745h10v10h-10zM355 765h10v10h-10zM1335 765h10v10h-10zM875 775h10v10h-10zM995 775h10v10h-10zM1215 775h10v10h-10zM875 785h10v10h-10zM1155 795h10v10h-10zM215 805h10v10h-10zM1085 805h10v10h-10zM385 815h10v10h-10zM555 815h10v10h-10zM575 815h10v10h-10zM825 815h20v10h-20zM1025 815h10v10h-10zM1095 815h10v10h-10zM1265 815h10v10h-10zM185 825h10v10h-10zM575 825h10v10h-10zM845 825h10v10h-10zM185 835h20v10h-20zM255 835h10v10h-10zM815 835h20v10h-20zM1135 835h10v10h-10zM305 845h10v10h-10zM345 845h10v10h-10zM495 845h10v10h-10zM815 845h20v10h-20zM385 855h10v10h-10zM805 855h10v10h-10zM1215 855h10v10h-10zM575 865h10v10h-10zM665 865h10v10h-10zM695 865h10v10h-10zM815 865h20v10h-20zM955 865h10v10h-10zM1225 865h10v10h-10zM1345 865h10v10h-10zM195 875h20v10h-20zM225 875h10v10h-10zM315 875h10v10h-10zM835 875h10v10h-10zM1085 875h10v10h-10zM705 885h10v10h-10zM945 885h10v10h-10zM1225 885h10v10h-10zM175 895h10v10h-10zM265 895h10v10h-10zM345 895h10v10h-10zM935 895h10v10h-10zM255 905h10v10h-10zM365 905h10v10h-10zM385 905h10v10h-10zM1085 905h10v10h-10zM1225 905h10v10h-10zM1245 905h10v10h-10zM1015 915h10v10h-10zM425 925h10v10h-10zM685 925h10v10h-10zM945 925h10v10h-10zM625 945h10v10h-10zM755 945h10v10h-10zM775 945h10v10h-10zM795 945h10v10h-10zM595 955h10v10h-10zM1275 955h10v10h-10zM965 965h10v10h-10zM855 975h10v10h-10zM965 975h10v10h-10zM1025 975h10v10h-10zM295 985h10v10h-10zM675 985h10v10h-10zM845 985h10v10h-10zM835 995h10v10h-10zM865 995h10v10h-10zM1245 995h10v10h-10zM485 1005h10v10h-10zM655 1005h10v10h-10zM675 1005h30v10h-30zM975 1005h10v10h-10zM1175 1005h10v10h-10zM1195 1005h10v10h-10zM175 1015h20v10h-20zM325 1015h10v10h-10zM595 1015h20v10h-20zM695 1015h10v10h-10zM805 1015h10v10h-10zM945 1015h10v10h-10zM985 1015h10v10h-10zM1185 1015h20v10h-20zM435 1025h20v10h-20zM555 1025h20v10h-20zM605 1025h10v10h-10zM635 1025h10v10h-10zM945 1025h10v10h-10zM975 1025h10v10h-10zM1305 1025h10v10h-10zM175 1035h10v10h-10zM435 1035h10v10h-10zM615 1035h10v10h-10zM935 1035h10v10h-10zM1215 1035h10v10h-10zM175 1045h20v10h-20zM425 1045h20v10h-20zM705 1045h10v10h-10zM845 1045h10v10h-10zM955 1045h10v10h-10zM1225 1045h10v10h-10zM675 1055h10v10h-10zM695 1055h10v10h-10zM975 1055h10v10h-10zM1095 1055h10v10h-10zM1285 1055h10v10h-10zM325 1065h10v10h-10zM515 1065h10v10h-10zM625 1065h10v10h-10zM685 1065h10v10h-10zM705 1065h10v10h-10zM985 1065h10v10h-10zM1175 1065h10v10h-10zM1275 1065h10v10h-10zM305 1075h10v10h-10zM505 1075h10v10h-10zM525 1075h10v10h-10zM885 1075h10v10h-10zM985 1075h10v10h-10zM1125 1075h20v10h-20zM1275 1075h10v10h-10zM955 1085h10v10h-10zM1205 1085h10v10h-10zM1145 1095h10v10h-10zM1265 1095h10v10h-10zM315 1105h10v10h-10zM1325 1105h10v10h-10zM1345 1105h10v10h-10zM385 1115h10v10h-10zM775 1115h10v10h-10zM805 1115h10v10h-10zM895 1115h10v10h-10zM1115 1115h10v10h-10zM1335 1115h10v10h-10zM195 1125h10v10h-10zM315 1125h20v10h-20zM435 1125h10v10h-10zM475 1125h10v10h-10zM435 1135h10v10h-10zM905 1135h10v10h-10zM1215 1135h10v10h-10zM205 1145h10v10h-10zM305 1145h20v10h-20zM335 1145h10v10h-10zM905 1145h10v10h-10zM945 1145h20v10h-20zM1125 1145h10v10h-10zM1205 1145h10v10h-10zM245 1155h10v10h-10zM445 1155h10v10h-10zM565 1155h20v10h-20zM1105 1155h10v10h-10zM735 1165h10v10h-10zM855 1165h10v10h-10zM955 1165h10v10h-10zM1025 1165h10v10h-10zM685 1175h10v10h-10zM865 1175h10v10h-10zM1135 1175h10v10h-10zM225 1185h10v10h-10zM695 1185h10v10h-10zM725 1185h10v10h-10zM825 1185h10v10h-10zM845 1185h10v10h-10zM955 1185h10v10h-10zM1035 1185h10v10h-10zM895 1195h10v10h-10zM1145 1195h10v10h-10zM385 1205h10v10h-10zM415 1205h10v10h-10zM745 1205h10v10h-10zM885 1205h10v10h-10zM1155 1205h10v10h-10zM775 1215h10v10h-10zM1295 1215h10v10h-10zM705 1225h10v10h-10zM975 1225h10v10h-10zM445 1235h10v10h-10zM1345 1235h10v10h-10zM225 1245h10v10h-10zM295 1245h10v10h-10zM365 1245h10v10h-10zM885 1245h10v10h-10zM1005 1245h10v10h-10zM1315 1245h10v10h-10zM205 1255h10v10h-10zM535 1255h10v10h-10zM1125 1255h10v10h-10zM165 1265h10v10h-10zM405 1265h10v10h-10zM1055 1265h10v10h-10zM625 1275h20v10h-20zM655 1275h10v10h-10zM755 1275h10v10h-10zM775 1275h10v10h-10zM1085 1275h10v10h-10zM1175 1275h10v10h-10zM625 1285h10v10h-10zM715 1285h10v10h-10zM845 1285h10v10h-10zM995 1285h20v10h-20zM1155 1285h10v10h-10zM1175 1285h10v10h-10zM225 1295h10v10h-10zM285 1295h10v10h-10zM515 1295h10v10h-10zM625 1295h10v10h-10zM915 1295h10v10h-10zM985 1295h10v10h-10zM1075 1295h10v10h-10zM315 1305h10v10h-10zM565 1305h10v10h-10zM1145 1305h10v10h-10z"/>
<path fill="#003cff" d="M1245 115h10v10h-10zM485 125h10v10h-10zM675 125h10v10h-10zM825 125h10v10h-10zM495 135h10v10h-10zM545 135h10v10h-10zM1035 135h10v10h-10zM845 145h20v10h-20zM845 155h10v10h-10zM855 165h10v10h-10zM875 165h10v10h-10zM1325 165h10v10h-10zM855 175h10v10h-10zM1205 175h10v10h-10zM475 195h10v10h-10zM545 195h10v10h-10zM695 195h10v10h-10zM765 195h10v10h-10zM545 205h10v10h-10zM885 205h10v10h-10zM835 215h10v10h-10zM1255 215h10v10h-10zM1275 215h10v10h-10zM255 225h10v10h-10zM585 225h10v10h-10zM765 225h10v10h-10zM885 225h10v10h-10zM1265 225h10v10h-10zM285 235h10v10h-10zM755 235h10v10h-10zM1055 235h20v10h-20zM1315 235h10v10h-10zM165 245h10v10h-10zM215 245h10v10h-10zM745 245h10v10h-10zM785 245h10v10h-10zM875 255h10v10h-10zM1305 255h10v10h-10zM1325 255h10v10h-10zM325 265h10v10h-10zM1135 265h10v10h-10zM175 275h10v10h-10zM305 285h10v10h-10zM605 285h10v10h-10zM785 305h20v10h-20zM1035 305h10v10h-10zM625 315h10v10h-10zM735 315h10v10h-10zM815 315h10v10h-10zM625 325h30v10h-30zM835 325h10v10h-10zM415 335h10v10h-10zM445 335h10v10h-10zM645 335h10v10h-10zM825 335h20v10h-20zM1315 345h10v10h-10zM875 355h10v10h-10zM1325 355h10v10h-10zM255 365h10v10h-10zM995 365h30v10h-30zM245 375h10v10h-10zM505 375h10v10h-10zM945 375h10v10h-10zM1005 375h10v10h-10zM1285 375h10v10h-10zM255 385h10v10h-10zM335 385h10v10h-10zM645 385h10v10h-10zM1035 385h10v10h-10zM615 395h10v10h-10zM1025 395h20v10h-20zM585 405h20v10h-20zM635 405h10v10h-10zM855 405h10v10h-10zM935 405h10v10h-10zM1005 405h10v10h-10zM295 415h10v10h-10zM585 415h10v10h-10zM1005 415h10v10h-10zM1115 415h10v10h-10zM175 425h10v10h-10zM1035 425h10v10h-10zM1125 425h10v10h-10zM855 435h10v10h-10zM1115 435h10v10h-10zM715 445h10v10h-10zM825 445h10v10h-10zM1035 445h10v10h-10zM675 455h10v10h-10zM695 455h10v10h-10zM1285 465h10v10h-10zM335 475h10v10h-10zM775 485h10v10h-10zM1165 495h10v10h-10zM1235 495h10v10h-10zM195 505h10v10h-10zM865 505h20v10h-20zM1085 505h10v10h-10zM915 515h10v10h-10zM1085 515h10v10h-10zM245 525h10v10h-10zM1035 525h10v10h-10zM235 535h10v10h-10zM635 535h10v10h-10zM835 535h10v10h-10zM905 535h10v10h-10zM1305 535h10v10h-10zM895 545h10v10h-10zM915 545h10v10h-10zM1265 545h10v10h-10zM1315 545h10v10h-10zM345 555h10v10h-10zM925 555h10v10h-10zM1275 555h10v10h-10zM1295 555h20v10h-20zM515 575h10v10h-10zM535 575h20v10h-20zM1115 575h10v10h-10zM1155 575h10v10h-10zM1045 585h20v10h-20zM1075 585h10v10h-10zM1115 585h10v10h-10zM705 605h10v10h-10zM305 615h10v10h-10zM395 615h10v10h-10zM685 615h10v10h-10zM705 615h10v10h-10zM1315 615h10v10h-10zM345 625h10v10h-10zM575 625h10v10h-10zM695 625h10v10h-10zM715 625h10v10h-10zM395 635h10v10h-10zM805 635h10v10h-10zM1315 635h10v10h-10zM835 645h10v10h-10zM895 655h10v10h-10zM285 665h10v10h-10zM425 665h10v10h-10zM445 665h10v10h-10zM825 665h20v10h-20zM925 665h10v10h-10zM1215 665h10v10h-10zM315 675h10v10h-10zM835 675h10v10h-10zM895 675h10v10h-10zM1075 685h10v10h-10zM845 705h10v10h-10zM1145 705h10v10h-10zM195 715h10v10h-10zM245 715h20v10h-20zM295 715h20v10h-20zM335 715h10v10h-10zM675 715h10v10h-10zM845 715h10v10h-10zM945 715h10v10h-10zM1165 715h10v10h-10zM1205 715h20v10h-20zM255 725h10v10h-10zM845 725h10v10h-10zM865 725h20v10h-20zM955 725h10v10h-10zM1185 725h10v10h-10zM1215 725h20v10h-20zM1245 725h10v10h-10zM205 735h10v10h-10zM1105 745h10v10h-10zM1015 755h10v10h-10zM885 765h10v10h-10zM775 775h10v10h-10zM1325 775h10v10h-10zM385 785h10v10h-10zM1165 795h10v10h-10zM1215 795h10v10h-10zM185 805h10v10h-10zM745 805h10v10h-10zM1095 805h10v10h-10zM585 815h10v10h-10zM1355 825h10v10h-10zM175 845h10v10h-10zM505 845h10v10h-10zM675 845h10v10h-10zM985 845h20v10h-20zM315 855h10v10h-10zM335 855h10v10h-10zM505 855h10v10h-10zM1225 855h10v10h-10zM1345 855h10v10h-10zM1085 865h10v10h-10zM1215 865h10v10h-10zM185 875h10v10h-10zM825 875h10v10h-10zM845 875h30v10h-30zM955 875h10v10h-10zM1225 875h10v10h-10zM355 885h10v10h-10zM845 885h20v10h-20zM1235 885h10v10h-10zM275 895h10v10h-10zM385 895h10v10h-10zM315 905h10v10h-10zM275 915h10v10h-10zM845 925h10v10h-10zM755 935h10v10h-10zM605 945h20v10h-20zM205 955h10v10h-10zM315 955h10v10h-10zM775 955h10v10h-10zM485 975h10v10h-10zM795 975h10v10h-10zM665 985h10v10h-10zM685 985h10v10h-10zM975 985h10v10h-10zM395 1005h10v10h-10zM815 1005h10v10h-10zM985 1005h10v10h-10zM1185 1005h10v10h-10zM375 1015h10v10h-10zM655 1015h10v10h-10zM1185 1025h10v10h-10zM505 1035h20v10h-20zM505 1045h10v10h-10zM935 1045h10v10h-10zM165 1055h30v10h-30zM855 1055h10v10h-10zM175 1065h10v10h-10zM695 1065h10v10h-10zM1135 1065h10v10h-10zM295 1075h10v10h-10zM315 1075h10v10h-10zM915 1075h10v10h-10zM935 1075h10v10h-10zM1215 1075h10v10h-10zM695 1085h10v10h-10zM325 1095h10v10h-10zM1105 1095h10v10h-10zM335 1105h10v10h-10zM305 1115h10v10h-10zM415 1115h10v10h-10zM305 1125h10v10h-10zM1105 1125h10v10h-10zM185 1135h20v10h-20zM1205 1135h10v10h-10zM195 1145h10v10h-10zM215 1145h10v10h-10zM795 1145h10v10h-10zM1105 1145h20v10h-20zM265 1155h10v10h-10zM555 1155h10v10h-10zM595 1155h10v10h-10zM1035 1155h10v10h-10zM865 1165h10v10h-10zM485 1175h10v10h-10zM745 1175h10v10h-10zM855 1175h10v10h-10zM945 1175h10v10h-10zM1005 1175h10v10h-10zM235 1185h10v10h-10zM905 1185h10v10h-10zM895 1205h10v10h-10zM1275 1205h20v10h-20zM345 1215h10v10h-10zM705 1215h10v10h-10zM785 1225h10v10h-10zM305 1235h10v10h-10zM375 1255h10v10h-10zM415 1255h10v10h-10zM1335 1255h10v10h-10zM215 1265h10v10h-10zM1065 1265h10v10h-10zM665 1275h10v10h-10zM895 1275h10v10h-10zM1165 1275h10v10h-10zM1025 1285h20v10h-20zM1075 1285h10v10h-10zM305 1295h10v10h-10zM505 1295h10v10h-10zM655 1295h10v10h-10zM1175 1295h10v10h-10zM905 1305h10v10h-10zM1005 1305h10v10h-10zM1025 1305h10v10h-10z"/>
<path fill="#0090ff" d="M185 125h10v10h-10zM325 185h10v10h-10zM355 215h10v10h-10zM955 335h10v10h-10zM485 395h10v10h-10zM775 405h10v10h-10zM625 415h10v10h-10zM625 425h10v10h-10zM625 435h10v10h-10zM405 445h10v10h-10zM465 555h10v10h-10zM995 555h10v10h-10zM1355 595h10v10h-10zM645 605h10v10h-10zM1005 615h10v10h-10zM1155 675h10v10h-10zM675 685h10v10h-10zM475 755h10v10h-10zM545 765h10v10h-10zM335 795h10v10h-10zM635 815h10v10h-10zM515 925h10v10h-10zM1125 1025h10v10h-10zM455 1075h10v10h-10zM1285 1245h10v10h-10zM725 1255h10v10h-10zM815 1255h10v10h-10zM715 1265h20v10h-20zM815 1265h10v10h-10zM435 1305h10v10h-10z"/>
<path fill="#0036ff" d="M495 125h10v10h-10zM1345 145h10v10h-10zM485 185h10v10h-10zM695 185h20v10h-20zM465 195h10v10h-10zM485 195h10v10h-10zM1335 195h10v10h-10zM705 205h10v10h-10zM1035 215h10v10h-10zM1055 225h10v10h-10zM1225 225h10v10h-10zM1245 225h10v10h-10zM1235 235h10v10h-10zM1325 235h10v10h-10zM1315 245h10v10h-10zM355 255h10v10h-10zM855 275h10v10h-10zM1145 275h10v10h-10zM775 305h10v10h-10zM635 315h10v10h-10zM825 325h10v10h-10zM1305 345h10v10h-10zM1315 365h10v10h-10zM235 375h10v10h-10zM335 375h10v10h-10zM1015 375h10v10h-10zM1305 375h20v10h-20zM605 385h10v10h-10zM1025 385h10v10h-10zM605 395h10v10h-10zM935 415h10v10h-10zM695 445h10v10h-10zM705 455h10v10h-10zM1215 465h10v10h-10zM1225 485h10v10h-10zM215 495h10v10h-10zM1215 495h10v10h-10zM975 515h10v10h-10zM1095 515h10v10h-10zM905 525h10v10h-10zM925 545h10v10h-10zM1325 545h10v10h-10zM185 555h10v10h-10zM905 555h10v10h-10zM1325 555h10v10h-10zM735 575h10v10h-10zM985 605h10v10h-10zM1215 605h10v10h-10zM325 625h20v10h-20zM275 635h10v10h-10zM395 645h10v10h-10zM205 665h10v10h-10zM435 665h10v10h-10zM895 665h10v10h-10zM435 675h10v10h-10zM1215 675h10v10h-10zM635 685h10v10h-10zM1085 685h10v10h-10zM375 695h10v10h-10zM1085 695h10v10h-10zM215 715h10v10h-10zM575 715h10v10h-10zM195 725h10v10h-10zM675 725h10v10h-10zM905 725h30v10h-30zM995 725h10v10h-10zM1015 725h10v10h-10zM1105 725h10v10h-10zM1305 725h10v10h-10zM1125 735h10v10h-10zM665 745h10v10h-10zM1325 765h10v10h-10zM375 815h10v10h-10zM1305 825h10v10h-10zM985 835h10v10h-10zM315 845h10v10h-10zM515 845h10v10h-10zM825 855h10v10h-10zM995 855h10v10h-10zM935 875h10v10h-10zM235 885h10v10h-10zM185 895h10v10h-10zM1235 895h10v10h-10zM265 905h10v10h-10zM325 905h10v10h-10zM375 905h10v10h-10zM845 915h10v10h-10zM605 925h10v10h-10zM615 935h10v10h-10zM765 945h10v10h-10zM765 955h10v10h-10zM975 975h10v10h-10zM665 995h10v10h-10zM685 995h10v10h-10zM975 995h10v10h-10zM745 1005h10v10h-10zM1175 1015h10v10h-10zM1305 1015h10v10h-10zM615 1025h10v10h-10zM165 1045h10v10h-10zM1235 1065h10v10h-10zM1295 1065h10v10h-10zM325 1075h10v10h-10zM345 1075h10v10h-10zM515 1075h10v10h-10zM405 1115h10v10h-10zM1115 1135h10v10h-10zM225 1145h10v10h-10zM435 1145h10v10h-10zM255 1155h10v10h-10zM405 1185h10v10h-10zM715 1185h10v10h-10zM945 1185h10v10h-10zM715 1195h10v10h-10zM1115 1195h10v10h-10zM1135 1195h10v10h-10zM1135 1205h10v10h-10zM785 1215h10v10h-10zM345 1225h10v10h-10zM245 1245h10v10h-10zM1055 1275h30v10h-30zM655 1285h10v10h-10zM1165 1285h10v10h-10zM905 1295h10v10h-10zM1005 1295h10v10h-10zM1085 1295h10v10h-10zM325 1305h10v10h-10zM545 1305h20v10h-20zM995 1305h10v10h-10z"/>
<path fill="#0030ff" d="M445 155h10v10h-10zM845 165h10v10h-10zM1355 215h10v10h-10zM245 235h10v10h-10zM805 315h10v10h-10zM1035 315h10v10h-10zM425 345h10v10h-10zM935 355h10v10h-10zM1295 355h20v10h-20zM1305 365h10v10h-10zM1295 375h10v10h-10zM605 405h10v10h-10zM1015 435h20v10h-20zM905 545h10v10h-10zM1115 555h10v10h-10zM1315 555h10v10h-10zM665 625h10v10h-10zM1315 625h10v10h-10zM905 665h10v10h-10zM305 675h10v10h-10zM375 685h10v10h-10zM515 705h10v10h-10zM855 705h10v10h-10zM315 715h10v10h-10zM365 715h10v10h-10zM985 725h10v10h-10zM1205 725h10v10h-10zM1255 725h10v10h-10zM1355 725h10v10h-10zM675 745h10v10h-10zM995 835h10v10h-10zM495 855h10v10h-10zM685 865h10v10h-10zM255 895h10v10h-10zM945 1045h10v10h-10zM1285 1065h10v10h-10zM1265 1075h10v10h-10zM335 1085h10v10h-10zM1265 1085h10v10h-10zM1105 1105h10v10h-10zM1105 1115h10v10h-10zM375 1125h10v10h-10zM695 1175h10v10h-10zM1125 1175h10v10h-10zM885 1195h10v10h-10zM1125 1195h10v10h-10zM245 1255h10v10h-10zM885 1255h10v10h-10zM1085 1285h20v10h-20zM295 1295h10v10h-10zM665 1295h10v10h-10zM1015 1295h10v10h-10zM305 1305h10v10h-10zM915 1305h10v10h-10z"/>
<path fill="#002aff" d="M765 185h10v10h-10zM255 375h10v10h-10zM645 395h10v10h-10zM1015 425h20v10h-20zM705 445h10v10h-10zM1225 495h10v10h-10zM1175 545h10v10h-10zM525 575h10v10h-10zM345 615h10v10h-10zM585 715h10v10h-10zM1195 715h10v10h-10zM945 725h10v10h-10zM1125 725h10v10h-10zM1195 725h10v10h-10zM1285 725h20v10h-20zM815 855h10v10h-10zM605 935h10v10h-10zM785 1105h10v10h-10zM585 1155h10v10h-10zM1025 1295h10v10h-10zM1015 1305h10v10h-10z"/>
<path fill="#0024ff" d="M1235 225h10v10h-10zM805 325h20v10h-20zM905 655h10v10h-10zM1115 725h10v10h-10zM475 895h10v10h-10zM675 995h10v10h-10zM1275 1085h10v10h-10zM1125 1185h20v10h-20z"/>
<path fill="#001eff" d="M1035 435h10v10h-10zM785 765h10v10h-10z"/>
<path fill="#0064ff" d="M685 595h10v10h-10zM745 595h10v10h-10zM795 595h10v10h-10zM825 595h20v10h-20zM745 605h10v10h-10zM795 605h10v10h-10zM825 605h10v10h-10zM745 615h10v10h-10zM745 625h10v10h-10zM695 635h10v10h-10zM795 645h10v10h-10zM685 715h10v10h-10zM835 715h10v10h-10zM685 725h10v10h-10zM835 725h10v10h-10zM685 735h10v10h-10zM835 735h10v10h-10zM685 745h10v10h-10zM835 745h10v10h-10zM685 755h10v10h-10zM785 755h10v10h-10zM825 755h20v10h-20zM685 765h10v10h-10zM715 765h10v10h-10zM755 765h10v10h-10zM805 765h40v10h-40zM685 775h30v10h-30zM755 775h10v10h-10zM805 775h30v10h-30zM685 785h10v10h-10zM805 785h10v10h-10zM835 785h10v10h-10zM835 795h10v10h-10zM825 805h20v10h-20z"/>
<path fill="#0055ff" d="M705 595h30v10h-30zM735 605h10v10h-10zM795 625h10v10h-10zM685 635h10v10h-10zM685 665h10v10h-10zM685 675h10v10h-10zM685 685h10v10h-10zM685 695h10v10h-10zM725 785h10v10h-10zM745 785h10v10h-10zM695 795h10v10h-10zM735 795h20v10h-20zM765 805h10v10h-10z"/>
<path fill="#006eff" d="M775 595h20v10h-20zM775 605h10v10h-10zM785 615h10v10h-10zM785 625h10v10h-10zM745 635h10v10h-10zM725 655h10v10h-10zM815 655h10v10h-10zM735 685h20v10h-20zM705 695h10v10h-10zM835 705h10v10h-10zM815 755h10v10h-10zM695 765h10v10h-10z"/>
<path fill="#005fff" d="M805 595h20v10h-20zM805 605h20v10h-20zM795 615h10v10h-10zM735 635h10v10h-10zM715 775h10v10h-10zM705 785h10v10h-10zM815 785h10v10h-10zM685 795h10v10h-10z"/>
<path fill="#0046ff" d="M695 605h10v10h-10zM715 605h10v10h-10zM815 615h10v10h-10zM715 635h10v10h-10zM695 645h10v10h-10zM695 655h10v10h-10zM715 655h10v10h-10zM695 665h10v10h-10zM825 675h10v10h-10zM695 685h10v10h-10zM725 795h10v10h-10zM785 795h10v10h-10zM715 805h20v10h-20z"/>
<path fill="#0041ff" d="M725 605h10v10h-10zM705 625h10v10h-10zM705 635h10v10h-10zM835 635h10v10h-10zM835 655h10v10h-10zM705 665h10v10h-10zM705 675h10v10h-10zM785 785h10v10h-10z"/>
<path fill="#007dff" d="M755 605h20v10h-20zM775 625h10v10h-10z"/>
<path fill="#0069ff" d="M785 605h10v10h-10z"/>
<path fill="#0037ff" d="M695 615h10v10h-10zM715 615h10v10h-10zM725 625h10v10h-10zM815 625h10v10h-10zM715 645h10v10h-10zM735 675h20v10h-20z"/>
<path fill="#0032ff" d="M725 615h10v10h-10zM705 645h10v10h-10zM785 775h10v10h-10z"/>
<path fill="#0050ff" d="M735 615h10v10h-10zM685 625h10v10h-10zM805 625h10v10h-10zM825 625h10v10h-10zM685 645h10v10h-10zM725 645h10v10h-10zM825 645h10v10h-10zM685 655h10v10h-10zM825 655h10v10h-10zM765 765h10v10h-10zM795 765h10v10h-10zM765 775h10v10h-10zM705 795h10v10h-10zM765 795h10v10h-10zM795 795h10v10h-10zM695 805h10v10h-10zM785 805h10v10h-10z"/>
<path fill="#0082ff" d="M755 615h20v10h-20zM755 625h20v10h-20zM765 635h20v10h-20zM765 645h20v10h-20zM735 665h20v10h-20zM795 665h20v10h-20zM715 675h10v10h-10zM695 755h10v10h-10z"/>
<path fill="#004bff" d="M805 615h10v10h-10zM725 635h10v10h-10zM815 635h10v10h-10zM695 675h10v10h-10zM835 685h10v10h-10zM765 785h20v10h-20zM715 795h10v10h-10zM775 795h10v10h-10zM705 805h10v10h-10zM735 805h10v10h-10zM775 805h10v10h-10z"/>
<path fill="#0087ff" d="M755 635h10v10h-10z"/>
<path fill="#0073ff" d="M785 635h10v10h-10z"/>
<path fill="#008cff" d="M755 645h10v10h-10zM735 655h20v10h-20zM795 655h10v10h-10zM725 675h10v10h-10zM715 685h10v10h-10zM815 685h10v10h-10zM825 705h10v10h-10zM815 745h10v10h-10z"/>
<path fill="#002dff" d="M705 655h10v10h-10zM705 685h10v10h-10z"/>
<path fill="#00afff" d="M755 655h20v10h-20z"/>
<path fill="#00c3ff" d="M755 665h10v10h-10z"/>
<path fill="#00d2ff" d="M765 665h10v10h-10zM775 675h10v10h-10zM735 755h10v10h-10z"/>
<path fill="#00beff" d="M775 665h20v10h-20zM825 715h10v10h-10z"/>
<path fill="#00c8ff" d="M755 675h10v10h-10zM785 675h20v10h-20z"/>
<path fill="#00dcff" d="M765 675h10v10h-10zM725 685h10v10h-10z"/>
<path fill="#00aaff" d="M805 675h10v10h-10zM695 705h10v10h-10zM695 725h10v10h-10zM695 735h10v10h-10zM775 745h10v10h-10zM705 755h10v10h-10z"/>
<path fill="#3affbd" d="M755 685h20v10h-20zM705 705h10v10h-10zM745 735h10v10h-10z"/>
<path fill="#19ffde" d="M775 685h30v10h-30zM815 695h10v10h-10zM815 705h10v10h-10zM705 715h10v10h-10zM815 715h10v10h-10zM755 735h50v10h-50z"/>
<path fill="#00e6ff" d="M805 685h10v10h-10zM715 755h10v10h-10z"/>
<path fill="#10fae6" d="M715 695h10v10h-10zM735 695h10v10h-10zM705 725h10v10h-10zM815 725h10v10h-10zM805 735h10v10h-10zM745 745h10v10h-10z"/>
<path fill="#21ffd6" d="M725 695h10v10h-10z"/>
<path fill="#63ff94" d="M745 695h10v10h-10z"/>
<path fill="#ffb300" d="M755 695h10v10h-10zM795 715h10v10h-10z"/>
<path fill="#ff8e00" d="M765 695h10v10h-10zM775 715h20v10h-20z"/>
<path fill="#e6ff10" d="M775 695h10v10h-10z"/>
<path fill="#bdff3a" d="M785 695h20v10h-20z"/>
<path fill="#7bff7b" d="M805 695h10v10h-10zM805 725h10v10h-10zM715 735h10v10h-10z"/>
<path fill="#6bff8c" d="M715 705h10v10h-10zM725 745h10v10h-10z"/>
<path fill="#deff19" d="M725 705h10v10h-10zM805 705h10v10h-10zM785 725h10v10h-10z"/>
<path fill="#ceff29" d="M735 705h10v10h-10zM805 715h10v10h-10z"/>
<path fill="#efff08" d="M745 705h10v10h-10zM725 725h60v10h-60z"/>
<path fill="#f30900" d="M755 705h10v10h-10z"/>
<path fill="#dc0000" d="M765 705h10v10h-10z"/>
<path fill="#ff6800" d="M775 705h10v10h-10z"/>
<path fill="#ff9700" d="M785 705h10v10h-10z"/>
<path fill="#ffa100" d="M795 705h10v10h-10z"/>
<path fill="#00b4ff" d="M695 715h10v10h-10zM825 725h10v10h-10z"/>
<path fill="#a5ff52" d="M715 715h10v10h-10zM715 725h10v10h-10zM795 725h10v10h-10zM735 735h10v10h-10z"/>
<path fill="#ffc600" d="M725 715h10v10h-10zM745 715h10v10h-10z"/>
<path fill="#f7f600" d="M735 715h10v10h-10z"/>
<path fill="#ff3900" d="M755 715h10v10h-10z"/>
<path fill="#ff2f00" d="M765 715h10v10h-10z"/>
<path fill="#08f0ef" d="M705 735h10v10h-10zM815 735h10v10h-10z"/>
<path fill="#b5ff42" d="M725 735h10v10h-10z"/>
<path fill="#00f0ff" d="M705 745h10v10h-10z"/>
<path fill="#29ffce" d="M715 745h10v10h-10z"/>
<path fill="#52ffa5" d="M735 745h10v10h-10z"/>
<path fill="#00a0ff" d="M755 745h10v10h-10zM785 745h10v10h-10z"/>
<path fill="#00faff" d="M725 755h10v10h-10z"/>
<path fill="#0028ff" d="M775 765h10v10h-10z"/>
<rect x="394" y="115" width="1" height="1200" fill="#000040"/><rect x="694" y="115" width="1" height="1200" fill="#000040"/><rect x="994" y="115" width="1" height="1200" fill="#000040"/><rect x="1294" y="115" width="1" height="1200" fill="#000040"/><rect x="165" y="210" width="1200" height="1" fill="#000040"/><rect x="165" y="510" width="1200" height="1" fill="#000040"/><rect x="165" y="810" width="1200" height="1" fill="#000040"/><rect x="165" y="1110" width="1200" height="1" fill="#000040"/>
</g>
<rect x="164.5" y="115.5" width="1201" height="1200" fill="none" stroke="#0004ee" stroke-width="3"/>
<rect x="163.5" y="114.5" width="1203" height="1202" fill="none" stroke="#0000b4" stroke-width="1"/>
<rect x="153.5" y="1430.5" width="1227" height="31" fill="url(#jet)" stroke="#000" stroke-width="1"/>
<rect x="153" y="1461" width="1" height="4" fill="#000"/><rect x="460" y="1461" width="1" height="4" fill="#000"/><rect x="767" y="1461" width="1" height="4" fill="#000"/><rect x="1074" y="1461" width="1" height="4" fill="#000"/>
<rect x="766" y="0" width="3" height="1425" fill="#5ccb58" fill-opacity="0.22"/>
<rect x="0" y="712" width="1536" height="3" fill="#5ccb58" fill-opacity="0.22"/>
<rect x="767" y="0" width="1" height="1425" fill="#5cc858"/>
<rect x="0" y="713" width="1536" height="1" fill="#5cc858"/>
<g shape-rendering="geometricPrecision" text-rendering="geometricPrecision">
<text font-size="45.21" fill="#0000e6" transform="translate(629.28 103.89) scale(0.572 1.257)">J</text>
<text font-size="45.21" fill="#0000e6" transform="translate(645.53 96.06) scale(0.995 1.008)">0</text>
<text font-size="45.21" fill="#0000e6" transform="translate(673.04 95.90) scale(0.950 1.000)">1</text>
<text font-size="45.21" fill="#0000e6" transform="translate(700.36 96.06) scale(0.939 1.005)">5</text>
<text font-size="45.21" fill="#0000e6" transform="translate(726.98 96.06) scale(0.995 1.008)">0</text>
<text font-size="45.21" fill="#0000e6" transform="translate(754.90 100.71) scale(1.216 1.209)">+</text>
<text font-size="45.21" fill="#0000e6" transform="translate(789.88 96.06) scale(0.995 1.008)">0</text>
<text font-size="45.21" fill="#0000e6" transform="translate(816.91 95.90) scale(0.959 1.003)">2</text>
<text font-size="45.21" fill="#0000e6" transform="translate(844.06 95.90) scale(0.959 1.003)">2</text>
<text font-size="45.21" fill="#0000e6" transform="translate(871.32 95.90) scale(0.995 1.000)">4</text>
<text font-size="28.26" fill="#000" transform="translate(381.70 1352.00) scale(0.950 1.000)">1</text>
<text font-size="28.26" fill="#000" transform="translate(398.00 1352.00) scale(1.021 1.095)">.</text>
<text font-size="28.26" fill="#000" transform="translate(406.92 1352.10) scale(0.995 1.008)">0</text>
<text font-size="28.26" fill="#000" transform="translate(681.24 1352.10) scale(0.995 1.008)">0</text>
<text font-size="28.26" fill="#000" transform="translate(697.76 1352.00) scale(1.021 1.095)">.</text>
<text font-size="28.26" fill="#000" transform="translate(707.02 1352.10) scale(0.939 1.005)">5</text>
<text font-size="28.26" fill="#000" transform="translate(981.01 1352.10) scale(0.995 1.008)">0</text>
<text font-size="28.26" fill="#000" transform="translate(997.53 1352.00) scale(1.021 1.095)">.</text>
<text font-size="28.26" fill="#000" transform="translate(1006.46 1352.10) scale(0.995 1.008)">0</text>
<text font-size="28.26" fill="#000" transform="translate(1272.02 1351.96) scale(1.017 0.967)">-</text>
<text font-size="28.26" fill="#000" transform="translate(1282.28 1352.10) scale(0.995 1.008)">0</text>
<text font-size="28.26" fill="#000" transform="translate(1298.80 1352.00) scale(1.021 1.095)">.</text>
<text font-size="28.26" fill="#000" transform="translate(1308.06 1352.10) scale(0.939 1.005)">5</text>
<text font-size="33.91" fill="#000" transform="translate(302.18 1384.70) scale(0.903 1.000)">R</text>
<text font-size="33.91" fill="#000" transform="translate(324.61 1384.70) scale(0.965 0.990)">i</text>
<text font-size="33.91" fill="#000" transform="translate(332.98 1384.50) scale(1.026 0.974)">g</text>
<text font-size="33.91" fill="#000" transform="translate(353.48 1384.70) scale(1.025 0.990)">h</text>
<text font-size="33.91" fill="#000" transform="translate(373.48 1384.43) scale(1.261 1.013)">t</text>
<text font-size="33.91" fill="#000" transform="translate(396.69 1384.83) scale(0.849 0.989)">a</text>
<text font-size="33.91" fill="#000" transform="translate(416.48 1384.82) scale(0.905 0.992)">s</text>
<text font-size="33.91" fill="#000" transform="translate(432.67 1384.83) scale(0.947 0.989)">c</text>
<text font-size="33.91" fill="#000" transform="translate(450.16 1384.83) scale(1.019 0.989)">e</text>
<text font-size="33.91" fill="#000" transform="translate(470.17 1384.70) scale(1.018 0.982)">n</text>
<text font-size="33.91" fill="#000" transform="translate(490.71 1384.82) scale(0.905 0.992)">s</text>
<text font-size="33.91" fill="#000" transform="translate(507.33 1384.70) scale(0.965 0.990)">i</text>
<text font-size="33.91" fill="#000" transform="translate(515.73 1384.83) scale(1.003 0.989)">o</text>
<text font-size="33.91" fill="#000" transform="translate(535.59 1384.70) scale(1.018 0.982)">n</text>
<text font-size="33.91" fill="#000" transform="translate(576.39 1384.82) scale(0.995 1.008)">0</text>
<text font-size="33.91" fill="#000" transform="translate(597.02 1384.70) scale(0.950 1.000)">1</text>
<text font-size="33.91" fill="#000" transform="translate(616.90 1384.70) scale(1.021 0.924)">:</text>
<text font-size="33.91" fill="#000" transform="translate(628.29 1384.82) scale(0.939 1.005)">5</text>
<text font-size="33.91" fill="#000" transform="translate(648.25 1384.82) scale(0.995 1.008)">0</text>
<text font-size="33.91" fill="#000" transform="translate(668.40 1384.70) scale(1.021 0.924)">:</text>
<text font-size="33.91" fill="#000" transform="translate(679.39 1384.70) scale(0.995 1.000)">4</text>
<text font-size="33.91" fill="#000" transform="translate(700.16 1384.82) scale(0.955 1.008)">3</text>
<text font-size="33.91" fill="#000" transform="translate(719.58 1384.70) scale(1.021 1.095)">.</text>
<text font-size="33.91" fill="#000" transform="translate(730.69 1384.82) scale(0.955 1.008)">3</text>
<text font-size="33.91" fill="#000" transform="translate(750.64 1384.70) scale(0.995 1.000)">4</text>
<text font-size="33.91" fill="#000" transform="translate(771.41 1384.82) scale(0.955 1.008)">3</text>
<text font-size="33.91" fill="#000" transform="translate(791.26 1384.82) scale(1.006 1.008)">8</text>
<text font-size="33.91" fill="#000" transform="translate(811.71 1384.70) scale(0.995 1.000)">4</text>
<text font-size="33.91" fill="#000" transform="translate(832.22 1384.70) scale(0.973 1.000)">7</text>
<text font-size="33.91" fill="#000" transform="translate(1090.84 1382.79) scale(0.798 0.902)">(</text>
<text font-size="33.91" fill="#000" transform="translate(1102.95 1385.03) scale(0.849 0.989)">a</text>
<text font-size="33.91" fill="#000" transform="translate(1122.04 1384.90) scale(1.209 0.982)">r</text>
<text font-size="33.91" fill="#000" transform="translate(1135.42 1385.03) scale(0.947 0.989)">c</text>
<text font-size="33.91" fill="#000" transform="translate(1153.09 1384.90) scale(1.075 0.982)">m</text>
<text font-size="33.91" fill="#000" transform="translate(1184.61 1384.90) scale(0.965 0.990)">i</text>
<text font-size="33.91" fill="#000" transform="translate(1193.29 1384.90) scale(1.018 0.982)">n</text>
<text font-size="33.91" fill="#000" transform="translate(1215.36 1382.79) scale(0.798 0.902)">)</text>
<text font-size="28.26" fill="#000" transform="translate(152.84 1495.46) scale(1.017 0.967)">-</text>
<text font-size="28.26" fill="#000" transform="translate(163.10 1495.60) scale(0.995 1.008)">0</text>
<text font-size="28.26" fill="#000" transform="translate(179.63 1495.50) scale(1.021 1.095)">.</text>
<text font-size="28.26" fill="#000" transform="translate(188.55 1495.60) scale(0.995 1.008)">0</text>
<text font-size="28.26" fill="#000" transform="translate(205.51 1495.60) scale(0.995 1.008)">0</text>
<text font-size="28.26" fill="#000" transform="translate(222.48 1495.60) scale(0.995 1.008)">0</text>
<text font-size="28.26" fill="#000" transform="translate(239.57 1495.50) scale(0.973 1.000)">7</text>
<text font-size="28.26" fill="#000" transform="translate(413.55 1495.70) scale(0.995 1.008)">0</text>
<text font-size="28.26" fill="#000" transform="translate(430.08 1495.60) scale(1.021 1.095)">.</text>
<text font-size="28.26" fill="#000" transform="translate(439.00 1495.70) scale(0.995 1.008)">0</text>
<text font-size="28.26" fill="#000" transform="translate(455.97 1495.70) scale(0.995 1.008)">0</text>
<text font-size="28.26" fill="#000" transform="translate(473.16 1495.60) scale(0.950 1.000)">1</text>
<text font-size="28.26" fill="#000" transform="translate(490.13 1495.60) scale(0.950 1.000)">1</text>
<text font-size="28.26" fill="#000" transform="translate(720.54 1495.70) scale(0.995 1.008)">0</text>
<text font-size="28.26" fill="#000" transform="translate(737.06 1495.60) scale(1.021 1.095)">.</text>
<text font-size="28.26" fill="#000" transform="translate(745.98 1495.70) scale(0.995 1.008)">0</text>
<text font-size="28.26" fill="#000" transform="translate(762.95 1495.70) scale(0.995 1.008)">0</text>
<text font-size="28.26" fill="#000" transform="translate(779.64 1495.70) scale(1.030 1.008)">6</text>
<text font-size="28.26" fill="#000" transform="translate(797.22 1495.70) scale(0.939 1.005)">5</text>
<text font-size="28.26" fill="#000" transform="translate(1027.56 1495.70) scale(0.995 1.008)">0</text>
<text font-size="28.26" fill="#000" transform="translate(1044.09 1495.60) scale(1.021 1.095)">.</text>
<text font-size="28.26" fill="#000" transform="translate(1053.01 1495.70) scale(0.995 1.008)">0</text>
<text font-size="28.26" fill="#000" transform="translate(1070.20 1495.60) scale(0.950 1.000)">1</text>
<text font-size="28.26" fill="#000" transform="translate(1087.28 1495.70) scale(0.939 1.005)">5</text>
<text font-size="28.26" fill="#000" transform="translate(1103.64 1495.70) scale(1.030 1.008)">6</text>
<text font-size="28.26" fill="#000" transform="translate(1288.44 1495.60) scale(0.995 1.008)">0</text>
<text font-size="28.26" fill="#000" transform="translate(1304.96 1495.50) scale(1.021 1.095)">.</text>
<text font-size="28.26" fill="#000" transform="translate(1313.89 1495.60) scale(0.995 1.008)">0</text>
<text font-size="28.26" fill="#000" transform="translate(1330.78 1495.50) scale(0.959 1.003)">2</text>
<text font-size="28.26" fill="#000" transform="translate(1347.74 1495.60) scale(1.006 1.008)">8</text>
<text font-size="28.26" fill="#000" transform="translate(1365.13 1495.60) scale(0.955 1.008)">3</text>
<text font-size="28.26" fill="#000" transform="translate(144.80 222.30) rotate(-90) scale(0.950 1.000)">1</text>
<text font-size="28.26" fill="#000" transform="translate(144.80 206.00) rotate(-90) scale(1.021 1.095)">.</text>
<text font-size="28.26" fill="#000" transform="translate(144.90 197.08) rotate(-90) scale(0.995 1.008)">0</text>
<text font-size="28.26" fill="#000" transform="translate(144.90 522.26) rotate(-90) scale(0.995 1.008)">0</text>
<text font-size="28.26" fill="#000" transform="translate(144.80 505.74) rotate(-90) scale(1.021 1.095)">.</text>
<text font-size="28.26" fill="#000" transform="translate(144.90 496.48) rotate(-90) scale(0.939 1.005)">5</text>
<text font-size="28.26" fill="#000" transform="translate(144.90 822.44) rotate(-90) scale(0.995 1.008)">0</text>
<text font-size="28.26" fill="#000" transform="translate(144.80 805.92) rotate(-90) scale(1.021 1.095)">.</text>
<text font-size="28.26" fill="#000" transform="translate(144.90 796.99) rotate(-90) scale(0.995 1.008)">0</text>
<text font-size="28.26" fill="#000" transform="translate(144.86 1132.03) rotate(-90) scale(1.017 0.967)">-</text>
<text font-size="28.26" fill="#000" transform="translate(145.00 1121.77) rotate(-90) scale(0.995 1.008)">0</text>
<text font-size="28.26" fill="#000" transform="translate(144.90 1105.25) rotate(-90) scale(1.021 1.095)">.</text>
<text font-size="28.26" fill="#000" transform="translate(145.00 1095.99) rotate(-90) scale(0.939 1.005)">5</text>
<text font-size="33.91" fill="#000" transform="translate(111.79 419.91) rotate(-90) scale(0.798 0.902)">(</text>
<text font-size="33.91" fill="#000" transform="translate(114.03 407.80) rotate(-90) scale(0.849 0.989)">a</text>
<text font-size="33.91" fill="#000" transform="translate(113.90 388.71) rotate(-90) scale(1.209 0.982)">r</text>
<text font-size="33.91" fill="#000" transform="translate(114.03 375.33) rotate(-90) scale(0.947 0.989)">c</text>
<text font-size="33.91" fill="#000" transform="translate(113.90 357.66) rotate(-90) scale(1.075 0.982)">m</text>
<text font-size="33.91" fill="#000" transform="translate(113.90 326.14) rotate(-90) scale(0.965 0.990)">i</text>
<text font-size="33.91" fill="#000" transform="translate(113.90 317.46) rotate(-90) scale(1.018 0.982)">n</text>
<text font-size="33.91" fill="#000" transform="translate(111.79 295.39) rotate(-90) scale(0.798 0.902)">)</text>
<text font-size="33.91" fill="#000" transform="translate(114.10 1143.14) rotate(-90) scale(0.976 1.000)">D</text>
<text font-size="33.91" fill="#000" transform="translate(114.23 1118.62) rotate(-90) scale(1.019 0.989)">e</text>
<text font-size="33.91" fill="#000" transform="translate(114.23 1098.83) rotate(-90) scale(0.947 0.989)">c</text>
<text font-size="33.91" fill="#000" transform="translate(114.10 1080.83) rotate(-90) scale(0.965 0.990)">l</text>
<text font-size="33.91" fill="#000" transform="translate(114.10 1071.92) rotate(-90) scale(0.965 0.990)">i</text>
<text font-size="33.91" fill="#000" transform="translate(114.10 1063.24) rotate(-90) scale(1.018 0.982)">n</text>
<text font-size="33.91" fill="#000" transform="translate(114.23 1042.88) rotate(-90) scale(0.849 0.989)">a</text>
<text font-size="33.91" fill="#000" transform="translate(113.83 1023.76) rotate(-90) scale(1.261 1.013)">t</text>
<text font-size="33.91" fill="#000" transform="translate(114.10 1010.59) rotate(-90) scale(0.965 0.990)">i</text>
<text font-size="33.91" fill="#000" transform="translate(114.23 1002.19) rotate(-90) scale(1.003 0.989)">o</text>
<text font-size="33.91" fill="#000" transform="translate(114.10 982.34) rotate(-90) scale(1.018 0.982)">n</text>
<text font-size="33.91" fill="#000" transform="translate(117.70 940.95) rotate(-90) scale(1.216 1.209)">+</text>
<text font-size="33.91" fill="#000" transform="translate(114.22 914.72) rotate(-90) scale(0.995 1.008)">0</text>
<text font-size="33.91" fill="#000" transform="translate(114.10 894.45) rotate(-90) scale(0.959 1.003)">2</text>
<text font-size="33.91" fill="#000" transform="translate(114.10 874.21) rotate(-90) scale(1.021 0.924)">:</text>
<text font-size="33.91" fill="#000" transform="translate(114.10 863.31) rotate(-90) scale(0.959 1.003)">2</text>
<text font-size="33.91" fill="#000" transform="translate(114.10 842.87) rotate(-90) scale(0.995 1.000)">4</text>
<text font-size="33.91" fill="#000" transform="translate(114.10 822.71) rotate(-90) scale(1.021 0.924)">:</text>
<text font-size="33.91" fill="#000" transform="translate(114.22 811.72) rotate(-90) scale(0.995 1.008)">0</text>
<text font-size="33.91" fill="#000" transform="translate(114.22 791.77) rotate(-90) scale(1.028 1.008)">9</text>
<text font-size="33.91" fill="#000" transform="translate(114.10 771.54) rotate(-90) scale(1.021 1.095)">.</text>
<text font-size="33.91" fill="#000" transform="translate(114.22 761.16) rotate(-90) scale(1.030 1.008)">6</text>
<text font-size="33.91" fill="#000" transform="translate(114.22 740.07) rotate(-90) scale(0.939 1.005)">5</text>
<text font-size="33.91" fill="#000" transform="translate(114.22 719.71) rotate(-90) scale(0.939 1.005)">5</text>
<text font-size="33.91" fill="#000" transform="translate(114.22 699.76) rotate(-90) scale(0.995 1.008)">0</text>
<text font-size="33.91" fill="#000" transform="translate(114.22 679.81) rotate(-90) scale(1.028 1.008)">9</text>
</g>
</svg>
</body></html>
